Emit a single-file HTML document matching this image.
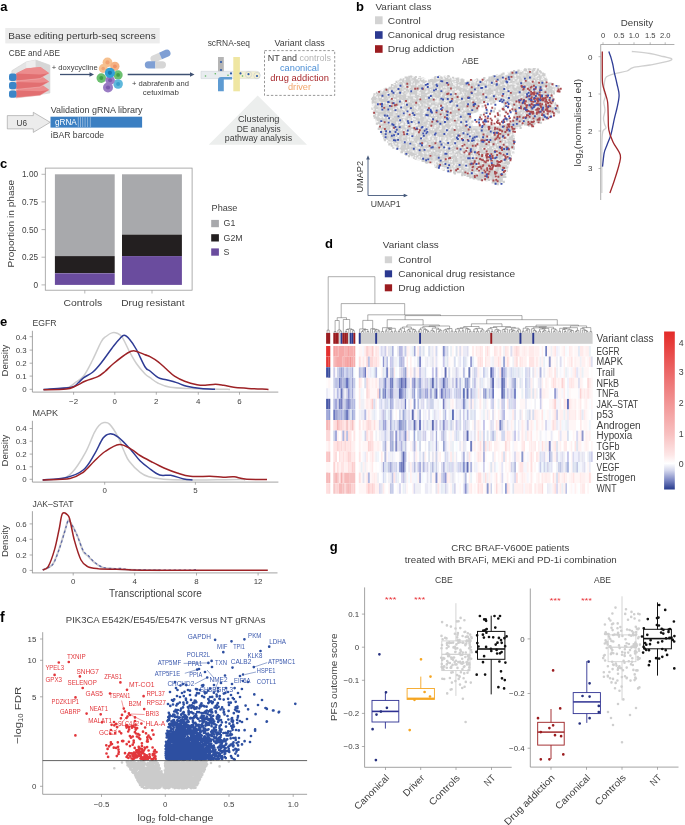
<!DOCTYPE html>
<html><head><meta charset="utf-8"><style>
html,body{margin:0;padding:0;background:#fff;width:685px;height:825px;overflow:hidden}
svg{display:block;will-change:transform}
text{font-family:"Liberation Sans",sans-serif;fill:#404040}
</style></head><body>
<svg width="685" height="825" viewBox="0 0 685 825">
<rect width="685" height="825" fill="#fff"/>
<text x="0.3" y="11" font-size="13" font-weight="bold" style="fill:#000">a</text>
<rect x="5.3" y="28" width="154.4" height="15.4" fill="#ececec"/>
<text x="8.2" y="39.2" font-size="9.8" textLength="147.5" lengthAdjust="spacingAndGlyphs" style="fill:#3a3a3a">Base editing perturb-seq screens</text>
<text x="8.8" y="55.8" font-size="8.2" textLength="51.2" lengthAdjust="spacingAndGlyphs">CBE and ABE</text>
<g>
<polygon points="11.9,70.7 26.2,61.9 35.7,60.1 49.9,65.2 49.9,93 16,98 11.9,92" fill="#e4e4e4" stroke="#cfcfcf" stroke-width="0.6"/>
<polygon points="26.2,61.9 35.7,60.1 35.7,90 26.2,92" fill="#eeeeee"/>
<polygon points="35.7,60.1 49.9,65.2 49.9,93 35.7,90" fill="#d6d6d6"/>
<polygon points="16,90.4 26,85.2 40.5,83.8 49.2,90.1 40,95.4 16,97.8" fill="#e26f71" stroke="#f3c9c9" stroke-width="0.4"/>
<polygon points="16,90.4 26,85.2 40.5,83.8 49.2,90.1 40,91.2" fill="#ec8c8d"/>
<rect x="9" y="90.4" width="7.4" height="7.3" rx="2.2" fill="#3b86c8"/>
<polygon points="16,82 26,76.8 40.5,75.4 49.2,81.7 40,87 16,89.4" fill="#e26f71" stroke="#f3c9c9" stroke-width="0.4"/>
<polygon points="16,82 26,76.8 40.5,75.4 49.2,81.7 40,82.8" fill="#ec8c8d"/>
<rect x="9" y="82" width="7.4" height="7.3" rx="2.2" fill="#3b86c8"/>
<polygon points="16,73.6 26,68.4 40.5,67 49.2,73.3 40,78.6 16,81" fill="#e26f71" stroke="#f3c9c9" stroke-width="0.4"/>
<polygon points="16,73.6 26,68.4 40.5,67 49.2,73.3 40,74.4" fill="#ec8c8d"/>
<rect x="9" y="73.6" width="7.4" height="7.3" rx="2.2" fill="#3b86c8"/>
</g>
<text x="51.8" y="70" font-size="7.6" textLength="46" lengthAdjust="spacingAndGlyphs">+ doxycycline</text>
<line x1="60" y1="74.5" x2="91" y2="74.5" stroke="#3f5173" stroke-width="1.3"/>
<polygon points="94,74.5 89.5,72.2 89.5,76.8" fill="#3f5173"/>
<circle cx="107.5" cy="62.4" r="4.9" fill="#f6c08f"/>
<circle cx="107.5" cy="62.4" r="2.1" fill="#f0a373"/>
<circle cx="114.9" cy="66.3" r="4.6" fill="#f5b283"/>
<circle cx="114.9" cy="66.3" r="1.9" fill="#ee9166"/>
<circle cx="103.2" cy="68.5" r="4.4" fill="#f6c08f"/>
<circle cx="103.2" cy="68.5" r="1.8" fill="#f0a373"/>
<circle cx="101.3" cy="78.1" r="4.8" fill="#6cc070"/>
<circle cx="101.3" cy="78.1" r="2" fill="#3fa048"/>
<circle cx="118.1" cy="74.9" r="4.6" fill="#6cc070"/>
<circle cx="118.1" cy="74.9" r="1.9" fill="#3fa048"/>
<circle cx="118.1" cy="84" r="4.8" fill="#5fb8dc"/>
<circle cx="118.1" cy="84" r="2" fill="#3a9fcc"/>
<circle cx="110.1" cy="80.3" r="4.7" fill="#9a7cc4"/>
<circle cx="110.1" cy="80.3" r="2" fill="#7c5aae"/>
<circle cx="108" cy="87.5" r="5" fill="#9a7cc4"/>
<circle cx="108" cy="87.5" r="2.1" fill="#7c5aae"/>
<circle cx="109.9" cy="72.8" r="5.1" fill="#32a0d6"/>
<circle cx="109.9" cy="72.8" r="2.1" fill="#1b78b0"/>
<g transform="rotate(-24 160.5 56)"><path d="M153.5 52.4h7v7.2h-7a3.6 3.6 0 0 1 0-7.2z" fill="#d9d9d9"/><path d="M160.5 52.4h7a3.6 3.6 0 0 1 0 7.2h-7z" fill="#7f9fd4"/></g>
<path d="M148.4 61.2h7v7.2h-7a3.6 3.6 0 0 1 0-7.2z" fill="#7f9fd4"/><path d="M155.4 61.2h7a3.6 3.6 0 0 1 0 7.2h-7z" fill="#d6d6d6"/>
<line x1="127.7" y1="74.5" x2="191" y2="74.5" stroke="#3f5173" stroke-width="1.3"/>
<polygon points="194.5,74.5 190,72.2 190,76.8" fill="#3f5173"/>
<text x="132" y="86.4" font-size="7.6" textLength="57" lengthAdjust="spacingAndGlyphs">+ dabrafenib and</text>
<text x="142.8" y="95.2" font-size="7.6" textLength="36" lengthAdjust="spacingAndGlyphs">cetuximab</text>
<text x="207.7" y="46" font-size="8.2" textLength="42.3" lengthAdjust="spacingAndGlyphs">scRNA-seq</text>
<rect x="218" y="57" width="5.8" height="15" fill="#b5b5b5"/>
<path d="M201 71.3h55.4a3.65 3.65 0 0 1 0 7.3H201z" fill="#e8ecef" stroke="#c9ced3" stroke-width="0.5"/>
<path d="M239.9 71.5h16.5a3.5 3.5 0 0 1 0 7h-16.5z" fill="#f4f0d2"/>
<rect x="233.3" y="57" width="6.6" height="34.3" fill="#efe6a2"/>
<path d="M218 91.3V80a3 3 0 0 1 3-3h11v2.6h-8.2V91.3z" fill="#5e9bd2"/>
<circle cx="205.5" cy="76" r="0.8" fill="#5bb55b"/>
<circle cx="215.3" cy="73.8" r="0.8" fill="#5bb55b"/>
<circle cx="228" cy="75.3" r="0.8" fill="#5bb55b"/>
<circle cx="242.5" cy="76" r="0.8" fill="#5bb55b"/>
<circle cx="221" cy="62" r="1.1" fill="#2e5aa8"/>
<circle cx="221" cy="70" r="1.1" fill="#2e5aa8"/>
<circle cx="231" cy="73.4" r="1.1" fill="#2e5aa8"/>
<circle cx="240.5" cy="73.4" r="1.1" fill="#2e5aa8"/>
<circle cx="248.5" cy="74.2" r="1.1" fill="#2e5aa8"/>
<circle cx="257" cy="76" r="1.1" fill="#2e5aa8"/>
<circle cx="248.5" cy="74.6" r="3.2" fill="none" stroke="#b8c3cf" stroke-width="0.5"/>
<circle cx="257" cy="75.6" r="3.2" fill="none" stroke="#b8c3cf" stroke-width="0.5"/>
<text x="274.6" y="45.7" font-size="8.2" textLength="50.2" lengthAdjust="spacingAndGlyphs">Variant class</text>
<rect x="264.5" y="50.6" width="70.2" height="44.8" fill="none" stroke="#6b6b6b" stroke-width="0.7" stroke-dasharray="2.4 1.8"/>
<text x="267.8" y="60.5" font-size="8.8" textLength="63.1" lengthAdjust="spacingAndGlyphs">NT and <tspan style="fill:#b3b3b3">controls</tspan></text>
<text x="280" y="70.7" font-size="8.8" textLength="39" lengthAdjust="spacingAndGlyphs" style="fill:#4b8fd6">canonical</text>
<text x="270.3" y="80.6" font-size="8.8" textLength="58.7" lengthAdjust="spacingAndGlyphs" style="fill:#a8282c">drug addiction</text>
<text x="288" y="90.3" font-size="8.8" textLength="23" lengthAdjust="spacingAndGlyphs" style="fill:#f2a66b">driver</text>
<polygon points="208.7,144.7 257.7,95.6 307,144.7" fill="#eceeed"/>
<text x="237.9" y="122" font-size="8.8" textLength="41.5" lengthAdjust="spacingAndGlyphs">Clustering</text>
<text x="236.7" y="131.7" font-size="8.8" textLength="44.1" lengthAdjust="spacingAndGlyphs">DE analysis</text>
<text x="224.8" y="141.3" font-size="8.8" textLength="67.4" lengthAdjust="spacingAndGlyphs">pathway analysis</text>
<polygon points="7.3,115.6 33.3,115.6 33.3,112.3 50.2,122.3 33.3,132.4 33.3,128.9 7.3,128.9" fill="#ececec" stroke="#9a9a9a" stroke-width="0.6"/>
<text x="16.6" y="125.8" font-size="8.9" textLength="10.5" lengthAdjust="spacingAndGlyphs">U6</text>
<text x="50.8" y="112.6" font-size="8.4" textLength="91.7" lengthAdjust="spacingAndGlyphs">Validation gRNA library</text>
<rect x="50.5" y="116.7" width="91.6" height="10.9" fill="#3b7fc2"/>
<text x="54.9" y="124.7" font-size="8.5" textLength="21.9" lengthAdjust="spacingAndGlyphs" style="fill:#ffffff">gRNA</text>
<line x1="78.3" y1="117.2" x2="78.3" y2="127.1" stroke="#dfe9f5" stroke-width="0.5"/>
<line x1="80.5" y1="117.2" x2="80.5" y2="127.1" stroke="#dfe9f5" stroke-width="0.5"/>
<line x1="82.7" y1="117.2" x2="82.7" y2="127.1" stroke="#dfe9f5" stroke-width="0.5"/>
<line x1="85.1" y1="117.2" x2="85.1" y2="127.1" stroke="#dfe9f5" stroke-width="0.5"/>
<line x1="87.6" y1="117.2" x2="87.6" y2="127.1" stroke="#dfe9f5" stroke-width="0.5"/>
<line x1="90.3" y1="117.2" x2="90.3" y2="127.1" stroke="#dfe9f5" stroke-width="0.5"/>
<text x="50.8" y="137.8" font-size="8.4" textLength="53.3" lengthAdjust="spacingAndGlyphs">iBAR barcode</text>
<text x="356" y="10.5" font-size="13" font-weight="bold" style="fill:#000">b</text>
<text x="375.5" y="10.2" font-size="9.8" textLength="56" lengthAdjust="spacingAndGlyphs">Variant class</text>
<rect x="375" y="16.3" width="7.6" height="7.9" fill="#d3d3d3"/>
<text x="387.8" y="23.6" font-size="9.8" textLength="33" lengthAdjust="spacingAndGlyphs">Control</text>
<rect x="375" y="31.2" width="7.6" height="7.6" fill="#2b3990"/>
<text x="387.8" y="38.1" font-size="9.8" textLength="117.2" lengthAdjust="spacingAndGlyphs">Canonical drug resistance</text>
<rect x="375" y="45.2" width="7.6" height="7.6" fill="#9b1c20"/>
<text x="387.8" y="52" font-size="9.8" textLength="66.5" lengthAdjust="spacingAndGlyphs">Drug addiction</text>
<text x="462.2" y="63.6" font-size="8.5" textLength="16.5" lengthAdjust="spacingAndGlyphs">ABE</text>
<polygon points="374.4,97.7 374.4,111 379.8,126.5 386.1,138.9 395.2,146.5 404.5,152.7 413.9,155.9 414,155.9 426.8,160.7 426.9,160.8 438.1,165.6 450.8,170.3 461.9,173.5 476.6,176.7 476.6,176.7 489.4,179.9 489.6,179.9 498.5,183 501.7,181.9 504.5,175 506,164.1 506.1,163.9 506.1,163.7 506.2,163.5 506.3,163.3 510.9,155.7 512.4,143.2 514,130.4 514.1,130.2 514.1,130 514.2,129.8 514.3,129.6 514.4,129.4 514.5,129.2 514.7,129.1 514.9,128.9 515.1,128.8 523.1,123.9 523.2,123.8 523.5,123.7 523.7,123.7 523.9,123.6 524.1,123.6 524.3,123.6 524.6,123.6 533.4,125.1 542.3,119.2 542.5,119 552,114.3 558.1,110.7 552.9,103 552.8,102.8 552.7,102.6 552.6,102.4 552.5,102.2 550.9,94.1 550.9,93.9 550.9,93.7 550.9,93.5 550.9,93.3 551,93.1 551.1,92.9 551.1,92.7 551.3,92.5 551.4,92.3 551.5,92.2 551.7,92 551.8,91.9 552,91.8 552.2,91.7 552.4,91.6 559.9,89.1 557.2,87.7 547.6,84.6 547.4,84.5 547.2,84.4 547,84.3 546.9,84.2 546.7,84 546.6,83.9 546.5,83.7 546.3,83.5 546.3,83.3 543.3,75.9 536.4,71 524.4,71 513.5,73.4 513.4,73.4 505.5,74.9 492.6,78.2 492.6,78.2 479.8,81.4 479.6,81.5 479.5,81.5 468,82.3 467.7,82.3 467.4,82.3 457.7,80.7 457.6,80.6 448.2,78.3 437.8,78.3 430.1,81.6 429.9,81.7 429.7,81.8 429.4,81.8 429.2,81.8 429,81.8 428.8,81.8 428.6,81.7 420.8,79.4 410.2,78.3 402.7,80.6 395,84.4 387.2,89.9 387,90 386.7,90.1 377.5,93.9 374.4,97.7" fill="#dedede"/>
<polygon points="478.9,104.8 478,114.7 484.6,124.1 497.9,126 511.2,122.2 514.9,112.1 509.4,102.9 495.1,101 478.9,104.8" fill="#ffffff"/>
<polygon points="469.3,114.7 472.7,126 482.2,126 483.9,118.3 477.7,112.1 469.3,114.7" fill="#ffffff"/>
<path d="M433.3 86.4h2.2M496.2 77.2h2.2M474.1 111.4h2.2M382.2 127.9h2.2M378.3 119.3h2.2M452.7 165.1h2.2M394.9 94.8h2.2M491.7 179.2h2.2M426.8 85.6h2.2M393.7 104.7h2.2M528 89.9h2.2M482.9 143.2h2.2M442.7 132.6h2.2M410.7 148.1h2.2M453.3 105.4h2.2M418 135.7h2.2M472 170.8h2.2M511.3 102.3h2.2M451.5 157h2.2M400.3 125.8h2.2M539.4 105.4h2.2M504.7 138h2.2M498.8 75.9h2.2M505.9 144.2h2.2M425.8 113.7h2.2M459.8 88.4h2.2M518.8 83.9h2.2M418.7 114.3h2.2M538.6 78.2h2.2M457.4 132.8h2.2M537.2 101.2h2.2M450.9 110.6h2.2M400.1 89.3h2.2M415.7 96h2.2M464.3 137.4h2.2M451.6 111.8h2.2M480 179.8h2.2M503.8 128.9h2.2M489.8 147.6h2.2M524.5 114.5h2.2M447.8 80.9h2.2M493 76.1h2.2M384 93.1h2.2M402.3 108.4h2.2M400.2 80.6h2.2M399.7 98.2h2.2M437.9 111.2h2.2M390.7 108.7h2.2M399.3 132.1h2.2M504.9 99.2h2.2M441.6 88.3h2.2M520.8 107.2h2.2M513.3 95.2h2.2M470.6 110.2h2.2M424.8 99h2.2M441.2 94.5h2.2M414.7 91.7h2.2M410.4 141.5h2.2M463.3 144.9h2.2M524.8 78.7h2.2M498.1 174.8h2.2M463 89.6h2.2M522.8 107.5h2.2M447.2 115.6h2.2M403.8 83.6h2.2M526.1 85.8h2.2M472.3 177.6h2.2M454.5 170.4h2.2M529.9 93.4h2.2M419.5 102.9h2.2M417.3 137.1h2.2M420.9 117.6h2.2M439.1 122.2h2.2M483.2 174.2h2.2M467.5 130.8h2.2M455.7 90.1h2.2M404.2 124h2.2M510.5 133.6h2.2M433.8 129.2h2.2M477.9 160.2h2.2M391.5 134.1h2.2M418.9 101.1h2.2M519.5 127.9h2.2M479.1 157.3h2.2M488.8 127.7h2.2M469.5 149.5h2.2M458 130.9h2.2M505.5 170.9h2.2M552.2 99h2.2M478.6 178.7h2.2M532.5 84.8h2.2M394.5 120.3h2.2M385 96.8h2.2M400.8 152.2h2.2M498 85.5h2.2M447.6 125.6h2.2M402.1 119.1h2.2M470.2 108.3h2.2M408.7 105.9h2.2M477.6 120.1h2.2M434.8 141.5h2.2M520.8 100.3h2.2M396 118h2.2M420.8 86.2h2.2M505.7 79.2h2.2M525.2 78.6h2.2M535.7 76.6h2.2M536.9 121.7h2.2M436.3 133.2h2.2M549.2 100h2.2M395.9 130.2h2.2M416.9 81.6h2.2M409.9 105.1h2.2M429.7 157.3h2.2M426.8 127.1h2.2M405.3 109.2h2.2M374.6 98h2.2M477 90.9h2.2M454.2 126.5h2.2M531.5 114.6h2.2M468.5 148.9h2.2M420.2 87.8h2.2M425.3 97h2.2M427.4 122.3h2.2M401.4 120.7h2.2M430.6 110.3h2.2M462.3 127.4h2.2M409.7 127.6h2.2M372.1 99.6h2.2M388.4 115.3h2.2M429.6 95.9h2.2M483.6 130.5h2.2M446 106.8h2.2M510.3 143.7h2.2M397.9 129.8h2.2M468 166.1h2.2M483.4 172.8h2.2M502.4 149.6h2.2M396.7 110.8h2.2M478.4 141.9h2.2M491.5 148.1h2.2M467.8 131.2h2.2M497.8 76.5h2.2M512.7 98.2h2.2M385.4 99.7h2.2M511.3 92.7h2.2M466 113.4h2.2M463.2 148.5h2.2M494.6 77.8h2.2M399.4 98.4h2.2M513.9 104.3h2.2M382.8 100.1h2.2M500.3 149.4h2.2M460.4 123.1h2.2M459.3 164.3h2.2M422.7 93.2h2.2M552.8 93.3h2.2M482.9 85.3h2.2M468.9 172.1h2.2M506.3 95.8h2.2M465.6 121.3h2.2M429.1 85.2h2.2M437.2 105.6h2.2M532.6 69h2.2M426.8 112.2h2.2M419 99.8h2.2M469.3 90.9h2.2M492.4 175.2h2.2M509.4 74.6h2.2M511.9 121.3h2.2M549.2 83.6h2.2M461.9 108.8h2.2M428.3 154.9h2.2M446.9 88.3h2.2M402.2 93h2.2M397.9 91.2h2.2M388.5 108.6h2.2M388.6 96.7h2.2M420.8 135.2h2.2M450.4 117h2.2M383 101.1h2.2M467.9 142.2h2.2M536.9 94h2.2M423.2 97.7h2.2M447.9 120.7h2.2M538.9 71.3h2.2M392.1 86.8h2.2M471.5 148.3h2.2M495.5 157.9h2.2M459 133h2.2M419.5 142.9h2.2M505.4 81.9h2.2M384.6 129.9h2.2M429.1 122.5h2.2M416.2 97.6h2.2M466.9 147.4h2.2M451.8 98.8h2.2M499.4 176.6h2.2M436.1 117.8h2.2M502.3 91.9h2.2M468.1 92.7h2.2M528.7 95.7h2.2M413.7 157.4h2.2M466.4 90.6h2.2M414 117.4h2.2M499 179.3h2.2M399.2 114.6h2.2M382.7 114.6h2.2M550.2 107.2h2.2M514.5 72.5h2.2M434.9 88.5h2.2M371.7 101.4h2.2M411 110.3h2.2M462.1 112.2h2.2M547.8 91.3h2.2M376.9 116.7h2.2M420.5 155.9h2.2M543.8 108.3h2.2M489.7 99.3h2.2M416 124.2h2.2M445.4 98h2.2M453.7 126.3h2.2M549.5 90.1h2.2M440.6 159.9h2.2M386.3 91.8h2.2M515.8 97.6h2.2M422 78.6h2.2M389.6 126.9h2.2M451.2 141.1h2.2M500.7 155.9h2.2M427.6 134.8h2.2M442.8 154.8h2.2M409.4 97.6h2.2M418.3 86.7h2.2M433.8 114.9h2.2M496.7 184.2h2.2M390.8 124.1h2.2M427.5 82.7h2.2M483.2 177.2h2.2M442.6 169.7h2.2M457.4 99.1h2.2M391.4 138.3h2.2M490.3 94.2h2.2M442 85.3h2.2M410.3 98.5h2.2M486.3 144.7h2.2M434 147.8h2.2M406.7 105.2h2.2M390.6 114.9h2.2M476.8 143.3h2.2M388.6 87.9h2.2M431.1 134.8h2.2M439.8 117.3h2.2M441 91.8h2.2M511 92.5h2.2M452.5 164.4h2.2M449.2 171.7h2.2M459.7 87.7h2.2M494.2 174.8h2.2M388.2 141.3h2.2M442.4 127.6h2.2M399.1 101.8h2.2M471.3 176.6h2.2M392 125.9h2.2M409 83.6h2.2M549.1 114h2.2M529.6 87.5h2.2M522.1 94.7h2.2M448.8 167.4h2.2M530.5 90.1h2.2M413 115.4h2.2M418.6 153.2h2.2M479.2 157h2.2M393.7 138.6h2.2M476.8 141.9h2.2M430 117.7h2.2M457 119.9h2.2M465.2 96.2h2.2M459.2 89.7h2.2M462.1 81.3h2.2M395.8 119h2.2M388.7 120.3h2.2M493.4 78.4h2.2M468 112.8h2.2M547.2 88h2.2M383.7 109.7h2.2M516.4 87.3h2.2M543.4 100.8h2.2M527.9 85.5h2.2M467.6 176h2.2M411.1 99.4h2.2M468.4 106h2.2M501.7 173.1h2.2M393.2 130.6h2.2M477.8 136.4h2.2M540.7 81h2.2M446.9 161.7h2.2M456.1 89.4h2.2M514 74.4h2.2M528.7 98.4h2.2M494 183.4h2.2M483.7 146.1h2.2M543.2 84.2h2.2M414.8 144.9h2.2M439.3 81.2h2.2M439.7 94.9h2.2M483.3 137.4h2.2M410.3 141.5h2.2M462.4 84.5h2.2M551.1 97.2h2.2M399.8 80h2.2M493.8 170.3h2.2M521.4 115.6h2.2M495.1 134.3h2.2M438.4 144h2.2M512.1 97.7h2.2M551.9 85.4h2.2M409.4 139.6h2.2M468.5 143.5h2.2M527.4 89.1h2.2M430.6 103.8h2.2M514.3 123h2.2M513.7 121.5h2.2M414.5 81.1h2.2M435.6 156.1h2.2M504.7 167.3h2.2M507.9 99.8h2.2M471.7 99.7h2.2M494.5 181.2h2.2M374 99.1h2.2M416.5 155.5h2.2M434.2 96.7h2.2M504.3 146.3h2.2M535.9 119.7h2.2M510.4 135.2h2.2M430.2 93.5h2.2M490.8 77.9h2.2M546.2 85.6h2.2M549.6 109h2.2M492.9 150h2.2M512.7 76.5h2.2M391.7 92.8h2.2M493 164.9h2.2M492.5 102.3h2.2M410.5 106h2.2M420.4 101.7h2.2M377.1 116.9h2.2M455 158.9h2.2M437.8 150.9h2.2M474.5 94h2.2M536.8 79.4h2.2M528.7 88.6h2.2M465.6 161.6h2.2M406.6 126.4h2.2M437.8 165.7h2.2M425.6 93.8h2.2M505.5 126.9h2.2M392.2 143h2.2M505.1 160.5h2.2M375.9 92.8h2.2M467.4 113h2.2M541 96h2.2M459.7 130.7h2.2M498.4 155.2h2.2M403.7 119.9h2.2M395.3 122.6h2.2M541.2 96.5h2.2M407.9 103.9h2.2M506.2 167.1h2.2M400.8 87h2.2M418.7 106.8h2.2M471.5 87.5h2.2M434.2 90.9h2.2M390.6 113.6h2.2M493.7 81.3h2.2M410.8 114h2.2M377.6 115.3h2.2M467.3 142.5h2.2M460.1 85.3h2.2M545.6 118.9h2.2M481.4 156.1h2.2M452 95.4h2.2M491.9 80.2h2.2M451.7 159.9h2.2M508.2 142.2h2.2M419.2 118.1h2.2M458.6 141.2h2.2M449.8 147.5h2.2M549.9 90.1h2.2M496.9 159.5h2.2M445.8 125.9h2.2M475.5 87.5h2.2M470.9 80.6h2.2M481.5 131.8h2.2M509 128.5h2.2M494 165.4h2.2M411.5 148.5h2.2M446.5 157.7h2.2M423.8 115.4h2.2M373.7 117.6h2.2M451.9 150.1h2.2M438.8 99.7h2.2M414.2 155.2h2.2M446.4 93.5h2.2M461.3 134.3h2.2M439 143.2h2.2M461.1 103.1h2.2M476.5 83.4h2.2M531.3 110.1h2.2M534.6 100h2.2M443.4 98.3h2.2M453 90.5h2.2M425.1 97.3h2.2M429.1 124.7h2.2M453.5 143h2.2M535.3 75.4h2.2M521.8 85.2h2.2M419.2 80.6h2.2M398.5 96h2.2M520.3 109.2h2.2M523.3 88.4h2.2M532.3 91.8h2.2M504.3 130.6h2.2M513.7 119.9h2.2M421.9 96.1h2.2M397.9 126.2h2.2M382.3 123.2h2.2M398.9 126h2.2M466.8 131.7h2.2M536.9 69.6h2.2M532.7 123.3h2.2M479.2 146.3h2.2M532.7 112.5h2.2M488.3 148.3h2.2M550.1 107.3h2.2M464.3 173.4h2.2M441.5 124.1h2.2M472.1 158.6h2.2M411.6 119.5h2.2M452.3 133.3h2.2M530 102.9h2.2M530.2 115.8h2.2M467.9 100.5h2.2M496.9 161.1h2.2M434.7 105.7h2.2M428.6 137.1h2.2M493.1 160.2h2.2M380.7 103.8h2.2M497.6 160.7h2.2M489.6 141.8h2.2M504.9 138.3h2.2M502 93.6h2.2M390.6 89.9h2.2M442 164.6h2.2M420.7 104h2.2M452.2 105.9h2.2M453.9 143.6h2.2M481.7 175.8h2.2M445.5 137.8h2.2M462.5 116.8h2.2M390.7 143.9h2.2M411.9 86.5h2.2M502.5 83h2.2M538.2 83.8h2.2M417.7 154.3h2.2M387.3 142h2.2M528.2 78.1h2.2M430.9 153.8h2.2M441.7 135.8h2.2M455.4 147.7h2.2M440.9 143.9h2.2M530.1 107.5h2.2M430.4 118.7h2.2M541.8 112.7h2.2M502.7 138.9h2.2M421.7 118h2.2M483.9 163.9h2.2M541.7 73.7h2.2M546.7 109.2h2.2M387.4 133.3h2.2M524.4 92.2h2.2M416.1 139.5h2.2M420.1 156.3h2.2M523.3 122.4h2.2M519.5 95.9h2.2M482.5 173.3h2.2M462.7 137.5h2.2M407.5 91.2h2.2M405.8 150.5h2.2M440.8 134.6h2.2M448.5 129.1h2.2M391.5 142.5h2.2M522.4 87h2.2M464.6 134.9h2.2M421.4 159.6h2.2M378.4 92.2h2.2M405.8 78.5h2.2M380.9 133.7h2.2M538.4 122.2h2.2M383.4 138.5h2.2M447.5 82.8h2.2M479.6 143.4h2.2M446.7 121h2.2M378.5 98.6h2.2M507.5 144.1h2.2M428.5 137.7h2.2M516.8 81.1h2.2M433.4 98.7h2.2M395 124.9h2.2M403.5 96.6h2.2M398.6 147.7h2.2M549.4 94.5h2.2M541.9 85.1h2.2M457.1 80.1h2.2M529.3 124.4h2.2M491.8 85.4h2.2M508.3 133.3h2.2M422.3 116.8h2.2M401 100.4h2.2M532.5 107.8h2.2M403.4 126h2.2M499.5 93.4h2.2M462.9 102.1h2.2M420.6 92.3h2.2M389.9 102.5h2.2M543.3 75.5h2.2M510.7 103h2.2M526.2 108.5h2.2M406.8 119.5h2.2M546.4 94.2h2.2M480.9 84.9h2.2M507.9 91.7h2.2M488.1 126.5h2.2M423.7 92.8h2.2M488.8 151.3h2.2M410 76.5h2.2M435.5 166.9h2.2M462.7 170.4h2.2M422.3 90.5h2.2M530.9 111.6h2.2M402.5 112h2.2M432.8 151.7h2.2M444.4 156.3h2.2M469.8 130.6h2.2M406.2 80.8h2.2M505.4 91.5h2.2M481.9 129.7h2.2M506.1 80.8h2.2M466 127.1h2.2M424.8 83h2.2M449.1 84.8h2.2M484.8 169.1h2.2M399.4 135.5h2.2M514.6 87.9h2.2M445.8 117.8h2.2M520.4 108.2h2.2M417.3 107.8h2.2M381.4 129.1h2.2M419 118h2.2M384.4 119.2h2.2M492.8 163.1h2.2M422.2 147.8h2.2M423.7 132h2.2M419.3 129.4h2.2M426.4 104.4h2.2M495.6 82.8h2.2M485.3 180.2h2.2M469.8 100.1h2.2M460.7 131h2.2M399.6 83.2h2.2M396.3 103h2.2M449.2 102.4h2.2M417.9 79h2.2M476.1 166.6h2.2M488.3 135.2h2.2M496.1 92.2h2.2M417.7 94.6h2.2M373.4 109.9h2.2M536.8 96.6h2.2M519.5 87.3h2.2M445.7 120h2.2M512.4 81.5h2.2M513.1 86.8h2.2M435.9 109.9h2.2M500.9 140.6h2.2M470.6 154.9h2.2M462.4 160.2h2.2M483.7 126.8h2.2M451.4 160.1h2.2M444.1 121.5h2.2M459.1 153h2.2M427.4 114.3h2.2M467.1 120.5h2.2M406.5 104.2h2.2M399 135.8h2.2M482.9 79h2.2M548 106.5h2.2M470.5 148.6h2.2M446 110.5h2.2M501.1 130h2.2M390.1 112.4h2.2M448.2 134.2h2.2M481.4 171.3h2.2M455.7 141.6h2.2M473 163.9h2.2M403.9 105.9h2.2M469.6 81.7h2.2M541.8 117.8h2.2M401.2 102.6h2.2M469.4 127.6h2.2M407.3 90.1h2.2M492.2 139.1h2.2M450.2 160.6h2.2M430.1 149.3h2.2M371.9 104.3h2.2M499.5 91.7h2.2M466.8 133.3h2.2M422.2 144.2h2.2M403.9 129.7h2.2M526.1 76h2.2M433.1 152.2h2.2M439.1 88.5h2.2M422.3 80.4h2.2M438.2 121.2h2.2M490.3 97.8h2.2M535.4 105.5h2.2M429.5 139h2.2M446 152.5h2.2M413.7 104.8h2.2M523.5 97.2h2.2M404.4 110.6h2.2M427 134.2h2.2M393.2 131h2.2M445.2 115.8h2.2M529.8 109.7h2.2M418.2 91.1h2.2M425.6 96.4h2.2M436.7 87h2.2M506.8 79.6h2.2M395.7 120.4h2.2M401.7 109.9h2.2M468.1 95.3h2.2M458.1 84.1h2.2M506.9 99.2h2.2M441.8 97.5h2.2M488 93.6h2.2M538.8 83.1h2.2M469.7 132h2.2M423.1 158.7h2.2M445.1 145.4h2.2M387.6 89.4h2.2M534.7 106.2h2.2M498.5 81.5h2.2M430.9 95.2h2.2M425.4 115.8h2.2M396.5 101h2.2M497.8 150.3h2.2M438.8 142.1h2.2M406 82.2h2.2M508.1 73.5h2.2M409.2 104.1h2.2M430.9 143.2h2.2M480.7 152.3h2.2M420.1 119.5h2.2M502.6 109.5h2.2M380.2 97.3h2.2M515.2 78.8h2.2M530.4 101.6h2.2M504 154.8h2.2M549.5 83.7h2.2M517.5 73.9h2.2M506.2 162.7h2.2M421.3 132.5h2.2M475.6 97.9h2.2M382.5 110.5h2.2M450.2 92.3h2.2M430.8 84.7h2.2M507 146.9h2.2M416.8 97h2.2M438.7 103.7h2.2M541.1 85.3h2.2M476.5 157.4h2.2M403.6 146.5h2.2M530.9 82.1h2.2M426.7 110.8h2.2M425.1 91.8h2.2M506 121h2.2M433.5 123.4h2.2M440.9 88.4h2.2M392 125.8h2.2M454.6 90.9h2.2M491.8 177.8h2.2M496.5 98.1h2.2M418.4 85h2.2M532.5 103.3h2.2M406.8 143.1h2.2M433.9 90.3h2.2M529.7 106.1h2.2M441.9 133h2.2M442.1 165.7h2.2M480.1 142h2.2M466.1 127h2.2M401.4 103.7h2.2M503.3 87.9h2.2M455.6 91h2.2M522.3 118.4h2.2M425.5 145.9h2.2M455.4 146.4h2.2M402.7 103.3h2.2M456.3 134.4h2.2M438 91.6h2.2M387.4 106.5h2.2M490.2 163.3h2.2M407.4 147.9h2.2M457.1 78.7h2.2M451.1 130.5h2.2M479.7 115h2.2M476.4 81.9h2.2M536.8 98.3h2.2M389.4 130.6h2.2M419.4 125.8h2.2M477.6 95.2h2.2M481.2 82h2.2M469.7 137.4h2.2M386.5 116.3h2.2M385.2 120h2.2M508.4 157h2.2M509.8 80.7h2.2M530.7 114.5h2.2M479.3 159.1h2.2M382.2 96.4h2.2M485.3 93.6h2.2M428.7 151.2h2.2M453 172.3h2.2M490.5 170.4h2.2M479.3 175.7h2.2M538.5 88.4h2.2M514.4 108.6h2.2M529.8 83.1h2.2M442.8 154.7h2.2M390.3 132.7h2.2M525.4 82h2.2M420 91.3h2.2M457 166.4h2.2M482.8 82h2.2M525 90.4h2.2M477.6 102.6h2.2M503.6 163h2.2M436.9 86.4h2.2M467.5 170.5h2.2M524.9 72.9h2.2M446.7 170.5h2.2M488.5 77.6h2.2M434.4 94h2.2M440.5 123.3h2.2M500.1 100.6h2.2M423.6 127.1h2.2M421.5 135.1h2.2M478.9 158.6h2.2M492.8 142.7h2.2M440.9 101.6h2.2M429.5 157.7h2.2M513.2 128.1h2.2M435.9 106.5h2.2M441.7 97.2h2.2M416.2 109.5h2.2M538.5 121.6h2.2M456.7 135.1h2.2M429.2 88.5h2.2M383.8 103.9h2.2M430.4 153.5h2.2M477.1 178h2.2M483.2 78.1h2.2M405.5 136.4h2.2M519.9 118.7h2.2M538 76.7h2.2M464.2 173.5h2.2M424.1 98.8h2.2M422.6 150.9h2.2M413.1 115.4h2.2M409.6 139h2.2M408.9 154.3h2.2M539.4 108.5h2.2M397.4 90.7h2.2M474.3 170.8h2.2M494.1 176.3h2.2M411.9 106.9h2.2M449 147.9h2.2M486 98.7h2.2M489.1 153.2h2.2M434.4 79.7h2.2M401.1 85.4h2.2M518.6 79.3h2.2M527.6 118.1h2.2M474.6 137.4h2.2M477.8 145.4h2.2M420.7 151.7h2.2M430.5 158.8h2.2M424.6 129.8h2.2M551.9 84.2h2.2M497.1 159h2.2M415 156.9h2.2M467.6 133.5h2.2M441.4 86.2h2.2M405.2 154.7h2.2M548.2 87.7h2.2M467 142.9h2.2M437.3 162.1h2.2M459.5 106.5h2.2M544.8 81.4h2.2M512.1 76.4h2.2M382.6 134.5h2.2M414.2 98.1h2.2M421.5 119.3h2.2M415.6 92.5h2.2M412.7 135.1h2.2M538.2 99.9h2.2M425.4 107.4h2.2M464.4 172.6h2.2M402.2 148.3h2.2M540.8 93.2h2.2M540.9 110.8h2.2M546.3 86.4h2.2M512.6 80.2h2.2M403.5 148.3h2.2M388.4 108.4h2.2M377.4 96.1h2.2M378.4 127.6h2.2M415.6 119h2.2M540 82.8h2.2M464.8 84.6h2.2M453.5 89.7h2.2M502.8 86h2.2M513 127.1h2.2M392.7 110h2.2M466.5 175.8h2.2M438.3 93.9h2.2M511.7 100.6h2.2M405.2 99.6h2.2M503.4 144.9h2.2M475.7 132.7h2.2M447.8 105.9h2.2M445.5 113.7h2.2M449.9 85.5h2.2M487.9 176.7h2.2M420 140h2.2M443.6 96.8h2.2M409.2 82.3h2.2M476.6 105.6h2.2M469.1 137.8h2.2M492.1 155.4h2.2M443.9 151.8h2.2M446.7 130.1h2.2M488.9 147.7h2.2M433 142.1h2.2M475.5 94.8h2.2M488.8 99.7h2.2M509.8 129.6h2.2M462.7 94.6h2.2M472.7 129.8h2.2M472.5 163.6h2.2M417 88.9h2.2M529.1 122.4h2.2M494.2 165.2h2.2M379.4 113.2h2.2M394.7 86.7h2.2M419.4 80.8h2.2M439.6 162.4h2.2M471.3 121.6h2.2M399.9 148h2.2M441.6 129.5h2.2M416.8 112h2.2M436.5 113.2h2.2M405.4 152.5h2.2M423.9 106.5h2.2M388.7 142.9h2.2M536.2 92.3h2.2M452.4 161.1h2.2M489.9 112.1h2.2M456.2 111.6h2.2M495.7 163.3h2.2M438.8 113.7h2.2M482.3 176.5h2.2M434.4 77h2.2M516.4 113h2.2M516.6 71.8h2.2M532.5 117.1h2.2M462.1 172.5h2.2M455.6 126h2.2M469.5 164.9h2.2M499.9 155.1h2.2M501.8 133.3h2.2M393.8 94.5h2.2M507.8 125h2.2M451.4 136.8h2.2M538.7 85.8h2.2M435.4 129.2h2.2M423.9 99.4h2.2M431.3 98.5h2.2M469.3 117.8h2.2M420.5 92.3h2.2M381.1 131.3h2.2M442.9 122.9h2.2M465.1 136.8h2.2M441.4 162.2h2.2M431.5 130.9h2.2M449.7 134.6h2.2M433.3 100.7h2.2M524.1 102.8h2.2M507.7 162.3h2.2M456.6 171.1h2.2M382.2 119.3h2.2M536.9 77.2h2.2M485.7 89.8h2.2M500.6 147.4h2.2M427.8 93.4h2.2M532.2 85.8h2.2M547.5 92.9h2.2M450.8 145.6h2.2M502.9 86.8h2.2M427.5 95.9h2.2M377.4 113.1h2.2M494.3 94.8h2.2M476 79.7h2.2M460.4 153.6h2.2M453.7 147.9h2.2M472.3 102.7h2.2M438 156.2h2.2M389 125.3h2.2M398 100.4h2.2M557 108.9h2.2M380.7 107.6h2.2M457.5 97.6h2.2M513.8 89.6h2.2M522.5 103.5h2.2M384.4 133.9h2.2M389.5 133.1h2.2M469.8 80.1h2.2M495.4 84.2h2.2M498.6 87.9h2.2M434.8 166.9h2.2M399.7 79.8h2.2M540.1 82.4h2.2M466.5 131.2h2.2M393.7 123.3h2.2M402.6 131.2h2.2M468.5 111.5h2.2M409.1 115.8h2.2M410.2 83.6h2.2M467.5 172.6h2.2M465 161h2.2M480.7 149.1h2.2M415.2 156.2h2.2M400.6 99.6h2.2M377 114.6h2.2M470.7 102.8h2.2M542.3 78.6h2.2M482.3 96.1h2.2M485.5 160.1h2.2M507.7 76h2.2M418.3 138.6h2.2M489.9 149.4h2.2M527.7 108.7h2.2M526.9 122.6h2.2M449.3 79.1h2.2M418.2 154.3h2.2M501.6 86.4h2.2M437.3 85.2h2.2M409.2 94.4h2.2M463.3 126.7h2.2M409.4 141.6h2.2M438.2 87.7h2.2M514.4 84.5h2.2M522.5 98.2h2.2M532.2 95.8h2.2M409.2 122.1h2.2M416.6 126.2h2.2M449.2 78.9h2.2M496.5 166.2h2.2M436.4 138.1h2.2M527.2 117.6h2.2M412.2 110h2.2M423.2 150.5h2.2M456.1 145.8h2.2M526.2 82.9h2.2M502.4 73.6h2.2M529.3 90.2h2.2M440.7 94.9h2.2M542.9 114.7h2.2M402.3 130.2h2.2M526.7 98h2.2M438.8 80.6h2.2M477.3 169.3h2.2M469.9 112.7h2.2M499.2 77.6h2.2M440.6 145.8h2.2M501.1 174.5h2.2M466.8 111.2h2.2M515.2 72.9h2.2M433.6 84.8h2.2M398.9 137.2h2.2M446.5 155.9h2.2M427.1 132.2h2.2M495.8 162.6h2.2M507.5 149.3h2.2M424.4 87.7h2.2M481.6 165h2.2M523.6 109.3h2.2M398 128.9h2.2M539.7 87.7h2.2M513 88.7h2.2M428.3 113.4h2.2M407.1 104.8h2.2M552.5 91.8h2.2M432.8 119.9h2.2M391.9 99.1h2.2M446.8 113.7h2.2M457.6 166.3h2.2M493.6 159.5h2.2M431.6 86.5h2.2M516.6 123.6h2.2M478.5 146.9h2.2M515.8 100.9h2.2M472.8 102.4h2.2M492.2 99.1h2.2M519.4 73.6h2.2M422.1 97.2h2.2M384.5 132.7h2.2M450.4 162.9h2.2M392.5 104.6h2.2M495 181.5h2.2M492.9 149.4h2.2M520 114.8h2.2M436.8 114.5h2.2M526 109.5h2.2M473.3 129.5h2.2M499.8 173.8h2.2M396.8 108.3h2.2M383.8 116.9h2.2M467.6 168.1h2.2M499.5 136.1h2.2M448.7 135.6h2.2M400.2 147h2.2M516 127.1h2.2M495.8 171.2h2.2M506.4 140.1h2.2M487.1 164.8h2.2M423.6 93.6h2.2M414.1 79.7h2.2M501 182.4h2.2M525.3 110.7h2.2M505.5 77.2h2.2M532.3 106.7h2.2M397.8 100.8h2.2M382.5 120.7h2.2M477.8 162.9h2.2M392.3 95h2.2M480.4 94.2h2.2M523.6 93.1h2.2M520.6 72.1h2.2M468.1 118.2h2.2M510.4 136.9h2.2M448 128.5h2.2M484.3 95.2h2.2M384.8 124.5h2.2M396.8 121.7h2.2M502.3 151.3h2.2M458.5 108.6h2.2M407.6 115.7h2.2M425.4 91.4h2.2M512.6 128.9h2.2M455.4 91.8h2.2M506.4 91.7h2.2M422.1 134.1h2.2M509.4 76.1h2.2M492.2 99.5h2.2M439.4 87.9h2.2M404.8 110.2h2.2M458.6 80.7h2.2M391.6 86.7h2.2M520.5 123.7h2.2M523.9 124.3h2.2M529.1 83.7h2.2M392 134.4h2.2M468.7 93.2h2.2M455 154.1h2.2M444.9 163.4h2.2M532.8 84.4h2.2M483.6 112.9h2.2M384.7 106.5h2.2M491.1 171.9h2.2M464.2 143.3h2.2M410.6 97.2h2.2M545.2 113.4h2.2M391.1 137.7h2.2M395.4 92.1h2.2M458.8 137h2.2M493.4 151.2h2.2M510.3 75.1h2.2M461.6 115.4h2.2M500.4 152h2.2M417.2 144.5h2.2M383.2 96.6h2.2M446.5 160.6h2.2M513.6 73.3h2.2M525.4 73.2h2.2M380.5 96.8h2.2M550 94.4h2.2M500.2 177.2h2.2M493.8 175.9h2.2M421.6 86.7h2.2M507.6 90.6h2.2M526.2 87.8h2.2M469.5 81.1h2.2M490.2 138.1h2.2M524.8 77.8h2.2M381.5 132.3h2.2M427 115h2.2M527.1 122.2h2.2M394.6 144.5h2.2M410.9 118.8h2.2M476.1 109.9h2.2M390.6 111.6h2.2M429.3 157.6h2.2M399.5 139.4h2.2M486.2 129.4h2.2M458.7 116.3h2.2M488.5 144.4h2.2M534.5 119h2.2M539.9 89.7h2.2M506.9 98.2h2.2M428.9 109.4h2.2M433.5 79.8h2.2M496.8 177.4h2.2M423.8 97.9h2.2M548.1 107.1h2.2M473.4 81h2.2M529.7 105.3h2.2M556.7 87.6h2.2M473.1 144.5h2.2M474.6 178.1h2.2M388.3 93.5h2.2M373.7 99.1h2.2M405 119.8h2.2M503.1 149.3h2.2M418.9 98.8h2.2M411.3 99h2.2M484.7 145.2h2.2M486 149.8h2.2M440.6 85.4h2.2M392.8 126.3h2.2M423.7 158.4h2.2M405.3 80.5h2.2M429.4 116.4h2.2M436.9 165.8h2.2M401.5 145.6h2.2M483.9 145.8h2.2M405.8 85.5h2.2M444.7 144.8h2.2M480.6 94.8h2.2M535 84h2.2M556.2 111.2h2.2M510 84.9h2.2M522.5 98.1h2.2M441.5 129.7h2.2M392.5 97.7h2.2M524.1 102h2.2M444.3 157.9h2.2M414.1 91.4h2.2M413.2 113.6h2.2M441.3 143.5h2.2M461.8 170.1h2.2M531.9 96.2h2.2M376.7 119.9h2.2M393.4 122.4h2.2M507.9 79.7h2.2M393.7 124.7h2.2M404.5 95.7h2.2M455.7 82.6h2.2M384.2 110.9h2.2M413.8 155.5h2.2M479.3 170.2h2.2M472 96.7h2.2M411.9 78.5h2.2M459.7 154h2.2M385.4 121.6h2.2M432.2 92.7h2.2M498.5 110.9h2.2M496.6 128.8h2.2M375.8 123.6h2.2M513.4 131.4h2.2M416.1 126.9h2.2M487.4 144.7h2.2M535.9 111.6h2.2M544.6 90h2.2M414.7 138.5h2.2M544.4 78.3h2.2M455.5 85.2h2.2M407.9 156.1h2.2M483.2 178.2h2.2M448.4 147.9h2.2M415.9 124.4h2.2M490.5 94h2.2M531.4 92.3h2.2M432.9 116.2h2.2M437.1 146.7h2.2M375.5 112.4h2.2M420.7 121.7h2.2M479.1 151.7h2.2M397.6 96.8h2.2M399.8 84.8h2.2M471.5 136.5h2.2M541.5 75.4h2.2M416.1 88.3h2.2M374.5 102.5h2.2M538.4 117.7h2.2M472.8 167.7h2.2M469.7 82.4h2.2M417.9 145.5h2.2M483.8 162.1h2.2M408.1 77.7h2.2M406 149.4h2.2M420.2 96.4h2.2M441.5 129.8h2.2M501.3 77.4h2.2M513.6 141.5h2.2M461.8 147.1h2.2M524.8 69.9h2.2M462.5 147.8h2.2M507.4 144.2h2.2M522.1 95.9h2.2M410.9 116.5h2.2M415.8 154.5h2.2M440.2 146.1h2.2M518.5 83.7h2.2M413.9 93.8h2.2M397.2 116.1h2.2M452 77.9h2.2M483 178.6h2.2M455.1 89.2h2.2M501 87.5h2.2M494.5 142.7h2.2M428.9 98.6h2.2M484.3 91.9h2.2M510.6 100.5h2.2M404.4 149.9h2.2M422.1 151.6h2.2M557.5 86.1h2.2M435.6 129.7h2.2M432.6 117.4h2.2M463.1 98.9h2.2M402.3 79.4h2.2M491 150h2.2M421.6 161h2.2M400.7 149.5h2.2M445.1 152.3h2.2M525.2 79.8h2.2M483.8 91.1h2.2M507.1 162.5h2.2M523.2 95.7h2.2M479.7 84.9h2.2M408.1 136.7h2.2M391.8 142.7h2.2M417.4 98.9h2.2M452.5 130.9h2.2M510.3 72.4h2.2M510.3 94.5h2.2M427 143.3h2.2M504 140.4h2.2M544.4 92.6h2.2M430.9 146h2.2M421.2 87.1h2.2M414.6 158.7h2.2M430.6 105.6h2.2M509.7 75.3h2.2M488.2 79.2h2.2M380.5 128.7h2.2M539.7 122.6h2.2M409.1 82.7h2.2M468.5 129.5h2.2M440.8 152.3h2.2M472.8 159.1h2.2M445.5 125.1h2.2M419.6 146.7h2.2M413.7 105.9h2.2M462.8 151.8h2.2M519.2 112.1h2.2M391.3 121.9h2.2M493.5 101.3h2.2M395.9 123.1h2.2M490.1 103.7h2.2M455.2 78.8h2.2M446.8 79.8h2.2M426.5 158.3h2.2M397.1 81.2h2.2M473.3 165.9h2.2M403.6 89h2.2M518.1 118.4h2.2M436.1 83.2h2.2M393.6 99h2.2M426.6 123h2.2M508.7 154.3h2.2M396 91.4h2.2M527.4 108.3h2.2M418.8 98.5h2.2M432.8 88.9h2.2M514.2 108.6h2.2M407.1 117.5h2.2M528.5 99.8h2.2M441.4 112.4h2.2M438.9 112.9h2.2M392.3 95.3h2.2M545.9 116.6h2.2M493.3 172.2h2.2M516.3 97.3h2.2M419.8 145.2h2.2M444.3 166.6h2.2M396.8 131.6h2.2M435.8 164.4h2.2M437.5 167.1h2.2M458.7 108.3h2.2M538.3 93.7h2.2M436.5 97.8h2.2M390.4 106.9h2.2M414.7 77h2.2M409.2 122.6h2.2M448.3 162.3h2.2M554.5 104.9h2.2M492.6 173h2.2M461.5 173.6h2.2M512.1 105.1h2.2M391.5 137.2h2.2M464.1 117.3h2.2M411.1 111h2.2M504.9 83.3h2.2M453.6 79.6h2.2M471.8 164.4h2.2M522.7 110.3h2.2M413.8 155.6h2.2M525.2 94.3h2.2M454.4 113.1h2.2M409.9 104h2.2M434.3 154.1h2.2M407 132.5h2.2M467.3 146.7h2.2M523.9 90.2h2.2M467.7 173.5h2.2M469.3 177.5h2.2M478.7 85.5h2.2M492.4 162.4h2.2M452.6 138.9h2.2M420.9 101h2.2M451.9 128.6h2.2M461.1 79.6h2.2M372.2 108.4h2.2M508.9 156h2.2M416.7 98.6h2.2M470.4 89.2h2.2M487 174.1h2.2M409.9 137h2.2M509.6 156.1h2.2M508 151.6h2.2M398.4 122.4h2.2M435.7 158.1h2.2M418.2 92h2.2M402.1 116.6h2.2M413.1 78.7h2.2M408.2 105.6h2.2M468.1 90.2h2.2M463.3 120h2.2M409.1 137.8h2.2M398.9 88.5h2.2M439.2 118.3h2.2M438.8 149.3h2.2M446.4 86.5h2.2M548 115.6h2.2M454.2 103.5h2.2M477.6 146h2.2M399 111.4h2.2M484.5 147.7h2.2M525 71.9h2.2M433.2 124.7h2.2M466.4 111.1h2.2M543.1 109.6h2.2M473.3 177.1h2.2M445.5 139.8h2.2M522.2 99.2h2.2M442.3 114h2.2M474.7 100.9h2.2M435 164.5h2.2M401.9 149.2h2.2M399.3 95.4h2.2M382.2 99.5h2.2M512.1 152.7h2.2M477 176.2h2.2M454.5 91.3h2.2M445.2 79.7h2.2M507.2 142.2h2.2M392.7 87.7h2.2M405.9 139.8h2.2M500.4 181.8h2.2M454.6 114.3h2.2M419.8 95.9h2.2M506.8 89.2h2.2M405.7 86.5h2.2M438.6 154.7h2.2M382.4 130.6h2.2M455.6 160.9h2.2M398.5 89.2h2.2M444.8 149.3h2.2M450.7 146.8h2.2M480.6 153.7h2.2M421.5 140h2.2M465 100.9h2.2M481.3 174.5h2.2M390.9 101h2.2M456 153.4h2.2M420.4 153.9h2.2M495.8 80.2h2.2M466 152.9h2.2M412.3 145h2.2M424.5 112h2.2M481 163h2.2M516.9 121.9h2.2M537.1 115.5h2.2M398.9 148h2.2M475.1 155.1h2.2M396.3 143h2.2M443.5 97.8h2.2M527.7 72.7h2.2M377.7 122.9h2.2M461.2 152.5h2.2M406.7 84.7h2.2M527.7 82.8h2.2M406.8 127.1h2.2M435.7 87.9h2.2M522.1 97.9h2.2M546.5 94.6h2.2M492.3 130.9h2.2M535.4 120.5h2.2M514.2 95.8h2.2M460.2 164.7h2.2M401.9 148.5h2.2M397.5 123.6h2.2M465.9 100h2.2M441.8 133.3h2.2M445.1 132.6h2.2M410.4 83.2h2.2M425.7 142.1h2.2M479.3 179.3h2.2M493 132.1h2.2M440.4 139.3h2.2M477.4 92.8h2.2M468.6 82.6h2.2M502.6 176.8h2.2M380.6 118.5h2.2M484.4 164.8h2.2M470.2 106.5h2.2M505.1 76.6h2.2M423.1 86h2.2M441.1 145.9h2.2M496.7 87.6h2.2M510.7 133h2.2M420.1 85.3h2.2M401.5 86.2h2.2M484.2 162.1h2.2M401.9 127.4h2.2M481.5 134.1h2.2M450.4 132.1h2.2M452.3 96.4h2.2M516.6 97h2.2M529.5 96.9h2.2M388.9 124.4h2.2M445.6 107.9h2.2M518.2 94.7h2.2M499.9 166h2.2M458.1 127.4h2.2M386.9 107.4h2.2M388.2 144.4h2.2M452.5 104.7h2.2M418.1 86.8h2.2M429.8 106.6h2.2M453.5 88.1h2.2M401.2 141.6h2.2M382.3 127.9h2.2M435.6 80.7h2.2M469.2 88.4h2.2M447.7 91.9h2.2M422.3 146.9h2.2M413.9 115.5h2.2M384.6 132.1h2.2M390.3 127.3h2.2M465 91.4h2.2M499.8 126.5h2.2M526.5 102.8h2.2M462.1 85.3h2.2M464.1 83.6h2.2M502.9 150.1h2.2M525 82h2.2M483.2 153h2.2M438 149.8h2.2M441.6 151.8h2.2M508.9 82.2h2.2M444.2 147h2.2M408.9 129.2h2.2M463.9 108.1h2.2M442.9 128.3h2.2M484.1 94.7h2.2M424.4 127.4h2.2M467.9 117.6h2.2M498.8 90.4h2.2M473.3 100.9h2.2M469.3 112.5h2.2M426.9 115.6h2.2M463.9 154h2.2M412 121.5h2.2M439.9 104.5h2.2M440.2 156.7h2.2M512.1 93h2.2M496.9 147.6h2.2M493.2 149.6h2.2M499.9 181.4h2.2M525.7 95.5h2.2M435.9 81.4h2.2M464.8 111.8h2.2M423 125.6h2.2M455.5 117.9h2.2M406.3 87.2h2.2M535 107.4h2.2M453.2 91.2h2.2M519.6 112.4h2.2M455.6 115.1h2.2M485.5 98.5h2.2M375 114.2h2.2M442.6 157.5h2.2M435.1 148h2.2M491.1 90.8h2.2M415.9 137.1h2.2M481.5 106.3h2.2M433.6 143.9h2.2M486.8 128.2h2.2M394.6 93.6h2.2M430.9 117.3h2.2M417.9 137.2h2.2M422.8 159.2h2.2M381.6 113.1h2.2M414.9 141.6h2.2M391.2 99.1h2.2M515.8 120.1h2.2M459.9 93.6h2.2M388.6 111.8h2.2M454.2 128h2.2M426.7 150.6h2.2M403.6 128.3h2.2M466 112.1h2.2M536.6 93.2h2.2M539.8 110.5h2.2M435.6 140.4h2.2M479.4 101.9h2.2M442.1 82.1h2.2M497.3 130.8h2.2M434.1 107.1h2.2M533.5 108.2h2.2M440.5 115.6h2.2M402.2 146h2.2M459 165.7h2.2M443.2 154.3h2.2M376.6 94.4h2.2M501 126.7h2.2M461.9 91.8h2.2M404.3 144h2.2M504.5 98.9h2.2M495 84.7h2.2M488.9 88.8h2.2M469 105.4h2.2M476.9 84.4h2.2M464 140.6h2.2M397 104.8h2.2M501.5 132.4h2.2M489.6 159.7h2.2M480.9 94.7h2.2M456.2 165.5h2.2M480 156.5h2.2M441.1 121h2.2M496.6 81.2h2.2M511 100h2.2M533.7 89.4h2.2M455.7 165.5h2.2M503.4 130.9h2.2M536.9 92.5h2.2M543.8 108.3h2.2M376.1 108h2.2M491.1 82.9h2.2M401.8 102.9h2.2M524.1 101.5h2.2M511.8 95.3h2.2M477.2 140.1h2.2M536.8 85.5h2.2M458.7 91.7h2.2M418.7 149.8h2.2M447.2 94.9h2.2M441.9 128.2h2.2M539.5 110.4h2.2M411.4 109.3h2.2M511.8 145.5h2.2M449.1 129.9h2.2M461.8 127.8h2.2M522.4 91.9h2.2M389.2 100.9h2.2M482.3 94.2h2.2M524.6 98.4h2.2M486.7 141.7h2.2M527.8 119.7h2.2M500.5 179.8h2.2M407.4 80.5h2.2M450.3 128.2h2.2M399.8 94.6h2.2M537.7 114h2.2M399.7 90.1h2.2M482.1 90.9h2.2M462.4 131.4h2.2M455.6 127.5h2.2M531.9 70.7h2.2M549.8 92h2.2M480.6 131.5h2.2M430 153.5h2.2M415 135.5h2.2M504 86.7h2.2M476.9 154.2h2.2M538.4 74.7h2.2M418.8 78.6h2.2M419.7 78.9h2.2M465.2 98h2.2M428.8 122.6h2.2M442.5 160.7h2.2M510 82.1h2.2M434.4 81.4h2.2M505.1 159.7h2.2M446.5 105.2h2.2M462.6 89.6h2.2M449.5 145.8h2.2M418.2 133.7h2.2M537.3 78.1h2.2M491.6 142.4h2.2M533.1 123.6h2.2M396.3 103.8h2.2M508.1 153.6h2.2M410.4 143.7h2.2M497.3 145.4h2.2M375.3 120.2h2.2M433.6 138.4h2.2M435.8 83.7h2.2M429.9 132.4h2.2M526.4 82.3h2.2M511.6 76.7h2.2M447 127.2h2.2M450.9 83.1h2.2M471.6 103.8h2.2M454.8 95.4h2.2M495.3 165.8h2.2M446.7 156.8h2.2M424.7 81.6h2.2M379.2 121.1h2.2M539.1 92.5h2.2M455.8 157.7h2.2M424.2 86.6h2.2M543.6 96.5h2.2M478.9 117.3h2.2M429.3 137.1h2.2M507.6 76.1h2.2M429.1 152.2h2.2M374.8 112.5h2.2M395.4 123.9h2.2M413.9 78.3h2.2M388.5 91.5h2.2M470.6 84.8h2.2M528.9 117.4h2.2M419.5 96.9h2.2M532.5 74.3h2.2M513.7 80.2h2.2M486 169.4h2.2M504.4 137.3h2.2M509.7 101.2h2.2M466.6 90.5h2.2M455.1 101.6h2.2M494.6 78.8h2.2M415.1 82.2h2.2M468.9 127.5h2.2M542.7 100.7h2.2M488.7 92.6h2.2M404.8 99h2.2M489.5 91.4h2.2M460 151.9h2.2M391.2 124.2h2.2M495.9 148.9h2.2M379.4 91.1h2.2M452.8 112.4h2.2M504.9 155.1h2.2M470.2 90.7h2.2M460.6 166.6h2.2M417.4 155.3h2.2M422.5 160.5h2.2M462.5 105.2h2.2M441.9 161.9h2.2M499.8 88.6h2.2M401 135h2.2M411.8 108h2.2M390.8 86.8h2.2M508.9 94.9h2.2M534.1 107.1h2.2M534.2 104.1h2.2M422.5 114.8h2.2M536.7 112.5h2.2M415 98.3h2.2M507.5 136.6h2.2M468 97.5h2.2M541.5 83.3h2.2M534.1 71.3h2.2M507.8 163.1h2.2M504.8 132.9h2.2M527.3 86.8h2.2M474.8 99.8h2.2M447.8 91.1h2.2M507.2 135.6h2.2M486.3 176.2h2.2M442.4 80.7h2.2M435.2 151.1h2.2M498.4 178h2.2M520.6 120.7h2.2M459.9 157.3h2.2M432.2 81.6h2.2M490.2 163h2.2M418.8 148.4h2.2M542.6 83.7h2.2M397.2 126.2h2.2M404.6 77.7h2.2M463.5 116.8h2.2M483.8 96.5h2.2M429.7 126.1h2.2M447 144h2.2M468.2 106.4h2.2M410 107.9h2.2M381.8 118.1h2.2M483.7 136.4h2.2M373.5 113.5h2.2M421.4 141.1h2.2M383.7 132h2.2M443.3 126.1h2.2M448.8 80.7h2.2M486.1 82.3h2.2M486.3 170.3h2.2M418.7 136h2.2M443.9 103.3h2.2M434.9 132.1h2.2M459.5 133.1h2.2M473.6 150.9h2.2M524.9 96.5h2.2M444.4 95.2h2.2M506.6 130.4h2.2M525.5 89.2h2.2M478.4 159h2.2M423.1 126.2h2.2M551.1 87.8h2.2M532.7 115.1h2.2M476.4 176.9h2.2M383.4 107.2h2.2M401 84.4h2.2M429.5 150.4h2.2M482.7 83h2.2M528.9 94.1h2.2M434.1 166h2.2M548.1 105.3h2.2M502.5 148.5h2.2M424.1 98.1h2.2M475.4 84.6h2.2M417.7 150h2.2M500.5 83h2.2M430 80.2h2.2M425.3 158.7h2.2M460.8 163.8h2.2M401.8 81.2h2.2M515.8 79.4h2.2M499.4 78.5h2.2M418.5 146.1h2.2M539 116.5h2.2M436.6 97h2.2M505.5 83.6h2.2M445.1 102.9h2.2M425.3 154.9h2.2M412.3 106.7h2.2M457.5 134.8h2.2M536.9 98.7h2.2M420.8 80.8h2.2M467.6 158.3h2.2M401.2 119.2h2.2M444.6 166.6h2.2M542.6 112.6h2.2M394.8 143h2.2M426.4 120.8h2.2M461.1 175.1h2.2M494.2 170.4h2.2M528.6 112.4h2.2M530.4 93.7h2.2M515.7 123.4h2.2M450.1 91.7h2.2M413.6 112.5h2.2M450.8 136h2.2M492.8 111.4h2.2M384.3 129.2h2.2M450.6 109.7h2.2M451.5 88.8h2.2M431.7 126.3h2.2M479.3 92.9h2.2M437.6 160h2.2M542 96.3h2.2M521.1 120.3h2.2M474.4 130.9h2.2M499.4 149.1h2.2M528.7 104h2.2M384 133.3h2.2M496.9 94.9h2.2M379.5 125.5h2.2M415.9 90.5h2.2M458.2 152.2h2.2M437.9 162.8h2.2M485.6 145h2.2M446.6 134.2h2.2M500.3 130.8h2.2M493.9 80.5h2.2M435.4 95.7h2.2M533.1 70.3h2.2M456.6 170h2.2M429.1 95.9h2.2M438.4 157.4h2.2M481.2 163.8h2.2M539.7 72.3h2.2M431.6 93.1h2.2M516.3 125.8h2.2M413 123.8h2.2M371.2 99h2.2M499 157.8h2.2M499.7 92.8h2.2M474 138.5h2.2M511.2 91.8h2.2M430.8 108.8h2.2M389.5 109.4h2.2M511.3 136.1h2.2M404.3 154h2.2M399.5 80h2.2M419.5 128.8h2.2M551.5 101.8h2.2M479 98.5h2.2M373.6 107.3h2.2M432.8 91.9h2.2M453.8 173.4h2.2M544 100.5h2.2M411.9 82.4h2.2M441.7 82.7h2.2M405.6 97.9h2.2M472.2 159h2.2M462.5 107.2h2.2M488 80.3h2.2M416.9 131.2h2.2M531.4 109.6h2.2M466.9 146.3h2.2M408.1 141.8h2.2M407.2 151.6h2.2M379 100.7h2.2M393.7 86.1h2.2M472.6 89.1h2.2M523.9 80h2.2M490.8 169.1h2.2M395.4 94.1h2.2M518.1 123.6h2.2M550.3 108.2h2.2M542.4 92.1h2.2M476 178.5h2.2M486.6 80.4h2.2M432.1 148.6h2.2M450 156.3h2.2M445 162.4h2.2M461.7 163.4h2.2M429 132.3h2.2M510.9 139.4h2.2M455.4 138.1h2.2M527.7 100.9h2.2M513.3 93.3h2.2M498.9 136.7h2.2M396.3 117h2.2M511.7 73.7h2.2M504.8 126.2h2.2M465.5 85.7h2.2M469.6 162.2h2.2M451.8 99.8h2.2M417.1 122.4h2.2M495.5 135.2h2.2M434.2 105.3h2.2M394.9 117.5h2.2M464.2 171.2h2.2M505.2 153.8h2.2M516.9 103.9h2.2M511.2 92.8h2.2M477.7 138.2h2.2M520.2 88.3h2.2M437.2 164.8h2.2M393.8 93.3h2.2M479.2 176.1h2.2M495.7 145.2h2.2M484.3 126.3h2.2M395.9 118.4h2.2M452.1 119.2h2.2M453.1 112.1h2.2M447.1 121.1h2.2M551.6 102.1h2.2M460.5 106.5h2.2M531.9 96.9h2.2M420.1 150.1h2.2M524.2 123.5h2.2M445.6 96h2.2M536 82.1h2.2M390.3 137.4h2.2M452 97.9h2.2M394.5 95.5h2.2M437 135.5h2.2M433.5 120h2.2M527.4 90h2.2M554 106.9h2.2M487.6 81.7h2.2M450 141.4h2.2M493.8 108.7h2.2M395 134.1h2.2M404 104.5h2.2M490 173.7h2.2M470.1 98.5h2.2M483.7 100.9h2.2M521.5 87h2.2M421.5 119.9h2.2M545.6 88.1h2.2M408.1 84.1h2.2M412.2 107.5h2.2M447 157.3h2.2M448.7 124.1h2.2M447.3 159h2.2M544.7 118.4h2.2M548.2 98h2.2M440.2 150.2h2.2M459.7 130.2h2.2M410.9 89.4h2.2M435.7 148.2h2.2M507.7 119.3h2.2M421.1 93.5h2.2M433.9 97.8h2.2M427.1 101.4h2.2M437.7 160.9h2.2M402.7 98.9h2.2M472.6 164.6h2.2M534 82.5h2.2M428.2 80.5h2.2M438.4 90.6h2.2M418.7 88h2.2M492.1 145.3h2.2M469.2 89.7h2.2M539.1 81.7h2.2M404.6 97h2.2M469.9 124.3h2.2M477.5 153.5h2.2M374.6 105.8h2.2M398.6 139h2.2M521.4 83.8h2.2M503.5 81.4h2.2M503 161.3h2.2M449.6 86.9h2.2M402.8 115.7h2.2M395.5 113.7h2.2M477.1 133.1h2.2M448.7 162h2.2M388 107.2h2.2M474.1 160.6h2.2M481.1 82.5h2.2M420.2 80.2h2.2M539.3 106.3h2.2M449.4 131.5h2.2M540.4 105.8h2.2M459.6 163.4h2.2M436.4 106.2h2.2M469.7 155.7h2.2M540.8 110h2.2M440.8 100.7h2.2M472.8 133.3h2.2M390.9 85h2.2M500.4 143.5h2.2M373.1 96.4h2.2M520.8 86.6h2.2M473.2 158.5h2.2M401.1 130.3h2.2M447.6 124.6h2.2M429.6 154.1h2.2M464.7 161.8h2.2M465.2 167.8h2.2M399.7 108.1h2.2M529.9 77.6h2.2M394.9 109.1h2.2M395.3 118h2.2M472.6 103.8h2.2M500.6 134.2h2.2M503.6 152h2.2M461.6 122.8h2.2M460.7 140.6h2.2M528 125.7h2.2M404.9 100.4h2.2M439 109.5h2.2M486 81.9h2.2M533.3 108.2h2.2M545.7 107.2h2.2M429.8 89.3h2.2M529.8 76.1h2.2M475.4 154.2h2.2M391.1 112.3h2.2M421.8 134.1h2.2M440.4 136.1h2.2M539.7 98.7h2.2M528.9 70.9h2.2M420 111.6h2.2M482.9 96.4h2.2M507.3 144.8h2.2M438.1 85.5h2.2M524.8 122.3h2.2M423.9 129.2h2.2M499.8 167h2.2M449.7 133.9h2.2M534.2 92h2.2M536.2 71.7h2.2M474.3 135.8h2.2M455.5 90.4h2.2M450.2 137.7h2.2M396.4 98.6h2.2M540.5 89.1h2.2M486.2 111.3h2.2M454 96.4h2.2M411.3 77.5h2.2M504.6 81.3h2.2M414 120h2.2M431.8 124.2h2.2M402.3 115.7h2.2M406.5 80.6h2.2M488.7 157.1h2.2M461.9 123.8h2.2M502.9 139.8h2.2M452.5 90.5h2.2M460.2 132.9h2.2M492.3 154.8h2.2M418.7 149.2h2.2M496.5 169.8h2.2M410.2 109.1h2.2M429.9 124.3h2.2M378.1 119.1h2.2M492.7 92.4h2.2M535.7 117h2.2M555.6 110.5h2.2M490.3 131.9h2.2M421.6 159.7h2.2M371.9 97.9h2.2M428.6 139.8h2.2M526.6 81.5h2.2M520.9 114.3h2.2M505.7 85.3h2.2M500.5 142.3h2.2M431.2 99.9h2.2M374.9 108.5h2.2M438.2 76.7h2.2M527.7 69.3h2.2M451.3 81.8h2.2M394.2 106.7h2.2M450.9 158.6h2.2M414.6 106.6h2.2M382.7 119.5h2.2M466.5 150.6h2.2M471.1 158.2h2.2M435.8 117h2.2M541.7 104.8h2.2M430.9 83.2h2.2M511.7 140.5h2.2M410.7 152.9h2.2M414.8 134.6h2.2M447 100.1h2.2M492.6 177.5h2.2M404.2 99.6h2.2M429.2 131.7h2.2M463.7 174.8h2.2M482.1 143.1h2.2M483.6 160.3h2.2M395.5 81.8h2.2M413.8 145.5h2.2M420.9 113.3h2.2M421.1 97.2h2.2M433.4 117.1h2.2M440.3 106.6h2.2M513 126.2h2.2M542.4 83h2.2M467.4 134.2h2.2M393.6 106h2.2M489.9 147.3h2.2M491.9 141.1h2.2M443.7 76.8h2.2M404.1 109.1h2.2M421.1 135.7h2.2M500.5 96h2.2M444.5 80.5h2.2M524.2 90.3h2.2M397.2 101.2h2.2M494.2 143h2.2M471.9 168.2h2.2M515.7 93.2h2.2M473.9 88.5h2.2M417.6 85.9h2.2M385.9 109.6h2.2M388 94.3h2.2M484.8 130.5h2.2M479.9 138.8h2.2M417.3 137.4h2.2M472.9 108.4h2.2M553 114.9h2.2M452.4 131.7h2.2M508.9 143.1h2.2M517.2 94h2.2M521.3 94.6h2.2M507.5 125.8h2.2M453.1 151.1h2.2M421.8 146.8h2.2M457 110.4h2.2M376.1 123.6h2.2M473.4 104.7h2.2M391.3 125.2h2.2M384.7 88.8h2.2M456.4 109.4h2.2M467.2 130.6h2.2M445.8 84.4h2.2M438.7 106h2.2M513.8 126.3h2.2M524.1 69.4h2.2M396.6 92.8h2.2M442 115.3h2.2M455.5 135.9h2.2M485.4 165.3h2.2M442 100.9h2.2M542.9 94.7h2.2M423.2 125.5h2.2M385.5 117.1h2.2M523.5 82.5h2.2M542.1 110.4h2.2M527.6 123.8h2.2M420.7 86.4h2.2M481.4 169.4h2.2M400.1 124.8h2.2M461.2 81.4h2.2M510.2 128.1h2.2M488.2 169.1h2.2M402.8 96.8h2.2M397.4 128.5h2.2M474.4 104.8h2.2M384.3 114.1h2.2M457.6 98.7h2.2M397.7 127.8h2.2M457.7 81h2.2M458.8 129.1h2.2M522.1 90.5h2.2M439.3 152.3h2.2M377.7 128.9h2.2M474.8 80.2h2.2M381.2 99.5h2.2M493.4 181.6h2.2M517.6 123.9h2.2M393.8 94h2.2M396 139.9h2.2M491.1 168.7h2.2M487.7 140.3h2.2M393 94.7h2.2M496.6 78.1h2.2M391.6 98h2.2M482.8 96.6h2.2M479.8 168.5h2.2M441.9 119.4h2.2M493.8 89.9h2.2M468.7 105.4h2.2M486.2 164.4h2.2M460.9 142.2h2.2M426.6 98.6h2.2M469.1 130.8h2.2M414 157.9h2.2M467.1 110.2h2.2M418.8 77.1h2.2M435.9 120.2h2.2M502.4 87.5h2.2M441.3 160.5h2.2M501.9 137h2.2M390.9 94.1h2.2M494.1 135.5h2.2M470.6 101.6h2.2M439.1 91.8h2.2M490.9 128.1h2.2M517.6 79h2.2M485.8 144.8h2.2M457.9 166.1h2.2M475.8 88h2.2M526.2 79h2.2M460.2 163.2h2.2M436.7 85.6h2.2M489.8 170.9h2.2M391.3 135.9h2.2M406 107.5h2.2M399.8 122.8h2.2M495.3 174.2h2.2M518.7 77.6h2.2M474.7 173.9h2.2M465.8 106.8h2.2M498.4 151.5h2.2M459.5 100.9h2.2M451.9 152.1h2.2M415 87.2h2.2M464.1 145.5h2.2M383.9 100.4h2.2M519.5 104.4h2.2M387.6 125.4h2.2M471.4 90.1h2.2M504.8 83.8h2.2M480.3 128.3h2.2M507.6 126.2h2.2M444.9 133.1h2.2M375.4 109.8h2.2M425.5 162.6h2.2M496.2 139.3h2.2M513.6 100h2.2M420 116.6h2.2M440.6 77.8h2.2M465.2 132.3h2.2M540.2 76.9h2.2M439.9 148.8h2.2M414 146.9h2.2M424.3 128.7h2.2M391.2 110.7h2.2M385.4 127.2h2.2M441 101h2.2M488.1 130.2h2.2M497 77.5h2.2M441 123.9h2.2M558.2 91.5h2.2M493.2 76h2.2M479 154.9h2.2M508.8 132.6h2.2M492 146.7h2.2M405.4 108.2h2.2M521.3 102.7h2.2M383 107h2.2M440 114h2.2M399.2 127.8h2.2M524.6 119.1h2.2M399.2 99.1h2.2M452.1 156.8h2.2M454.7 117.5h2.2M448.4 129.5h2.2M407.7 84.2h2.2M428.8 119.2h2.2M432.1 130.9h2.2M425.1 146.8h2.2M450.2 151.3h2.2M427.1 122h2.2M478.2 152.5h2.2M496.5 118.8h2.2M392.7 85.9h2.2M406.4 90.2h2.2M416.1 97.4h2.2M406.3 85.6h2.2M502.2 136.2h2.2M497.3 120.2h2.2M442.9 143.2h2.2M537.2 112.3h2.2M442.6 128.6h2.2M419.6 93.3h2.2M395.8 148.8h2.2M489.5 141h2.2M455 118.3h2.2M399.1 132.7h2.2M423.9 83h2.2M539.5 103h2.2M482 101h2.2M530.8 93.1h2.2M495.6 133.4h2.2M433.7 78.1h2.2M464.6 129.7h2.2M528.3 92.5h2.2M406.7 104.4h2.2M525.3 95.8h2.2M466.6 81.9h2.2M446.3 133.7h2.2M451.9 127.7h2.2M532.7 112.9h2.2M487 133.2h2.2M512.4 87.8h2.2M496.7 140.2h2.2M536 73.7h2.2M531.6 124.2h2.2M412.8 116.1h2.2M385.5 136.5h2.2M413.2 150.5h2.2M404.5 149.2h2.2M489.8 151.7h2.2M553.8 103.2h2.2M486.4 99.3h2.2M553.7 108.2h2.2M458.5 114.8h2.2M474.8 170.6h2.2M460.4 80.1h2.2M533 79.1h2.2M540.6 95h2.2M477.4 179.3h2.2M468.7 131.7h2.2M459.9 116.8h2.2M503.7 81.8h2.2M504.2 177h2.2M439 80.2h2.2M388.8 131.6h2.2M526.2 124.7h2.2M536.1 90.6h2.2M435.6 128.7h2.2M537.7 114.5h2.2M451.8 94.9h2.2M463.9 151.1h2.2M440.6 145.9h2.2M410.6 86.6h2.2M379.2 100.4h2.2M469.3 89.1h2.2M456.5 96h2.2M486 81.9h2.2M471 144.3h2.2M388.2 132.7h2.2M430.6 155.6h2.2M489.5 174.8h2.2M487.8 90.1h2.2M406.8 150.8h2.2M526.9 76.1h2.2M451.2 101.8h2.2M460.9 170.4h2.2M478.7 155.5h2.2M518.1 101.1h2.2M473.1 146.5h2.2M402 105.3h2.2M517.6 87.6h2.2M394.9 110.5h2.2M387.3 123.7h2.2M437.6 154.8h2.2M533.2 88.7h2.2M479.7 130.2h2.2M403.8 106.2h2.2M413.4 91.6h2.2M481.3 165.2h2.2M468.7 142.4h2.2M416.9 149.9h2.2M449.1 152.9h2.2M483.4 85.1h2.2M428.9 156.4h2.2M475.9 152.1h2.2M434.3 124.4h2.2M462.7 156.1h2.2M385.1 128.2h2.2M421 137.5h2.2M421 92.8h2.2M512.4 100.1h2.2M392.7 129.3h2.2M466.3 146.9h2.2M490.8 77.3h2.2M429.6 151.7h2.2M512.4 146.9h2.2M448 126.9h2.2M468.7 93.9h2.2M503.4 128.2h2.2M481.3 146.4h2.2M442.5 121.3h2.2M502 81.7h2.2M372 99.6h2.2M501.5 91.1h2.2M433.6 155h2.2M479.3 84.5h2.2M417.4 124.1h2.2M457.6 84.4h2.2M541.9 83.8h2.2M431.7 131.9h2.2M430.7 117.9h2.2M431.8 144.7h2.2M510 127.8h2.2M534.4 81.3h2.2M486.1 160.4h2.2M383.1 124.5h2.2M422.8 139.6h2.2M447.4 121.9h2.2M474.5 137.3h2.2M542.2 101.7h2.2M423.9 90.3h2.2M547.8 83.5h2.2M383.9 97.9h2.2M419.8 123.9h2.2M502.1 86.8h2.2M394.8 107.3h2.2M540.1 73.8h2.2M495.3 85.8h2.2M499.1 147.1h2.2M415.6 124.3h2.2M492.3 149.3h2.2M470.1 137.6h2.2M465.7 156.8h2.2M473.6 101.2h2.2M470.3 93.7h2.2M411.3 128h2.2M483.2 136.3h2.2M459.5 128.1h2.2M503.4 171.5h2.2M470.2 160.2h2.2M501.8 82.7h2.2M420.9 105.3h2.2M439.2 126h2.2M548.8 87.4h2.2M492 180.5h2.2M525.6 106.1h2.2M451 109.6h2.2M460.2 153.6h2.2M518.4 89.3h2.2M409.7 108.4h2.2M405.2 124.3h2.2M396.4 144.9h2.2M450.1 97.6h2.2M502.9 107h2.2M539.9 103h2.2M421.8 149.9h2.2M496.7 132.7h2.2M381 101.8h2.2M398.9 137.7h2.2M515.1 89.7h2.2M407.3 89.1h2.2M401.7 85.2h2.2M444.4 162.6h2.2M475.7 161.8h2.2M468.5 157.8h2.2M409.3 101.3h2.2M506.2 86.8h2.2M510.6 73.3h2.2M460.8 98.8h2.2M502.5 91.8h2.2M440.5 129.3h2.2M496.2 176.7h2.2M496 128.9h2.2M518.9 125.9h2.2M450.6 107.8h2.2M446.9 94.6h2.2M431 155.8h2.2M533.6 83.4h2.2M470.2 155.5h2.2M521.2 113.9h2.2M488.2 144.9h2.2M437.6 82h2.2M498.6 156.8h2.2M480.6 156.5h2.2M482.7 138.4h2.2M407.6 79.4h2.2M506.7 153.4h2.2M499.2 98.5h2.2M464.7 158.3h2.2M494.2 174.8h2.2M451.6 146.6h2.2M537.8 77.8h2.2M469.1 161.5h2.2M551.5 108.7h2.2M411.2 85.7h2.2M413.3 117.6h2.2M453.1 145.4h2.2M526.5 82.1h2.2M428.7 130.1h2.2M392.3 147.6h2.2M448.9 79.5h2.2M463.1 112.2h2.2M405.7 77.5h2.2M520.6 81.9h2.2M474.8 110.5h2.2M487.2 98.7h2.2M455 130.2h2.2M443.9 134.5h2.2M388.4 117.8h2.2M468.3 156.6h2.2M444.4 151.7h2.2M409.5 140.7h2.2M404.7 109.8h2.2M513 71.2h2.2M539.5 79.5h2.2M489.2 166.7h2.2M535.6 72.9h2.2M520.4 86.2h2.2M387.1 129.7h2.2M487.6 148.9h2.2M405.5 135h2.2M461 83.3h2.2M385.4 101.4h2.2M479.3 173.4h2.2M457.3 97.2h2.2M436.3 117.7h2.2M472.2 134.5h2.2M464.4 157.6h2.2M504.7 132.7h2.2M396.3 122.3h2.2M383.1 89.8h2.2M397.1 119.5h2.2M415 94.1h2.2M493.5 176.6h2.2M483 125.5h2.2M438.7 129.8h2.2M436.5 167.3h2.2M465.6 127h2.2M533.2 82.5h2.2M465.5 121.6h2.2M449.1 126.6h2.2M470.9 88.3h2.2M539.6 73.8h2.2M408.1 124.4h2.2M422.3 161h2.2M374.7 96.5h2.2M526 74.7h2.2M464 94.2h2.2M394.5 97.1h2.2M512.4 135.8h2.2M396.2 102.1h2.2M516 123.8h2.2M410.8 98.4h2.2M407.9 142h2.2M485.5 129.2h2.2M431.6 146.7h2.2M464.5 85.1h2.2M514.7 119.1h2.2M525.5 108.2h2.2M413.8 78h2.2M513.9 121.4h2.2M395.1 133.9h2.2M422 99.4h2.2M455 121.4h2.2M454.1 110.4h2.2M428.4 151.7h2.2M502.8 159.2h2.2M533.3 85.1h2.2M423.8 112.8h2.2M472.7 130.2h2.2M492.4 152.4h2.2M471.6 95.3h2.2M541.3 76.9h2.2M497.1 128h2.2M474.6 166.7h2.2M494.3 178.4h2.2M502.1 175.4h2.2M516.3 114.3h2.2M471.8 160h2.2M382.2 131.6h2.2M480.3 152.4h2.2M436.8 139.4h2.2M544.7 111.8h2.2M423 102.1h2.2M446.5 144.8h2.2M467.8 153.9h2.2M445.2 135.4h2.2M483.9 122.3h2.2M418.5 108.1h2.2M495.9 89.1h2.2M464.3 100.3h2.2M479.6 149h2.2M470.6 156.2h2.2M490.8 78.5h2.2M551.2 109.8h2.2M534.5 95.6h2.2M529.6 120.8h2.2M458.5 126.8h2.2M442.7 95.6h2.2M504.1 141.9h2.2M381.6 100.3h2.2M550.2 101.8h2.2M427.5 136.1h2.2M414.3 88.7h2.2M456.6 101.9h2.2M500.7 172h2.2M392.6 104.9h2.2M396.8 119.1h2.2M441 153.5h2.2M451.9 143.7h2.2M396.5 139.9h2.2M398 88.1h2.2M517.6 76.6h2.2M441.3 94.5h2.2M456.1 105h2.2M461.3 168.4h2.2M448.1 118h2.2M472.4 110.2h2.2M374.1 110.7h2.2M500.4 125.7h2.2M462.9 134.3h2.2M462.5 125.2h2.2M435.4 159.2h2.2M443.3 147.3h2.2M444.4 109.7h2.2M454.4 139.2h2.2M509.3 156.5h2.2M452 82.5h2.2M509.7 94.2h2.2M467.1 128.7h2.2M441.1 125.8h2.2M491.6 182.5h2.2M545.7 89.5h2.2M519.3 113.2h2.2M485.9 134.4h2.2M513.3 103.8h2.2M466 143.7h2.2M472 144.1h2.2M446.1 153.5h2.2M531 111.1h2.2M451.8 111.5h2.2M436.9 116.8h2.2M534.1 75.9h2.2M478.6 143.6h2.2M428.7 157.9h2.2M539.1 113.3h2.2M467.1 94.3h2.2M439.8 135.8h2.2M406.6 131.9h2.2M433.6 99.4h2.2M515.2 112.6h2.2M477.1 136.4h2.2M502.8 132.7h2.2M450.3 135.7h2.2M530.7 84.2h2.2M533.4 105h2.2M391.6 100h2.2M472.8 178.3h2.2M404.1 102.5h2.2M442.8 143.4h2.2M439.1 146.8h2.2M482.5 153.1h2.2M499.6 76.4h2.2M401.9 116.5h2.2M493.6 136.9h2.2M469.3 145.2h2.2M466.6 115.1h2.2M531.9 103.9h2.2M449.1 147.9h2.2M556.4 108.9h2.2M454.4 115.6h2.2M411.5 110.1h2.2M522.9 90.7h2.2M462.9 101.9h2.2M482.2 158.9h2.2M393.3 125.5h2.2M407.1 144.1h2.2M501.4 94.6h2.2M415.4 104.1h2.2M446.8 122.1h2.2M409.8 122.4h2.2M446.9 91.6h2.2M533.5 103.9h2.2M503.8 128.7h2.2M514.1 99.4h2.2M419.3 138.4h2.2M509.6 126.3h2.2M440.6 77.8h2.2M477.7 158.9h2.2M538.8 106.2h2.2M474.2 137.2h2.2M457.7 164.1h2.2M506.6 164.2h2.2M419.7 127.6h2.2M475.6 136.8h2.2M457.2 87.3h2.2M490.8 175.3h2.2M381.8 107.6h2.2M402.6 142.9h2.2M397.3 89.1h2.2M419.8 79.5h2.2M448.1 88.2h2.2M460.2 87.9h2.2M496 156.9h2.2M463.9 172.6h2.2M534.3 119.6h2.2M469.5 167.7h2.2M444.1 98.5h2.2M377.1 92.6h2.2M430.5 109.9h2.2M454.5 81.1h2.2M441.3 102.7h2.2M485.5 101.9h2.2M531.4 118.8h2.2M443.4 149.3h2.2M511 145.1h2.2M517.5 91.4h2.2M475.7 81.2h2.2M534.1 117.2h2.2M453.4 90.1h2.2M453.1 139.5h2.2M498.9 148.9h2.2M495.5 162.4h2.2M529 83.4h2.2M389.3 88.4h2.2M424.7 125.4h2.2M510.1 135.1h2.2M379.5 94.5h2.2M496.2 82.4h2.2M514.8 120.8h2.2M497.7 91.7h2.2M462 164.8h2.2M387.2 112.2h2.2M458.8 85.2h2.2M462.3 80.3h2.2M510.8 93.6h2.2M492.4 143.8h2.2M409.3 141.9h2.2M476.7 140.5h2.2M406.7 124.3h2.2M417.9 107.7h2.2M540.1 75h2.2M463 128.6h2.2M458.6 102.8h2.2M517.1 91.8h2.2M432.2 129.5h2.2M515.8 127.7h2.2M396.9 147.2h2.2M477.8 138.3h2.2M393.9 107.9h2.2M442 154.8h2.2M405.8 122.6h2.2M547.1 89.1h2.2M438.2 140.5h2.2M532.6 80h2.2M479.4 155.7h2.2M503.6 162.8h2.2M442.3 122.2h2.2M484 162.6h2.2M412.8 129.5h2.2M399 88.7h2.2M480.6 141.1h2.2M447.2 161.7h2.2M476 148.4h2.2M387.5 107.2h2.2M534.4 84.6h2.2M517.7 101.2h2.2M434.2 129.8h2.2M533.6 80.3h2.2M449.1 152.2h2.2M456.2 152h2.2M539.5 78.9h2.2M448.9 95h2.2M373.3 102.3h2.2M420.4 115.8h2.2M451.2 151.4h2.2M425.9 110.2h2.2M467.9 96.4h2.2M453.6 155.9h2.2M438.2 135.2h2.2M415.6 114h2.2M539.3 76.4h2.2M545.3 79.9h2.2M477.6 132.3h2.2M449.8 141.7h2.2M540.9 106h2.2M382.6 92.1h2.2M516 114.2h2.2M433.3 149.2h2.2M480.3 175.2h2.2M402 108.8h2.2M504 174.4h2.2M460.8 160.6h2.2M392.1 143.3h2.2M434.4 149.6h2.2M428.3 90.6h2.2M422.8 153.1h2.2M526.5 98.7h2.2M509.1 125.8h2.2M414.7 156h2.2M459.5 171.5h2.2M448.2 131h2.2M399.9 136.4h2.2M423.2 113.3h2.2M460.6 102.5h2.2M404 146.5h2.2M491.5 78.2h2.2M414 101.6h2.2M441.1 125.9h2.2M544.7 80.6h2.2M481.5 141.5h2.2M420.6 110.2h2.2M456.6 172.1h2.2M520.4 124.7h2.2M384.4 110.5h2.2M528.1 119.4h2.2M446.2 143.2h2.2M502.9 81.9h2.2M451.3 168.5h2.2M421.5 130.6h2.2M437.6 133.2h2.2M446.2 108.9h2.2M460.8 111.4h2.2M537.7 111.6h2.2M501.8 89.4h2.2M475.3 100.2h2.2M546.7 111.5h2.2M436.7 133h2.2M490 85.1h2.2M472.4 106.1h2.2M501.6 166.6h2.2M454.7 127.1h2.2M460.7 162.4h2.2M375.2 115.4h2.2M419.3 139.6h2.2M439.2 139.5h2.2M543.6 116.6h2.2M531.7 123.4h2.2M543.3 74.3h2.2M432.9 123.9h2.2M481.3 94.7h2.2M495.2 143.3h2.2M428 80.8h2.2M426.8 93.6h2.2M424 155.6h2.2M473.7 109.8h2.2M466.4 123.7h2.2M407.1 147.2h2.2M373.1 116h2.2M518.4 84.1h2.2M468.2 148.4h2.2M473.8 107.3h2.2M403.1 138.9h2.2M471.9 153h2.2M406.6 152.7h2.2M443.8 150.4h2.2M455.3 123.2h2.2M508.5 86.4h2.2M543.3 107.5h2.2M541.7 85.7h2.2M394.9 137.6h2.2M417.4 120.1h2.2M409.6 153.2h2.2M512.8 148.7h2.2M483.1 78.3h2.2M508.7 132.5h2.2M497 165.2h2.2M468.6 102.7h2.2M499.1 142.5h2.2M443.4 85.1h2.2M455 86.9h2.2M465.8 125.9h2.2M445.6 160.4h2.2M411.9 101.9h2.2M530.6 96.1h2.2M510.4 100.7h2.2M449.7 123.5h2.2M455.7 155h2.2M421.3 115.6h2.2M383.6 114.7h2.2M515.5 105.6h2.2M406.7 131.6h2.2M392.2 119.1h2.2M451.5 120.5h2.2M539.8 103.4h2.2M430 131.7h2.2M452.1 165.6h2.2M478.1 153.5h2.2M481.3 150h2.2M446.1 86h2.2M441 106.7h2.2M508.9 73.5h2.2M449.5 108.8h2.2M454.5 158.4h2.2M459.9 152.7h2.2M469.8 155.3h2.2M466 136.5h2.2M478.5 80.8h2.2M479.8 177.1h2.2M417.7 159.1h2.2M420 151.9h2.2M425.3 138.2h2.2M520.1 72.6h2.2M418 104.6h2.2M477.7 155.1h2.2M415.6 142.7h2.2M448.6 157.7h2.2M399.1 139.8h2.2M495.5 96.3h2.2M499.2 85h2.2M412.3 154.1h2.2M437.3 91.1h2.2M418 125.8h2.2M398.9 96.4h2.2M420.8 124.5h2.2M537.2 111.5h2.2M442.2 131.8h2.2M398.1 116.8h2.2M396.1 144.6h2.2M413.4 139.6h2.2M451.3 85h2.2M520.2 90.3h2.2M455.1 121.6h2.2M410.5 85h2.2M441.8 99.8h2.2M454.3 86.6h2.2M538.9 86.8h2.2M415.2 87.1h2.2M478.7 159.4h2.2M506.1 165.6h2.2M452.2 119.7h2.2M389.1 99.4h2.2M538.5 102h2.2M548 85.2h2.2M452.4 165.9h2.2M430.9 97.3h2.2M476.8 93.5h2.2M420.9 142.5h2.2M538.7 117.7h2.2M396.1 135.3h2.2M427.9 81h2.2M507.4 134h2.2M423.3 97.6h2.2M438.7 137h2.2M413.5 123h2.2M393.9 117.1h2.2M399.5 132.4h2.2M485.1 141.6h2.2M519.4 82.2h2.2M484.8 165.2h2.2M463.5 151.9h2.2M453 131.8h2.2M519.6 96h2.2M479.9 84.6h2.2M471.2 158.8h2.2M485.4 147.6h2.2M486.8 176.4h2.2M474.4 109.7h2.2M447.3 114.9h2.2M540.7 102h2.2M504.1 134.9h2.2M420.2 103.8h2.2M408.1 150.5h2.2M504.3 111.3h2.2M537.9 79h2.2M414 118.5h2.2M531.2 104.8h2.2M544.8 100.8h2.2M412.2 114.4h2.2M457.2 88.3h2.2M455.7 111.7h2.2M501.5 102.1h2.2M406.3 99.5h2.2M408 135.3h2.2M431.6 93.9h2.2M539.7 111.7h2.2M461.3 140.9h2.2M474.9 94h2.2M557.8 111.6h2.2M403.4 95.2h2.2M457.8 132.2h2.2M539.6 80h2.2M470.8 138.7h2.2M532.4 106.9h2.2M487.8 179.8h2.2M436.1 144.5h2.2M511.5 148h2.2M438.7 95.9h2.2M390.3 133.3h2.2M403.8 101.7h2.2M428.3 112.1h2.2M472.3 132.8h2.2M448.1 132.6h2.2M469.6 109.7h2.2M406.7 93.6h2.2M388.3 101.9h2.2M378.9 117.2h2.2M481.2 82.2h2.2M516.4 121.4h2.2M501.7 82.9h2.2M476.6 99.6h2.2M394 98.1h2.2M450 119.2h2.2M501.8 160h2.2M387.3 93.9h2.2M372.1 100.1h2.2M490.3 173h2.2M390.2 100h2.2M447.9 77.2h2.2M381.9 94.1h2.2M467.7 164.1h2.2M371.6 102.3h2.2M450.6 139.8h2.2M512.5 147.9h2.2M454.5 108.2h2.2M472.8 137h2.2M498.6 138.7h2.2M429.6 89.6h2.2M451 118.5h2.2M454.2 98.6h2.2M463.5 135.6h2.2M390.7 145.6h2.2M507.6 91.6h2.2M461.7 147.4h2.2M450.2 137.4h2.2M381.4 127.9h2.2M456.8 99.1h2.2M396.4 144.1h2.2M518.1 114.6h2.2M387.5 101.1h2.2M507 158.6h2.2M506.7 78.9h2.2M426.1 114.8h2.2M480.9 177.5h2.2M382.1 105h2.2M538.8 85.6h2.2M492 96h2.2M553.3 113.4h2.2M468.6 106.3h2.2M498 174.6h2.2M524.3 101.9h2.2M440.2 149.2h2.2M402.6 98.6h2.2M408.3 81.2h2.2M455.9 129.4h2.2M395.6 97h2.2M437.2 110.4h2.2M497.8 96.9h2.2M520.8 91.5h2.2M464.9 166h2.2M526.1 95.4h2.2M463.8 137.4h2.2M373.2 97.2h2.2M457 135.3h2.2M472.5 109.1h2.2M519.6 119.5h2.2M504 162.9h2.2M390 137.1h2.2M436.2 112.7h2.2M487.3 158h2.2M480.1 102h2.2M430 161.9h2.2M503 127.6h2.2M447 151h2.2M495.9 178.7h2.2M514.8 113.5h2.2M521.1 118.6h2.2M466.3 173.5h2.2M424.4 155.4h2.2M485.6 97.9h2.2M500.7 136.9h2.2M400.4 90.8h2.2M525.2 93.8h2.2M461.6 96.4h2.2M446.7 113.6h2.2M411.7 93.3h2.2M503.8 105.2h2.2M445.3 121.6h2.2M414.4 86.6h2.2M461.9 143.4h2.2M391.4 124.3h2.2M404.4 138.9h2.2M437.3 146.4h2.2M521.6 115.9h2.2M444.6 78h2.2M411.8 141.2h2.2M526.2 85h2.2M441.4 131.6h2.2M509.8 125.2h2.2M455.1 134.4h2.2M393.4 123.6h2.2M427.7 88.3h2.2M471.9 150.6h2.2M480.4 149.8h2.2M444.6 115.3h2.2M437 97.1h2.2M424.7 134.6h2.2M459.4 84.1h2.2M512.1 130.8h2.2M544.7 99.3h2.2M404.8 150.9h2.2M521.8 95.1h2.2M431.3 95.3h2.2M429.3 100.6h2.2M443.9 134.1h2.2M434.4 165.5h2.2M443.7 150.1h2.2M524.6 79h2.2M467.1 120.2h2.2M522.5 94.8h2.2M418.2 158.6h2.2M424.1 102.5h2.2M457.8 172.1h2.2M526.7 113.7h2.2M383.6 112.1h2.2M493 85.2h2.2M426.1 136.2h2.2M435 136.4h2.2M392.1 141.5h2.2M411.3 133.4h2.2M407.3 120.6h2.2M421.9 143.5h2.2M433.2 138.4h2.2M422.1 152.5h2.2M466.5 104.9h2.2M386.9 115.1h2.2M550.1 92.9h2.2M483.8 139.1h2.2M388.2 127.8h2.2M512.3 148.1h2.2M395.7 116.5h2.2M518.3 80.7h2.2M479.6 99.9h2.2M490.3 154.2h2.2M487.7 134.5h2.2M538.8 76.2h2.2M443.8 94.3h2.2M415.9 100.2h2.2M453.6 112.3h2.2M512.2 86.1h2.2M509.8 95.2h2.2M526.1 77.4h2.2M427.2 162.1h2.2M482.6 97.6h2.2M417.9 118.5h2.2M389.4 98.1h2.2M494.5 84.9h2.2M410.9 84.6h2.2M556.7 111.6h2.2M469.7 128.8h2.2M406.3 125.7h2.2M544.9 84.4h2.2M512.7 138.7h2.2M540.8 107.9h2.2M460.1 163.5h2.2M420.2 112.1h2.2M517.9 117.1h2.2M416.8 113.8h2.2M500.7 87.6h2.2M371.3 108.7h2.2M399.8 88.7h2.2M424 140.9h2.2M453.8 89h2.2M390.5 129.9h2.2M438.2 127.2h2.2M391.8 110.2h2.2M467.5 166.7h2.2M484.5 83.9h2.2M492.4 78.4h2.2M473.1 89.5h2.2M424.7 82.8h2.2M543.1 85.7h2.2M500.7 162.7h2.2M457.5 136.7h2.2M435.1 164.2h2.2M502.9 77.9h2.2M506.4 85.2h2.2M463.5 90.2h2.2M464.2 145.1h2.2M512.1 106.7h2.2M381.6 121.3h2.2M490.2 158h2.2M493.7 179.3h2.2M526.2 85.3h2.2M422 151.6h2.2M482.7 169.2h2.2M519.9 107.4h2.2M404 145.4h2.2M392.4 126.5h2.2M424.1 115.5h2.2M496.8 142.6h2.2M495.4 172.3h2.2M445.4 93.3h2.2M455.9 166.8h2.2M516.3 84h2.2M409.9 93h2.2M514.4 98h2.2M541.9 116.8h2.2M408.2 117.2h2.2M375.5 117.3h2.2M536.2 117.8h2.2M480.1 128.4h2.2M508.8 138.9h2.2M558.1 89.8h2.2M456.2 167.6h2.2M426.1 114.4h2.2M497.4 176h2.2M428.8 146.1h2.2M505.3 166.6h2.2M493 133.2h2.2M408.1 129.2h2.2M379.2 104.2h2.2M408.8 108.4h2.2M482.9 100.8h2.2M516.4 76.6h2.2M501.2 98.8h2.2M555.1 107.1h2.2M444.3 92.2h2.2M438.2 77.2h2.2M495.9 75.7h2.2M424.8 161.9h2.2M512.6 143.8h2.2M487.4 85.1h2.2M473.2 90.6h2.2M387.6 98.6h2.2M425 130h2.2M520.9 104.6h2.2M485.9 143h2.2M376.5 93.7h2.2M523.4 70.4h2.2M408.3 76.9h2.2M483.1 84.9h2.2M521.9 121.4h2.2M557.9 91.1h2.2M441.1 161.3h2.2M435.7 141.8h2.2M420.3 153h2.2M425.6 118h2.2M398 89h2.2M500.6 152.3h2.2M526.3 96h2.2M438.8 138.8h2.2M411.9 120.3h2.2M502.6 94.6h2.2M498.7 115.4h2.2M391.4 144.8h2.2M485.5 130.7h2.2M402.1 96.3h2.2M446.4 102.9h2.2M479.3 165.3h2.2M531.4 91.2h2.2M484.5 91.8h2.2M383.6 94.5h2.2M535.9 112.4h2.2M437.5 150.4h2.2M473.1 107.2h2.2M399.9 82.2h2.2M378.5 94.8h2.2M472 99.8h2.2M465.1 127.3h2.2M421.8 82.5h2.2M451.6 163.3h2.2M397.7 131.5h2.2M428.7 125.2h2.2M457.7 166.7h2.2M490.2 132.9h2.2M470 172.6h2.2M439 84.1h2.2M405 97.2h2.2M477.8 161.7h2.2M458.4 129.5h2.2M451.9 116.1h2.2M452.6 165h2.2M452.8 92.4h2.2M463 104.4h2.2M420.6 158.8h2.2M438.2 141.6h2.2M429.3 82.1h2.2M506.6 139.9h2.2M404.6 127.2h2.2M484.7 142.3h2.2M533.7 70.9h2.2M419.8 115.4h2.2M505.7 150h2.2M423.3 97.8h2.2M394.6 107.2h2.2M481.6 126h2.2M546.4 97.3h2.2M519 92.6h2.2M423.1 84.8h2.2M473.9 101.9h2.2M481 152.1h2.2M414.5 84.1h2.2M441.9 88h2.2M493 148.9h2.2M493.8 128.6h2.2M449.2 162.5h2.2M395 138.6h2.2M423.3 96.1h2.2M429.5 115h2.2M455 161.1h2.2M447 98.8h2.2M509.9 129.7h2.2M438.3 103.5h2.2M541.9 119.5h2.2M410 88.2h2.2M404.1 104.1h2.2M451.4 113.4h2.2M436.8 128h2.2M381.5 124.9h2.2M382.5 135.9h2.2M533.1 107.4h2.2M477.5 135.6h2.2M432.9 117.2h2.2M437.2 162.9h2.2M462.2 86.1h2.2M444.3 121.3h2.2M494.1 177.1h2.2M473.8 93h2.2M406.2 151.7h2.2M549.5 92.5h2.2M416.9 85.5h2.2M411.2 95.1h2.2M451.3 96.5h2.2M498.5 96.7h2.2M422.3 117.6h2.2M500.7 74.5h2.2M463.3 172.4h2.2M453.2 106.2h2.2M398.6 93h2.2M434.7 80.8h2.2M489.4 92.1h2.2M469.2 149.6h2.2M466.7 155.1h2.2M521 120.9h2.2M387.2 89.8h2.2M418.8 95.1h2.2M541.5 96.4h2.2M486.1 177.9h2.2M460.6 118.3h2.2M475.4 171.7h2.2M405.5 100.5h2.2M438.8 125h2.2M543.6 111h2.2M415.7 128.5h2.2M538.7 91.7h2.2M468.6 175.6h2.2M480.8 161.3h2.2M526.3 120.4h2.2M503.6 149.4h2.2M455.6 129.4h2.2M501.1 133h2.2M534.8 96.8h2.2M460.8 98.6h2.2M398.3 137.7h2.2M520.1 108.9h2.2M386.4 137h2.2M437.8 95.9h2.2M527.3 113.3h2.2M508.2 132.8h2.2M415.2 101.4h2.2M500 169.4h2.2M547.4 86.7h2.2M420.9 80.4h2.2M407.5 113.8h2.2M484.7 85.8h2.2M443.4 85.5h2.2M424.8 135.7h2.2M467.5 88.8h2.2M492.3 138.9h2.2M433 103.6h2.2M517.5 70.6h2.2M496.8 180.2h2.2M406.7 118h2.2M496.3 147.4h2.2M426.4 148.3h2.2M447.3 148.7h2.2M500.5 93.2h2.2M393.7 108.6h2.2M552.9 103.1h2.2M438.9 164.7h2.2M383.2 107.8h2.2M457 168h2.2M464.9 112.2h2.2M389.9 120.3h2.2M531.4 86.7h2.2M383.6 92.8h2.2M523.6 89.6h2.2M523 76.8h2.2M407.1 145.5h2.2M403.9 119.6h2.2M399.9 79.5h2.2M464.2 132h2.2M533.9 69.3h2.2M439.3 77.2h2.2M477.3 88.1h2.2M495.9 146.7h2.2M487.5 92.3h2.2M502.7 181.8h2.2M437.2 92.2h2.2M497 167.9h2.2M403.2 91.8h2.2M467.4 92.6h2.2M376 118.6h2.2M409.9 88.2h2.2M484.2 179.2h2.2M461.4 133.9h2.2M505.5 168.9h2.2M556.9 107.6h2.2M487.4 171.7h2.2M393.8 84.2h2.2M394.4 111h2.2M450.9 145.4h2.2M420.3 153h2.2M455.9 116.7h2.2M407.4 97.1h2.2M448.8 131.1h2.2M465.8 103h2.2M451.4 118.9h2.2M426.5 121.9h2.2M397.3 124.9h2.2M400.3 127h2.2M462.2 104.1h2.2M381.5 106.6h2.2M437.9 80.9h2.2M486.3 94.4h2.2M473.3 151.5h2.2M493.6 173h2.2M503.8 166.4h2.2M498.5 94.9h2.2M439.8 132h2.2M524.3 88.3h2.2M413.3 118.5h2.2M468.5 168.4h2.2M423.4 122.8h2.2M418.6 137.5h2.2M507 135.6h2.2M499.4 182.1h2.2M534 97.5h2.2M480.9 144.2h2.2M489.8 171.3h2.2M543.8 105.6h2.2M542.6 105.6h2.2M502.5 87.2h2.2M459.5 82.4h2.2M493.2 132.1h2.2M481.4 140.8h2.2M421.7 86.7h2.2M409.8 126.6h2.2M446.2 157.4h2.2M398.4 92.8h2.2M471.7 148.9h2.2M431.5 92.9h2.2M395.2 111.2h2.2M444 161.6h2.2M417.3 108.5h2.2M514.3 92.9h2.2M546.9 105.6h2.2M425.6 122.4h2.2M447.9 166.7h2.2M551.1 90.2h2.2M499.6 88.9h2.2M449.8 155.1h2.2M458.9 168.2h2.2M482 99.8h2.2M411.9 133.8h2.2M469 174.1h2.2M404.1 123.1h2.2M457.2 112.7h2.2M406.9 113.5h2.2M475.4 91.4h2.2M432.7 130.2h2.2M470.7 108.9h2.2M393.4 124h2.2M492.6 76.1h2.2M380.6 130h2.2M487.4 133.7h2.2M415.2 108.9h2.2M415 142.1h2.2M393.6 139.3h2.2M507.7 158.4h2.2M400.4 92.7h2.2M493.6 83.9h2.2M492.4 99.3h2.2M479.2 158.1h2.2M437.4 144.5h2.2M486.7 174.7h2.2M475.8 172.5h2.2M486.9 149.1h2.2M430.8 81.3h2.2M478.3 94.7h2.2M543.2 107.6h2.2M407.9 136h2.2M489.8 80.6h2.2M430.7 81.8h2.2M466 130.3h2.2M431.8 147.2h2.2M456.6 164.3h2.2M501.6 98.9h2.2M530.6 72.2h2.2M523.5 113.6h2.2M466.7 101.5h2.2M475.2 129.9h2.2M407.2 130.6h2.2M386.4 104h2.2M499.7 86.4h2.2M471.6 84.4h2.2M540.6 93.4h2.2M502.1 76.9h2.2M391.4 109.3h2.2M433.8 163.1h2.2M445.9 77.6h2.2M490.5 83.6h2.2M462.6 173.3h2.2M478.5 143.1h2.2M459.5 110.5h2.2M373.4 94.3h2.2M406.9 79.4h2.2M530.8 93.2h2.2M534.4 113.2h2.2M535.4 96.5h2.2M428.6 130.2h2.2M414.1 98.9h2.2M438.5 123.4h2.2M483.7 137.8h2.2M433.4 125h2.2M393.4 100h2.2M393.1 137.3h2.2M428.3 131h2.2M452.8 135.2h2.2M383.8 140.2h2.2M488.6 90.9h2.2M480.1 177.6h2.2M471.2 156.1h2.2M458.3 151.1h2.2M442.7 133.5h2.2M512.1 137h2.2M443.9 102.7h2.2M491.4 171.1h2.2M408.6 144.5h2.2M473.2 143h2.2M498.6 115.4h2.2M440.9 129.5h2.2M492.1 176.8h2.2M497.5 144.9h2.2M438.5 161.3h2.2M465.2 121.6h2.2M504.1 132h2.2M383.3 138.1h2.2M414.6 95.3h2.2M427.4 111.3h2.2M414.4 98.2h2.2M512.3 110.7h2.2M455.8 119.5h2.2M435.2 162.8h2.2M416.2 80.8h2.2M428.6 105.7h2.2M529.3 69.6h2.2M467.6 127.9h2.2M401.5 149.6h2.2M411 155.4h2.2M431.1 79.8h2.2M400 92.6h2.2M396.5 105.4h2.2M557.7 112.4h2.2M446.8 156.5h2.2M538.3 106.9h2.2M404.7 90.2h2.2M447.7 151.7h2.2M459.8 92.5h2.2M431.6 108.3h2.2M388.6 113.8h2.2M512.3 72.7h2.2M496.5 91.2h2.2M528.2 92.1h2.2M385.9 138.3h2.2M533.3 102.1h2.2M398.9 128.6h2.2M515.1 73.2h2.2M506.5 83.2h2.2M443.8 88h2.2M386.7 131.1h2.2M469.4 144.1h2.2M435 123.4h2.2M413.9 127h2.2M463.8 107.2h2.2M474.5 159h2.2M510.8 129.4h2.2M432.9 83.6h2.2M482.8 170h2.2M394.1 100h2.2M453.1 136.6h2.2M504.5 142.7h2.2M410.6 122.6h2.2M452.4 89.6h2.2M447.3 76.2h2.2M503.9 80.9h2.2M443.7 83.1h2.2M538.4 76.3h2.2M531.7 91.2h2.2M472.8 151.7h2.2M400.4 152.2h2.2M453.8 88.3h2.2M475.3 171.6h2.2M462.4 97.8h2.2M534.7 81.4h2.2M503.5 103h2.2M473.8 138.3h2.2M548.9 95.2h2.2M526.6 98h2.2M461.7 94.1h2.2M508.5 80.2h2.2M413.2 157.8h2.2M400.2 95.3h2.2M455.9 99.2h2.2M514 106.5h2.2M473.2 86.6h2.2M520.6 79.5h2.2M416 156.1h2.2M414.7 124.1h2.2M429 113.2h2.2M521.5 106.5h2.2M508.1 137.9h2.2M452.8 91.8h2.2" stroke="#cdcdcd" stroke-width="2.2" fill="none"/>
<path d="M516.8 103.1h1.6M499.2 145.2h1.6M434.7 98.3h1.6M495.5 142.4h1.6M412.5 151.6h1.6M513.8 135.1h1.6M473.2 131.1h1.6M455.2 92.3h1.6M387.2 131.1h1.6M396.1 131.3h1.6M461.3 87.2h1.6M444.1 100.8h1.6M398.4 144.6h1.6M468 87.7h1.6M422.9 133.9h1.6M499.5 142.6h1.6M514.8 110.5h1.6M420.3 83.4h1.6M491.7 167.5h1.6M418.6 103.3h1.6M537 100.6h1.6M464.5 132.8h1.6M522.3 79h1.6M484.1 170.4h1.6M513 80.1h1.6M427.6 122.9h1.6M472.2 133.5h1.6M390.3 127.4h1.6M407.8 119.1h1.6M509.6 156.6h1.6M402.5 102.3h1.6M407.1 139.8h1.6M419.1 77.4h1.6M497.9 81.9h1.6M398.4 147.8h1.6M515.4 85.4h1.6M449.6 106.3h1.6M391.5 142.5h1.6M399 145h1.6M396.3 91.7h1.6M458.1 145.8h1.6M393.8 146.7h1.6M502.8 136.9h1.6M445.4 164.3h1.6M383.6 132.5h1.6M475.9 175.7h1.6M521.2 96.7h1.6M445 138.2h1.6M444.5 76.1h1.6M398.3 86.6h1.6M398.3 134.4h1.6M485 102h1.6M500.9 162.8h1.6M411.2 95.4h1.6M450.5 138.5h1.6M422.7 153.3h1.6M400.3 81.3h1.6M407.5 93.3h1.6M514.4 75.9h1.6M409.5 90.8h1.6M445.2 87.3h1.6M551 103.8h1.6M442.3 160.2h1.6M476.4 172.9h1.6M490 143.8h1.6M453.5 166.1h1.6M457.8 85h1.6M382.5 89.8h1.6M491.9 148.3h1.6M460.9 144.8h1.6M452.1 137.5h1.6M378.8 116.8h1.6M436.9 141.4h1.6M451.4 164.5h1.6M534.9 95.1h1.6M525.7 111.1h1.6M538.1 83.8h1.6M464.8 122.9h1.6M430.2 84.8h1.6M472.7 153.8h1.6M392.2 144.4h1.6M453.5 143.9h1.6M408.1 95h1.6M393.3 146.3h1.6M402.4 104.3h1.6M504.5 84.3h1.6M443.2 141.1h1.6M532.4 91.1h1.6M478.9 139.4h1.6M477.6 138.4h1.6M445 96.5h1.6M499.6 170.5h1.6M502.5 145.5h1.6M481.9 165.2h1.6M469.6 164h1.6M410.3 114.7h1.6M475.8 138.4h1.6M534.7 121.9h1.6M448.5 140.5h1.6M403.3 110h1.6M458 85.3h1.6M526.5 87.1h1.6M475.1 100.5h1.6M495.7 82.3h1.6M466.4 167.6h1.6M500.3 97h1.6M544.4 88.9h1.6M465.3 153.8h1.6M380.5 90.3h1.6M493.4 91.9h1.6M444.4 152.9h1.6M522.4 121.6h1.6M507.3 137h1.6M414.6 98.8h1.6M492.2 157.1h1.6M493.7 85.8h1.6M420.5 136.6h1.6M516.3 117.6h1.6M403.9 117h1.6M482.8 81.6h1.6M497 135.1h1.6M454.2 79.3h1.6M384.3 138.3h1.6M413.9 106.9h1.6M416.5 87.4h1.6M420.4 127.2h1.6M494 99.8h1.6M397.3 98.4h1.6M429.9 161.6h1.6M416.6 85.2h1.6M393.7 84.5h1.6M417.9 128.1h1.6M534.9 70.6h1.6M511.2 132.1h1.6M524.3 80.6h1.6M493.5 93.5h1.6M508.5 89.9h1.6M430.6 108.9h1.6M509.9 135h1.6M496.3 75.3h1.6M429.3 103.8h1.6M454 128.4h1.6M381.9 98.2h1.6M434.6 163.1h1.6M387 117.5h1.6M476.7 149.6h1.6M488.4 161.9h1.6M443.2 163.2h1.6M485.9 101.2h1.6M463.6 147.3h1.6M449 129.7h1.6M405.3 111.7h1.6M450.8 155.3h1.6M401.9 91.8h1.6M375.1 120.4h1.6M439.2 128.9h1.6M387 95.4h1.6M539 91.2h1.6M426.3 133.8h1.6M505.4 144.3h1.6M430.8 108.6h1.6M443.9 102.8h1.6M411.2 126.3h1.6M400.2 106.7h1.6M391.6 91h1.6M472.8 107h1.6M382.8 116.9h1.6M428.3 120.2h1.6M503.9 99h1.6M443.3 124.6h1.6M376.3 97.1h1.6M417.7 92.4h1.6M432.7 162.3h1.6M429.3 136.5h1.6M470.5 137.6h1.6M465.6 151.7h1.6M462.6 136h1.6M428.9 86.6h1.6M407.4 136.7h1.6M545 77.1h1.6M444.6 142.1h1.6M503 161.6h1.6M436.2 161.4h1.6M486.1 180.8h1.6M433.7 141h1.6M505.4 85.8h1.6M401.3 105.8h1.6M498.2 82.8h1.6M408.6 101.1h1.6M476.8 152.5h1.6M484.8 175.9h1.6M508.9 84h1.6M441 94.3h1.6M457.9 102.1h1.6M556.4 113.7h1.6M518.8 108.4h1.6M430.7 150.6h1.6M453.9 151.6h1.6M499.7 98.7h1.6M410.7 122.8h1.6M466.8 172.5h1.6M486.7 83.9h1.6M428.7 139.1h1.6M524.4 94.7h1.6M517.9 94.2h1.6M471.2 159h1.6M398.4 119.7h1.6M475.4 86.4h1.6M410.1 139.9h1.6M404.8 86.5h1.6M543.9 81.8h1.6M481.5 116.7h1.6M419.7 144.6h1.6M426.3 109.3h1.6M553.8 85h1.6M396.5 123.8h1.6M431.6 106h1.6M483.4 179.5h1.6M443.1 168.1h1.6M419.4 95.2h1.6M438.8 105.9h1.6M500.3 152.6h1.6M522.9 89.5h1.6M504.6 77.6h1.6M501.2 94.6h1.6M461.2 153.3h1.6M495.8 140.6h1.6M440 148.4h1.6M398.4 122.2h1.6M553.8 102.6h1.6M542.8 103.7h1.6M552.4 89.5h1.6M401.3 78.5h1.6M381.1 122.9h1.6M439.6 153.7h1.6M449 155.1h1.6M461.8 85.8h1.6M444.9 146.2h1.6M393.1 109.3h1.6M404.7 126.4h1.6M449.2 141h1.6M485.5 99.2h1.6M540.5 121.2h1.6M484.6 158.7h1.6M494.4 178.8h1.6M478.3 169.6h1.6M477.7 146.6h1.6M445.6 77.2h1.6M541.7 77.1h1.6M542.2 95.9h1.6M507.1 137.9h1.6M416.8 107.1h1.6M417.8 130.9h1.6M424.8 132.2h1.6M425.6 82.8h1.6M505.3 99.3h1.6M421.8 152.5h1.6M544.6 111.9h1.6M449.9 111.1h1.6M407.8 132.2h1.6M540.8 99h1.6M462.7 94.2h1.6M449.8 128h1.6M453.2 107.4h1.6M534.1 103.1h1.6M523.5 118.2h1.6M393.8 135.7h1.6M425.3 92.3h1.6M462 162.9h1.6M483.1 91h1.6M402.6 113.4h1.6M508.1 72.6h1.6M414.1 119.4h1.6M548.4 96.3h1.6M505.3 85h1.6M476.5 150.5h1.6M395.2 143.8h1.6M439.5 107.9h1.6M431.6 78.2h1.6M432.7 129.8h1.6M373 104.1h1.6M414.8 155.7h1.6M442.9 169.2h1.6M434.4 83.5h1.6M458.9 78.8h1.6M400.7 129.7h1.6M481.8 93.7h1.6M405.9 129.6h1.6M457 124.9h1.6M500.3 85.2h1.6M400.9 107.3h1.6M450.7 152h1.6M414.7 143.5h1.6M457.3 170.4h1.6M541.1 79.2h1.6M448.2 85.7h1.6M489 127.6h1.6M460.8 141.6h1.6M449.4 123.8h1.6M493.3 150.1h1.6M538.6 73.5h1.6M410.9 91h1.6M485.6 141.2h1.6M390.6 128.7h1.6M481.9 148.8h1.6M423.3 113.6h1.6M490.2 163.5h1.6M470.3 81.7h1.6M448.5 78h1.6M419.6 104.9h1.6M445.7 146.9h1.6M524 110.1h1.6M371.8 112.4h1.6M456.3 116.7h1.6M444.6 139.5h1.6M372.6 105.4h1.6M409.1 113.5h1.6M458.1 91.9h1.6M426.8 95.2h1.6M425.9 114.9h1.6M497.2 159.2h1.6M409 113.1h1.6M460 112.7h1.6M479.7 168.4h1.6M386.9 101.5h1.6M465.1 164.3h1.6M388.3 109.6h1.6M460.5 152.1h1.6M471.9 167.8h1.6M446.2 170.5h1.6M429.8 89.8h1.6M418.4 98h1.6M418.6 117.7h1.6M481.4 86.9h1.6M538 94.6h1.6M437.5 140.2h1.6M429.7 93.7h1.6M538.4 81.8h1.6M520.2 70.7h1.6M475 172.4h1.6M388.3 99.1h1.6M414.3 135.1h1.6M455.6 154.9h1.6M448 106h1.6M440.9 152h1.6M421.8 127.1h1.6M407.5 108.9h1.6M451.8 79.1h1.6M431.3 109.8h1.6M434.3 127.8h1.6M428.2 84.5h1.6M545.9 115.5h1.6M404.3 79.4h1.6M448.2 158.3h1.6M387.8 119.8h1.6M387 93.8h1.6M477.8 144.5h1.6M552.6 106.1h1.6M399.4 150.4h1.6M416.5 109h1.6M455.5 119.3h1.6M425.7 86.8h1.6M444.5 148.9h1.6M411.1 81.9h1.6M371.9 107.6h1.6M416.3 124.9h1.6M475.3 91.6h1.6M510.4 83.8h1.6M456.6 90.8h1.6M498 91h1.6M460.1 86.4h1.6M486.3 128.5h1.6M490.3 145.1h1.6M487.9 177.1h1.6M428.1 137.2h1.6M380.4 126.7h1.6M388.9 92.1h1.6M463.6 139.7h1.6M396.1 125.3h1.6M523.9 72.1h1.6M444.5 151.6h1.6M452.2 89.7h1.6M469.5 131.5h1.6M502.7 157.7h1.6M448.6 111.4h1.6M520.7 122.5h1.6M473.8 98h1.6M552.6 104.2h1.6M467 167.6h1.6M509.8 127.4h1.6M432.5 99.8h1.6M466.8 149.9h1.6M410.2 137.9h1.6M467.8 103.5h1.6M467 89.5h1.6M494.9 82.1h1.6M475.2 80.1h1.6M529.8 70.9h1.6M526.5 103.6h1.6M554.8 107.1h1.6M399.2 146.8h1.6M463.2 100h1.6M485 94.8h1.6M422.3 78.4h1.6M417.1 94.3h1.6M402 117.3h1.6M457.8 138.1h1.6M477.3 148.3h1.6M398.6 100.8h1.6M540.5 116.3h1.6M435.1 101.3h1.6M461.4 111h1.6M376 113.6h1.6M549.2 117.6h1.6M466.9 103.7h1.6M514.2 75.3h1.6M496 149.2h1.6M397.3 106.8h1.6M458.8 98.3h1.6M392 86.5h1.6M523.9 117.4h1.6M425 98.1h1.6M432.2 138.6h1.6M481.5 163.3h1.6M376.1 109.7h1.6M437.3 86.5h1.6M505.4 90.4h1.6M441.3 119.9h1.6M493.2 129.1h1.6M499 161.1h1.6M453.4 126.6h1.6M438.2 165.9h1.6M476.4 149.9h1.6M505.3 171.9h1.6M465.1 164.4h1.6M425.1 87.4h1.6M421 83h1.6M544.1 98.3h1.6M403.2 130.3h1.6M509.3 135.7h1.6M466.5 158.2h1.6M388.9 104.6h1.6M506.3 149.6h1.6M379.4 97h1.6M429.6 127h1.6M389.8 118.7h1.6M398.3 107.9h1.6M437.6 82h1.6M525.7 72.4h1.6M430.5 129.2h1.6M448.7 161.7h1.6M468.9 109.5h1.6M516.3 127.9h1.6M449 152.6h1.6M401.6 124.1h1.6M522.4 115h1.6M497.2 96.7h1.6M448.7 159.6h1.6M421.1 158h1.6M534.7 88.1h1.6M511.3 102.6h1.6M423.9 109.8h1.6M445.2 148.3h1.6M527.4 91.7h1.6M493.6 169h1.6M412.5 123.3h1.6M446.6 131.9h1.6M457.7 127.6h1.6M532.3 82.1h1.6M509.8 101.7h1.6M387.5 122.6h1.6M396.2 122.3h1.6M403.8 120.6h1.6M411.6 120.5h1.6M487.5 147.3h1.6M442.9 78.4h1.6M454.1 141.3h1.6M440.8 153.6h1.6M431.2 163.9h1.6M383.4 117.7h1.6M484.5 82.7h1.6M403.6 117.5h1.6M495.7 175.3h1.6M483.4 154.9h1.6M462.1 161.5h1.6M494.4 77.3h1.6M516.7 119.2h1.6M445.2 133.9h1.6M457 157.5h1.6M439.5 128.6h1.6M415.6 108.1h1.6M392.6 99.2h1.6M424.8 149.1h1.6M399.3 86.7h1.6M388.8 122.8h1.6M477.7 165.9h1.6M389.8 111.1h1.6M406.2 95h1.6M433.2 97.5h1.6M428.2 94.9h1.6M437.5 137.6h1.6M479.5 153.7h1.6M486.5 152.3h1.6M379.8 132.1h1.6M505.9 169.5h1.6M517.6 74.7h1.6M519.4 123.7h1.6M515 78.5h1.6M495.7 82.5h1.6M453 83.9h1.6M418.2 159.4h1.6M427.7 136.3h1.6M418.5 90.5h1.6M388 95.3h1.6M537.4 80.9h1.6M537 94.8h1.6M519.4 83.6h1.6M467.7 135.7h1.6M478.7 169.3h1.6M454.1 99.2h1.6M529.8 126.3h1.6M490.9 84.3h1.6M520.6 71.1h1.6M504 94.8h1.6M470.7 167.7h1.6M425.2 111.6h1.6M535.9 89.6h1.6M450.6 92.1h1.6M531 98.2h1.6M487.1 155.7h1.6M437.1 100h1.6M387.7 142h1.6M450.2 92.1h1.6M433 106h1.6M395.4 137.9h1.6M401.1 94h1.6M507.7 93.6h1.6M434.9 161.7h1.6M492.4 133.3h1.6M495.9 178h1.6M459 81h1.6M461.7 170.9h1.6M409.7 135.6h1.6M385.6 103.4h1.6M456.2 91.6h1.6M503.5 157.2h1.6M529.9 97.5h1.6M486.9 82.1h1.6M457 90.6h1.6M513.2 137.3h1.6M464.5 144.4h1.6M527.2 91h1.6M475.3 100.2h1.6M407.4 94.2h1.6M454.5 89.2h1.6M405.4 104.5h1.6M405.4 112h1.6M430.2 135.4h1.6M487.3 99.8h1.6M385.3 135.3h1.6M551.4 105.9h1.6M424.1 112.4h1.6M455.6 135.5h1.6M407.1 94.6h1.6M375.7 115.6h1.6M394 96h1.6M415.1 127.9h1.6M476.4 162.2h1.6M417.3 142.3h1.6M510.7 134.1h1.6M440.1 128.4h1.6M454.8 85.8h1.6M404.8 103.3h1.6M431.1 86h1.6M474.3 92.2h1.6M529.5 76.2h1.6M440 155.8h1.6M531.7 114.4h1.6M503.8 75.8h1.6M496.2 95.5h1.6M407.4 140.5h1.6M446.1 159.6h1.6M437.2 138.7h1.6M418.3 84.3h1.6M496.2 149.6h1.6M531.9 81.7h1.6M405.3 124.1h1.6M424.9 83.9h1.6M453.7 84.5h1.6M506.5 144.1h1.6M437.7 162.6h1.6M380 117.5h1.6M400.1 124.7h1.6M438.8 76.7h1.6M467.5 135.1h1.6M433 163.7h1.6M471.3 96.3h1.6M483.8 159.4h1.6M467.2 106.6h1.6M476 149.2h1.6M450.1 117.6h1.6M471.2 157.3h1.6M404.2 90.2h1.6M454.9 83.7h1.6M409.6 111.4h1.6M425.2 143.1h1.6M455.9 150.6h1.6M444.5 120.7h1.6M528.9 119.7h1.6M475.8 157.2h1.6M472.8 80.6h1.6M443.7 91h1.6M397.5 136.3h1.6M443.7 111.5h1.6M553.3 110.9h1.6M421.6 138.8h1.6M448 93.2h1.6M558.8 90.1h1.6M387.5 114.6h1.6M458.7 115.9h1.6M517 94.2h1.6M500 172.8h1.6M440.5 95.8h1.6M433.6 150.9h1.6M407.4 124.9h1.6M519.4 109.3h1.6M395.5 147.5h1.6M503.1 139.7h1.6M545.8 112.1h1.6M469.4 121.5h1.6M535.8 107.3h1.6M417.7 111.7h1.6M489.8 95.8h1.6M435.1 164.7h1.6M512.3 153.4h1.6M389 90.3h1.6M554.7 107.4h1.6M453.7 145h1.6M425.8 92h1.6M464.9 124.5h1.6M465.1 152.5h1.6M433.9 115.3h1.6M452.7 109.2h1.6M471.8 167.6h1.6M404.9 150.5h1.6M450.9 122.6h1.6M419.3 93h1.6M431.6 93.7h1.6M491.7 135.1h1.6M489.7 130.5h1.6M463.2 108.5h1.6M431 107.5h1.6M469.2 120.6h1.6M476.6 146.7h1.6M488.4 136.6h1.6M458.1 122.3h1.6M463.5 109.1h1.6M435.8 136.2h1.6M451.3 145.9h1.6M478.6 130.8h1.6M471.1 101.3h1.6M513.9 106.7h1.6M435.1 144h1.6M506.9 165.7h1.6M439.5 139.4h1.6M405 115.1h1.6M418.3 147.8h1.6M553.5 111.6h1.6M468.2 142.9h1.6M518.3 110.5h1.6M422.9 145h1.6M431.1 126.7h1.6M492.3 133.6h1.6M558.4 109.4h1.6M412.6 116.2h1.6M416.7 159.6h1.6M504.4 88.1h1.6M528.1 109.4h1.6M528.8 99.1h1.6M550.5 85.2h1.6M447 104.3h1.6M473.6 131.4h1.6M427.6 137.2h1.6M460.5 137h1.6M412.5 125.6h1.6M504.2 155.8h1.6M430.4 83h1.6M504 83.4h1.6M529.9 71h1.6M468.7 172.5h1.6M421.3 79.3h1.6M501.1 150.5h1.6M553.1 113.4h1.6M441.3 169.1h1.6M450.8 161.8h1.6M411.4 131.9h1.6M505 79.1h1.6M490.9 94.7h1.6M451.3 169h1.6M416.1 112.3h1.6M398.7 86.6h1.6M470.7 125h1.6M470.9 100.7h1.6M452.9 127.4h1.6M548.7 115.3h1.6M535.4 76.7h1.6M507.6 82.9h1.6M423.9 78.8h1.6M392.8 129.4h1.6M518.5 106.7h1.6M401.5 100.7h1.6M415.2 133.6h1.6M374.4 95.6h1.6M491.4 121h1.6M445.8 101.5h1.6M524.9 96.7h1.6M494.3 147.4h1.6M474.2 81.4h1.6M543.7 100.5h1.6M437.7 108.5h1.6M497 144.7h1.6M501.2 182.5h1.6M410.4 114.8h1.6M484.1 170.6h1.6M423.4 127.5h1.6M491.9 159.2h1.6M418.6 156.7h1.6M475.8 141.9h1.6M389.7 130.1h1.6M389.2 142.2h1.6M523.7 113.5h1.6M454.7 141.5h1.6M501.6 94.9h1.6M506.8 144.8h1.6M536.8 75.8h1.6M464.1 108.4h1.6M437.1 98.8h1.6M531.4 121.9h1.6M477.1 82.5h1.6M478.3 142.6h1.6M395.3 108.3h1.6M422.6 133.2h1.6M544.3 120.1h1.6M443.4 141.3h1.6M430.1 97.5h1.6M467.2 122.4h1.6M425.5 105.2h1.6M452 82.2h1.6M413.3 98h1.6M458.8 132.5h1.6M486.5 88.6h1.6M412.5 118.8h1.6M409.3 144.7h1.6M482.6 86.4h1.6M382.3 130.1h1.6M547.7 107h1.6M494 80.9h1.6M429.2 152.5h1.6M513.6 119.1h1.6M540.6 74.2h1.6M426.7 82.4h1.6M415.4 145.6h1.6M469.7 134.9h1.6M451.4 134.8h1.6M402.8 142.3h1.6M529.1 95.4h1.6M514.3 84.4h1.6M425.6 128.2h1.6M409.4 136.5h1.6M462.5 94.8h1.6M501.8 143.3h1.6M554.2 107.9h1.6M430.6 118.8h1.6M529.8 81.7h1.6M479.1 96.6h1.6M459.2 101.2h1.6M471.1 155.9h1.6M487.8 173h1.6M436.5 100.9h1.6M427.1 148.7h1.6M460.4 94.8h1.6M408 88.7h1.6M449.2 92.5h1.6M466.3 123.4h1.6M480 160.4h1.6M540.1 99.2h1.6M454.5 81.5h1.6M412.2 118.9h1.6M426.8 125.8h1.6M450.9 126.8h1.6M464.8 167h1.6M517.2 104h1.6M402.7 105.4h1.6M413.4 84h1.6M402.1 109.2h1.6M474.6 143.1h1.6M400.5 100.5h1.6M407.7 113.6h1.6M498.9 163.5h1.6M531.3 82.8h1.6M469.6 83.5h1.6M467.5 127.3h1.6M533.8 71.9h1.6M406.1 97.4h1.6M454.8 164.5h1.6M499 96.4h1.6M445.9 158.2h1.6M478.3 81.4h1.6M459 95.8h1.6M429.3 108.3h1.6M537.6 78.5h1.6M453.7 119.5h1.6M423 84.1h1.6M476.7 165.8h1.6M414.6 157.9h1.6M555.1 89.1h1.6M445.9 129.1h1.6M479.9 126.4h1.6M517.2 81h1.6M480.5 98.5h1.6M503 141.7h1.6M415.5 125.3h1.6M549.8 115h1.6M411.3 129.9h1.6M526.6 121.9h1.6M533.4 80.9h1.6M436.3 82.5h1.6M533.9 120.9h1.6M456 114h1.6M506.8 96.3h1.6M470.1 123.6h1.6M397.1 91.4h1.6M437.1 101.7h1.6M434.1 166.4h1.6M528.5 112.1h1.6M527.9 80.4h1.6M510.1 149.5h1.6M480.2 140.5h1.6M460.6 118.9h1.6M462.7 139.6h1.6M534.1 107.9h1.6M540.2 74.6h1.6M454.9 103.7h1.6M418.3 79.8h1.6M524.4 115h1.6M502.4 93.3h1.6M477.5 151.5h1.6M441 115.1h1.6M552 86.4h1.6M541.6 99.6h1.6M508.6 81.1h1.6M454.6 91.4h1.6M450.1 146.9h1.6M501.3 171.6h1.6M550.9 104.5h1.6M435.5 117.7h1.6M517.6 79.5h1.6M411.4 157.4h1.6M546.6 87h1.6M395.4 132.4h1.6M415.9 144.3h1.6M492.1 166.1h1.6M501.1 153.8h1.6M556.2 91.8h1.6M412.1 140.4h1.6M411.4 117.4h1.6M485.5 156.5h1.6M507.1 80.8h1.6M411.7 125.1h1.6M519.9 101h1.6M513.3 95.5h1.6M461.8 131.8h1.6M395.4 112.2h1.6M464.7 124h1.6M548.5 113.8h1.6M543.7 102.9h1.6M514.7 86.9h1.6M483.6 155.8h1.6M530.4 74.8h1.6M514.4 86.8h1.6M535.5 88h1.6M453.7 95.8h1.6M493.7 167.7h1.6M383.4 122.7h1.6M427.3 131h1.6M499.9 138.7h1.6M371.9 104.6h1.6M426.2 117.9h1.6M426.2 91.2h1.6M414.2 126h1.6M541 94h1.6M408.6 142.4h1.6M440.7 88.3h1.6M424.2 144.1h1.6M397.1 80.9h1.6M377.4 92.1h1.6M484.7 154.1h1.6M522.3 81.4h1.6M520.6 113.1h1.6M464.6 113h1.6M455.3 109h1.6M534.6 111.8h1.6M390 98.1h1.6M398.1 106.2h1.6M404.8 122.3h1.6M459.2 116.5h1.6M451.4 159.8h1.6M401.1 123.9h1.6M373 109.4h1.6M416.7 154.4h1.6M426.2 116.5h1.6M477.2 146.5h1.6M490.7 163.5h1.6M442.6 144.4h1.6M413.2 95.3h1.6M422.7 115.9h1.6M428.4 138.5h1.6M379.1 105.6h1.6M487.7 161.4h1.6M522.8 119h1.6M523.7 81.2h1.6M450.9 103.6h1.6M410.9 84.4h1.6M507.1 72.5h1.6M495.4 142.4h1.6M419.6 82h1.6M525.5 98.8h1.6M457.2 164.7h1.6M409.1 87.2h1.6M439.6 109.7h1.6M435.5 106.5h1.6M465.9 140.1h1.6M445.1 168.1h1.6M455.2 117.4h1.6M394.8 93.4h1.6M499.2 132.1h1.6M449.4 116.3h1.6M414.7 116.5h1.6M417.2 91.9h1.6M439.6 137.8h1.6M373 111.5h1.6M396.5 148.7h1.6M441.3 119.3h1.6M424.8 85.1h1.6M442.8 105.8h1.6M407.7 149.9h1.6M476.4 158.1h1.6M394.4 99.9h1.6M467.5 99.3h1.6M403 119.6h1.6M485.4 148.5h1.6M519.9 107.1h1.6M515.9 110.7h1.6M481.6 173h1.6M405.4 126.9h1.6M521.1 91.7h1.6M403.2 84.6h1.6M434.5 125.7h1.6M440 126.2h1.6M378.8 102.3h1.6M555.5 106.1h1.6M506.1 141h1.6M460.8 141.1h1.6M505.1 135.9h1.6M522.5 103.8h1.6M415.5 122.4h1.6M543.4 88.3h1.6M481.4 102h1.6M475.6 157.7h1.6M434.6 88.9h1.6M376.5 104.2h1.6M413.3 123.9h1.6M484.4 94.9h1.6M473.8 156.1h1.6M436.9 89.5h1.6M429.4 118h1.6M389.1 123.8h1.6M461.8 92.6h1.6M429.8 95.9h1.6M412.1 77.5h1.6M534.9 70.1h1.6M429.7 156.2h1.6M501.9 78.8h1.6M460.2 124.8h1.6M403 84h1.6M431.2 115.3h1.6M554.6 106.9h1.6M461.2 86.3h1.6M382.9 102.7h1.6M505 139.5h1.6M426.7 153.6h1.6M504.1 79.3h1.6M466.3 153.7h1.6M549.3 93.6h1.6M542.6 78.8h1.6M459.4 168.7h1.6M489.5 129.6h1.6M442.9 87h1.6M415.7 150.7h1.6M422.8 113.6h1.6" stroke="#f2f2f2" stroke-width="1.6" fill="none"/>
<path d="M393.1 127.8h1.9M536.9 103.4h1.9M540.5 99.7h1.9M461.5 145.9h1.9M439.7 114.4h1.9M523 100h1.9M485.1 107.8h1.9M510.5 76.9h1.9M513.4 117.5h1.9M440.1 105.7h1.9M467.9 84.6h1.9M421.1 143.1h1.9M472.8 106.2h1.9M405.1 101h1.9M447.4 84.7h1.9M450 88.5h1.9M496.7 181.2h1.9M456.3 148.5h1.9M478.1 170.6h1.9M439.2 165h1.9M454.7 93.9h1.9M493.5 123.6h1.9M499.1 146.8h1.9M529 71.9h1.9M537.5 99.3h1.9M473.9 177.1h1.9M408.4 126.4h1.9M536.7 119.7h1.9M523.7 86.4h1.9M511.5 72.7h1.9M428.6 145.9h1.9M531.3 126.2h1.9M503.3 121.9h1.9M483.2 102h1.9M477.6 106.2h1.9M428 108.1h1.9M470.8 87.2h1.9M457.9 109.6h1.9M445.6 111.4h1.9M429.5 155.9h1.9M552.9 113.1h1.9M438.3 147.6h1.9M495.5 81.4h1.9M431.3 121.7h1.9M496.8 113.3h1.9M418.9 130.2h1.9M390.6 106.1h1.9M482.3 165.3h1.9M498.2 164.7h1.9M383.9 129h1.9M501.5 95.7h1.9M446.3 94h1.9M520 108.3h1.9M536.8 101.2h1.9M535.3 109.9h1.9M484.4 105.5h1.9M441 110h1.9M484.8 162.2h1.9M447.6 93.5h1.9M435.5 112.4h1.9M464.9 125.9h1.9M448.1 158.4h1.9M494.2 127.8h1.9M470.5 92.4h1.9M461 138.9h1.9M466.3 148.1h1.9M472.1 163.8h1.9M435.8 121.1h1.9M482.3 94.2h1.9M467.7 129.5h1.9M390.9 98.9h1.9M497.4 176.7h1.9M383.3 107.9h1.9M469.2 116.5h1.9M421.9 88.8h1.9M466.6 106.3h1.9M501.7 108.7h1.9M416.3 129h1.9M490.4 154.3h1.9M465.3 150.9h1.9M453.7 130h1.9M496.3 161.3h1.9M529.8 87.6h1.9M383.7 122.3h1.9M418 132.3h1.9M414.6 129.4h1.9M395.6 104.8h1.9M385.5 89.8h1.9M537.6 122.4h1.9M430.4 125.7h1.9M378.1 91.9h1.9M413.4 128h1.9M445.9 82.9h1.9M488.5 171.6h1.9M476.2 108.2h1.9M467.2 97.5h1.9M379.5 104.2h1.9M444.8 159.2h1.9M449.9 170.6h1.9M394 105.3h1.9M403.2 134.4h1.9M468.3 154.3h1.9M472.3 102.4h1.9M402.7 132.2h1.9M470 79.9h1.9M379.1 126.6h1.9M509 110.7h1.9M494.9 99h1.9M473.8 175.9h1.9M449.7 112.8h1.9M373.1 112.7h1.9M453.9 120.6h1.9M471.5 167.4h1.9M466.7 139.9h1.9M443.9 117.3h1.9M559.8 88.8h1.9M432.7 99.6h1.9M415.2 102.7h1.9M416.6 88.5h1.9M456.6 97h1.9M555 108.7h1.9M513.1 143.4h1.9M451.2 98.9h1.9M511.4 109.2h1.9M429.4 162.4h1.9M529.2 105.2h1.9M419.4 99.4h1.9M527.4 124.5h1.9M500.9 147.7h1.9M483.5 148.9h1.9M503.2 168h1.9M529.9 98.4h1.9M514.5 109.8h1.9M481.6 79.7h1.9M406.3 83.7h1.9M546.1 109.6h1.9M458.7 135.6h1.9M504.9 78.7h1.9M434.5 143.3h1.9M478.7 124.8h1.9M470.8 163.7h1.9M449.1 158h1.9M484.4 171.9h1.9M391.6 103.3h1.9M475.6 121.9h1.9M406.4 86.9h1.9M479.1 117.4h1.9M480.5 119.3h1.9M414.2 88.7h1.9M408.7 114.6h1.9M544.5 92.1h1.9M533.3 92.3h1.9M549.4 117h1.9M523.7 101.5h1.9M544.8 109.7h1.9M540.2 107.3h1.9M538.7 92.2h1.9M522.3 117.9h1.9M537.1 112.3h1.9M542.6 100.1h1.9M539.1 103.8h1.9M531.4 93.5h1.9M538.6 119.7h1.9M538.6 118.3h1.9M535.6 93.5h1.9M558.5 91.5h1.9M539.7 111.9h1.9M548.1 105.7h1.9M545.9 109.2h1.9M546.8 113.7h1.9M539.6 95.1h1.9M530.7 104h1.9M546.7 110.5h1.9M536.8 112.5h1.9M537.9 112.6h1.9M544.9 101.7h1.9M530.4 98.4h1.9M504.8 103.3h1.9M531.8 81.8h1.9M530.8 104.4h1.9M549.2 102.2h1.9M557.6 89.5h1.9M527.4 122h1.9M539.5 88.9h1.9M536.5 108.6h1.9M531 112.6h1.9M524 103.6h1.9M526.9 110.6h1.9M542.9 111.8h1.9M530.8 97.3h1.9M556.7 91.2h1.9M525.5 107.3h1.9M520.6 86h1.9M539.7 98.1h1.9M537 108.4h1.9M545.9 101.9h1.9M518.7 116.7h1.9M530.7 122h1.9M549.3 106.2h1.9M530.7 124.7h1.9M536.3 99.7h1.9M528.9 123.6h1.9M530.6 94.5h1.9M541.4 109.9h1.9M527.3 115.4h1.9M521.1 86.8h1.9M530.1 91.9h1.9M518.4 102.3h1.9M539.7 106h1.9M522.8 101.8h1.9M542.3 99h1.9M530.3 111.8h1.9M522.8 88.7h1.9M546.4 111.4h1.9M527 88.7h1.9M537 98.5h1.9M533.4 93.2h1.9M542.6 100.3h1.9M551.4 84.2h1.9M529.9 100.8h1.9M528.9 113.7h1.9M541.9 100.4h1.9M525.3 110.4h1.9M515.5 101.5h1.9M545.3 106.5h1.9M549.2 111.3h1.9M522.3 89.6h1.9M534.9 98.5h1.9M538.4 104.9h1.9M542.3 119.6h1.9M528.1 96.3h1.9M530.1 94.1h1.9M531.7 113.8h1.9M530.4 107.3h1.9M534.3 98.5h1.9M509.9 92.9h1.9M545.3 86.3h1.9M545.3 105.6h1.9M533 121.4h1.9M545 104.1h1.9M525.4 105.1h1.9M535.7 103.4h1.9M545.2 99.8h1.9M533 85.8h1.9M546.4 96.7h1.9M515.2 113.3h1.9M526.3 105.3h1.9M525.5 97.3h1.9M538.1 82.8h1.9M537.4 101h1.9M522.7 101.1h1.9M546.3 107.6h1.9M556.4 105.8h1.9M537.9 111.7h1.9M542.9 98.5h1.9M528.6 90.1h1.9M532.6 101.7h1.9M527.6 111h1.9M532.6 105.1h1.9M530.6 86.6h1.9M547.1 103h1.9M524.8 80.9h1.9M545.3 95.6h1.9M551.7 101.2h1.9M520.4 99.3h1.9M541.1 115.1h1.9M513.2 104.6h1.9M524.9 101.2h1.9M541.2 104.2h1.9M541.4 114.1h1.9M550.5 103.4h1.9M516.4 117h1.9M551.6 111.8h1.9M552.5 99.5h1.9M536.4 112.6h1.9M539.5 96.9h1.9M548.5 100h1.9M553 115.5h1.9M534.7 88.7h1.9M548.5 105.7h1.9M507.3 106.5h1.9M547.5 111.5h1.9M525.3 117.4h1.9M525.2 107.9h1.9M519.9 106.4h1.9M547.1 107.4h1.9M535.9 113.9h1.9M529.5 111.9h1.9M522.8 117.4h1.9M545.6 109.3h1.9M533.2 89.2h1.9M532.4 113.4h1.9M533.3 94.6h1.9M545.7 82.4h1.9M547.3 118.4h1.9M537.8 119.1h1.9M550.7 95.5h1.9M544.5 98h1.9M532.5 118.4h1.9M526 115.3h1.9M535.9 112.5h1.9M531.1 101.6h1.9M536.8 109.7h1.9M533.2 99h1.9M532.2 126.4h1.9M521.6 103.3h1.9M528.7 116.7h1.9M538.1 94.7h1.9M541.4 110.3h1.9M531.5 93h1.9M544.4 101.7h1.9M533.1 94.4h1.9M531.9 122.1h1.9M532.1 112h1.9M523.1 108.7h1.9M526.1 111.2h1.9M541.2 109.5h1.9M538.1 108.9h1.9M518.2 100.2h1.9M542 98.1h1.9M505.2 112.4h1.9M505.9 130.4h1.9M505.7 147.3h1.9M499 124.4h1.9M499.4 133.9h1.9M490.9 120.4h1.9M518.7 121.4h1.9M497.1 135.8h1.9M487.8 127.9h1.9M501 121.7h1.9M508.9 118.1h1.9M476.5 144.2h1.9M488.1 142h1.9M521.7 123.2h1.9M510.9 126.9h1.9M502.2 109.3h1.9M495.5 138.5h1.9M515.9 119.6h1.9M492.6 144.2h1.9M507.3 134.7h1.9M490.6 124.2h1.9M513.4 128.9h1.9M486.8 118.3h1.9M501.2 131.3h1.9M512.3 131.5h1.9M506.3 129.6h1.9M488.4 128.1h1.9M496.7 123.1h1.9M487.6 126.9h1.9M507.1 148.6h1.9M524.9 117.3h1.9M499 130.2h1.9M491.3 107.7h1.9M493.7 134.8h1.9M503.9 116.1h1.9M484.5 119.4h1.9M478.9 125.5h1.9M482.2 122.3h1.9M511.6 128.8h1.9M509.5 121.5h1.9M494.2 116.5h1.9M503 126.4h1.9M497.7 133.9h1.9M519.6 108.3h1.9M502.3 135.7h1.9M499.4 141.6h1.9M496.9 120.6h1.9M504.7 118.3h1.9M488.6 128.2h1.9M496.3 128.7h1.9M496.6 137h1.9M508.4 126.9h1.9M486.2 136.5h1.9M497.3 133h1.9M502.7 144.7h1.9M483.3 124.4h1.9M497.2 115.1h1.9M496 122.1h1.9M503.8 137.8h1.9M503.3 122h1.9M502.7 109.6h1.9M498.6 123.2h1.9M512.8 141.2h1.9M499.5 130.1h1.9M484.4 120.2h1.9M506.8 113.8h1.9M490.5 122.6h1.9M506.8 124.5h1.9M493.9 129.4h1.9M484.2 121h1.9M488.4 127h1.9M514 131.9h1.9M482.9 114.6h1.9M489.1 113.7h1.9M493.9 151.3h1.9M487.2 121.5h1.9M483.3 140.8h1.9M489.6 118.6h1.9M484.4 116.6h1.9M506.3 127.5h1.9M507.8 126h1.9M482.6 134.5h1.9M502.9 119.6h1.9M494.3 139.5h1.9M488 129.3h1.9M498.5 129.5h1.9M508.3 124.2h1.9M512.3 120.8h1.9M504.4 132h1.9M493.9 132.7h1.9M481.6 166.4h1.9M469.5 164.2h1.9M496.2 155h1.9M489.9 169.2h1.9M475.6 158.1h1.9M498.9 165.7h1.9M504.1 170.9h1.9M485.8 157.7h1.9M487.7 173.7h1.9M498.6 153h1.9M487.2 177.2h1.9M489 168.6h1.9M499.9 148.1h1.9M484.3 176.1h1.9M498.3 162h1.9M480.4 140.5h1.9M494 171.9h1.9M485.1 155.6h1.9M464.4 172.4h1.9M494.1 173.2h1.9M482 160.1h1.9M480.3 168.5h1.9M476.5 152.9h1.9M499.2 162.1h1.9M491.6 156h1.9M485.4 154.1h1.9M484.4 172.3h1.9M511.3 147.2h1.9M481.5 140.1h1.9M486.3 170.3h1.9M468.6 153.2h1.9M481.1 156h1.9M479.4 166.7h1.9M504.8 158.1h1.9M486 155.8h1.9M471.8 145.7h1.9M490.9 169.2h1.9M502.2 167.8h1.9M488.4 157.1h1.9M509.8 158.8h1.9M502.9 172h1.9M483.5 170.4h1.9M495.8 151.4h1.9M463.6 144.6h1.9M466.8 173.4h1.9M477.6 167.1h1.9M496.2 165.8h1.9M509.5 160.2h1.9M506.6 156.9h1.9M485.4 140.1h1.9M500.3 161h1.9M494.9 176.4h1.9M500.2 174.4h1.9M479.1 159h1.9M486.5 156.9h1.9M477.8 163.5h1.9M490.4 160.5h1.9M484.1 179.2h1.9M499.8 153.5h1.9M471.4 170.1h1.9M500.5 161.2h1.9M495.3 179.8h1.9M495.5 172.7h1.9M481.3 155h1.9M489.4 166.6h1.9M478.1 154.4h1.9M455.2 170.3h1.9M477.6 151.9h1.9M497.5 162.1h1.9M472.2 166.6h1.9M481.2 180.3h1.9M463.5 152.4h1.9M476.1 168.9h1.9M488.1 165.7h1.9M492.1 166.5h1.9M507.9 149.3h1.9M489.5 156.7h1.9M483.5 161.5h1.9M473.6 162.5h1.9M486.1 160.5h1.9M504.6 158.9h1.9M494.8 166h1.9M485.5 144.1h1.9M498.6 165.6h1.9M487.1 160.5h1.9M480.5 159.8h1.9M490.9 160.6h1.9M486.8 154h1.9M494.5 173.7h1.9M498.6 138.3h1.9M492.7 165.3h1.9M502.6 154.7h1.9M486.2 168.2h1.9M485.7 151.5h1.9M492.5 180.5h1.9M501.1 150h1.9M497.2 165.7h1.9M456.8 169h1.9M504.3 156.2h1.9M500.7 175h1.9M473.8 161.1h1.9M486.9 174.3h1.9M485.9 174.6h1.9M496.7 164.3h1.9M491.4 168.3h1.9M476.1 175.6h1.9M474.7 145.8h1.9M491 165h1.9M491.9 158h1.9M470.3 151.8h1.9" stroke="#ab4a4e" stroke-width="1.9" fill="none"/>
<path d="M394.6 132h1.9M550.2 116.5h1.9M494.2 158.1h1.9M441.3 81.4h1.9M477.7 85.4h1.9M474.3 120h1.9M496.7 79.6h1.9M426.4 131.9h1.9M447.2 143h1.9M440.4 98.6h1.9M468.9 127.1h1.9M397.1 139.9h1.9M533.2 89.6h1.9M489.8 131.5h1.9M423.6 149.9h1.9M498.9 147.3h1.9M519.5 100.4h1.9M456 137.8h1.9M508.1 116.4h1.9M439.4 141.6h1.9M389 131.7h1.9M448.3 148.5h1.9M505.2 106.1h1.9M478.5 119.4h1.9M380.1 132h1.9M468.9 136.4h1.9M469.1 114.2h1.9M399.5 85.7h1.9M528.9 95.6h1.9M485.7 109.7h1.9M429.9 111.5h1.9M490.3 110.8h1.9M435.7 110.6h1.9M444.4 153.7h1.9M500.5 183.9h1.9M469.7 151.2h1.9M409.3 143.6h1.9M445.5 153.9h1.9M398.8 127.1h1.9M484.2 119.9h1.9M501.9 126.8h1.9M508.6 130.8h1.9M532.5 107.4h1.9M425.2 160.3h1.9M472.8 140.4h1.9M446 118.3h1.9M384.6 137.3h1.9M525.9 109.9h1.9M506.2 154h1.9M503.3 89h1.9M456.9 139h1.9M391 91.2h1.9M523.5 87.1h1.9M474.2 104h1.9M504.5 118.5h1.9M423.7 130.7h1.9M474 152.2h1.9M490 158.5h1.9M393.1 135.3h1.9M421.5 127h1.9M387.7 102.1h1.9M470.6 163.6h1.9M490.8 163.1h1.9M446.3 82.9h1.9M430.4 147.6h1.9M479.4 82h1.9M412.9 148.8h1.9M470.9 173.2h1.9M475.5 164h1.9M460.2 122.1h1.9M480.8 130.5h1.9M439.7 160.6h1.9M422.2 158.8h1.9M503.8 159.9h1.9M397.5 116.4h1.9M480.3 88h1.9M467.2 158.2h1.9M514.9 111.1h1.9M461.6 140.3h1.9M436.3 86h1.9M450 94.4h1.9M468.4 97.8h1.9M501.4 101.9h1.9M394.4 140.5h1.9M536.1 104.9h1.9M446.8 99h1.9M448.2 165.1h1.9M465.2 165.6h1.9M429.9 96h1.9M459.8 116.7h1.9M435 89.4h1.9M399.2 92.7h1.9M440.5 144.5h1.9M419.4 143.6h1.9M473.7 137.2h1.9M381.5 95.8h1.9M425.6 129.2h1.9M431 112.5h1.9M466.7 134.4h1.9M440.1 109.1h1.9M481.3 141.6h1.9M513.5 142.1h1.9M394.5 110.1h1.9M494.1 151.8h1.9M486.3 139.9h1.9M422.9 135.8h1.9M441.5 107.6h1.9M530.5 100h1.9M534.9 96h1.9M469.9 149.2h1.9M485.8 174.4h1.9M512.4 124.7h1.9M446.3 115h1.9M458.6 165h1.9M376.9 104.2h1.9M505.5 81.5h1.9M524.9 109.9h1.9M541.1 96.4h1.9M433.9 134.6h1.9M481.5 172.9h1.9M410.7 122h1.9M489.4 140h1.9M390.9 135.8h1.9M406 104.7h1.9M546 117.7h1.9M387.2 102h1.9M481.2 87.9h1.9M465.7 125.1h1.9M498.9 101.1h1.9M407.5 123h1.9M406.2 134h1.9M446.9 167.9h1.9M406.8 130.5h1.9M424.8 84.9h1.9M397.3 134h1.9M471.1 140.8h1.9M501.9 77.6h1.9M421.2 88.5h1.9M523.9 78.6h1.9M494.4 104.8h1.9M465.6 83.5h1.9M522.6 86.9h1.9M428.1 97.8h1.9M420.1 138.4h1.9M495.9 84.2h1.9M426.7 84h1.9M508.7 158.2h1.9M406.5 111.4h1.9M462.2 140h1.9M467.4 98h1.9M431.8 147.3h1.9M388.1 118.3h1.9M539.1 90.3h1.9M470.9 93.1h1.9M393 140.1h1.9M544.1 116.7h1.9M547.4 106.6h1.9M501.7 170h1.9M405.4 153.9h1.9M425.4 115h1.9M426.8 115.3h1.9M533.9 116.3h1.9M482.1 137.3h1.9M522.8 121.1h1.9M541.2 95.4h1.9M539.6 87.3h1.9M450.7 101h1.9M411.4 136.1h1.9M471.8 138.4h1.9M443.4 134h1.9M432.1 119.2h1.9M461 98.7h1.9M449.4 102h1.9M551.9 100.4h1.9M502.1 122.6h1.9M493.7 76.4h1.9M506.3 82.2h1.9M392.5 92.7h1.9M505.8 119.2h1.9M410.3 91.2h1.9M425.5 133.2h1.9M384.8 134.3h1.9M467.1 104.3h1.9M386.4 115.8h1.9M507.7 104h1.9M387.7 122.6h1.9M440.4 91.1h1.9M381 104h1.9M481.2 127.1h1.9M429.6 109.8h1.9M398.9 101.5h1.9M467.4 114h1.9M427.3 159.4h1.9M475.8 136.6h1.9M485.9 176.5h1.9M468.7 158.3h1.9M522 102.7h1.9M485.3 121.5h1.9M402.8 113.4h1.9M554.6 108.1h1.9M396.4 148.8h1.9M462.1 139.9h1.9M395.8 129.8h1.9M457.4 135.5h1.9M462.5 133.2h1.9M381.4 109.6h1.9M411.9 113.1h1.9M446 130.3h1.9M410 108.1h1.9M506.6 148.3h1.9M435.6 84.7h1.9M487.2 116.4h1.9M380.3 121.1h1.9M392.7 103.1h1.9M492.9 132.9h1.9M394.5 127h1.9M383.9 115.5h1.9M465.4 121.8h1.9M446.8 111.7h1.9M439.4 123.7h1.9M484.8 86.7h1.9M403.8 142.3h1.9M481.6 125.9h1.9M471.3 110.1h1.9M473.5 103.6h1.9M486.9 104.3h1.9M436.6 121.6h1.9M489.7 158.8h1.9M381 106.3h1.9M417.9 122.5h1.9M467.5 140.8h1.9M422.3 133.4h1.9M415.8 128.5h1.9M447.3 171.2h1.9M471.8 158.1h1.9M420.7 127.6h1.9M472.7 105h1.9M400.2 107.4h1.9M502 136.5h1.9M508.3 79.4h1.9M397.5 89h1.9M478.1 122.5h1.9M483.4 121.2h1.9M392.6 125h1.9M506 149.3h1.9M495.5 157.4h1.9M437.8 157.8h1.9M444 122h1.9M503.2 149h1.9M495.7 84.9h1.9M503.7 159.7h1.9M485.3 97.2h1.9M421 145.3h1.9M515.9 123.9h1.9M426.9 109.8h1.9M496 132.8h1.9M466.8 83h1.9M493 96.2h1.9M502.3 94h1.9M443.2 147.4h1.9M542.9 115.3h1.9M529 77.5h1.9M438 167.7h1.9M438.5 166h1.9M434.7 133.4h1.9M490.9 82.8h1.9M387.4 109.5h1.9M454.2 143.3h1.9M507.5 129.4h1.9M482.3 141.7h1.9M391.4 124.3h1.9M507.8 77.3h1.9M474 89.4h1.9M399.2 120.2h1.9M430.1 111.3h1.9M413.4 115h1.9M459.6 149.3h1.9M489 155.7h1.9M385.2 131.2h1.9M444.5 164h1.9M547.1 95.5h1.9M516.4 118.8h1.9M485.6 113.1h1.9M446.7 119.2h1.9M387.6 94.9h1.9M440.3 81.1h1.9M502.7 100.3h1.9M433.1 90.4h1.9M456.3 105.7h1.9M500.8 174.1h1.9M406.9 121.2h1.9M515.4 72.5h1.9M437.1 77.1h1.9M418.7 150.3h1.9M442.1 99.5h1.9M507 107.4h1.9M534.1 101.3h1.9M389 105.9h1.9M426.8 87h1.9M494.7 183.7h1.9M500.3 99.5h1.9M528.4 105.2h1.9M524.6 118.1h1.9M523.9 108.2h1.9M540.4 90.1h1.9M509.7 112.3h1.9M534.1 105.2h1.9M518.7 92.2h1.9M520.2 83.2h1.9M526.1 94.3h1.9M527.6 92.8h1.9M537.4 104.7h1.9M518.4 107.9h1.9M541.7 109.5h1.9M502.5 120.6h1.9M506.6 102.4h1.9M534.9 87.3h1.9M526.4 96.4h1.9M555.5 85.9h1.9M533.4 98h1.9M531.3 108.5h1.9M533.3 106.8h1.9M542.1 107.6h1.9M536.6 93.5h1.9M541.4 82.7h1.9M507.6 91.1h1.9M528.7 113.7h1.9M528.4 99.3h1.9M538.3 99.4h1.9M508 98h1.9M522.9 100.7h1.9M518.4 100.4h1.9M539.4 100.3h1.9M549 97.9h1.9M539.5 111.6h1.9" stroke="#3d52b0" stroke-width="1.9" fill="none"/>
<line x1="368" y1="195.5" x2="368" y2="158" stroke="#44587a" stroke-width="0.9"/>
<polygon points="368,155.3 366.2,159.5 369.8,159.5" fill="#44587a"/>
<line x1="368" y1="195.5" x2="405" y2="195.5" stroke="#44587a" stroke-width="0.9"/>
<polygon points="407.9,195.5 403.7,193.7 403.7,197.3" fill="#44587a"/>
<text x="370.7" y="206.9" font-size="8.5" textLength="29.9" lengthAdjust="spacingAndGlyphs">UMAP1</text>
<text x="363.4" y="176.8" font-size="8.5" text-anchor="middle" textLength="31.6" lengthAdjust="spacingAndGlyphs" transform="rotate(-90 363.4 176.8)">UMAP2</text>
<text x="620.7" y="26.1" font-size="8.8" textLength="32.5" lengthAdjust="spacingAndGlyphs">Density</text>
<text x="603" y="38.1" font-size="7.6" text-anchor="middle">0</text>
<text x="619.1" y="38.1" font-size="7.6" text-anchor="middle">0.5</text>
<text x="634" y="38.1" font-size="7.6" text-anchor="middle">1.0</text>
<text x="650.2" y="38.1" font-size="7.6" text-anchor="middle">1.5</text>
<text x="665.2" y="38.1" font-size="7.6" text-anchor="middle">2.0</text>
<line x1="600.7" y1="44.5" x2="674.4" y2="44.5" stroke="#8c8c8c" stroke-width="0.7"/>
<line x1="600.7" y1="44.5" x2="600.7" y2="200" stroke="#8c8c8c" stroke-width="0.7"/>
<line x1="603" y1="44.5" x2="603" y2="42.3" stroke="#8c8c8c" stroke-width="0.6"/>
<line x1="619.1" y1="44.5" x2="619.1" y2="42.3" stroke="#8c8c8c" stroke-width="0.6"/>
<line x1="634" y1="44.5" x2="634" y2="42.3" stroke="#8c8c8c" stroke-width="0.6"/>
<line x1="650.2" y1="44.5" x2="650.2" y2="42.3" stroke="#8c8c8c" stroke-width="0.6"/>
<line x1="665.2" y1="44.5" x2="665.2" y2="42.3" stroke="#8c8c8c" stroke-width="0.6"/>
<text x="590.3" y="59.6" font-size="8" text-anchor="middle">0</text>
<line x1="600.7" y1="56.7" x2="598.5" y2="56.7" stroke="#8c8c8c" stroke-width="0.6"/>
<text x="590.3" y="96.9" font-size="8" text-anchor="middle">1</text>
<line x1="600.7" y1="94" x2="598.5" y2="94" stroke="#8c8c8c" stroke-width="0.6"/>
<text x="590.3" y="133.9" font-size="8" text-anchor="middle">2</text>
<line x1="600.7" y1="131" x2="598.5" y2="131" stroke="#8c8c8c" stroke-width="0.6"/>
<text x="590.3" y="171.4" font-size="8" text-anchor="middle">3</text>
<line x1="600.7" y1="168.5" x2="598.5" y2="168.5" stroke="#8c8c8c" stroke-width="0.6"/>
<text x="581.5" y="122.8" font-size="8.6" text-anchor="middle" transform="rotate(-90 581.5 122.8)" textLength="87.6" lengthAdjust="spacingAndGlyphs">log<tspan font-size="6" dy="2">2</tspan><tspan dy="-2">(normalised ed)</tspan></text>
<path d="M631.8 51.5C634.8 51.8 644.8 52.7 650.0 53.5C655.2 54.3 659.4 55.6 663.0 56.5C666.6 57.4 670.5 57.8 671.4 58.6C672.3 59.4 672.1 60.1 668.5 61.2C664.9 62.3 655.9 63.9 650.0 65.0C644.1 66.1 636.8 66.6 633.0 67.6C629.2 68.6 630.0 70.0 627.0 71.0C624.0 72.0 618.4 72.5 615.0 73.5C611.6 74.5 608.2 75.4 606.5 76.8C604.8 78.2 604.9 79.7 604.5 82.0C604.1 84.3 603.8 88.3 604.0 90.6C604.2 92.9 605.5 94.1 605.5 96.0C605.5 97.9 603.9 99.7 603.8 102.0C603.7 104.3 605.0 107.3 605.0 110.0C605.0 112.7 603.6 115.7 603.5 118.0C603.4 120.3 604.1 122.3 604.5 124.0C604.9 125.7 606.2 126.8 606.0 128.0C605.8 129.2 603.7 129.0 603.0 131.0C602.3 133.0 602.2 135.2 602.0 140.0C601.8 144.8 601.8 151.2 601.8 160.0C601.8 168.8 601.8 187.5 601.8 193.0" stroke="#cfcfcf" stroke-width="1.3" fill="none" stroke-linejoin="round"/>
<path d="M608.8 51.5C609.1 52.4 610.1 54.9 610.8 57.0C611.4 59.1 612.1 61.5 612.7 64.0C613.3 66.5 613.5 68.7 614.2 72.0C614.9 75.3 616.2 80.1 617.0 84.0C617.8 87.9 619.1 91.2 619.1 95.2C619.1 99.2 617.8 104.2 617.0 108.0C616.2 111.8 615.5 113.8 614.5 118.2C613.5 122.6 612.2 129.9 611.0 134.4C609.8 138.9 608.1 141.9 607.0 145.0C605.9 148.1 605.0 149.2 604.2 152.8C603.5 156.4 602.8 164.3 602.5 166.6" stroke="#2f3d96" stroke-width="1.3" fill="none" stroke-linejoin="round"/>
<path d="M602.3 51.5C602.3 54.6 602.2 64.6 602.3 70.0C602.3 75.4 602.1 79.7 602.6 83.7C603.1 87.7 604.7 91.0 605.5 94.0C606.3 97.0 607.1 98.3 607.6 102.0C608.1 105.7 608.0 111.4 608.2 116.0C608.4 120.6 608.0 125.5 608.8 129.8C609.6 134.1 611.1 137.8 613.0 142.0C614.9 146.2 619.3 151.2 620.3 155.0C621.3 158.8 620.0 160.8 619.0 165.0C618.0 169.2 616.0 175.3 614.5 180.0C613.0 184.7 610.7 190.8 609.9 193.0" stroke="#a0262a" stroke-width="1.3" fill="none" stroke-linejoin="round"/>
<text x="0" y="168.1" font-size="13" font-weight="bold" style="fill:#000">c</text>
<rect x="45.3" y="168.1" width="146.8" height="122.1" fill="none" stroke="#9a9a9a" stroke-width="0.8"/>
<rect x="54.9" y="174.3" width="59.8" height="81.8" fill="#a8a9ac"/>
<rect x="54.9" y="256.1" width="59.8" height="17.1" fill="#231f20"/>
<rect x="54.9" y="273.3" width="59.8" height="11.6" fill="#6a4c9e"/>
<rect x="122" y="174.3" width="59.9" height="60.3" fill="#a8a9ac"/>
<rect x="122" y="234.6" width="59.9" height="21.6" fill="#231f20"/>
<rect x="122" y="256.1" width="59.9" height="28.8" fill="#6a4c9e"/>
<text x="38" y="177.2" font-size="8.2" text-anchor="end">1.00</text>
<line x1="41.5" y1="174.3" x2="45.3" y2="174.3" stroke="#9a9a9a" stroke-width="0.7"/>
<text x="38" y="204.8" font-size="8.2" text-anchor="end">0.75</text>
<line x1="41.5" y1="201.9" x2="45.3" y2="201.9" stroke="#9a9a9a" stroke-width="0.7"/>
<text x="38" y="232.5" font-size="8.2" text-anchor="end">0.50</text>
<line x1="41.5" y1="229.6" x2="45.3" y2="229.6" stroke="#9a9a9a" stroke-width="0.7"/>
<text x="38" y="260.1" font-size="8.2" text-anchor="end">0.25</text>
<line x1="41.5" y1="257.2" x2="45.3" y2="257.2" stroke="#9a9a9a" stroke-width="0.7"/>
<text x="38" y="287.8" font-size="8.2" text-anchor="end">0</text>
<line x1="41.5" y1="284.9" x2="45.3" y2="284.9" stroke="#9a9a9a" stroke-width="0.7"/>
<line x1="84.8" y1="290.2" x2="84.8" y2="293.5" stroke="#9a9a9a" stroke-width="0.7"/>
<line x1="152" y1="290.2" x2="152" y2="293.5" stroke="#9a9a9a" stroke-width="0.7"/>
<text x="14.5" y="223.6" font-size="8.8" text-anchor="middle" textLength="87.6" lengthAdjust="spacingAndGlyphs" transform="rotate(-90 14.5 223.6)">Proportion in phase</text>
<text x="82.9" y="306.2" font-size="8.8" text-anchor="middle" textLength="38.6" lengthAdjust="spacingAndGlyphs">Controls</text>
<text x="152.9" y="306.2" font-size="8.8" text-anchor="middle" textLength="63.3" lengthAdjust="spacingAndGlyphs">Drug resistant</text>
<text x="211.6" y="210.9" font-size="8.8" textLength="25.8" lengthAdjust="spacingAndGlyphs">Phase</text>
<rect x="211.2" y="219.9" width="7.7" height="7.3" fill="#a8a9ac"/>
<text x="223.6" y="226.2" font-size="8.8">G1</text>
<rect x="211.2" y="234.2" width="7.7" height="7.3" fill="#231f20"/>
<text x="223.6" y="240.5" font-size="8.8">G2M</text>
<rect x="211.2" y="248.4" width="7.7" height="7.3" fill="#6a4c9e"/>
<text x="223.6" y="254.7" font-size="8.8">S</text>
<text x="325" y="248.1" font-size="13" font-weight="bold" style="fill:#000">d</text>
<text x="382.8" y="248.1" font-size="9.8" textLength="56" lengthAdjust="spacingAndGlyphs">Variant class</text>
<rect x="384.8" y="256.3" width="7.3" height="6.9" fill="#d3d3d3"/>
<text x="398.2" y="262.7" font-size="9.8" textLength="33" lengthAdjust="spacingAndGlyphs">Control</text>
<rect x="384.8" y="270.3" width="7.3" height="7" fill="#2b3990"/>
<text x="398.2" y="276.7" font-size="9.8" textLength="117" lengthAdjust="spacingAndGlyphs">Canonical drug resistance</text>
<rect x="384.8" y="284.3" width="7.3" height="7" fill="#9b1c20"/>
<text x="398.2" y="290.7" font-size="9.8" textLength="66.5" lengthAdjust="spacingAndGlyphs">Drug addiction</text>
<path d="M326.1 346.1h2.1v10.5h-2.1zM328.2 346.1h2.1v10.5h-2.1z" fill="#e43030"/>
<path d="M326.1 356.6h2.1v10.5h-2.1z" fill="#e43636"/>
<path d="M326.1 367.2h2.1v10.5h-2.1z" fill="#3c4ea2"/>
<path d="M326.1 377.7h2.1v10.5h-2.1zM335.1 367.2h1.9v10.5h-1.9zM351.6 430.4h1.9v10.5h-1.9zM360.6 419.9h1.9v10.5h-1.9zM360.6 441h1.9v10.5h-1.9zM360.6 451.5h1.9v10.5h-1.9zM367.9 451.5h1.9v10.5h-1.9zM367.9 462.1h1.9v10.5h-1.9zM375.2 462.1h1.9v10.5h-1.9zM377.1 430.4h1.9v10.5h-1.9zM380.7 441h1.9v10.5h-1.9zM382.5 451.5h1.9v10.5h-1.9zM384.4 483.2h1.9v10.5h-1.9zM386.2 472.6h1.9v10.5h-1.9zM388 441h1.9v10.5h-1.9zM393.5 430.4h1.9v10.5h-1.9zM395.3 451.5h1.9v10.5h-1.9zM395.3 483.2h1.9v10.5h-1.9zM397.2 451.5h1.9v10.5h-1.9zM400.8 483.2h1.9v10.5h-1.9zM406.3 441h1.9v10.5h-1.9zM408.1 367.2h1.9v10.5h-1.9zM411.8 430.4h1.9v10.5h-1.9zM411.8 451.5h1.9v10.5h-1.9zM415.4 346.1h1.9v10.5h-1.9zM415.4 356.6h1.9v10.5h-1.9zM417.2 451.5h1.9v10.5h-1.9zM424.6 346.1h1.9v10.5h-1.9zM426.4 409.4h1.9v10.5h-1.9zM430 451.5h1.9v10.5h-1.9zM431.9 483.2h1.9v10.5h-1.9zM437.3 346.1h1.9v10.5h-1.9zM437.3 356.6h1.9v10.5h-1.9zM441 346.1h1.9v10.5h-1.9zM442.8 367.2h1.9v10.5h-1.9zM442.8 451.5h1.9v10.5h-1.9zM446.5 367.2h1.9v10.5h-1.9zM448.3 483.2h1.9v10.5h-1.9zM450.1 356.6h1.9v10.5h-1.9zM450.1 367.2h1.9v10.5h-1.9zM452 356.6h1.9v10.5h-1.9zM453.8 419.9h1.9v10.5h-1.9zM455.6 483.2h1.9v10.5h-1.9zM457.4 441h1.9v10.5h-1.9zM461.1 367.2h1.9v10.5h-1.9zM461.1 472.6h1.9v10.5h-1.9zM464.7 451.5h1.9v10.5h-1.9zM468.4 346.1h1.9v10.5h-1.9zM470.2 367.2h1.9v10.5h-1.9zM470.2 377.7h1.9v10.5h-1.9zM472 462.1h1.9v10.5h-1.9zM472 483.2h1.9v10.5h-1.9zM473.9 346.1h1.9v10.5h-1.9zM475.7 356.6h1.9v10.5h-1.9zM475.7 430.4h1.9v10.5h-1.9zM475.7 441h1.9v10.5h-1.9zM475.7 483.2h1.9v10.5h-1.9zM477.5 398.8h1.9v10.5h-1.9zM479.4 462.1h1.9v10.5h-1.9zM481.2 367.2h1.9v10.5h-1.9zM481.2 388.3h1.9v10.5h-1.9zM481.2 398.8h1.9v10.5h-1.9zM483 483.2h1.9v10.5h-1.9zM488.5 430.4h1.9v10.5h-1.9zM492.1 346.1h1.9v10.5h-1.9zM492.1 472.6h1.9v10.5h-1.9zM494 419.9h1.9v10.5h-1.9zM495.8 367.2h1.9v10.5h-1.9zM497.6 388.3h1.9v10.5h-1.9zM497.6 430.4h1.9v10.5h-1.9zM497.6 462.1h1.9v10.5h-1.9zM499.4 441h1.9v10.5h-1.9zM499.4 451.5h1.9v10.5h-1.9zM501.3 346.1h1.9v10.5h-1.9zM501.3 441h1.9v10.5h-1.9zM503.1 441h1.9v10.5h-1.9zM503.1 472.6h1.9v10.5h-1.9zM504.9 409.4h1.9v10.5h-1.9zM504.9 472.6h1.9v10.5h-1.9zM506.8 409.4h1.9v10.5h-1.9zM506.8 462.1h1.9v10.5h-1.9zM508.6 346.1h1.9v10.5h-1.9zM510.4 451.5h1.9v10.5h-1.9zM515.9 398.8h1.9v10.5h-1.9zM515.9 430.4h1.9v10.5h-1.9zM517.7 356.6h1.9v10.5h-1.9zM517.7 377.7h1.9v10.5h-1.9zM517.7 388.3h1.9v10.5h-1.9zM517.7 409.4h1.9v10.5h-1.9zM517.7 472.6h1.9v10.5h-1.9zM519.5 388.3h1.9v10.5h-1.9zM519.5 430.4h1.9v10.5h-1.9zM519.5 441h1.9v10.5h-1.9zM519.5 451.5h1.9v10.5h-1.9zM523.2 388.3h1.9v10.5h-1.9zM526.8 398.8h1.9v10.5h-1.9zM528.7 462.1h1.9v10.5h-1.9zM528.7 472.6h1.9v10.5h-1.9zM530.5 398.8h1.9v10.5h-1.9zM532.3 462.1h1.9v10.5h-1.9zM532.3 472.6h1.9v10.5h-1.9zM534.2 430.4h1.9v10.5h-1.9zM536 377.7h1.9v10.5h-1.9zM537.8 430.4h1.9v10.5h-1.9zM539.6 409.4h1.9v10.5h-1.9zM539.6 419.9h1.9v10.5h-1.9zM539.6 472.6h1.9v10.5h-1.9zM541.5 367.2h1.9v10.5h-1.9zM541.5 430.4h1.9v10.5h-1.9zM543.3 419.9h1.9v10.5h-1.9zM545.1 367.2h1.9v10.5h-1.9zM545.1 409.4h1.9v10.5h-1.9zM546.9 356.6h1.9v10.5h-1.9zM546.9 430.4h1.9v10.5h-1.9zM548.8 430.4h1.9v10.5h-1.9zM550.6 409.4h1.9v10.5h-1.9zM552.4 356.6h1.9v10.5h-1.9zM552.4 367.2h1.9v10.5h-1.9zM552.4 430.4h1.9v10.5h-1.9zM557.9 367.2h1.9v10.5h-1.9zM559.7 346.1h1.9v10.5h-1.9zM567 472.6h1.9v10.5h-1.9zM568.9 367.2h1.9v10.5h-1.9zM568.9 441h1.9v10.5h-1.9zM568.9 483.2h1.9v10.5h-1.9zM570.7 388.3h1.9v10.5h-1.9zM572.5 346.1h1.9v10.5h-1.9zM572.5 356.6h1.9v10.5h-1.9zM572.5 388.3h1.9v10.5h-1.9zM574.3 388.3h1.9v10.5h-1.9zM574.3 430.4h1.9v10.5h-1.9zM576.2 388.3h1.9v10.5h-1.9zM576.2 398.8h1.9v10.5h-1.9zM576.2 409.4h1.9v10.5h-1.9zM576.2 483.2h1.9v10.5h-1.9zM581.6 419.9h1.9v10.5h-1.9zM583.5 430.4h1.9v10.5h-1.9zM585.3 356.6h1.9v10.5h-1.9zM587.1 398.8h1.9v10.5h-1.9zM587.1 409.4h1.9v10.5h-1.9zM587.1 419.9h1.9v10.5h-1.9zM590.8 367.2h1.9v10.5h-1.9zM590.8 419.9h1.9v10.5h-1.9zM590.8 472.6h1.9v10.5h-1.9z" fill="#fffcfc"/>
<path d="M326.1 388.3h2.1v10.5h-2.1zM360.6 409.4h1.9v10.5h-1.9zM362.5 409.4h1.9v10.5h-1.9zM364.3 451.5h1.9v10.5h-1.9zM369.8 367.2h1.9v10.5h-1.9zM380.7 430.4h1.9v10.5h-1.9zM382.5 346.1h1.9v10.5h-1.9zM382.5 430.4h1.9v10.5h-1.9zM386.2 419.9h1.9v10.5h-1.9zM386.2 430.4h1.9v10.5h-1.9zM389.9 472.6h1.9v10.5h-1.9zM391.7 409.4h1.9v10.5h-1.9zM391.7 451.5h1.9v10.5h-1.9zM397.2 430.4h1.9v10.5h-1.9zM399 398.8h1.9v10.5h-1.9zM404.5 483.2h1.9v10.5h-1.9zM406.3 409.4h1.9v10.5h-1.9zM408.1 398.8h1.9v10.5h-1.9zM408.1 430.4h1.9v10.5h-1.9zM408.1 462.1h1.9v10.5h-1.9zM411.8 441h1.9v10.5h-1.9zM413.6 409.4h1.9v10.5h-1.9zM417.2 419.9h1.9v10.5h-1.9zM420.9 367.2h1.9v10.5h-1.9zM420.9 430.4h1.9v10.5h-1.9zM422.7 367.2h1.9v10.5h-1.9zM422.7 377.7h1.9v10.5h-1.9zM424.6 483.2h1.9v10.5h-1.9zM426.4 356.6h1.9v10.5h-1.9zM426.4 483.2h1.9v10.5h-1.9zM430 419.9h1.9v10.5h-1.9zM431.9 346.1h1.9v10.5h-1.9zM431.9 441h1.9v10.5h-1.9zM444.6 462.1h1.9v10.5h-1.9zM446.5 483.2h1.9v10.5h-1.9zM453.8 430.4h1.9v10.5h-1.9zM455.6 409.4h1.9v10.5h-1.9zM455.6 451.5h1.9v10.5h-1.9zM455.6 462.1h1.9v10.5h-1.9zM457.4 367.2h1.9v10.5h-1.9zM457.4 377.7h1.9v10.5h-1.9zM457.4 398.8h1.9v10.5h-1.9zM459.3 398.8h1.9v10.5h-1.9zM459.3 441h1.9v10.5h-1.9zM461.1 451.5h1.9v10.5h-1.9zM462.9 346.1h1.9v10.5h-1.9zM464.7 346.1h1.9v10.5h-1.9zM464.7 441h1.9v10.5h-1.9zM470.2 430.4h1.9v10.5h-1.9zM472 367.2h1.9v10.5h-1.9zM479.4 388.3h1.9v10.5h-1.9zM484.8 398.8h1.9v10.5h-1.9zM486.7 367.2h1.9v10.5h-1.9zM486.7 409.4h1.9v10.5h-1.9zM492.1 451.5h1.9v10.5h-1.9zM494 462.1h1.9v10.5h-1.9zM497.6 367.2h1.9v10.5h-1.9zM499.4 377.7h1.9v10.5h-1.9zM501.3 483.2h1.9v10.5h-1.9zM503.1 419.9h1.9v10.5h-1.9zM508.6 367.2h1.9v10.5h-1.9zM508.6 388.3h1.9v10.5h-1.9zM512.2 430.4h1.9v10.5h-1.9zM515.9 367.2h1.9v10.5h-1.9zM517.7 419.9h1.9v10.5h-1.9zM521.4 377.7h1.9v10.5h-1.9zM525 398.8h1.9v10.5h-1.9zM537.8 377.7h1.9v10.5h-1.9zM543.3 367.2h1.9v10.5h-1.9zM546.9 483.2h1.9v10.5h-1.9zM550.6 430.4h1.9v10.5h-1.9zM556.1 419.9h1.9v10.5h-1.9zM559.7 451.5h1.9v10.5h-1.9zM567 409.4h1.9v10.5h-1.9zM567 419.9h1.9v10.5h-1.9zM581.6 462.1h1.9v10.5h-1.9zM583.5 451.5h1.9v10.5h-1.9zM588.9 462.1h1.9v10.5h-1.9z" fill="#eaeaf6"/>
<path d="M326.1 398.8h2.1v10.5h-2.1z" fill="#485aa8"/>
<path d="M326.1 409.4h2.1v10.5h-2.1zM351.6 388.3h1.9v10.5h-1.9zM378.9 388.3h1.9v10.5h-1.9zM382.5 419.9h1.9v10.5h-1.9zM382.5 462.1h1.9v10.5h-1.9zM389.9 398.8h1.9v10.5h-1.9zM389.9 419.9h1.9v10.5h-1.9zM389.9 462.1h1.9v10.5h-1.9zM413.6 346.1h1.9v10.5h-1.9zM419.1 472.6h1.9v10.5h-1.9zM424.6 388.3h1.9v10.5h-1.9zM430 388.3h1.9v10.5h-1.9zM435.5 441h1.9v10.5h-1.9zM548.8 451.5h1.9v10.5h-1.9z" fill="#a2a8d8"/>
<path d="M326.1 419.9h2.1v10.5h-2.1zM328.2 472.6h2.1v10.5h-2.1zM335.1 472.6h1.9v10.5h-1.9zM336.9 419.9h1.9v10.5h-1.9zM342.4 356.6h1.9v10.5h-1.9zM344.2 346.1h1.9v10.5h-1.9zM346.1 346.1h1.9v10.5h-1.9z" fill="#f6b4b4"/>
<path d="M326.1 430.4h2.1v10.5h-2.1zM328.2 430.4h2.1v10.5h-2.1zM328.2 483.2h2.1v10.5h-2.1zM335.1 419.9h1.9v10.5h-1.9zM335.1 451.5h1.9v10.5h-1.9zM335.1 483.2h1.9v10.5h-1.9zM340.6 441h1.9v10.5h-1.9zM342.4 472.6h1.9v10.5h-1.9zM344.2 441h1.9v10.5h-1.9zM344.2 483.2h1.9v10.5h-1.9zM349.7 419.9h1.9v10.5h-1.9zM349.7 451.5h1.9v10.5h-1.9zM366.1 356.6h1.9v10.5h-1.9zM366.1 377.7h1.9v10.5h-1.9zM366.1 388.3h1.9v10.5h-1.9zM367.9 419.9h1.9v10.5h-1.9zM369.8 356.6h1.9v10.5h-1.9zM369.8 441h1.9v10.5h-1.9zM371.6 356.6h1.9v10.5h-1.9zM377.1 388.3h1.9v10.5h-1.9zM495.8 483.2h1.9v10.5h-1.9zM504.9 441h1.9v10.5h-1.9zM515.9 346.1h1.9v10.5h-1.9zM541.5 483.2h1.9v10.5h-1.9zM587.1 377.7h1.9v10.5h-1.9z" fill="#fcd8d8"/>
<path d="M326.1 441h2.1v10.5h-2.1zM326.1 462.1h2.1v10.5h-2.1zM328.2 377.7h2.1v10.5h-2.1zM328.2 462.1h2.1v10.5h-2.1zM335.1 462.1h1.9v10.5h-1.9zM358.8 346.1h1.9v10.5h-1.9zM358.8 462.1h1.9v10.5h-1.9zM358.8 483.2h1.9v10.5h-1.9zM360.6 346.1h1.9v10.5h-1.9zM360.6 356.6h1.9v10.5h-1.9zM360.6 430.4h1.9v10.5h-1.9zM360.6 472.6h1.9v10.5h-1.9zM360.6 483.2h1.9v10.5h-1.9zM362.5 441h1.9v10.5h-1.9zM362.5 483.2h1.9v10.5h-1.9zM364.3 356.6h1.9v10.5h-1.9zM364.3 398.8h1.9v10.5h-1.9zM364.3 441h1.9v10.5h-1.9zM364.3 472.6h1.9v10.5h-1.9zM364.3 483.2h1.9v10.5h-1.9zM366.1 409.4h1.9v10.5h-1.9zM366.1 441h1.9v10.5h-1.9zM366.1 462.1h1.9v10.5h-1.9zM369.8 377.7h1.9v10.5h-1.9zM369.8 388.3h1.9v10.5h-1.9zM369.8 409.4h1.9v10.5h-1.9zM369.8 462.1h1.9v10.5h-1.9zM369.8 472.6h1.9v10.5h-1.9zM371.6 388.3h1.9v10.5h-1.9zM373.4 346.1h1.9v10.5h-1.9zM373.4 377.7h1.9v10.5h-1.9zM373.4 388.3h1.9v10.5h-1.9zM373.4 441h1.9v10.5h-1.9zM373.4 451.5h1.9v10.5h-1.9zM375.2 388.3h1.9v10.5h-1.9zM375.2 419.9h1.9v10.5h-1.9zM375.2 441h1.9v10.5h-1.9zM377.1 377.7h1.9v10.5h-1.9zM377.1 419.9h1.9v10.5h-1.9zM378.9 356.6h1.9v10.5h-1.9zM378.9 441h1.9v10.5h-1.9zM380.7 367.2h1.9v10.5h-1.9zM386.2 346.1h1.9v10.5h-1.9zM386.2 441h1.9v10.5h-1.9zM386.2 451.5h1.9v10.5h-1.9zM388 367.2h1.9v10.5h-1.9zM388 483.2h1.9v10.5h-1.9zM395.3 409.4h1.9v10.5h-1.9zM406.3 472.6h1.9v10.5h-1.9zM406.3 483.2h1.9v10.5h-1.9zM408.1 346.1h1.9v10.5h-1.9zM408.1 451.5h1.9v10.5h-1.9zM409.9 377.7h1.9v10.5h-1.9zM409.9 441h1.9v10.5h-1.9zM411.8 367.2h1.9v10.5h-1.9zM411.8 483.2h1.9v10.5h-1.9zM415.4 367.2h1.9v10.5h-1.9zM415.4 409.4h1.9v10.5h-1.9zM431.9 472.6h1.9v10.5h-1.9zM433.7 346.1h1.9v10.5h-1.9zM433.7 356.6h1.9v10.5h-1.9zM433.7 451.5h1.9v10.5h-1.9zM433.7 472.6h1.9v10.5h-1.9zM437.3 367.2h1.9v10.5h-1.9zM437.3 451.5h1.9v10.5h-1.9zM437.3 472.6h1.9v10.5h-1.9zM439.2 409.4h1.9v10.5h-1.9zM448.3 356.6h1.9v10.5h-1.9zM448.3 430.4h1.9v10.5h-1.9zM448.3 441h1.9v10.5h-1.9zM450.1 398.8h1.9v10.5h-1.9zM450.1 483.2h1.9v10.5h-1.9zM452 346.1h1.9v10.5h-1.9zM452 430.4h1.9v10.5h-1.9zM453.8 451.5h1.9v10.5h-1.9zM457.4 346.1h1.9v10.5h-1.9zM459.3 483.2h1.9v10.5h-1.9zM461.1 346.1h1.9v10.5h-1.9zM461.1 441h1.9v10.5h-1.9zM472 419.9h1.9v10.5h-1.9zM472 441h1.9v10.5h-1.9zM473.9 483.2h1.9v10.5h-1.9zM475.7 419.9h1.9v10.5h-1.9zM475.7 451.5h1.9v10.5h-1.9zM477.5 377.7h1.9v10.5h-1.9zM477.5 462.1h1.9v10.5h-1.9zM479.4 409.4h1.9v10.5h-1.9zM479.4 419.9h1.9v10.5h-1.9zM481.2 441h1.9v10.5h-1.9zM481.2 451.5h1.9v10.5h-1.9zM481.2 472.6h1.9v10.5h-1.9zM484.8 409.4h1.9v10.5h-1.9zM484.8 451.5h1.9v10.5h-1.9zM484.8 483.2h1.9v10.5h-1.9zM486.7 398.8h1.9v10.5h-1.9zM488.5 419.9h1.9v10.5h-1.9zM488.5 462.1h1.9v10.5h-1.9zM492.1 462.1h1.9v10.5h-1.9zM494 398.8h1.9v10.5h-1.9zM494 409.4h1.9v10.5h-1.9zM494 472.6h1.9v10.5h-1.9zM494 483.2h1.9v10.5h-1.9zM497.6 346.1h1.9v10.5h-1.9zM497.6 441h1.9v10.5h-1.9zM497.6 451.5h1.9v10.5h-1.9zM497.6 483.2h1.9v10.5h-1.9zM499.4 398.8h1.9v10.5h-1.9zM499.4 430.4h1.9v10.5h-1.9zM499.4 462.1h1.9v10.5h-1.9zM499.4 483.2h1.9v10.5h-1.9zM504.9 419.9h1.9v10.5h-1.9zM504.9 462.1h1.9v10.5h-1.9zM506.8 377.7h1.9v10.5h-1.9zM508.6 356.6h1.9v10.5h-1.9zM510.4 430.4h1.9v10.5h-1.9zM512.2 419.9h1.9v10.5h-1.9zM514.1 441h1.9v10.5h-1.9zM515.9 441h1.9v10.5h-1.9zM517.7 462.1h1.9v10.5h-1.9zM519.5 346.1h1.9v10.5h-1.9zM519.5 398.8h1.9v10.5h-1.9zM519.5 472.6h1.9v10.5h-1.9zM521.4 398.8h1.9v10.5h-1.9zM523.2 398.8h1.9v10.5h-1.9zM523.2 419.9h1.9v10.5h-1.9zM523.2 430.4h1.9v10.5h-1.9zM523.2 451.5h1.9v10.5h-1.9zM525 472.6h1.9v10.5h-1.9zM526.8 346.1h1.9v10.5h-1.9zM528.7 419.9h1.9v10.5h-1.9zM528.7 430.4h1.9v10.5h-1.9zM528.7 451.5h1.9v10.5h-1.9zM530.5 409.4h1.9v10.5h-1.9zM532.3 419.9h1.9v10.5h-1.9zM534.2 356.6h1.9v10.5h-1.9zM534.2 462.1h1.9v10.5h-1.9zM536 430.4h1.9v10.5h-1.9zM536 472.6h1.9v10.5h-1.9zM536 483.2h1.9v10.5h-1.9zM537.8 356.6h1.9v10.5h-1.9zM537.8 367.2h1.9v10.5h-1.9zM537.8 409.4h1.9v10.5h-1.9zM537.8 419.9h1.9v10.5h-1.9zM541.5 398.8h1.9v10.5h-1.9zM545.1 388.3h1.9v10.5h-1.9zM545.1 451.5h1.9v10.5h-1.9zM546.9 346.1h1.9v10.5h-1.9zM546.9 367.2h1.9v10.5h-1.9zM546.9 377.7h1.9v10.5h-1.9zM546.9 388.3h1.9v10.5h-1.9zM546.9 409.4h1.9v10.5h-1.9zM548.8 346.1h1.9v10.5h-1.9zM548.8 398.8h1.9v10.5h-1.9zM550.6 356.6h1.9v10.5h-1.9zM550.6 398.8h1.9v10.5h-1.9zM550.6 419.9h1.9v10.5h-1.9zM552.4 451.5h1.9v10.5h-1.9zM554.2 356.6h1.9v10.5h-1.9zM556.1 377.7h1.9v10.5h-1.9zM557.9 388.3h1.9v10.5h-1.9zM557.9 409.4h1.9v10.5h-1.9zM557.9 441h1.9v10.5h-1.9zM557.9 483.2h1.9v10.5h-1.9zM559.7 377.7h1.9v10.5h-1.9zM559.7 388.3h1.9v10.5h-1.9zM559.7 472.6h1.9v10.5h-1.9zM561.5 346.1h1.9v10.5h-1.9zM561.5 430.4h1.9v10.5h-1.9zM563.4 430.4h1.9v10.5h-1.9zM565.2 430.4h1.9v10.5h-1.9zM567 356.6h1.9v10.5h-1.9zM568.9 388.3h1.9v10.5h-1.9zM568.9 419.9h1.9v10.5h-1.9zM568.9 472.6h1.9v10.5h-1.9zM570.7 419.9h1.9v10.5h-1.9zM570.7 451.5h1.9v10.5h-1.9zM570.7 462.1h1.9v10.5h-1.9zM570.7 483.2h1.9v10.5h-1.9zM572.5 398.8h1.9v10.5h-1.9zM572.5 419.9h1.9v10.5h-1.9zM572.5 430.4h1.9v10.5h-1.9zM574.3 346.1h1.9v10.5h-1.9zM574.3 377.7h1.9v10.5h-1.9zM574.3 419.9h1.9v10.5h-1.9zM574.3 472.6h1.9v10.5h-1.9zM576.2 346.1h1.9v10.5h-1.9zM576.2 356.6h1.9v10.5h-1.9zM576.2 377.7h1.9v10.5h-1.9zM576.2 472.6h1.9v10.5h-1.9zM578 356.6h1.9v10.5h-1.9zM578 398.8h1.9v10.5h-1.9zM578 409.4h1.9v10.5h-1.9zM578 430.4h1.9v10.5h-1.9zM578 472.6h1.9v10.5h-1.9zM581.6 377.7h1.9v10.5h-1.9zM583.5 346.1h1.9v10.5h-1.9zM583.5 367.2h1.9v10.5h-1.9zM583.5 398.8h1.9v10.5h-1.9zM583.5 419.9h1.9v10.5h-1.9zM583.5 441h1.9v10.5h-1.9zM585.3 367.2h1.9v10.5h-1.9zM585.3 409.4h1.9v10.5h-1.9zM585.3 419.9h1.9v10.5h-1.9zM585.3 472.6h1.9v10.5h-1.9zM587.1 356.6h1.9v10.5h-1.9zM587.1 367.2h1.9v10.5h-1.9zM587.1 430.4h1.9v10.5h-1.9zM587.1 441h1.9v10.5h-1.9zM587.1 462.1h1.9v10.5h-1.9zM587.1 472.6h1.9v10.5h-1.9zM587.1 483.2h1.9v10.5h-1.9zM590.8 377.7h1.9v10.5h-1.9zM590.8 388.3h1.9v10.5h-1.9zM590.8 398.8h1.9v10.5h-1.9zM590.8 441h1.9v10.5h-1.9z" fill="#fff6f6"/>
<path d="M326.1 451.5h2.1v10.5h-2.1z" fill="#fcc6c6"/>
<path d="M326.1 472.6h2.1v10.5h-2.1zM328.2 419.9h2.1v10.5h-2.1zM333.3 356.6h1.9v10.5h-1.9zM338.8 483.2h1.9v10.5h-1.9zM340.6 483.2h1.9v10.5h-1.9zM344.2 472.6h1.9v10.5h-1.9zM346.1 472.6h1.9v10.5h-1.9zM347.9 472.6h1.9v10.5h-1.9zM347.9 483.2h1.9v10.5h-1.9z" fill="#f6baba"/>
<path d="M326.1 483.2h2.1v10.5h-2.1zM333.3 419.9h1.9v10.5h-1.9zM336.9 462.1h1.9v10.5h-1.9zM338.8 441h1.9v10.5h-1.9zM338.8 451.5h1.9v10.5h-1.9zM342.4 419.9h1.9v10.5h-1.9zM342.4 451.5h1.9v10.5h-1.9zM347.9 430.4h1.9v10.5h-1.9zM347.9 462.1h1.9v10.5h-1.9zM349.7 441h1.9v10.5h-1.9zM358.8 356.6h1.9v10.5h-1.9zM358.8 377.7h1.9v10.5h-1.9zM358.8 472.6h1.9v10.5h-1.9zM366.1 419.9h1.9v10.5h-1.9zM366.1 430.4h1.9v10.5h-1.9zM367.9 346.1h1.9v10.5h-1.9zM369.8 419.9h1.9v10.5h-1.9zM369.8 483.2h1.9v10.5h-1.9zM371.6 441h1.9v10.5h-1.9zM373.4 419.9h1.9v10.5h-1.9zM373.4 483.2h1.9v10.5h-1.9zM375.2 356.6h1.9v10.5h-1.9zM477.5 430.4h1.9v10.5h-1.9zM477.5 472.6h1.9v10.5h-1.9zM477.5 483.2h1.9v10.5h-1.9zM479.4 356.6h1.9v10.5h-1.9zM479.4 441h1.9v10.5h-1.9zM479.4 472.6h1.9v10.5h-1.9zM484.8 441h1.9v10.5h-1.9zM484.8 472.6h1.9v10.5h-1.9zM486.7 346.1h1.9v10.5h-1.9zM497.6 356.6h1.9v10.5h-1.9zM506.8 356.6h1.9v10.5h-1.9zM506.8 483.2h1.9v10.5h-1.9zM515.9 472.6h1.9v10.5h-1.9zM530.5 451.5h1.9v10.5h-1.9zM530.5 462.1h1.9v10.5h-1.9zM541.5 441h1.9v10.5h-1.9zM552.4 377.7h1.9v10.5h-1.9zM552.4 472.6h1.9v10.5h-1.9zM554.2 483.2h1.9v10.5h-1.9zM588.9 472.6h1.9v10.5h-1.9z" fill="#ffdede"/>
<path d="M328.2 356.6h2.1v10.5h-2.1z" fill="#e43c36"/>
<path d="M328.2 367.2h2.1v10.5h-2.1z" fill="#3c4e9c"/>
<path d="M328.2 388.3h2.1v10.5h-2.1zM362.5 346.1h1.9v10.5h-1.9zM362.5 388.3h1.9v10.5h-1.9zM362.5 451.5h1.9v10.5h-1.9zM375.2 409.4h1.9v10.5h-1.9zM378.9 346.1h1.9v10.5h-1.9zM393.5 398.8h1.9v10.5h-1.9zM393.5 451.5h1.9v10.5h-1.9zM397.2 483.2h1.9v10.5h-1.9zM406.3 419.9h1.9v10.5h-1.9zM408.1 388.3h1.9v10.5h-1.9zM409.9 346.1h1.9v10.5h-1.9zM409.9 409.4h1.9v10.5h-1.9zM411.8 472.6h1.9v10.5h-1.9zM413.6 356.6h1.9v10.5h-1.9zM413.6 472.6h1.9v10.5h-1.9zM420.9 356.6h1.9v10.5h-1.9zM420.9 451.5h1.9v10.5h-1.9zM420.9 472.6h1.9v10.5h-1.9zM428.2 356.6h1.9v10.5h-1.9zM428.2 462.1h1.9v10.5h-1.9zM428.2 472.6h1.9v10.5h-1.9zM428.2 483.2h1.9v10.5h-1.9zM433.7 398.8h1.9v10.5h-1.9zM433.7 441h1.9v10.5h-1.9zM435.5 398.8h1.9v10.5h-1.9zM439.2 430.4h1.9v10.5h-1.9zM439.2 483.2h1.9v10.5h-1.9zM441 367.2h1.9v10.5h-1.9zM446.5 441h1.9v10.5h-1.9zM448.3 451.5h1.9v10.5h-1.9zM450.1 430.4h1.9v10.5h-1.9zM453.8 409.4h1.9v10.5h-1.9zM457.4 472.6h1.9v10.5h-1.9zM459.3 367.2h1.9v10.5h-1.9zM459.3 430.4h1.9v10.5h-1.9zM462.9 377.7h1.9v10.5h-1.9zM464.7 367.2h1.9v10.5h-1.9zM466.6 356.6h1.9v10.5h-1.9zM468.4 409.4h1.9v10.5h-1.9zM468.4 430.4h1.9v10.5h-1.9zM470.2 451.5h1.9v10.5h-1.9zM473.9 451.5h1.9v10.5h-1.9zM475.7 398.8h1.9v10.5h-1.9zM479.4 367.2h1.9v10.5h-1.9zM481.2 409.4h1.9v10.5h-1.9zM490.3 356.6h1.9v10.5h-1.9zM490.3 472.6h1.9v10.5h-1.9zM494 377.7h1.9v10.5h-1.9zM501.3 356.6h1.9v10.5h-1.9zM508.6 409.4h1.9v10.5h-1.9zM510.4 409.4h1.9v10.5h-1.9zM512.2 441h1.9v10.5h-1.9zM512.2 451.5h1.9v10.5h-1.9zM519.5 419.9h1.9v10.5h-1.9zM523.2 462.1h1.9v10.5h-1.9zM523.2 483.2h1.9v10.5h-1.9zM525 419.9h1.9v10.5h-1.9zM525 462.1h1.9v10.5h-1.9zM526.8 451.5h1.9v10.5h-1.9zM526.8 472.6h1.9v10.5h-1.9zM536 367.2h1.9v10.5h-1.9zM537.8 462.1h1.9v10.5h-1.9zM539.6 441h1.9v10.5h-1.9zM545.1 430.4h1.9v10.5h-1.9zM546.9 419.9h1.9v10.5h-1.9zM546.9 451.5h1.9v10.5h-1.9zM548.8 409.4h1.9v10.5h-1.9zM550.6 441h1.9v10.5h-1.9zM550.6 483.2h1.9v10.5h-1.9zM556.1 398.8h1.9v10.5h-1.9zM557.9 346.1h1.9v10.5h-1.9zM557.9 398.8h1.9v10.5h-1.9zM557.9 419.9h1.9v10.5h-1.9zM559.7 367.2h1.9v10.5h-1.9zM561.5 388.3h1.9v10.5h-1.9zM563.4 419.9h1.9v10.5h-1.9zM567 367.2h1.9v10.5h-1.9zM570.7 367.2h1.9v10.5h-1.9zM578 367.2h1.9v10.5h-1.9zM578 388.3h1.9v10.5h-1.9zM579.8 462.1h1.9v10.5h-1.9zM590.8 409.4h1.9v10.5h-1.9z" fill="#f6f6fc"/>
<path d="M328.2 398.8h2.1v10.5h-2.1z" fill="#4e5aa8"/>
<path d="M328.2 409.4h2.1v10.5h-2.1zM399 462.1h1.9v10.5h-1.9zM413.6 388.3h1.9v10.5h-1.9zM419.1 377.7h1.9v10.5h-1.9zM484.8 388.3h1.9v10.5h-1.9zM504.9 483.2h1.9v10.5h-1.9z" fill="#909cd2"/>
<path d="M328.2 441h2.1v10.5h-2.1zM340.6 430.4h1.9v10.5h-1.9zM340.6 451.5h1.9v10.5h-1.9zM344.2 451.5h1.9v10.5h-1.9zM351.6 451.5h1.9v10.5h-1.9zM353.4 419.9h1.9v10.5h-1.9zM358.8 388.3h1.9v10.5h-1.9zM358.8 398.8h1.9v10.5h-1.9zM362.5 356.6h1.9v10.5h-1.9zM362.5 419.9h1.9v10.5h-1.9zM364.3 346.1h1.9v10.5h-1.9zM366.1 398.8h1.9v10.5h-1.9zM366.1 451.5h1.9v10.5h-1.9zM366.1 472.6h1.9v10.5h-1.9zM367.9 377.7h1.9v10.5h-1.9zM367.9 409.4h1.9v10.5h-1.9zM369.8 398.8h1.9v10.5h-1.9zM371.6 462.1h1.9v10.5h-1.9zM373.4 472.6h1.9v10.5h-1.9zM375.2 377.7h1.9v10.5h-1.9zM377.1 346.1h1.9v10.5h-1.9zM377.1 356.6h1.9v10.5h-1.9zM380.7 451.5h1.9v10.5h-1.9zM382.5 483.2h1.9v10.5h-1.9zM393.5 367.2h1.9v10.5h-1.9zM406.3 356.6h1.9v10.5h-1.9zM406.3 367.2h1.9v10.5h-1.9zM406.3 430.4h1.9v10.5h-1.9zM409.9 367.2h1.9v10.5h-1.9zM417.2 346.1h1.9v10.5h-1.9zM446.5 472.6h1.9v10.5h-1.9zM450.1 451.5h1.9v10.5h-1.9zM470.2 483.2h1.9v10.5h-1.9zM472 346.1h1.9v10.5h-1.9zM475.7 346.1h1.9v10.5h-1.9zM477.5 388.3h1.9v10.5h-1.9zM477.5 419.9h1.9v10.5h-1.9zM479.4 398.8h1.9v10.5h-1.9zM479.4 451.5h1.9v10.5h-1.9zM479.4 483.2h1.9v10.5h-1.9zM481.2 346.1h1.9v10.5h-1.9zM484.8 346.1h1.9v10.5h-1.9zM495.8 346.1h1.9v10.5h-1.9zM499.4 356.6h1.9v10.5h-1.9zM501.3 451.5h1.9v10.5h-1.9zM504.9 451.5h1.9v10.5h-1.9zM506.8 346.1h1.9v10.5h-1.9zM506.8 398.8h1.9v10.5h-1.9zM508.6 430.4h1.9v10.5h-1.9zM508.6 441h1.9v10.5h-1.9zM512.2 409.4h1.9v10.5h-1.9zM514.1 356.6h1.9v10.5h-1.9zM521.4 356.6h1.9v10.5h-1.9zM521.4 419.9h1.9v10.5h-1.9zM521.4 430.4h1.9v10.5h-1.9zM521.4 441h1.9v10.5h-1.9zM521.4 472.6h1.9v10.5h-1.9zM521.4 483.2h1.9v10.5h-1.9zM523.2 346.1h1.9v10.5h-1.9zM526.8 430.4h1.9v10.5h-1.9zM528.7 346.1h1.9v10.5h-1.9zM528.7 483.2h1.9v10.5h-1.9zM530.5 346.1h1.9v10.5h-1.9zM530.5 419.9h1.9v10.5h-1.9zM530.5 441h1.9v10.5h-1.9zM530.5 472.6h1.9v10.5h-1.9zM530.5 483.2h1.9v10.5h-1.9zM532.3 346.1h1.9v10.5h-1.9zM534.2 409.4h1.9v10.5h-1.9zM534.2 441h1.9v10.5h-1.9zM534.2 483.2h1.9v10.5h-1.9zM536 356.6h1.9v10.5h-1.9zM536 419.9h1.9v10.5h-1.9zM537.8 483.2h1.9v10.5h-1.9zM539.6 483.2h1.9v10.5h-1.9zM541.5 472.6h1.9v10.5h-1.9zM545.1 472.6h1.9v10.5h-1.9zM548.8 367.2h1.9v10.5h-1.9zM552.4 398.8h1.9v10.5h-1.9zM554.2 419.9h1.9v10.5h-1.9zM559.7 419.9h1.9v10.5h-1.9zM559.7 483.2h1.9v10.5h-1.9zM563.4 346.1h1.9v10.5h-1.9zM563.4 377.7h1.9v10.5h-1.9zM563.4 388.3h1.9v10.5h-1.9zM563.4 441h1.9v10.5h-1.9zM565.2 398.8h1.9v10.5h-1.9zM565.2 441h1.9v10.5h-1.9zM568.9 346.1h1.9v10.5h-1.9zM568.9 377.7h1.9v10.5h-1.9zM568.9 409.4h1.9v10.5h-1.9zM572.5 377.7h1.9v10.5h-1.9zM574.3 409.4h1.9v10.5h-1.9zM579.8 346.1h1.9v10.5h-1.9zM579.8 398.8h1.9v10.5h-1.9zM579.8 419.9h1.9v10.5h-1.9zM579.8 472.6h1.9v10.5h-1.9zM581.6 346.1h1.9v10.5h-1.9zM581.6 483.2h1.9v10.5h-1.9zM583.5 388.3h1.9v10.5h-1.9zM583.5 409.4h1.9v10.5h-1.9zM583.5 483.2h1.9v10.5h-1.9zM588.9 356.6h1.9v10.5h-1.9zM588.9 377.7h1.9v10.5h-1.9z" fill="#ffeaea"/>
<path d="M328.2 451.5h2.1v10.5h-2.1zM342.4 483.2h1.9v10.5h-1.9zM346.1 483.2h1.9v10.5h-1.9zM349.7 472.6h1.9v10.5h-1.9zM349.7 483.2h1.9v10.5h-1.9zM351.6 419.9h1.9v10.5h-1.9zM351.6 472.6h1.9v10.5h-1.9zM353.4 472.6h1.9v10.5h-1.9z" fill="#f6c0c0"/>
<path d="M333.3 346.1h1.9v10.5h-1.9zM346.1 356.6h1.9v10.5h-1.9zM347.9 346.1h1.9v10.5h-1.9z" fill="#f6a2a2"/>
<path d="M333.3 367.2h1.9v10.5h-1.9zM384.4 346.1h1.9v10.5h-1.9zM388 388.3h1.9v10.5h-1.9zM402.6 430.4h1.9v10.5h-1.9zM417.2 462.1h1.9v10.5h-1.9zM422.7 388.3h1.9v10.5h-1.9zM424.6 430.4h1.9v10.5h-1.9zM426.4 377.7h1.9v10.5h-1.9zM439.2 388.3h1.9v10.5h-1.9zM457.4 388.3h1.9v10.5h-1.9zM459.3 462.1h1.9v10.5h-1.9zM462.9 409.4h1.9v10.5h-1.9zM483 462.1h1.9v10.5h-1.9zM501.3 398.8h1.9v10.5h-1.9zM501.3 409.4h1.9v10.5h-1.9zM506.8 388.3h1.9v10.5h-1.9zM510.4 388.3h1.9v10.5h-1.9zM514.1 398.8h1.9v10.5h-1.9zM526.8 419.9h1.9v10.5h-1.9zM539.6 398.8h1.9v10.5h-1.9zM556.1 409.4h1.9v10.5h-1.9zM590.8 451.5h1.9v10.5h-1.9z" fill="#ccccea"/>
<path d="M333.3 377.7h1.9v10.5h-1.9zM333.3 430.4h1.9v10.5h-1.9zM336.9 367.2h1.9v10.5h-1.9zM347.9 367.2h1.9v10.5h-1.9zM360.6 367.2h1.9v10.5h-1.9zM384.4 409.4h1.9v10.5h-1.9zM391.7 462.1h1.9v10.5h-1.9zM393.5 419.9h1.9v10.5h-1.9zM395.3 462.1h1.9v10.5h-1.9zM399 409.4h1.9v10.5h-1.9zM404.5 409.4h1.9v10.5h-1.9zM422.7 451.5h1.9v10.5h-1.9zM430 398.8h1.9v10.5h-1.9zM431.9 398.8h1.9v10.5h-1.9zM435.5 451.5h1.9v10.5h-1.9zM435.5 462.1h1.9v10.5h-1.9zM441 472.6h1.9v10.5h-1.9zM450.1 419.9h1.9v10.5h-1.9zM459.3 409.4h1.9v10.5h-1.9zM464.7 398.8h1.9v10.5h-1.9zM464.7 419.9h1.9v10.5h-1.9zM473.9 367.2h1.9v10.5h-1.9zM490.3 483.2h1.9v10.5h-1.9zM512.2 388.3h1.9v10.5h-1.9zM543.3 462.1h1.9v10.5h-1.9zM550.6 451.5h1.9v10.5h-1.9zM557.9 462.1h1.9v10.5h-1.9zM565.2 462.1h1.9v10.5h-1.9z" fill="#ccd2ea"/>
<path d="M333.3 388.3h1.9v10.5h-1.9zM378.9 419.9h1.9v10.5h-1.9zM378.9 483.2h1.9v10.5h-1.9zM380.7 346.1h1.9v10.5h-1.9zM388 377.7h1.9v10.5h-1.9zM393.5 462.1h1.9v10.5h-1.9zM395.3 377.7h1.9v10.5h-1.9zM399 441h1.9v10.5h-1.9zM399 483.2h1.9v10.5h-1.9zM400.8 398.8h1.9v10.5h-1.9zM400.8 430.4h1.9v10.5h-1.9zM400.8 472.6h1.9v10.5h-1.9zM408.1 419.9h1.9v10.5h-1.9zM409.9 419.9h1.9v10.5h-1.9zM413.6 451.5h1.9v10.5h-1.9zM413.6 483.2h1.9v10.5h-1.9zM420.9 377.7h1.9v10.5h-1.9zM422.7 398.8h1.9v10.5h-1.9zM422.7 419.9h1.9v10.5h-1.9zM431.9 430.4h1.9v10.5h-1.9zM444.6 346.1h1.9v10.5h-1.9zM444.6 419.9h1.9v10.5h-1.9zM444.6 441h1.9v10.5h-1.9zM446.5 419.9h1.9v10.5h-1.9zM448.3 462.1h1.9v10.5h-1.9zM452 462.1h1.9v10.5h-1.9zM462.9 419.9h1.9v10.5h-1.9zM473.9 388.3h1.9v10.5h-1.9zM475.7 367.2h1.9v10.5h-1.9zM490.3 398.8h1.9v10.5h-1.9zM501.3 472.6h1.9v10.5h-1.9zM504.9 377.7h1.9v10.5h-1.9zM510.4 377.7h1.9v10.5h-1.9zM512.2 398.8h1.9v10.5h-1.9zM514.1 451.5h1.9v10.5h-1.9zM514.1 472.6h1.9v10.5h-1.9zM528.7 377.7h1.9v10.5h-1.9zM543.3 451.5h1.9v10.5h-1.9zM545.1 419.9h1.9v10.5h-1.9zM556.1 483.2h1.9v10.5h-1.9zM572.5 451.5h1.9v10.5h-1.9zM576.2 430.4h1.9v10.5h-1.9z" fill="#d8d8f0"/>
<path d="M333.3 398.8h1.9v10.5h-1.9zM335.1 377.7h1.9v10.5h-1.9zM346.1 367.2h1.9v10.5h-1.9zM346.1 430.4h1.9v10.5h-1.9zM353.4 409.4h1.9v10.5h-1.9zM367.9 356.6h1.9v10.5h-1.9zM386.2 356.6h1.9v10.5h-1.9zM391.7 472.6h1.9v10.5h-1.9zM397.2 377.7h1.9v10.5h-1.9zM399 356.6h1.9v10.5h-1.9zM399 430.4h1.9v10.5h-1.9zM402.6 367.2h1.9v10.5h-1.9zM417.2 398.8h1.9v10.5h-1.9zM442.8 472.6h1.9v10.5h-1.9zM459.3 377.7h1.9v10.5h-1.9zM459.3 388.3h1.9v10.5h-1.9zM462.9 367.2h1.9v10.5h-1.9zM488.5 388.3h1.9v10.5h-1.9zM492.1 430.4h1.9v10.5h-1.9zM565.2 483.2h1.9v10.5h-1.9z" fill="#bac0e4"/>
<path d="M333.3 409.4h1.9v10.5h-1.9zM338.8 377.7h1.9v10.5h-1.9zM364.3 367.2h1.9v10.5h-1.9zM404.5 398.8h1.9v10.5h-1.9zM441 388.3h1.9v10.5h-1.9zM492.1 388.3h1.9v10.5h-1.9zM514.1 388.3h1.9v10.5h-1.9z" fill="#6c78c0"/>
<path d="M333.3 441h1.9v10.5h-1.9zM333.3 451.5h1.9v10.5h-1.9zM335.1 441h1.9v10.5h-1.9zM338.8 472.6h1.9v10.5h-1.9zM340.6 462.1h1.9v10.5h-1.9zM342.4 441h1.9v10.5h-1.9zM342.4 462.1h1.9v10.5h-1.9zM344.2 419.9h1.9v10.5h-1.9zM344.2 430.4h1.9v10.5h-1.9zM346.1 441h1.9v10.5h-1.9zM346.1 451.5h1.9v10.5h-1.9zM347.9 419.9h1.9v10.5h-1.9zM347.9 441h1.9v10.5h-1.9zM349.7 430.4h1.9v10.5h-1.9zM349.7 462.1h1.9v10.5h-1.9zM353.4 430.4h1.9v10.5h-1.9zM353.4 451.5h1.9v10.5h-1.9zM358.8 419.9h1.9v10.5h-1.9zM358.8 451.5h1.9v10.5h-1.9zM366.1 483.2h1.9v10.5h-1.9zM367.9 388.3h1.9v10.5h-1.9zM369.8 346.1h1.9v10.5h-1.9zM369.8 430.4h1.9v10.5h-1.9zM371.6 430.4h1.9v10.5h-1.9zM371.6 451.5h1.9v10.5h-1.9zM373.4 356.6h1.9v10.5h-1.9zM375.2 346.1h1.9v10.5h-1.9zM393.5 472.6h1.9v10.5h-1.9zM437.3 483.2h1.9v10.5h-1.9zM468.4 451.5h1.9v10.5h-1.9zM477.5 356.6h1.9v10.5h-1.9zM477.5 451.5h1.9v10.5h-1.9zM479.4 346.1h1.9v10.5h-1.9zM481.2 356.6h1.9v10.5h-1.9zM481.2 483.2h1.9v10.5h-1.9zM484.8 356.6h1.9v10.5h-1.9zM488.5 441h1.9v10.5h-1.9zM494 346.1h1.9v10.5h-1.9zM495.8 419.9h1.9v10.5h-1.9zM495.8 472.6h1.9v10.5h-1.9zM499.4 346.1h1.9v10.5h-1.9zM499.4 367.2h1.9v10.5h-1.9zM504.9 346.1h1.9v10.5h-1.9zM506.8 430.4h1.9v10.5h-1.9zM514.1 346.1h1.9v10.5h-1.9zM517.7 346.1h1.9v10.5h-1.9zM519.5 356.6h1.9v10.5h-1.9zM519.5 462.1h1.9v10.5h-1.9zM521.4 462.1h1.9v10.5h-1.9zM523.2 441h1.9v10.5h-1.9zM528.7 356.6h1.9v10.5h-1.9zM530.5 356.6h1.9v10.5h-1.9zM530.5 430.4h1.9v10.5h-1.9zM532.3 356.6h1.9v10.5h-1.9zM536 451.5h1.9v10.5h-1.9zM541.5 409.4h1.9v10.5h-1.9zM554.2 346.1h1.9v10.5h-1.9zM554.2 367.2h1.9v10.5h-1.9zM554.2 377.7h1.9v10.5h-1.9zM554.2 409.4h1.9v10.5h-1.9zM554.2 441h1.9v10.5h-1.9zM557.9 472.6h1.9v10.5h-1.9zM563.4 398.8h1.9v10.5h-1.9zM563.4 472.6h1.9v10.5h-1.9zM568.9 398.8h1.9v10.5h-1.9zM570.7 356.6h1.9v10.5h-1.9zM570.7 377.7h1.9v10.5h-1.9zM572.5 472.6h1.9v10.5h-1.9zM574.3 367.2h1.9v10.5h-1.9zM574.3 441h1.9v10.5h-1.9zM579.8 409.4h1.9v10.5h-1.9zM587.1 388.3h1.9v10.5h-1.9z" fill="#ffe4e4"/>
<path d="M333.3 462.1h1.9v10.5h-1.9zM336.9 441h1.9v10.5h-1.9zM336.9 483.2h1.9v10.5h-1.9zM340.6 419.9h1.9v10.5h-1.9zM347.9 451.5h1.9v10.5h-1.9zM351.6 483.2h1.9v10.5h-1.9zM353.4 462.1h1.9v10.5h-1.9zM366.1 346.1h1.9v10.5h-1.9zM367.9 441h1.9v10.5h-1.9zM371.6 483.2h1.9v10.5h-1.9zM554.2 398.8h1.9v10.5h-1.9zM561.5 377.7h1.9v10.5h-1.9zM579.8 388.3h1.9v10.5h-1.9z" fill="#fcd2d2"/>
<path d="M333.3 472.6h1.9v10.5h-1.9zM333.3 483.2h1.9v10.5h-1.9zM336.9 472.6h1.9v10.5h-1.9zM346.1 419.9h1.9v10.5h-1.9z" fill="#f6c6c6"/>
<path d="M335.1 346.1h1.9v10.5h-1.9zM336.9 356.6h1.9v10.5h-1.9zM338.8 346.1h1.9v10.5h-1.9zM338.8 356.6h1.9v10.5h-1.9zM340.6 346.1h1.9v10.5h-1.9zM340.6 356.6h1.9v10.5h-1.9zM342.4 346.1h1.9v10.5h-1.9zM344.2 356.6h1.9v10.5h-1.9zM347.9 356.6h1.9v10.5h-1.9zM351.6 356.6h1.9v10.5h-1.9zM353.4 346.1h1.9v10.5h-1.9z" fill="#f6a8a8"/>
<path d="M335.1 356.6h1.9v10.5h-1.9zM336.9 346.1h1.9v10.5h-1.9zM340.6 472.6h1.9v10.5h-1.9zM349.7 346.1h1.9v10.5h-1.9zM351.6 346.1h1.9v10.5h-1.9zM353.4 356.6h1.9v10.5h-1.9z" fill="#f6aeae"/>
<path d="M335.1 388.3h1.9v10.5h-1.9zM344.2 388.3h1.9v10.5h-1.9zM358.8 409.4h1.9v10.5h-1.9zM360.6 398.8h1.9v10.5h-1.9zM362.5 398.8h1.9v10.5h-1.9zM364.3 462.1h1.9v10.5h-1.9zM371.6 409.4h1.9v10.5h-1.9zM375.2 430.4h1.9v10.5h-1.9zM375.2 451.5h1.9v10.5h-1.9zM377.1 472.6h1.9v10.5h-1.9zM378.9 409.4h1.9v10.5h-1.9zM378.9 430.4h1.9v10.5h-1.9zM380.7 462.1h1.9v10.5h-1.9zM388 419.9h1.9v10.5h-1.9zM388 430.4h1.9v10.5h-1.9zM388 472.6h1.9v10.5h-1.9zM389.9 451.5h1.9v10.5h-1.9zM393.5 356.6h1.9v10.5h-1.9zM393.5 441h1.9v10.5h-1.9zM395.3 356.6h1.9v10.5h-1.9zM399 451.5h1.9v10.5h-1.9zM400.8 409.4h1.9v10.5h-1.9zM402.6 346.1h1.9v10.5h-1.9zM409.9 388.3h1.9v10.5h-1.9zM415.4 462.1h1.9v10.5h-1.9zM415.4 483.2h1.9v10.5h-1.9zM417.2 483.2h1.9v10.5h-1.9zM419.1 398.8h1.9v10.5h-1.9zM419.1 483.2h1.9v10.5h-1.9zM420.9 346.1h1.9v10.5h-1.9zM420.9 462.1h1.9v10.5h-1.9zM422.7 409.4h1.9v10.5h-1.9zM424.6 356.6h1.9v10.5h-1.9zM424.6 419.9h1.9v10.5h-1.9zM424.6 441h1.9v10.5h-1.9zM430 346.1h1.9v10.5h-1.9zM430 356.6h1.9v10.5h-1.9zM430 483.2h1.9v10.5h-1.9zM435.5 409.4h1.9v10.5h-1.9zM437.3 377.7h1.9v10.5h-1.9zM437.3 398.8h1.9v10.5h-1.9zM437.3 441h1.9v10.5h-1.9zM437.3 462.1h1.9v10.5h-1.9zM446.5 398.8h1.9v10.5h-1.9zM448.3 409.4h1.9v10.5h-1.9zM450.1 377.7h1.9v10.5h-1.9zM450.1 441h1.9v10.5h-1.9zM450.1 472.6h1.9v10.5h-1.9zM452 367.2h1.9v10.5h-1.9zM453.8 367.2h1.9v10.5h-1.9zM453.8 377.7h1.9v10.5h-1.9zM453.8 462.1h1.9v10.5h-1.9zM453.8 472.6h1.9v10.5h-1.9zM457.4 356.6h1.9v10.5h-1.9zM457.4 409.4h1.9v10.5h-1.9zM461.1 388.3h1.9v10.5h-1.9zM462.9 472.6h1.9v10.5h-1.9zM468.4 419.9h1.9v10.5h-1.9zM468.4 462.1h1.9v10.5h-1.9zM473.9 462.1h1.9v10.5h-1.9zM475.7 377.7h1.9v10.5h-1.9zM483 377.7h1.9v10.5h-1.9zM483 472.6h1.9v10.5h-1.9zM486.7 377.7h1.9v10.5h-1.9zM486.7 441h1.9v10.5h-1.9zM486.7 472.6h1.9v10.5h-1.9zM488.5 377.7h1.9v10.5h-1.9zM492.1 356.6h1.9v10.5h-1.9zM495.8 377.7h1.9v10.5h-1.9zM499.4 409.4h1.9v10.5h-1.9zM503.1 346.1h1.9v10.5h-1.9zM506.8 367.2h1.9v10.5h-1.9zM512.2 356.6h1.9v10.5h-1.9zM512.2 472.6h1.9v10.5h-1.9zM515.9 377.7h1.9v10.5h-1.9zM519.5 367.2h1.9v10.5h-1.9zM525 409.4h1.9v10.5h-1.9zM525 430.4h1.9v10.5h-1.9zM532.3 377.7h1.9v10.5h-1.9zM534.2 398.8h1.9v10.5h-1.9zM536 388.3h1.9v10.5h-1.9zM539.6 356.6h1.9v10.5h-1.9zM539.6 430.4h1.9v10.5h-1.9zM545.1 441h1.9v10.5h-1.9zM548.8 483.2h1.9v10.5h-1.9zM550.6 346.1h1.9v10.5h-1.9zM556.1 356.6h1.9v10.5h-1.9zM556.1 367.2h1.9v10.5h-1.9zM556.1 462.1h1.9v10.5h-1.9zM563.4 451.5h1.9v10.5h-1.9zM563.4 462.1h1.9v10.5h-1.9zM579.8 356.6h1.9v10.5h-1.9zM579.8 451.5h1.9v10.5h-1.9zM587.1 451.5h1.9v10.5h-1.9z" fill="#f0f0f6"/>
<path d="M335.1 398.8h1.9v10.5h-1.9zM335.1 430.4h1.9v10.5h-1.9zM384.4 419.9h1.9v10.5h-1.9zM426.4 388.3h1.9v10.5h-1.9zM444.6 388.3h1.9v10.5h-1.9zM455.6 377.7h1.9v10.5h-1.9z" fill="#9ca2d8"/>
<path d="M335.1 409.4h1.9v10.5h-1.9zM340.6 377.7h1.9v10.5h-1.9zM351.6 377.7h1.9v10.5h-1.9z" fill="#9ca2d2"/>
<path d="M336.9 377.7h1.9v10.5h-1.9zM342.4 409.4h1.9v10.5h-1.9zM344.2 398.8h1.9v10.5h-1.9zM382.5 377.7h1.9v10.5h-1.9zM388 462.1h1.9v10.5h-1.9zM389.9 367.2h1.9v10.5h-1.9zM389.9 483.2h1.9v10.5h-1.9zM397.2 419.9h1.9v10.5h-1.9zM400.8 451.5h1.9v10.5h-1.9zM404.5 441h1.9v10.5h-1.9zM404.5 462.1h1.9v10.5h-1.9zM417.2 377.7h1.9v10.5h-1.9zM420.9 388.3h1.9v10.5h-1.9zM430 377.7h1.9v10.5h-1.9zM455.6 388.3h1.9v10.5h-1.9zM483 441h1.9v10.5h-1.9zM501.3 419.9h1.9v10.5h-1.9zM559.7 462.1h1.9v10.5h-1.9zM576.2 462.1h1.9v10.5h-1.9z" fill="#c0c6e4"/>
<path d="M336.9 388.3h1.9v10.5h-1.9zM353.4 398.8h1.9v10.5h-1.9zM364.3 409.4h1.9v10.5h-1.9zM391.7 398.8h1.9v10.5h-1.9zM444.6 409.4h1.9v10.5h-1.9zM448.3 388.3h1.9v10.5h-1.9zM466.6 409.4h1.9v10.5h-1.9zM503.1 409.4h1.9v10.5h-1.9z" fill="#b4bae4"/>
<path d="M336.9 398.8h1.9v10.5h-1.9zM342.4 388.3h1.9v10.5h-1.9zM342.4 398.8h1.9v10.5h-1.9zM346.1 388.3h1.9v10.5h-1.9zM364.3 430.4h1.9v10.5h-1.9zM378.9 377.7h1.9v10.5h-1.9zM400.8 367.2h1.9v10.5h-1.9zM413.6 367.2h1.9v10.5h-1.9zM415.4 419.9h1.9v10.5h-1.9zM422.7 430.4h1.9v10.5h-1.9zM424.6 377.7h1.9v10.5h-1.9zM426.4 462.1h1.9v10.5h-1.9zM439.2 377.7h1.9v10.5h-1.9zM439.2 419.9h1.9v10.5h-1.9zM441 430.4h1.9v10.5h-1.9zM444.6 483.2h1.9v10.5h-1.9zM452 377.7h1.9v10.5h-1.9zM453.8 483.2h1.9v10.5h-1.9zM455.6 367.2h1.9v10.5h-1.9zM462.9 430.4h1.9v10.5h-1.9zM470.2 398.8h1.9v10.5h-1.9zM510.4 462.1h1.9v10.5h-1.9zM528.7 367.2h1.9v10.5h-1.9zM546.9 462.1h1.9v10.5h-1.9zM556.1 451.5h1.9v10.5h-1.9z" fill="#d2d2ea"/>
<path d="M336.9 409.4h1.9v10.5h-1.9zM349.7 398.8h1.9v10.5h-1.9zM351.6 367.2h1.9v10.5h-1.9zM384.4 441h1.9v10.5h-1.9zM389.9 430.4h1.9v10.5h-1.9zM389.9 441h1.9v10.5h-1.9zM402.6 419.9h1.9v10.5h-1.9zM404.5 388.3h1.9v10.5h-1.9zM435.5 430.4h1.9v10.5h-1.9zM470.2 388.3h1.9v10.5h-1.9zM483 388.3h1.9v10.5h-1.9z" fill="#a8aed8"/>
<path d="M336.9 430.4h1.9v10.5h-1.9zM338.8 462.1h1.9v10.5h-1.9zM344.2 462.1h1.9v10.5h-1.9zM346.1 462.1h1.9v10.5h-1.9zM351.6 441h1.9v10.5h-1.9zM353.4 441h1.9v10.5h-1.9zM358.8 430.4h1.9v10.5h-1.9zM358.8 441h1.9v10.5h-1.9zM360.6 377.7h1.9v10.5h-1.9zM362.5 462.1h1.9v10.5h-1.9zM364.3 419.9h1.9v10.5h-1.9zM366.1 367.2h1.9v10.5h-1.9zM367.9 398.8h1.9v10.5h-1.9zM367.9 430.4h1.9v10.5h-1.9zM369.8 451.5h1.9v10.5h-1.9zM371.6 377.7h1.9v10.5h-1.9zM371.6 419.9h1.9v10.5h-1.9zM371.6 472.6h1.9v10.5h-1.9zM375.2 398.8h1.9v10.5h-1.9zM375.2 472.6h1.9v10.5h-1.9zM375.2 483.2h1.9v10.5h-1.9zM377.1 441h1.9v10.5h-1.9zM377.1 483.2h1.9v10.5h-1.9zM406.3 346.1h1.9v10.5h-1.9zM409.9 356.6h1.9v10.5h-1.9zM409.9 398.8h1.9v10.5h-1.9zM409.9 462.1h1.9v10.5h-1.9zM409.9 472.6h1.9v10.5h-1.9zM415.4 441h1.9v10.5h-1.9zM415.4 451.5h1.9v10.5h-1.9zM417.2 367.2h1.9v10.5h-1.9zM417.2 472.6h1.9v10.5h-1.9zM424.6 451.5h1.9v10.5h-1.9zM439.2 451.5h1.9v10.5h-1.9zM439.2 472.6h1.9v10.5h-1.9zM448.3 472.6h1.9v10.5h-1.9zM452 398.8h1.9v10.5h-1.9zM468.4 398.8h1.9v10.5h-1.9zM468.4 472.6h1.9v10.5h-1.9zM468.4 483.2h1.9v10.5h-1.9zM472 398.8h1.9v10.5h-1.9zM473.9 441h1.9v10.5h-1.9zM475.7 472.6h1.9v10.5h-1.9zM477.5 346.1h1.9v10.5h-1.9zM477.5 367.2h1.9v10.5h-1.9zM477.5 441h1.9v10.5h-1.9zM481.2 430.4h1.9v10.5h-1.9zM486.7 356.6h1.9v10.5h-1.9zM488.5 346.1h1.9v10.5h-1.9zM488.5 356.6h1.9v10.5h-1.9zM488.5 409.4h1.9v10.5h-1.9zM488.5 472.6h1.9v10.5h-1.9zM488.5 483.2h1.9v10.5h-1.9zM490.3 441h1.9v10.5h-1.9zM494 356.6h1.9v10.5h-1.9zM494 441h1.9v10.5h-1.9zM494 451.5h1.9v10.5h-1.9zM495.8 356.6h1.9v10.5h-1.9zM495.8 430.4h1.9v10.5h-1.9zM495.8 441h1.9v10.5h-1.9zM497.6 409.4h1.9v10.5h-1.9zM497.6 419.9h1.9v10.5h-1.9zM499.4 472.6h1.9v10.5h-1.9zM504.9 356.6h1.9v10.5h-1.9zM504.9 430.4h1.9v10.5h-1.9zM506.8 441h1.9v10.5h-1.9zM506.8 472.6h1.9v10.5h-1.9zM508.6 451.5h1.9v10.5h-1.9zM508.6 462.1h1.9v10.5h-1.9zM508.6 483.2h1.9v10.5h-1.9zM510.4 419.9h1.9v10.5h-1.9zM512.2 346.1h1.9v10.5h-1.9zM514.1 483.2h1.9v10.5h-1.9zM515.9 451.5h1.9v10.5h-1.9zM515.9 483.2h1.9v10.5h-1.9zM517.7 451.5h1.9v10.5h-1.9zM517.7 483.2h1.9v10.5h-1.9zM519.5 483.2h1.9v10.5h-1.9zM521.4 346.1h1.9v10.5h-1.9zM521.4 409.4h1.9v10.5h-1.9zM523.2 356.6h1.9v10.5h-1.9zM523.2 472.6h1.9v10.5h-1.9zM525 346.1h1.9v10.5h-1.9zM525 356.6h1.9v10.5h-1.9zM525 483.2h1.9v10.5h-1.9zM526.8 462.1h1.9v10.5h-1.9zM526.8 483.2h1.9v10.5h-1.9zM528.7 441h1.9v10.5h-1.9zM530.5 377.7h1.9v10.5h-1.9zM530.5 388.3h1.9v10.5h-1.9zM532.3 441h1.9v10.5h-1.9zM532.3 451.5h1.9v10.5h-1.9zM534.2 346.1h1.9v10.5h-1.9zM534.2 367.2h1.9v10.5h-1.9zM534.2 388.3h1.9v10.5h-1.9zM536 346.1h1.9v10.5h-1.9zM536 409.4h1.9v10.5h-1.9zM537.8 346.1h1.9v10.5h-1.9zM537.8 441h1.9v10.5h-1.9zM537.8 451.5h1.9v10.5h-1.9zM537.8 472.6h1.9v10.5h-1.9zM541.5 346.1h1.9v10.5h-1.9zM541.5 356.6h1.9v10.5h-1.9zM541.5 377.7h1.9v10.5h-1.9zM541.5 388.3h1.9v10.5h-1.9zM541.5 419.9h1.9v10.5h-1.9zM543.3 388.3h1.9v10.5h-1.9zM543.3 441h1.9v10.5h-1.9zM543.3 472.6h1.9v10.5h-1.9zM545.1 377.7h1.9v10.5h-1.9zM546.9 441h1.9v10.5h-1.9zM546.9 472.6h1.9v10.5h-1.9zM548.8 472.6h1.9v10.5h-1.9zM550.6 367.2h1.9v10.5h-1.9zM550.6 377.7h1.9v10.5h-1.9zM552.4 346.1h1.9v10.5h-1.9zM552.4 409.4h1.9v10.5h-1.9zM552.4 441h1.9v10.5h-1.9zM552.4 483.2h1.9v10.5h-1.9zM554.2 451.5h1.9v10.5h-1.9zM554.2 472.6h1.9v10.5h-1.9zM557.9 377.7h1.9v10.5h-1.9zM557.9 430.4h1.9v10.5h-1.9zM559.7 398.8h1.9v10.5h-1.9zM559.7 409.4h1.9v10.5h-1.9zM559.7 441h1.9v10.5h-1.9zM561.5 409.4h1.9v10.5h-1.9zM561.5 472.6h1.9v10.5h-1.9zM563.4 356.6h1.9v10.5h-1.9zM563.4 367.2h1.9v10.5h-1.9zM563.4 483.2h1.9v10.5h-1.9zM565.2 409.4h1.9v10.5h-1.9zM565.2 472.6h1.9v10.5h-1.9zM568.9 356.6h1.9v10.5h-1.9zM570.7 346.1h1.9v10.5h-1.9zM570.7 398.8h1.9v10.5h-1.9zM570.7 409.4h1.9v10.5h-1.9zM570.7 441h1.9v10.5h-1.9zM570.7 472.6h1.9v10.5h-1.9zM572.5 367.2h1.9v10.5h-1.9zM572.5 409.4h1.9v10.5h-1.9zM574.3 356.6h1.9v10.5h-1.9zM574.3 398.8h1.9v10.5h-1.9zM574.3 483.2h1.9v10.5h-1.9zM578 441h1.9v10.5h-1.9zM579.8 367.2h1.9v10.5h-1.9zM579.8 377.7h1.9v10.5h-1.9zM579.8 430.4h1.9v10.5h-1.9zM579.8 441h1.9v10.5h-1.9zM579.8 483.2h1.9v10.5h-1.9zM581.6 356.6h1.9v10.5h-1.9zM581.6 388.3h1.9v10.5h-1.9zM581.6 472.6h1.9v10.5h-1.9zM583.5 356.6h1.9v10.5h-1.9zM583.5 472.6h1.9v10.5h-1.9zM585.3 346.1h1.9v10.5h-1.9zM585.3 388.3h1.9v10.5h-1.9zM585.3 398.8h1.9v10.5h-1.9zM585.3 430.4h1.9v10.5h-1.9zM585.3 441h1.9v10.5h-1.9zM587.1 346.1h1.9v10.5h-1.9zM588.9 388.3h1.9v10.5h-1.9zM588.9 430.4h1.9v10.5h-1.9z" fill="#fff0f0"/>
<path d="M336.9 451.5h1.9v10.5h-1.9zM338.8 430.4h1.9v10.5h-1.9zM362.5 377.7h1.9v10.5h-1.9zM364.3 388.3h1.9v10.5h-1.9zM373.4 430.4h1.9v10.5h-1.9zM373.4 462.1h1.9v10.5h-1.9zM377.1 367.2h1.9v10.5h-1.9zM377.1 398.8h1.9v10.5h-1.9zM377.1 409.4h1.9v10.5h-1.9zM377.1 462.1h1.9v10.5h-1.9zM378.9 367.2h1.9v10.5h-1.9zM378.9 451.5h1.9v10.5h-1.9zM378.9 472.6h1.9v10.5h-1.9zM386.2 483.2h1.9v10.5h-1.9zM388 356.6h1.9v10.5h-1.9zM393.5 346.1h1.9v10.5h-1.9zM393.5 409.4h1.9v10.5h-1.9zM393.5 483.2h1.9v10.5h-1.9zM395.3 346.1h1.9v10.5h-1.9zM397.2 367.2h1.9v10.5h-1.9zM397.2 409.4h1.9v10.5h-1.9zM399 472.6h1.9v10.5h-1.9zM404.5 356.6h1.9v10.5h-1.9zM406.3 398.8h1.9v10.5h-1.9zM406.3 451.5h1.9v10.5h-1.9zM408.1 356.6h1.9v10.5h-1.9zM408.1 441h1.9v10.5h-1.9zM408.1 483.2h1.9v10.5h-1.9zM409.9 430.4h1.9v10.5h-1.9zM409.9 451.5h1.9v10.5h-1.9zM409.9 483.2h1.9v10.5h-1.9zM411.8 356.6h1.9v10.5h-1.9zM415.4 388.3h1.9v10.5h-1.9zM415.4 398.8h1.9v10.5h-1.9zM420.9 409.4h1.9v10.5h-1.9zM420.9 441h1.9v10.5h-1.9zM420.9 483.2h1.9v10.5h-1.9zM422.7 441h1.9v10.5h-1.9zM422.7 483.2h1.9v10.5h-1.9zM424.6 398.8h1.9v10.5h-1.9zM426.4 346.1h1.9v10.5h-1.9zM426.4 441h1.9v10.5h-1.9zM426.4 451.5h1.9v10.5h-1.9zM428.2 367.2h1.9v10.5h-1.9zM428.2 430.4h1.9v10.5h-1.9zM430 367.2h1.9v10.5h-1.9zM430 409.4h1.9v10.5h-1.9zM433.7 367.2h1.9v10.5h-1.9zM433.7 483.2h1.9v10.5h-1.9zM437.3 388.3h1.9v10.5h-1.9zM437.3 419.9h1.9v10.5h-1.9zM437.3 430.4h1.9v10.5h-1.9zM439.2 346.1h1.9v10.5h-1.9zM439.2 356.6h1.9v10.5h-1.9zM439.2 367.2h1.9v10.5h-1.9zM439.2 441h1.9v10.5h-1.9zM439.2 462.1h1.9v10.5h-1.9zM441 356.6h1.9v10.5h-1.9zM441 398.8h1.9v10.5h-1.9zM441 409.4h1.9v10.5h-1.9zM441 451.5h1.9v10.5h-1.9zM446.5 409.4h1.9v10.5h-1.9zM446.5 430.4h1.9v10.5h-1.9zM448.3 346.1h1.9v10.5h-1.9zM453.8 346.1h1.9v10.5h-1.9zM453.8 441h1.9v10.5h-1.9zM455.6 356.6h1.9v10.5h-1.9zM455.6 472.6h1.9v10.5h-1.9zM457.4 451.5h1.9v10.5h-1.9zM459.3 451.5h1.9v10.5h-1.9zM461.1 356.6h1.9v10.5h-1.9zM461.1 419.9h1.9v10.5h-1.9zM461.1 430.4h1.9v10.5h-1.9zM461.1 483.2h1.9v10.5h-1.9zM466.6 367.2h1.9v10.5h-1.9zM466.6 441h1.9v10.5h-1.9zM466.6 472.6h1.9v10.5h-1.9zM468.4 356.6h1.9v10.5h-1.9zM468.4 441h1.9v10.5h-1.9zM470.2 346.1h1.9v10.5h-1.9zM470.2 419.9h1.9v10.5h-1.9zM472 451.5h1.9v10.5h-1.9zM472 472.6h1.9v10.5h-1.9zM473.9 472.6h1.9v10.5h-1.9zM475.7 409.4h1.9v10.5h-1.9zM477.5 409.4h1.9v10.5h-1.9zM483 346.1h1.9v10.5h-1.9zM483 356.6h1.9v10.5h-1.9zM484.8 419.9h1.9v10.5h-1.9zM484.8 430.4h1.9v10.5h-1.9zM484.8 462.1h1.9v10.5h-1.9zM486.7 419.9h1.9v10.5h-1.9zM486.7 451.5h1.9v10.5h-1.9zM488.5 367.2h1.9v10.5h-1.9zM488.5 398.8h1.9v10.5h-1.9zM488.5 451.5h1.9v10.5h-1.9zM490.3 346.1h1.9v10.5h-1.9zM490.3 409.4h1.9v10.5h-1.9zM490.3 451.5h1.9v10.5h-1.9zM492.1 441h1.9v10.5h-1.9zM492.1 483.2h1.9v10.5h-1.9zM494 388.3h1.9v10.5h-1.9zM495.8 388.3h1.9v10.5h-1.9zM495.8 398.8h1.9v10.5h-1.9zM495.8 409.4h1.9v10.5h-1.9zM495.8 451.5h1.9v10.5h-1.9zM497.6 472.6h1.9v10.5h-1.9zM503.1 462.1h1.9v10.5h-1.9zM503.1 483.2h1.9v10.5h-1.9zM504.9 398.8h1.9v10.5h-1.9zM506.8 451.5h1.9v10.5h-1.9zM508.6 472.6h1.9v10.5h-1.9zM510.4 356.6h1.9v10.5h-1.9zM510.4 441h1.9v10.5h-1.9zM515.9 419.9h1.9v10.5h-1.9zM515.9 462.1h1.9v10.5h-1.9zM517.7 398.8h1.9v10.5h-1.9zM517.7 441h1.9v10.5h-1.9zM523.2 377.7h1.9v10.5h-1.9zM523.2 409.4h1.9v10.5h-1.9zM525 441h1.9v10.5h-1.9zM526.8 356.6h1.9v10.5h-1.9zM526.8 441h1.9v10.5h-1.9zM530.5 367.2h1.9v10.5h-1.9zM532.3 398.8h1.9v10.5h-1.9zM532.3 483.2h1.9v10.5h-1.9zM534.2 377.7h1.9v10.5h-1.9zM534.2 451.5h1.9v10.5h-1.9zM534.2 472.6h1.9v10.5h-1.9zM536 398.8h1.9v10.5h-1.9zM536 441h1.9v10.5h-1.9zM536 462.1h1.9v10.5h-1.9zM537.8 388.3h1.9v10.5h-1.9zM537.8 398.8h1.9v10.5h-1.9zM543.3 377.7h1.9v10.5h-1.9zM543.3 398.8h1.9v10.5h-1.9zM543.3 483.2h1.9v10.5h-1.9zM545.1 398.8h1.9v10.5h-1.9zM545.1 483.2h1.9v10.5h-1.9zM546.9 398.8h1.9v10.5h-1.9zM548.8 377.7h1.9v10.5h-1.9zM550.6 472.6h1.9v10.5h-1.9zM552.4 388.3h1.9v10.5h-1.9zM552.4 462.1h1.9v10.5h-1.9zM554.2 430.4h1.9v10.5h-1.9zM554.2 462.1h1.9v10.5h-1.9zM556.1 430.4h1.9v10.5h-1.9zM557.9 356.6h1.9v10.5h-1.9zM561.5 398.8h1.9v10.5h-1.9zM561.5 441h1.9v10.5h-1.9zM565.2 356.6h1.9v10.5h-1.9zM567 441h1.9v10.5h-1.9zM567 483.2h1.9v10.5h-1.9zM568.9 451.5h1.9v10.5h-1.9zM570.7 430.4h1.9v10.5h-1.9zM572.5 441h1.9v10.5h-1.9zM576.2 419.9h1.9v10.5h-1.9zM578 419.9h1.9v10.5h-1.9zM581.6 398.8h1.9v10.5h-1.9zM583.5 377.7h1.9v10.5h-1.9zM585.3 377.7h1.9v10.5h-1.9zM585.3 451.5h1.9v10.5h-1.9zM585.3 483.2h1.9v10.5h-1.9zM588.9 367.2h1.9v10.5h-1.9zM588.9 409.4h1.9v10.5h-1.9zM588.9 441h1.9v10.5h-1.9zM588.9 483.2h1.9v10.5h-1.9zM590.8 346.1h1.9v10.5h-1.9zM590.8 462.1h1.9v10.5h-1.9zM590.8 483.2h1.9v10.5h-1.9z" fill="#ffffff"/>
<path d="M338.8 367.2h1.9v10.5h-1.9zM338.8 409.4h1.9v10.5h-1.9zM342.4 377.7h1.9v10.5h-1.9zM351.6 398.8h1.9v10.5h-1.9zM358.8 367.2h1.9v10.5h-1.9zM384.4 451.5h1.9v10.5h-1.9zM391.7 367.2h1.9v10.5h-1.9zM391.7 430.4h1.9v10.5h-1.9zM411.8 388.3h1.9v10.5h-1.9zM413.6 462.1h1.9v10.5h-1.9zM431.9 462.1h1.9v10.5h-1.9zM433.7 388.3h1.9v10.5h-1.9zM442.8 388.3h1.9v10.5h-1.9zM442.8 430.4h1.9v10.5h-1.9zM446.5 377.7h1.9v10.5h-1.9zM464.7 472.6h1.9v10.5h-1.9zM490.3 377.7h1.9v10.5h-1.9zM512.2 377.7h1.9v10.5h-1.9zM514.1 462.1h1.9v10.5h-1.9z" fill="#b4bade"/>
<path d="M338.8 388.3h1.9v10.5h-1.9zM353.4 388.3h1.9v10.5h-1.9zM378.9 398.8h1.9v10.5h-1.9zM380.7 409.4h1.9v10.5h-1.9zM395.3 419.9h1.9v10.5h-1.9zM395.3 472.6h1.9v10.5h-1.9zM408.1 377.7h1.9v10.5h-1.9zM411.8 462.1h1.9v10.5h-1.9zM424.6 462.1h1.9v10.5h-1.9zM433.7 419.9h1.9v10.5h-1.9zM435.5 356.6h1.9v10.5h-1.9zM457.4 419.9h1.9v10.5h-1.9zM459.3 356.6h1.9v10.5h-1.9zM461.1 398.8h1.9v10.5h-1.9zM462.9 483.2h1.9v10.5h-1.9zM492.1 419.9h1.9v10.5h-1.9zM494 367.2h1.9v10.5h-1.9zM497.6 377.7h1.9v10.5h-1.9zM501.3 462.1h1.9v10.5h-1.9zM517.7 430.4h1.9v10.5h-1.9zM541.5 451.5h1.9v10.5h-1.9zM550.6 462.1h1.9v10.5h-1.9zM556.1 388.3h1.9v10.5h-1.9zM559.7 430.4h1.9v10.5h-1.9zM576.2 367.2h1.9v10.5h-1.9z" fill="#e4e4f6"/>
<path d="M338.8 398.8h1.9v10.5h-1.9zM384.4 388.3h1.9v10.5h-1.9zM391.7 377.7h1.9v10.5h-1.9zM400.8 462.1h1.9v10.5h-1.9zM470.2 441h1.9v10.5h-1.9zM501.3 367.2h1.9v10.5h-1.9zM545.1 346.1h1.9v10.5h-1.9z" fill="#727ec0"/>
<path d="M338.8 419.9h1.9v10.5h-1.9zM351.6 462.1h1.9v10.5h-1.9zM353.4 483.2h1.9v10.5h-1.9zM367.9 483.2h1.9v10.5h-1.9zM371.6 346.1h1.9v10.5h-1.9zM371.6 398.8h1.9v10.5h-1.9z" fill="#fccccc"/>
<path d="M340.6 367.2h1.9v10.5h-1.9zM344.2 409.4h1.9v10.5h-1.9zM399 377.7h1.9v10.5h-1.9zM400.8 419.9h1.9v10.5h-1.9zM404.5 367.2h1.9v10.5h-1.9zM442.8 441h1.9v10.5h-1.9zM464.7 377.7h1.9v10.5h-1.9zM514.1 377.7h1.9v10.5h-1.9z" fill="#96a2d2"/>
<path d="M340.6 388.3h1.9v10.5h-1.9zM346.1 409.4h1.9v10.5h-1.9zM435.5 388.3h1.9v10.5h-1.9z" fill="#6672ba"/>
<path d="M340.6 398.8h1.9v10.5h-1.9zM442.8 398.8h1.9v10.5h-1.9z" fill="#787ec0"/>
<path d="M340.6 409.4h1.9v10.5h-1.9zM411.8 377.7h1.9v10.5h-1.9zM419.1 462.1h1.9v10.5h-1.9zM435.5 367.2h1.9v10.5h-1.9zM492.1 367.2h1.9v10.5h-1.9zM503.1 367.2h1.9v10.5h-1.9z" fill="#a8aede"/>
<path d="M342.4 367.2h1.9v10.5h-1.9zM342.4 430.4h1.9v10.5h-1.9zM347.9 409.4h1.9v10.5h-1.9zM362.5 367.2h1.9v10.5h-1.9zM367.9 472.6h1.9v10.5h-1.9zM375.2 367.2h1.9v10.5h-1.9zM389.9 409.4h1.9v10.5h-1.9zM391.7 346.1h1.9v10.5h-1.9zM399 346.1h1.9v10.5h-1.9zM400.8 356.6h1.9v10.5h-1.9zM400.8 441h1.9v10.5h-1.9zM402.6 388.3h1.9v10.5h-1.9zM404.5 451.5h1.9v10.5h-1.9zM413.6 441h1.9v10.5h-1.9zM419.1 409.4h1.9v10.5h-1.9zM422.7 462.1h1.9v10.5h-1.9zM435.5 377.7h1.9v10.5h-1.9zM442.8 462.1h1.9v10.5h-1.9zM444.6 377.7h1.9v10.5h-1.9zM462.9 451.5h1.9v10.5h-1.9zM470.2 462.1h1.9v10.5h-1.9zM483 451.5h1.9v10.5h-1.9zM539.6 367.2h1.9v10.5h-1.9z" fill="#aeb4de"/>
<path d="M344.2 367.2h1.9v10.5h-1.9zM380.7 398.8h1.9v10.5h-1.9zM382.5 441h1.9v10.5h-1.9zM382.5 472.6h1.9v10.5h-1.9zM386.2 388.3h1.9v10.5h-1.9zM386.2 398.8h1.9v10.5h-1.9zM397.2 388.3h1.9v10.5h-1.9zM419.1 346.1h1.9v10.5h-1.9zM435.5 346.1h1.9v10.5h-1.9zM444.6 451.5h1.9v10.5h-1.9zM453.8 388.3h1.9v10.5h-1.9zM455.6 430.4h1.9v10.5h-1.9zM457.4 462.1h1.9v10.5h-1.9zM462.9 356.6h1.9v10.5h-1.9zM464.7 462.1h1.9v10.5h-1.9zM472 388.3h1.9v10.5h-1.9zM483 430.4h1.9v10.5h-1.9zM501.3 430.4h1.9v10.5h-1.9zM503.1 430.4h1.9v10.5h-1.9zM508.6 398.8h1.9v10.5h-1.9zM510.4 367.2h1.9v10.5h-1.9zM525 367.2h1.9v10.5h-1.9zM525 388.3h1.9v10.5h-1.9z" fill="#d2d8f0"/>
<path d="M344.2 377.7h1.9v10.5h-1.9zM391.7 441h1.9v10.5h-1.9zM404.5 419.9h1.9v10.5h-1.9z" fill="#a2aed8"/>
<path d="M346.1 377.7h1.9v10.5h-1.9zM419.1 419.9h1.9v10.5h-1.9zM567 398.8h1.9v10.5h-1.9z" fill="#606cba"/>
<path d="M346.1 398.8h1.9v10.5h-1.9zM391.7 388.3h1.9v10.5h-1.9zM470.2 356.6h1.9v10.5h-1.9zM554.2 388.3h1.9v10.5h-1.9z" fill="#969cd2"/>
<path d="M347.9 377.7h1.9v10.5h-1.9zM351.6 409.4h1.9v10.5h-1.9zM402.6 409.4h1.9v10.5h-1.9zM413.6 430.4h1.9v10.5h-1.9zM419.1 388.3h1.9v10.5h-1.9zM503.1 356.6h1.9v10.5h-1.9z" fill="#9ca8d8"/>
<path d="M347.9 388.3h1.9v10.5h-1.9zM382.5 356.6h1.9v10.5h-1.9zM395.3 430.4h1.9v10.5h-1.9zM402.6 377.7h1.9v10.5h-1.9zM444.6 472.6h1.9v10.5h-1.9z" fill="#9096d2"/>
<path d="M347.9 398.8h1.9v10.5h-1.9zM419.1 356.6h1.9v10.5h-1.9z" fill="#7e84c6"/>
<path d="M349.7 356.6h1.9v10.5h-1.9z" fill="#f09696"/>
<path d="M349.7 367.2h1.9v10.5h-1.9zM349.7 377.7h1.9v10.5h-1.9zM349.7 388.3h1.9v10.5h-1.9zM353.4 377.7h1.9v10.5h-1.9zM384.4 430.4h1.9v10.5h-1.9zM391.7 356.6h1.9v10.5h-1.9zM391.7 483.2h1.9v10.5h-1.9zM404.5 346.1h1.9v10.5h-1.9zM417.2 388.3h1.9v10.5h-1.9zM441 377.7h1.9v10.5h-1.9zM446.5 388.3h1.9v10.5h-1.9zM468.4 377.7h1.9v10.5h-1.9zM483 367.2h1.9v10.5h-1.9zM490.3 388.3h1.9v10.5h-1.9zM492.1 398.8h1.9v10.5h-1.9zM503.1 398.8h1.9v10.5h-1.9zM504.9 367.2h1.9v10.5h-1.9zM525 377.7h1.9v10.5h-1.9zM539.6 462.1h1.9v10.5h-1.9z" fill="#c6ccea"/>
<path d="M349.7 409.4h1.9v10.5h-1.9zM373.4 367.2h1.9v10.5h-1.9zM380.7 419.9h1.9v10.5h-1.9zM382.5 367.2h1.9v10.5h-1.9zM386.2 462.1h1.9v10.5h-1.9zM388 409.4h1.9v10.5h-1.9zM389.9 346.1h1.9v10.5h-1.9zM393.5 377.7h1.9v10.5h-1.9zM402.6 441h1.9v10.5h-1.9zM404.5 472.6h1.9v10.5h-1.9zM415.4 377.7h1.9v10.5h-1.9zM417.2 356.6h1.9v10.5h-1.9zM417.2 409.4h1.9v10.5h-1.9zM422.7 346.1h1.9v10.5h-1.9zM428.2 377.7h1.9v10.5h-1.9zM428.2 451.5h1.9v10.5h-1.9zM431.9 388.3h1.9v10.5h-1.9zM446.5 356.6h1.9v10.5h-1.9zM446.5 462.1h1.9v10.5h-1.9zM455.6 346.1h1.9v10.5h-1.9zM457.4 430.4h1.9v10.5h-1.9zM464.7 356.6h1.9v10.5h-1.9zM470.2 409.4h1.9v10.5h-1.9zM486.7 388.3h1.9v10.5h-1.9zM486.7 430.4h1.9v10.5h-1.9zM490.3 462.1h1.9v10.5h-1.9zM494 430.4h1.9v10.5h-1.9zM512.2 367.2h1.9v10.5h-1.9zM512.2 483.2h1.9v10.5h-1.9zM517.7 367.2h1.9v10.5h-1.9zM519.5 377.7h1.9v10.5h-1.9zM528.7 388.3h1.9v10.5h-1.9zM532.3 388.3h1.9v10.5h-1.9zM556.1 441h1.9v10.5h-1.9zM574.3 462.1h1.9v10.5h-1.9zM576.2 441h1.9v10.5h-1.9z" fill="#dee4f0"/>
<path d="M353.4 367.2h1.9v10.5h-1.9zM362.5 430.4h1.9v10.5h-1.9zM395.3 367.2h1.9v10.5h-1.9zM408.1 472.6h1.9v10.5h-1.9zM417.2 441h1.9v10.5h-1.9zM422.7 472.6h1.9v10.5h-1.9zM439.2 398.8h1.9v10.5h-1.9zM455.6 441h1.9v10.5h-1.9zM495.8 462.1h1.9v10.5h-1.9zM515.9 388.3h1.9v10.5h-1.9zM534.2 419.9h1.9v10.5h-1.9zM543.3 409.4h1.9v10.5h-1.9zM565.2 346.1h1.9v10.5h-1.9z" fill="#f6fcff"/>
<path d="M360.6 388.3h1.9v10.5h-1.9zM371.6 367.2h1.9v10.5h-1.9zM377.1 451.5h1.9v10.5h-1.9zM386.2 409.4h1.9v10.5h-1.9zM397.2 356.6h1.9v10.5h-1.9zM415.4 472.6h1.9v10.5h-1.9zM420.9 419.9h1.9v10.5h-1.9zM431.9 409.4h1.9v10.5h-1.9zM464.7 409.4h1.9v10.5h-1.9zM541.5 462.1h1.9v10.5h-1.9zM557.9 451.5h1.9v10.5h-1.9zM561.5 419.9h1.9v10.5h-1.9zM567 388.3h1.9v10.5h-1.9zM578 462.1h1.9v10.5h-1.9zM588.9 419.9h1.9v10.5h-1.9z" fill="#f0f6fc"/>
<path d="M360.6 462.1h1.9v10.5h-1.9zM380.7 388.3h1.9v10.5h-1.9zM397.2 472.6h1.9v10.5h-1.9zM402.6 483.2h1.9v10.5h-1.9zM411.8 346.1h1.9v10.5h-1.9zM428.2 419.9h1.9v10.5h-1.9zM430 441h1.9v10.5h-1.9zM442.8 483.2h1.9v10.5h-1.9zM444.6 356.6h1.9v10.5h-1.9zM448.3 398.8h1.9v10.5h-1.9zM448.3 419.9h1.9v10.5h-1.9zM450.1 346.1h1.9v10.5h-1.9zM450.1 409.4h1.9v10.5h-1.9zM452 441h1.9v10.5h-1.9zM452 451.5h1.9v10.5h-1.9zM461.1 377.7h1.9v10.5h-1.9zM470.2 472.6h1.9v10.5h-1.9zM479.4 430.4h1.9v10.5h-1.9zM483 398.8h1.9v10.5h-1.9zM483 409.4h1.9v10.5h-1.9zM497.6 398.8h1.9v10.5h-1.9zM508.6 377.7h1.9v10.5h-1.9zM521.4 367.2h1.9v10.5h-1.9zM521.4 388.3h1.9v10.5h-1.9zM543.3 356.6h1.9v10.5h-1.9zM561.5 483.2h1.9v10.5h-1.9zM563.4 409.4h1.9v10.5h-1.9zM565.2 367.2h1.9v10.5h-1.9zM565.2 419.9h1.9v10.5h-1.9zM581.6 367.2h1.9v10.5h-1.9zM588.9 346.1h1.9v10.5h-1.9z" fill="#eaf0f6"/>
<path d="M362.5 472.6h1.9v10.5h-1.9zM380.7 483.2h1.9v10.5h-1.9zM384.4 356.6h1.9v10.5h-1.9zM388 346.1h1.9v10.5h-1.9zM395.3 398.8h1.9v10.5h-1.9zM397.2 346.1h1.9v10.5h-1.9zM397.2 441h1.9v10.5h-1.9zM399 367.2h1.9v10.5h-1.9zM426.4 472.6h1.9v10.5h-1.9zM430 430.4h1.9v10.5h-1.9zM431.9 356.6h1.9v10.5h-1.9zM431.9 451.5h1.9v10.5h-1.9zM435.5 483.2h1.9v10.5h-1.9zM448.3 377.7h1.9v10.5h-1.9zM452 419.9h1.9v10.5h-1.9zM452 472.6h1.9v10.5h-1.9zM462.9 441h1.9v10.5h-1.9zM466.6 451.5h1.9v10.5h-1.9zM473.9 430.4h1.9v10.5h-1.9zM479.4 377.7h1.9v10.5h-1.9zM506.8 419.9h1.9v10.5h-1.9zM519.5 409.4h1.9v10.5h-1.9zM532.3 367.2h1.9v10.5h-1.9zM581.6 451.5h1.9v10.5h-1.9z" fill="#e4e4f0"/>
<path d="M364.3 377.7h1.9v10.5h-1.9zM373.4 398.8h1.9v10.5h-1.9zM384.4 462.1h1.9v10.5h-1.9zM391.7 419.9h1.9v10.5h-1.9zM419.1 430.4h1.9v10.5h-1.9zM424.6 367.2h1.9v10.5h-1.9zM426.4 398.8h1.9v10.5h-1.9zM426.4 419.9h1.9v10.5h-1.9zM428.2 346.1h1.9v10.5h-1.9zM428.2 441h1.9v10.5h-1.9zM430 462.1h1.9v10.5h-1.9zM430 472.6h1.9v10.5h-1.9zM433.7 377.7h1.9v10.5h-1.9zM448.3 367.2h1.9v10.5h-1.9zM450.1 462.1h1.9v10.5h-1.9zM453.8 356.6h1.9v10.5h-1.9zM461.1 462.1h1.9v10.5h-1.9zM466.6 483.2h1.9v10.5h-1.9zM472 377.7h1.9v10.5h-1.9zM473.9 409.4h1.9v10.5h-1.9zM490.3 430.4h1.9v10.5h-1.9zM503.1 451.5h1.9v10.5h-1.9zM510.4 398.8h1.9v10.5h-1.9zM512.2 462.1h1.9v10.5h-1.9zM526.8 377.7h1.9v10.5h-1.9zM526.8 388.3h1.9v10.5h-1.9zM532.3 409.4h1.9v10.5h-1.9zM539.6 451.5h1.9v10.5h-1.9zM556.1 472.6h1.9v10.5h-1.9zM567 430.4h1.9v10.5h-1.9zM572.5 462.1h1.9v10.5h-1.9zM588.9 451.5h1.9v10.5h-1.9z" fill="#d8def0"/>
<path d="M367.9 367.2h1.9v10.5h-1.9zM382.5 398.8h1.9v10.5h-1.9zM388 451.5h1.9v10.5h-1.9zM397.2 462.1h1.9v10.5h-1.9zM424.6 409.4h1.9v10.5h-1.9zM437.3 409.4h1.9v10.5h-1.9zM452 388.3h1.9v10.5h-1.9zM468.4 388.3h1.9v10.5h-1.9zM475.7 462.1h1.9v10.5h-1.9zM556.1 346.1h1.9v10.5h-1.9zM567 377.7h1.9v10.5h-1.9zM574.3 451.5h1.9v10.5h-1.9zM576.2 451.5h1.9v10.5h-1.9z" fill="#f0f0fc"/>
<path d="M373.4 409.4h1.9v10.5h-1.9zM384.4 367.2h1.9v10.5h-1.9zM384.4 472.6h1.9v10.5h-1.9zM388 398.8h1.9v10.5h-1.9zM406.3 388.3h1.9v10.5h-1.9zM411.8 419.9h1.9v10.5h-1.9zM419.1 451.5h1.9v10.5h-1.9zM433.7 462.1h1.9v10.5h-1.9zM441 419.9h1.9v10.5h-1.9zM441 483.2h1.9v10.5h-1.9zM452 483.2h1.9v10.5h-1.9zM464.7 388.3h1.9v10.5h-1.9zM466.6 398.8h1.9v10.5h-1.9zM472 356.6h1.9v10.5h-1.9zM472 409.4h1.9v10.5h-1.9zM473.9 398.8h1.9v10.5h-1.9zM475.7 388.3h1.9v10.5h-1.9zM481.2 377.7h1.9v10.5h-1.9zM484.8 367.2h1.9v10.5h-1.9zM504.9 388.3h1.9v10.5h-1.9zM514.1 367.2h1.9v10.5h-1.9zM514.1 419.9h1.9v10.5h-1.9zM526.8 409.4h1.9v10.5h-1.9zM545.1 462.1h1.9v10.5h-1.9zM548.8 462.1h1.9v10.5h-1.9zM578 346.1h1.9v10.5h-1.9zM581.6 409.4h1.9v10.5h-1.9z" fill="#e4eaf6"/>
<path d="M378.9 462.1h1.9v10.5h-1.9zM380.7 472.6h1.9v10.5h-1.9zM411.8 398.8h1.9v10.5h-1.9zM422.7 356.6h1.9v10.5h-1.9zM424.6 472.6h1.9v10.5h-1.9zM426.4 367.2h1.9v10.5h-1.9zM426.4 430.4h1.9v10.5h-1.9zM433.7 430.4h1.9v10.5h-1.9zM441 441h1.9v10.5h-1.9zM453.8 398.8h1.9v10.5h-1.9zM457.4 483.2h1.9v10.5h-1.9zM459.3 472.6h1.9v10.5h-1.9zM461.1 409.4h1.9v10.5h-1.9zM473.9 356.6h1.9v10.5h-1.9zM481.2 419.9h1.9v10.5h-1.9zM481.2 462.1h1.9v10.5h-1.9zM484.8 377.7h1.9v10.5h-1.9zM486.7 462.1h1.9v10.5h-1.9zM499.4 388.3h1.9v10.5h-1.9zM510.4 483.2h1.9v10.5h-1.9zM515.9 409.4h1.9v10.5h-1.9zM523.2 367.2h1.9v10.5h-1.9zM525 451.5h1.9v10.5h-1.9zM528.7 398.8h1.9v10.5h-1.9zM532.3 430.4h1.9v10.5h-1.9zM539.6 346.1h1.9v10.5h-1.9zM543.3 346.1h1.9v10.5h-1.9zM543.3 430.4h1.9v10.5h-1.9zM545.1 356.6h1.9v10.5h-1.9zM548.8 388.3h1.9v10.5h-1.9zM550.6 388.3h1.9v10.5h-1.9zM561.5 356.6h1.9v10.5h-1.9zM561.5 367.2h1.9v10.5h-1.9zM565.2 388.3h1.9v10.5h-1.9zM565.2 451.5h1.9v10.5h-1.9zM567 346.1h1.9v10.5h-1.9zM568.9 462.1h1.9v10.5h-1.9zM572.5 483.2h1.9v10.5h-1.9zM581.6 441h1.9v10.5h-1.9zM585.3 462.1h1.9v10.5h-1.9zM588.9 398.8h1.9v10.5h-1.9z" fill="#fcfcff"/>
<path d="M380.7 356.6h1.9v10.5h-1.9zM406.3 462.1h1.9v10.5h-1.9zM415.4 430.4h1.9v10.5h-1.9zM565.2 377.7h1.9v10.5h-1.9zM568.9 430.4h1.9v10.5h-1.9zM578 483.2h1.9v10.5h-1.9zM590.8 430.4h1.9v10.5h-1.9z" fill="#fcffff"/>
<path d="M380.7 377.7h1.9v10.5h-1.9zM386.2 377.7h1.9v10.5h-1.9zM393.5 388.3h1.9v10.5h-1.9zM395.3 388.3h1.9v10.5h-1.9zM397.2 398.8h1.9v10.5h-1.9zM402.6 398.8h1.9v10.5h-1.9zM406.3 377.7h1.9v10.5h-1.9zM408.1 409.4h1.9v10.5h-1.9zM420.9 398.8h1.9v10.5h-1.9zM428.2 388.3h1.9v10.5h-1.9zM428.2 398.8h1.9v10.5h-1.9zM428.2 409.4h1.9v10.5h-1.9zM433.7 409.4h1.9v10.5h-1.9zM441 462.1h1.9v10.5h-1.9zM444.6 398.8h1.9v10.5h-1.9zM444.6 430.4h1.9v10.5h-1.9zM446.5 451.5h1.9v10.5h-1.9zM450.1 388.3h1.9v10.5h-1.9zM455.6 398.8h1.9v10.5h-1.9zM459.3 346.1h1.9v10.5h-1.9zM464.7 430.4h1.9v10.5h-1.9zM466.6 346.1h1.9v10.5h-1.9zM466.6 419.9h1.9v10.5h-1.9zM473.9 419.9h1.9v10.5h-1.9zM490.3 419.9h1.9v10.5h-1.9zM492.1 409.4h1.9v10.5h-1.9zM510.4 346.1h1.9v10.5h-1.9zM514.1 409.4h1.9v10.5h-1.9zM526.8 367.2h1.9v10.5h-1.9zM539.6 377.7h1.9v10.5h-1.9zM559.7 356.6h1.9v10.5h-1.9zM561.5 451.5h1.9v10.5h-1.9zM561.5 462.1h1.9v10.5h-1.9zM578 377.7h1.9v10.5h-1.9zM578 451.5h1.9v10.5h-1.9zM583.5 462.1h1.9v10.5h-1.9zM590.8 356.6h1.9v10.5h-1.9z" fill="#dedef0"/>
<path d="M382.5 388.3h1.9v10.5h-1.9zM466.6 377.7h1.9v10.5h-1.9zM486.7 483.2h1.9v10.5h-1.9zM503.1 388.3h1.9v10.5h-1.9zM521.4 451.5h1.9v10.5h-1.9z" fill="#8a96cc"/>
<path d="M382.5 409.4h1.9v10.5h-1.9zM402.6 356.6h1.9v10.5h-1.9zM402.6 472.6h1.9v10.5h-1.9zM435.5 419.9h1.9v10.5h-1.9zM473.9 377.7h1.9v10.5h-1.9z" fill="#c0c0e4"/>
<path d="M384.4 377.7h1.9v10.5h-1.9zM386.2 367.2h1.9v10.5h-1.9zM389.9 377.7h1.9v10.5h-1.9zM400.8 388.3h1.9v10.5h-1.9zM499.4 419.9h1.9v10.5h-1.9z" fill="#7884c6"/>
<path d="M384.4 398.8h1.9v10.5h-1.9zM417.2 430.4h1.9v10.5h-1.9zM419.1 441h1.9v10.5h-1.9zM442.8 409.4h1.9v10.5h-1.9zM446.5 346.1h1.9v10.5h-1.9zM459.3 419.9h1.9v10.5h-1.9zM528.7 409.4h1.9v10.5h-1.9z" fill="#d2d8ea"/>
<path d="M389.9 356.6h1.9v10.5h-1.9zM419.1 367.2h1.9v10.5h-1.9zM431.9 367.2h1.9v10.5h-1.9zM442.8 356.6h1.9v10.5h-1.9zM455.6 419.9h1.9v10.5h-1.9zM483 419.9h1.9v10.5h-1.9zM514.1 430.4h1.9v10.5h-1.9zM567 451.5h1.9v10.5h-1.9z" fill="#c6c6ea"/>
<path d="M389.9 388.3h1.9v10.5h-1.9zM462.9 398.8h1.9v10.5h-1.9zM503.1 377.7h1.9v10.5h-1.9z" fill="#7e8ac6"/>
<path d="M395.3 441h1.9v10.5h-1.9zM413.6 377.7h1.9v10.5h-1.9zM548.8 441h1.9v10.5h-1.9z" fill="#848ac6"/>
<path d="M399 388.3h1.9v10.5h-1.9zM400.8 377.7h1.9v10.5h-1.9zM402.6 451.5h1.9v10.5h-1.9zM402.6 462.1h1.9v10.5h-1.9zM404.5 377.7h1.9v10.5h-1.9zM411.8 409.4h1.9v10.5h-1.9zM413.6 419.9h1.9v10.5h-1.9zM431.9 377.7h1.9v10.5h-1.9zM431.9 419.9h1.9v10.5h-1.9zM442.8 377.7h1.9v10.5h-1.9zM444.6 367.2h1.9v10.5h-1.9zM466.6 388.3h1.9v10.5h-1.9zM466.6 430.4h1.9v10.5h-1.9zM466.6 462.1h1.9v10.5h-1.9zM490.3 367.2h1.9v10.5h-1.9zM492.1 377.7h1.9v10.5h-1.9zM501.3 377.7h1.9v10.5h-1.9zM501.3 388.3h1.9v10.5h-1.9z" fill="#606cb4"/>
<path d="M399 419.9h1.9v10.5h-1.9zM404.5 430.4h1.9v10.5h-1.9zM413.6 398.8h1.9v10.5h-1.9zM435.5 472.6h1.9v10.5h-1.9zM442.8 346.1h1.9v10.5h-1.9zM462.9 462.1h1.9v10.5h-1.9z" fill="#8490cc"/>
<path d="M400.8 346.1h1.9v10.5h-1.9zM539.6 388.3h1.9v10.5h-1.9z" fill="#babae4"/>
<path d="M442.8 419.9h1.9v10.5h-1.9zM464.7 483.2h1.9v10.5h-1.9z" fill="#8a90cc"/>
<path d="M452 409.4h1.9v10.5h-1.9zM462.9 388.3h1.9v10.5h-1.9z" fill="#6072ba"/>
<path d="M468.4 367.2h1.9v10.5h-1.9z" fill="#6c78ba"/>
<path d="M472 430.4h1.9v10.5h-1.9zM508.6 419.9h1.9v10.5h-1.9zM510.4 472.6h1.9v10.5h-1.9zM548.8 419.9h1.9v10.5h-1.9z" fill="#f6f6ff"/>
<path d="M515.9 356.6h1.9v10.5h-1.9zM552.4 419.9h1.9v10.5h-1.9z" fill="#fcdede"/>
<path d="M548.8 356.6h1.9v10.5h-1.9zM581.6 430.4h1.9v10.5h-1.9z" fill="#9096cc"/>
<path d="M567 462.1h1.9v10.5h-1.9z" fill="#a8b4de"/>
<rect x="358.8" y="332.9" width="233.8" height="10.9" fill="#cfcfcf"/>
<rect x="326.1" y="332.9" width="4.1" height="10.9" fill="#9b1c20"/>
<rect x="333.3" y="332.9" width="1.9" height="10.9" fill="#9b1c20"/>
<rect x="335.1" y="332.9" width="1.9" height="10.9" fill="#9b1c20"/>
<rect x="336.9" y="332.9" width="1.9" height="10.9" fill="#9b1c20"/>
<rect x="338.8" y="332.9" width="1.9" height="10.9" fill="#cfcfcf"/>
<rect x="340.6" y="332.9" width="1.9" height="10.9" fill="#2b3990"/>
<rect x="342.4" y="332.9" width="1.9" height="10.9" fill="#9b1c20"/>
<rect x="344.2" y="332.9" width="1.9" height="10.9" fill="#9b1c20"/>
<rect x="346.1" y="332.9" width="1.9" height="10.9" fill="#9b1c20"/>
<rect x="347.9" y="332.9" width="1.9" height="10.9" fill="#cfcfcf"/>
<rect x="349.7" y="332.9" width="1.9" height="10.9" fill="#2b3990"/>
<rect x="351.6" y="332.9" width="1.9" height="10.9" fill="#2b3990"/>
<rect x="353.4" y="332.9" width="1.9" height="10.9" fill="#9b1c20"/>
<rect x="358.8" y="332.9" width="1.9" height="10.9" fill="#2b3990"/>
<rect x="375.2" y="332.9" width="1.9" height="10.9" fill="#2b3990"/>
<rect x="419.1" y="332.9" width="1.9" height="10.9" fill="#2b3990"/>
<rect x="490.3" y="332.9" width="1.9" height="10.9" fill="#9b1c20"/>
<rect x="519.5" y="332.9" width="1.9" height="10.9" fill="#2b3990"/>
<rect x="532.3" y="332.9" width="1.9" height="10.9" fill="#2b3990"/>
<path d="M327.1 330.1L329.2 330.1M327.1 330.1L327.1 332.9M329.2 330.1L329.2 332.9M334.2 331.5L336 331.5M334.2 331.5L334.2 332.9M336 331.5L336 332.9M339.7 331.1L341.5 331.1M339.7 331.1L339.7 332.9M341.5 331.1L341.5 332.9M337.9 330L340.6 330M337.9 330L337.9 332.9M340.6 330L340.6 331.1M335.1 320.5L339.2 320.5M335.1 320.5L335.1 331.5M339.2 320.5L339.2 330M345.2 331.6L347 331.6M345.2 331.6L345.2 332.9M347 331.6L347 332.9M346.1 329.5L348.8 329.5M346.1 329.5L346.1 331.6M348.8 329.5L348.8 332.9M352.5 330.6L354.3 330.6M352.5 330.6L352.5 332.9M354.3 330.6L354.3 332.9M350.6 329.5L353.4 329.5M350.6 329.5L350.6 332.9M353.4 329.5L353.4 330.6M347.4 328.9L352 328.9M347.4 328.9L347.4 329.5M352 328.9L352 329.5M343.3 319.5L349.7 319.5M343.3 319.5L343.3 332.9M349.7 319.5L349.7 328.9M337.2 317.7L346.5 317.7M337.2 317.7L337.2 320.5M346.5 317.7L346.5 319.5M361.5 331.5L363.4 331.5M361.5 331.5L361.5 332.9M363.4 331.5L363.4 332.9M362.5 330.1L365.2 330.1M362.5 330.1L362.5 331.5M365.2 330.1L365.2 332.9M367 331.5L368.8 331.5M367 331.5L367 332.9M368.8 331.5L368.8 332.9M363.8 329.5L367.9 329.5M363.8 329.5L363.8 330.1M367.9 329.5L367.9 331.5M359.7 328.9L365.9 328.9M359.7 328.9L359.7 332.9M365.9 328.9L365.9 329.5M374.3 331L376.2 331M374.3 331L374.3 332.9M376.2 331L376.2 332.9M378 331L379.8 331M378 331L378 332.9M379.8 331L379.8 332.9M375.2 329.9L378.9 329.9M375.2 329.9L375.2 331M378.9 329.9L378.9 331M372.5 329.3L377.1 329.3M372.5 329.3L372.5 332.9M377.1 329.3L377.1 329.9M370.7 328.7L374.8 328.7M370.7 328.7L370.7 332.9M374.8 328.7L374.8 329.3M362.8 320.4L372.7 320.4M362.8 320.4L362.8 328.9M372.7 320.4L372.7 328.7M381.6 331.5L383.5 331.5M381.6 331.5L381.6 332.9M383.5 331.5L383.5 332.9M385.3 330.9L387.1 330.9M385.3 330.9L385.3 332.9M387.1 330.9L387.1 332.9M390.8 331.6L392.6 331.6M390.8 331.6L390.8 332.9M392.6 331.6L392.6 332.9M388.9 329.5L391.7 329.5M388.9 329.5L388.9 332.9M391.7 329.5L391.7 331.6M386.2 328.9L390.3 328.9M386.2 328.9L386.2 330.9M390.3 328.9L390.3 329.5M394.4 331.1L396.2 331.1M394.4 331.1L394.4 332.9M396.2 331.1L396.2 332.9M388.3 328.3L395.3 328.3M388.3 328.3L388.3 328.9M395.3 328.3L395.3 331.1M382.5 327.7L391.8 327.7M382.5 327.7L382.5 331.5M391.8 327.7L391.8 328.3M398.1 331.5L399.9 331.5M398.1 331.5L398.1 332.9M399.9 331.5L399.9 332.9M399 329.8L401.7 329.8M399 329.8L399 331.5M401.7 329.8L401.7 332.9M403.6 331.5L405.4 331.5M403.6 331.5L403.6 332.9M405.4 331.5L405.4 332.9M400.4 328.2L404.5 328.2M400.4 328.2L400.4 329.8M404.5 328.2L404.5 331.5M409 331.4L410.9 331.4M409 331.4L409 332.9M410.9 331.4L410.9 332.9M407.2 330L409.9 330M407.2 330L407.2 332.9M409.9 330L409.9 331.4M414.5 331.1L416.3 331.1M414.5 331.1L414.5 332.9M416.3 331.1L416.3 332.9M412.7 329.6L415.4 329.6M412.7 329.6L412.7 332.9M415.4 329.6L415.4 331.1M408.6 329L414.1 329M408.6 329L408.6 330M414.1 329L414.1 329.6M402.4 327L411.3 327M402.4 327L402.4 328.2M411.3 327L411.3 329M418.2 331.3L420 331.3M418.2 331.3L418.2 332.9M420 331.3L420 332.9M419.1 329.7L421.8 329.7M419.1 329.7L419.1 331.3M421.8 329.7L421.8 332.9M427.3 331.5L429.1 331.5M427.3 331.5L427.3 332.9M429.1 331.5L429.1 332.9M425.5 330.3L428.2 330.3M425.5 330.3L425.5 332.9M428.2 330.3L428.2 331.5M423.6 329.5L426.8 329.5M423.6 329.5L423.6 332.9M426.8 329.5L426.8 330.3M420.4 328L425.2 328M420.4 328L420.4 329.7M425.2 328L425.2 329.5M432.8 331.5L434.6 331.5M432.8 331.5L432.8 332.9M434.6 331.5L434.6 332.9M430.9 330.4L433.7 330.4M430.9 330.4L430.9 332.9M433.7 330.4L433.7 331.5M438.3 331.4L440.1 331.4M438.3 331.4L438.3 332.9M440.1 331.4L440.1 332.9M439.2 330.3L441.9 330.3M439.2 330.3L439.2 331.4M441.9 330.3L441.9 332.9M436.4 329.3L440.5 329.3M436.4 329.3L436.4 332.9M440.5 329.3L440.5 330.3M432.3 328.1L438.5 328.1M432.3 328.1L432.3 330.4M438.5 328.1L438.5 329.3M422.8 326.6L435.4 326.6M422.8 326.6L422.8 328M435.4 326.6L435.4 328.1M445.6 331.4L447.4 331.4M445.6 331.4L445.6 332.9M447.4 331.4L447.4 332.9M443.7 330L446.5 330M443.7 330L443.7 332.9M446.5 330L446.5 331.4M445.1 329.2L449.2 329.2M445.1 329.2L445.1 330M449.2 329.2L449.2 332.9M451 331.1L452.9 331.1M451 331.1L451 332.9M452.9 331.1L452.9 332.9M447.2 328.5L452 328.5M447.2 328.5L447.2 329.2M452 328.5L452 331.1M429.1 326L449.6 326M429.1 326L429.1 326.6M449.6 326L449.6 328.5M406.9 325L439.3 325M406.9 325L406.9 327M439.3 325L439.3 326M387.2 319.7L423.1 319.7M387.2 319.7L387.2 327.7M423.1 319.7L423.1 325M454.7 331.5L456.5 331.5M454.7 331.5L454.7 332.9M456.5 331.5L456.5 332.9M458.3 330.9L460.2 330.9M458.3 330.9L458.3 332.9M460.2 330.9L460.2 332.9M455.6 329L459.3 329M455.6 329L455.6 331.5M459.3 329L459.3 330.9M462 330.8L463.8 330.8M462 330.8L462 332.9M463.8 330.8L463.8 332.9M457.4 328.4L462.9 328.4M457.4 328.4L457.4 329M462.9 328.4L462.9 330.8M469.3 331.3L471.1 331.3M469.3 331.3L469.3 332.9M471.1 331.3L471.1 332.9M467.5 329.4L470.2 329.4M467.5 329.4L467.5 332.9M470.2 329.4L470.2 331.3M465.7 328.7L468.9 328.7M465.7 328.7L465.7 332.9M468.9 328.7L468.9 329.4M460.2 327.8L467.3 327.8M460.2 327.8L460.2 328.4M467.3 327.8L467.3 328.7M473 331.3L474.8 331.3M473 331.3L473 332.9M474.8 331.3L474.8 332.9M476.6 331.2L478.4 331.2M476.6 331.2L476.6 332.9M478.4 331.2L478.4 332.9M473.9 329L477.5 329M473.9 329L473.9 331.3M477.5 329L477.5 331.2M480.3 331.2L482.1 331.2M480.3 331.2L480.3 332.9M482.1 331.2L482.1 332.9M481.2 329.9L483.9 329.9M481.2 329.9L481.2 331.2M483.9 329.9L483.9 332.9M475.7 328.4L482.5 328.4M475.7 328.4L475.7 329M482.5 328.4L482.5 329.9M463.7 326.5L479.1 326.5M463.7 326.5L463.7 327.8M479.1 326.5L479.1 328.4M485.7 331.4L487.6 331.4M485.7 331.4L485.7 332.9M487.6 331.4L487.6 332.9M486.7 330.3L489.4 330.3M486.7 330.3L486.7 331.4M489.4 330.3L489.4 332.9M491.2 331.5L493.1 331.5M491.2 331.5L491.2 332.9M493.1 331.5L493.1 332.9M488 328.7L492.1 328.7M488 328.7L488 330.3M492.1 328.7L492.1 331.5M496.7 331.6L498.5 331.6M496.7 331.6L496.7 332.9M498.5 331.6L498.5 332.9M497.6 330.3L500.4 330.3M497.6 330.3L497.6 331.6M500.4 330.3L500.4 332.9M494.9 329.7L499 329.7M494.9 329.7L494.9 332.9M499 329.7L499 330.3M490.1 327.5L496.9 327.5M490.1 327.5L490.1 328.7M496.9 327.5L496.9 329.7M504 331.3L505.8 331.3M504 331.3L504 332.9M505.8 331.3L505.8 332.9M502.2 329.7L504.9 329.7M502.2 329.7L502.2 332.9M504.9 329.7L504.9 331.3M503.6 329.1L507.7 329.1M503.6 329.1L503.6 329.7M507.7 329.1L507.7 332.9M511.3 331.5L513.1 331.5M511.3 331.5L511.3 332.9M513.1 331.5L513.1 332.9M512.2 330.4L515 330.4M512.2 330.4L512.2 331.5M515 330.4L515 332.9M509.5 329.8L513.6 329.8M509.5 329.8L509.5 332.9M513.6 329.8L513.6 330.4M516.8 331L518.6 331M516.8 331L516.8 332.9M518.6 331L518.6 332.9M517.7 329.8L520.5 329.8M517.7 329.8L517.7 331M520.5 329.8L520.5 332.9M511.5 328.2L519.1 328.2M511.5 328.2L511.5 329.8M519.1 328.2L519.1 329.8M505.6 327.4L515.3 327.4M505.6 327.4L505.6 329.1M515.3 327.4L515.3 328.2M493.5 326.6L510.5 326.6M493.5 326.6L493.5 327.5M510.5 326.6L510.5 327.4M471.4 323.8L502 323.8M471.4 323.8L471.4 326.5M502 323.8L502 326.6M522.3 331.2L524.1 331.2M522.3 331.2L522.3 332.9M524.1 331.2L524.1 332.9M525.9 330.3L527.8 330.3M525.9 330.3L525.9 332.9M527.8 330.3L527.8 332.9M526.8 329.2L529.6 329.2M526.8 329.2L526.8 330.3M529.6 329.2L529.6 332.9M523.2 328.2L528.2 328.2M523.2 328.2L523.2 331.2M528.2 328.2L528.2 329.2M535.1 331.6L536.9 331.6M535.1 331.6L535.1 332.9M536.9 331.6L536.9 332.9M533.2 330.5L536 330.5M533.2 330.5L533.2 332.9M536 330.5L536 331.6M531.4 328.8L534.6 328.8M531.4 328.8L531.4 332.9M534.6 328.8L534.6 330.5M538.7 331.1L540.5 331.1M538.7 331.1L538.7 332.9M540.5 331.1L540.5 332.9M542.4 331.5L544.2 331.5M542.4 331.5L542.4 332.9M544.2 331.5L544.2 332.9M543.3 330.4L546 330.4M543.3 330.4L543.3 331.5M546 330.4L546 332.9M539.6 329L544.7 329M539.6 329L539.6 331.1M544.7 329L544.7 330.4M547.8 331.4L549.7 331.4M547.8 331.4L547.8 332.9M549.7 331.4L549.7 332.9M542.1 328.4L548.8 328.4M542.1 328.4L542.1 329M548.8 328.4L548.8 331.4M533 327.8L545.5 327.8M533 327.8L533 328.8M545.5 327.8L545.5 328.4M553.3 331.6L555.2 331.6M553.3 331.6L553.3 332.9M555.2 331.6L555.2 332.9M554.2 329.9L557 329.9M554.2 329.9L554.2 331.6M557 329.9L557 332.9M551.5 328.8L555.6 328.8M551.5 328.8L551.5 332.9M555.6 328.8L555.6 329.9M539.2 327.2L553.6 327.2M539.2 327.2L539.2 327.8M553.6 327.2L553.6 328.8M525.7 326.6L546.4 326.6M525.7 326.6L525.7 328.2M546.4 326.6L546.4 327.2M558.8 331.3L560.6 331.3M558.8 331.3L558.8 332.9M560.6 331.3L560.6 332.9M564.3 331.5L566.1 331.5M564.3 331.5L564.3 332.9M566.1 331.5L566.1 332.9M562.5 329.5L565.2 329.5M562.5 329.5L562.5 332.9M565.2 329.5L565.2 331.5M569.8 331.6L571.6 331.6M569.8 331.6L569.8 332.9M571.6 331.6L571.6 332.9M570.7 330.5L573.4 330.5M570.7 330.5L570.7 331.6M573.4 330.5L573.4 332.9M567.9 329.9L572.1 329.9M567.9 329.9L567.9 332.9M572.1 329.9L572.1 330.5M563.8 328.9L570 328.9M563.8 328.9L563.8 329.5M570 328.9L570 329.9M559.7 328.3L566.9 328.3M559.7 328.3L559.7 331.3M566.9 328.3L566.9 328.9M575.2 331.5L577.1 331.5M575.2 331.5L575.2 332.9M577.1 331.5L577.1 332.9M576.2 330.4L578.9 330.4M576.2 330.4L576.2 331.5M578.9 330.4L578.9 332.9M563.3 327.7L577.5 327.7M563.3 327.7L563.3 328.3M577.5 327.7L577.5 330.4M586.2 331.6L588 331.6M586.2 331.6L586.2 332.9M588 331.6L588 332.9M584.4 330.5L587.1 330.5M584.4 330.5L584.4 332.9M587.1 330.5L587.1 331.6M582.6 329.9L585.8 329.9M582.6 329.9L582.6 332.9M585.8 329.9L585.8 330.5M580.7 328.4L584.2 328.4M580.7 328.4L580.7 332.9M584.2 328.4L584.2 329.9M589.9 331.6L591.7 331.6M589.9 331.6L589.9 332.9M591.7 331.6L591.7 332.9M582.4 327.6L590.8 327.6M582.4 327.6L582.4 328.4M590.8 327.6L590.8 331.6M570.4 325.9L586.6 325.9M570.4 325.9L570.4 327.7M586.6 325.9L586.6 327.6M536 325.1L578.5 325.1M536 325.1L536 326.6M578.5 325.1L578.5 325.9M486.7 319.7L557.3 319.7M486.7 319.7L486.7 323.8M557.3 319.7L557.3 325.1M405.1 315.6L522 315.6M405.1 315.6L405.1 319.7M522 315.6L522 319.7M368.6 314.8L440.5 314.8M368.6 314.8L367.8 314.8M367.8 314.8L367.8 320.4M440.5 314.8L440.5 315.6M341.2 303.6L404.7 303.6M341.2 303.6L341.2 317.7M404.7 303.6L404.7 314.8M328.2 276.7L374.9 276.7M328.2 276.7L328.2 330.1M374.9 276.7L374.9 303.6" stroke="#4a4a4a" stroke-width="0.45" fill="none"/>
<text x="596.6" y="342.4" font-size="10" textLength="57" lengthAdjust="spacingAndGlyphs">Variant class</text>
<text x="596.6" y="354.9" font-size="10" textLength="22.9" lengthAdjust="spacingAndGlyphs">EGFR</text>
<text x="596.6" y="365.4" font-size="10" textLength="26.2" lengthAdjust="spacingAndGlyphs">MAPK</text>
<text x="596.6" y="376" font-size="10" textLength="18.3" lengthAdjust="spacingAndGlyphs">Trail</text>
<text x="596.6" y="386.5" font-size="10" textLength="22.4" lengthAdjust="spacingAndGlyphs">NFkB</text>
<text x="596.6" y="397" font-size="10" textLength="22.2" lengthAdjust="spacingAndGlyphs">TNFa</text>
<text x="596.6" y="407.6" font-size="10" textLength="41.5" lengthAdjust="spacingAndGlyphs">JAK–STAT</text>
<text x="596.6" y="418.1" font-size="10" textLength="16.6" lengthAdjust="spacingAndGlyphs">p53</text>
<text x="596.6" y="428.7" font-size="10" textLength="44.1" lengthAdjust="spacingAndGlyphs">Androgen</text>
<text x="596.6" y="439.2" font-size="10" textLength="35.6" lengthAdjust="spacingAndGlyphs">Hypoxia</text>
<text x="596.6" y="449.8" font-size="10" textLength="22.9" lengthAdjust="spacingAndGlyphs">TGFb</text>
<text x="596.6" y="460.3" font-size="10" textLength="19.1" lengthAdjust="spacingAndGlyphs">PI3K</text>
<text x="596.6" y="470.8" font-size="10" textLength="22.9" lengthAdjust="spacingAndGlyphs">VEGF</text>
<text x="596.6" y="481.4" font-size="10" textLength="39" lengthAdjust="spacingAndGlyphs">Estrogen</text>
<text x="596.6" y="491.9" font-size="10" textLength="19.9" lengthAdjust="spacingAndGlyphs">WNT</text>
<defs><linearGradient id="cb" x1="0" y1="0" x2="0" y2="1"><stop offset="0" stop-color="#e32b29"/><stop offset="0.08" stop-color="#e63d3b"/><stop offset="0.27" stop-color="#ec6a6a"/><stop offset="0.46" stop-color="#f29696"/><stop offset="0.65" stop-color="#f8c0c0"/><stop offset="0.78" stop-color="#fde6e6"/><stop offset="0.835" stop-color="#ffffff"/><stop offset="0.88" stop-color="#d3d6ec"/><stop offset="0.94" stop-color="#7d88c4"/><stop offset="1" stop-color="#263a8c"/></linearGradient></defs>
<rect x="664.1" y="331.5" width="10.7" height="158" fill="url(#cb)"/>
<text x="678.8" y="346.1" font-size="8.8">4</text>
<text x="678.8" y="375.3" font-size="8.8">3</text>
<text x="678.8" y="405.9" font-size="8.8">2</text>
<text x="678.8" y="436.5" font-size="8.8">1</text>
<text x="678.8" y="467.1" font-size="8.8">0</text>
<text x="0" y="326.4" font-size="13" font-weight="bold" style="fill:#000">e</text>
<text x="32.4" y="326.4" font-size="9.5" textLength="24.1" lengthAdjust="spacingAndGlyphs">EGFR</text>
<line x1="32.4" y1="330.8" x2="32.4" y2="392.1" stroke="#8c8c8c" stroke-width="0.8"/>
<line x1="32.4" y1="392.1" x2="278.3" y2="392.1" stroke="#8c8c8c" stroke-width="0.8"/>
<line x1="29.6" y1="336.7" x2="32.4" y2="336.7" stroke="#8c8c8c" stroke-width="0.7"/>
<text x="26.7" y="339.5" font-size="7.9" text-anchor="end">0.4</text>
<line x1="29.6" y1="350.1" x2="32.4" y2="350.1" stroke="#8c8c8c" stroke-width="0.7"/>
<text x="26.7" y="352.9" font-size="7.9" text-anchor="end">0.3</text>
<line x1="29.6" y1="363.2" x2="32.4" y2="363.2" stroke="#8c8c8c" stroke-width="0.7"/>
<text x="26.7" y="366" font-size="7.9" text-anchor="end">0.2</text>
<line x1="29.6" y1="376.1" x2="32.4" y2="376.1" stroke="#8c8c8c" stroke-width="0.7"/>
<text x="26.7" y="378.9" font-size="7.9" text-anchor="end">0.1</text>
<line x1="29.6" y1="389.3" x2="32.4" y2="389.3" stroke="#8c8c8c" stroke-width="0.7"/>
<text x="26.7" y="392.1" font-size="7.9" text-anchor="end">0</text>
<line x1="73.6" y1="392.1" x2="73.6" y2="394.7" stroke="#8c8c8c" stroke-width="0.7"/>
<text x="73.6" y="403.5" font-size="7.9" text-anchor="middle">−2</text>
<line x1="114.8" y1="392.1" x2="114.8" y2="394.7" stroke="#8c8c8c" stroke-width="0.7"/>
<text x="114.8" y="403.5" font-size="7.9" text-anchor="middle">0</text>
<line x1="156.3" y1="392.1" x2="156.3" y2="394.7" stroke="#8c8c8c" stroke-width="0.7"/>
<text x="156.3" y="403.5" font-size="7.9" text-anchor="middle">2</text>
<line x1="198.3" y1="392.1" x2="198.3" y2="394.7" stroke="#8c8c8c" stroke-width="0.7"/>
<text x="198.3" y="403.5" font-size="7.9" text-anchor="middle">4</text>
<line x1="239.5" y1="392.1" x2="239.5" y2="394.7" stroke="#8c8c8c" stroke-width="0.7"/>
<text x="239.5" y="403.5" font-size="7.9" text-anchor="middle">6</text>
<text x="7.9" y="360.5" font-size="9.5" text-anchor="middle" textLength="31.8" lengthAdjust="spacingAndGlyphs" transform="rotate(-90 7.9 360.5)">Density</text>
<path d="M43.5 389.5C47.3 389.2 61.0 389.1 66.3 388.0C71.5 386.9 72.1 384.8 75.0 382.8C77.9 380.8 80.9 379.6 83.8 375.8C86.7 372.0 89.7 365.7 92.6 360.0C95.5 354.3 99.1 345.5 101.3 341.6C103.5 337.7 104.2 337.9 106.0 336.5C107.8 335.1 110.0 333.4 111.8 332.9C113.6 332.3 115.2 332.5 117.0 333.2C118.8 333.9 120.2 334.3 122.3 337.3C124.3 340.3 127.0 346.9 129.3 351.3C131.7 355.7 133.8 359.7 136.4 363.5C139.0 367.3 142.8 371.6 145.1 374.0C147.4 376.4 147.8 376.2 150.0 377.7C152.2 379.2 154.8 381.6 158.2 383.2C161.6 384.8 164.9 386.4 170.4 387.3C175.9 388.2 181.0 388.2 190.9 388.6C200.8 389.0 223.5 389.3 230.0 389.4" stroke="#cdcdcd" stroke-width="1.5" fill="none" stroke-linejoin="round"/>
<path d="M43.5 389.5C48.2 389.1 65.8 388.3 71.5 387.2C77.2 386.1 76.0 384.6 78.0 383.0C80.0 381.4 81.4 379.4 83.8 377.6C86.2 375.8 89.7 374.8 92.6 372.3C95.5 369.8 97.8 367.1 101.3 362.7C104.8 358.3 110.5 350.0 113.6 346.0C116.7 342.0 118.2 340.3 120.0 338.5C121.8 336.7 122.5 335.1 124.1 335.2C125.6 335.3 127.3 336.6 129.3 339.0C131.4 341.4 133.8 344.8 136.4 349.5C139.0 354.2 142.8 363.4 145.1 367.0C147.4 370.6 147.8 369.2 150.0 371.0C152.2 372.8 155.5 376.2 158.2 377.7C160.9 379.2 163.2 379.0 166.3 379.8C169.4 380.6 173.2 381.5 176.6 382.6C180.0 383.7 182.7 385.3 186.8 386.3C190.9 387.3 196.4 388.1 201.1 388.6C205.8 389.1 212.7 389.2 215.0 389.3" stroke="#2e3b94" stroke-width="1.5" fill="none" stroke-linejoin="round"/>
<path d="M43.5 389.8C47.3 389.7 61.0 389.6 66.3 389.0C71.5 388.4 71.8 387.6 75.0 386.3C78.2 385.0 81.7 382.6 85.5 381.0C89.3 379.4 94.5 378.3 97.8 376.7C101.0 375.1 102.4 373.7 105.0 371.5C107.6 369.3 109.8 366.6 113.6 363.5C117.4 360.4 124.1 355.1 127.6 353.0C131.1 350.9 131.7 350.6 134.6 350.9C137.5 351.2 142.5 353.8 145.1 354.8C147.7 355.8 147.8 355.5 150.0 356.7C152.2 357.9 155.5 359.8 158.2 361.8C160.9 363.9 163.6 366.6 166.3 369.0C169.0 371.4 171.4 374.1 174.5 376.1C177.6 378.1 180.9 379.8 184.7 381.2C188.4 382.6 193.6 384.0 197.0 384.7C200.4 385.4 202.1 385.4 205.2 385.3C208.3 385.2 212.3 384.3 215.4 384.3C218.5 384.3 220.5 384.8 223.6 385.3C226.7 385.8 229.7 386.8 233.8 387.3C237.9 387.8 242.3 388.0 248.1 388.4C253.9 388.8 265.1 389.2 268.5 389.4" stroke="#9d2226" stroke-width="1.5" fill="none" stroke-linejoin="round"/>
<text x="32.4" y="416.4" font-size="9.5" textLength="25.6" lengthAdjust="spacingAndGlyphs">MAPK</text>
<line x1="32.4" y1="420.8" x2="32.4" y2="482.1" stroke="#8c8c8c" stroke-width="0.8"/>
<line x1="32.4" y1="482.1" x2="278.4" y2="482.1" stroke="#8c8c8c" stroke-width="0.8"/>
<line x1="29.6" y1="428.5" x2="32.4" y2="428.5" stroke="#8c8c8c" stroke-width="0.7"/>
<text x="26.7" y="431.3" font-size="7.9" text-anchor="end">0.4</text>
<line x1="29.6" y1="441.2" x2="32.4" y2="441.2" stroke="#8c8c8c" stroke-width="0.7"/>
<text x="26.7" y="444" font-size="7.9" text-anchor="end">0.3</text>
<line x1="29.6" y1="454.1" x2="32.4" y2="454.1" stroke="#8c8c8c" stroke-width="0.7"/>
<text x="26.7" y="456.9" font-size="7.9" text-anchor="end">0.2</text>
<line x1="29.6" y1="466.8" x2="32.4" y2="466.8" stroke="#8c8c8c" stroke-width="0.7"/>
<text x="26.7" y="469.6" font-size="7.9" text-anchor="end">0.1</text>
<line x1="29.6" y1="479.3" x2="32.4" y2="479.3" stroke="#8c8c8c" stroke-width="0.7"/>
<text x="26.7" y="482.1" font-size="7.9" text-anchor="end">0</text>
<line x1="104.7" y1="482.1" x2="104.7" y2="484.7" stroke="#8c8c8c" stroke-width="0.7"/>
<text x="104.7" y="493.3" font-size="7.9" text-anchor="middle">0</text>
<line x1="195.4" y1="482.1" x2="195.4" y2="484.7" stroke="#8c8c8c" stroke-width="0.7"/>
<text x="195.4" y="493.3" font-size="7.9" text-anchor="middle">5</text>
<text x="7.9" y="450.5" font-size="9.5" text-anchor="middle" textLength="31.8" lengthAdjust="spacingAndGlyphs" transform="rotate(-90 7.9 450.5)">Density</text>
<path d="M42.7 479.9C45.8 479.7 56.4 480.1 61.3 478.8C66.2 477.5 68.3 476.7 72.3 472.3C76.3 467.9 81.8 459.2 85.4 452.6C89.1 446.0 91.9 437.3 94.2 432.8C96.5 428.3 97.4 427.2 99.0 425.5C100.6 423.8 102.2 422.8 104.0 422.6C105.8 422.4 107.1 421.7 109.5 424.1C111.9 426.5 115.8 432.7 118.2 437.2C120.6 441.7 122.2 447.0 124.0 451.0C125.8 455.0 126.5 457.7 129.2 461.3C131.9 464.9 136.8 469.8 140.1 472.4C143.4 475.0 145.2 475.7 148.8 476.8C152.4 477.9 156.1 478.5 161.9 479.0C167.7 479.5 171.0 479.9 183.8 480.0C196.6 480.1 228.3 479.4 238.5 479.4C248.7 479.4 243.9 479.9 245.0 480.0" stroke="#cdcdcd" stroke-width="1.5" fill="none" stroke-linejoin="round"/>
<path d="M42.7 479.9C46.5 479.5 59.0 479.3 65.7 477.7C72.5 476.1 78.5 473.8 83.2 470.0C88.0 466.2 90.9 460.0 94.2 454.7C97.5 449.4 100.4 441.8 102.9 438.3C105.5 434.8 107.0 434.1 109.5 433.9C112.0 433.7 114.5 434.4 118.2 437.2C121.9 439.9 127.8 446.5 131.4 450.4C135.0 454.3 137.1 457.9 140.0 460.8C142.9 463.7 145.5 465.6 148.8 468.0C152.1 470.4 156.0 473.8 159.7 475.0C163.3 476.2 166.7 474.6 170.7 475.3C174.7 476.0 180.2 478.2 183.8 479.0C187.4 479.8 191.1 479.8 192.5 480.0" stroke="#2e3b94" stroke-width="1.5" fill="none" stroke-linejoin="round"/>
<path d="M42.7 479.9C47.2 479.6 63.2 479.7 70.0 478.4C76.8 477.1 79.2 475.1 83.2 472.3C87.2 469.5 90.6 464.8 94.2 461.3C97.8 457.8 100.9 454.3 105.1 451.5C109.3 448.7 114.9 444.9 119.3 444.5C123.7 444.1 128.0 447.5 131.4 449.3C134.8 451.1 136.7 453.5 140.0 455.5C143.3 457.5 147.0 459.4 151.0 461.5C155.0 463.6 159.6 466.1 164.0 468.0C168.4 469.9 172.8 471.6 177.2 473.0C181.6 474.4 184.9 475.8 190.4 476.3C195.9 476.9 204.5 476.2 210.0 476.3C215.5 476.4 219.2 477.1 223.2 477.2C227.2 477.3 230.5 476.5 234.2 476.8C237.8 477.1 239.6 478.5 245.1 479.0C250.6 479.5 263.4 479.5 267.0 479.6" stroke="#9d2226" stroke-width="1.5" fill="none" stroke-linejoin="round"/>
<text x="32.4" y="507.1" font-size="9.5" textLength="41" lengthAdjust="spacingAndGlyphs">JAK–STAT</text>
<line x1="32.4" y1="511.2" x2="32.4" y2="573.2" stroke="#8c8c8c" stroke-width="0.8"/>
<line x1="32.4" y1="572.9" x2="277.5" y2="572.9" stroke="#8c8c8c" stroke-width="0.8"/>
<line x1="29.6" y1="523.9" x2="32.4" y2="523.9" stroke="#8c8c8c" stroke-width="0.7"/>
<text x="26.7" y="526.7" font-size="7.9" text-anchor="end">0.6</text>
<line x1="29.6" y1="539.3" x2="32.4" y2="539.3" stroke="#8c8c8c" stroke-width="0.7"/>
<text x="26.7" y="542.1" font-size="7.9" text-anchor="end">0.4</text>
<line x1="29.6" y1="555" x2="32.4" y2="555" stroke="#8c8c8c" stroke-width="0.7"/>
<text x="26.7" y="557.8" font-size="7.9" text-anchor="end">0.2</text>
<line x1="29.6" y1="570.4" x2="32.4" y2="570.4" stroke="#8c8c8c" stroke-width="0.7"/>
<text x="26.7" y="573.2" font-size="7.9" text-anchor="end">0</text>
<line x1="73.2" y1="572.9" x2="73.2" y2="575.5" stroke="#8c8c8c" stroke-width="0.7"/>
<text x="73.2" y="584.4" font-size="7.9" text-anchor="middle">0</text>
<line x1="134.7" y1="572.9" x2="134.7" y2="575.5" stroke="#8c8c8c" stroke-width="0.7"/>
<text x="134.7" y="584.4" font-size="7.9" text-anchor="middle">4</text>
<line x1="196.5" y1="572.9" x2="196.5" y2="575.5" stroke="#8c8c8c" stroke-width="0.7"/>
<text x="196.5" y="584.4" font-size="7.9" text-anchor="middle">8</text>
<line x1="258.1" y1="572.9" x2="258.1" y2="575.5" stroke="#8c8c8c" stroke-width="0.7"/>
<text x="258.1" y="584.4" font-size="7.9" text-anchor="middle">12</text>
<text x="7.9" y="541.2" font-size="9.5" text-anchor="middle" textLength="31.8" lengthAdjust="spacingAndGlyphs" transform="rotate(-90 7.9 541.2)">Density</text>
<path d="M42.7 569.9C44.4 569.0 49.9 567.9 52.6 564.4C55.3 560.9 57.1 554.6 59.1 549.1C61.1 543.6 63.1 536.3 64.6 531.6C66.1 526.9 67.0 522.4 67.9 520.7C68.8 519.1 68.6 519.5 70.1 521.7C71.5 523.9 74.4 528.9 76.6 533.8C78.8 538.7 81.4 547.6 83.2 551.3C85.0 554.9 85.8 553.9 87.6 555.7C89.4 557.5 91.7 560.3 94.2 562.3C96.8 564.3 99.6 566.6 102.9 567.7C106.2 568.8 109.4 568.4 113.9 568.8C118.4 569.1 122.3 569.6 130.0 569.8C137.7 570.0 155.0 570.1 160.0 570.2" stroke="#c8c8cc" stroke-width="1.9" fill="none" stroke-linejoin="round"/>
<path d="M42.7 569.9C44.4 569.0 49.9 568.0 52.6 564.6C55.3 561.2 57.1 554.9 59.1 549.5C61.1 544.1 63.1 536.8 64.6 532.0C66.1 527.2 67.0 522.7 68.0 521.0C69.0 519.3 68.9 519.8 70.3 522.0C71.7 524.2 74.4 529.5 76.6 534.3C78.8 539.1 81.4 547.4 83.2 550.8C85.0 554.2 85.8 552.8 87.6 554.7C89.4 556.6 91.7 559.9 94.2 562.0C96.8 564.1 99.6 566.2 102.9 567.3C106.2 568.4 111.1 568.3 113.9 568.5C116.8 568.7 116.5 568.1 120.0 568.3C123.5 568.5 123.3 569.5 135.0 569.8C146.7 570.1 179.8 570.1 190.0 570.0C200.2 569.9 195.0 569.2 196.0 569.0" stroke="#44549f" stroke-width="1.2" fill="none" stroke-linejoin="round" stroke-dasharray="2.5 2.5" stroke-opacity="0.85"/>
<path d="M42.7 569.9C43.6 569.4 46.2 570.1 48.2 566.6C50.2 563.1 52.9 555.3 54.7 549.1C56.5 542.9 57.8 535.3 59.1 529.4C60.4 523.5 60.9 516.0 62.4 513.6C63.9 511.2 66.6 514.0 67.9 515.2C69.2 516.4 69.0 516.5 70.1 520.7C71.2 524.9 72.6 533.9 74.4 540.4C76.2 546.9 78.8 555.6 81.0 560.0C83.2 564.4 84.7 565.1 87.6 566.6C90.5 568.1 94.1 568.3 98.5 568.8C102.9 569.2 109.5 569.2 113.9 569.3C118.3 569.4 119.0 569.4 125.0 569.6C131.0 569.8 126.2 570.2 150.0 570.3C173.8 570.4 248.2 570.3 267.8 570.3" stroke="#9d2226" stroke-width="1.5" fill="none" stroke-linejoin="round"/>
<text x="108.9" y="597.3" font-size="10" textLength="93" lengthAdjust="spacingAndGlyphs">Transcriptional score</text>
<text x="0" y="621.5" font-size="14" font-weight="bold" style="fill:#000">f</text>
<text x="65.8" y="623" font-size="9.4" textLength="199.7" lengthAdjust="spacingAndGlyphs">PIK3CA E542K/E545/E547K versus NT gRNAs</text>
<line x1="42.7" y1="632.2" x2="42.7" y2="794.3" stroke="#8c8c8c" stroke-width="0.8"/>
<line x1="42.7" y1="794.3" x2="307.1" y2="794.3" stroke="#8c8c8c" stroke-width="0.8"/>
<line x1="40" y1="639" x2="42.7" y2="639" stroke="#8c8c8c" stroke-width="0.7"/>
<text x="36.3" y="641.8" font-size="7.9" text-anchor="end">15</text>
<line x1="40" y1="660.3" x2="42.7" y2="660.3" stroke="#8c8c8c" stroke-width="0.7"/>
<text x="36.3" y="663.1" font-size="7.9" text-anchor="end">10</text>
<line x1="40" y1="696.8" x2="42.7" y2="696.8" stroke="#8c8c8c" stroke-width="0.7"/>
<text x="36.3" y="699.6" font-size="7.9" text-anchor="end">5</text>
<line x1="40" y1="786.3" x2="42.7" y2="786.3" stroke="#8c8c8c" stroke-width="0.7"/>
<text x="36.3" y="789.1" font-size="7.9" text-anchor="end">0</text>
<line x1="101.5" y1="794.3" x2="101.5" y2="796.9" stroke="#8c8c8c" stroke-width="0.7"/>
<text x="101.5" y="806.7" font-size="7.9" text-anchor="middle">−0.5</text>
<line x1="165.3" y1="794.3" x2="165.3" y2="796.9" stroke="#8c8c8c" stroke-width="0.7"/>
<text x="165.3" y="806.7" font-size="7.9" text-anchor="middle">0</text>
<line x1="229" y1="794.3" x2="229" y2="796.9" stroke="#8c8c8c" stroke-width="0.7"/>
<text x="229" y="806.7" font-size="7.9" text-anchor="middle">0.5</text>
<line x1="293.2" y1="794.3" x2="293.2" y2="796.9" stroke="#8c8c8c" stroke-width="0.7"/>
<text x="293.2" y="806.7" font-size="7.9" text-anchor="middle">1.0</text>
<text x="137.5" y="821" font-size="9.8" textLength="75.9" lengthAdjust="spacingAndGlyphs">log<tspan font-size="6.5" dy="2">2</tspan><tspan dy="-2"> fold-change</tspan></text>
<text x="21.5" y="715.3" font-size="9.8" text-anchor="middle" transform="rotate(-90 21.5 715.3)" textLength="57" lengthAdjust="spacingAndGlyphs">−log<tspan font-size="6.5" dy="2">10</tspan><tspan dy="-2"> FDR</tspan></text>
<path d="M175.8 773.7h0M186.5 788.1h0M170.7 775.9h0M179.9 784h0M195.4 773.5h0M138.4 764.5h0M138.2 765.2h0M175.5 777.3h0M195 773.2h0M165.1 770.9h0M200.4 766.7h0M130.3 768.6h0M176.6 781.2h0M178 778.4h0M190.3 786.1h0M171.7 775.5h0M167.6 773.5h0M180.1 766.6h0M167.4 783.6h0M193.8 766.2h0M197.5 771.7h0M166.3 774.4h0M160.3 784.8h0M145 775.2h0M188.5 763.3h0M167 775.2h0M182.4 766.2h0M169.7 781.4h0M183.6 773.3h0M165.4 762.4h0M194.3 779.5h0M187.2 766.5h0M196.6 779.9h0M153.6 776h0M187.4 783.9h0M194.9 769.3h0M170.9 786.5h0M189 766.2h0M127.6 765h0M202.5 768.2h0M189.8 762.1h0M198.1 773.5h0M140.6 772.8h0M167.9 765.4h0M177.1 781h0M188.4 785h0M193.8 780.4h0M179 771.2h0M141.8 771.3h0M169.6 787.6h0M148.7 770.2h0M163.6 782.5h0M193.9 775.2h0M146.8 777.2h0M168.1 787.5h0M187.6 761.9h0M136.9 773.6h0M150.3 768.4h0M171.8 780.7h0M177.8 783.2h0M141.1 767.1h0M204.3 766.6h0M152.7 775.1h0M141 784.4h0M145.8 780.6h0M158.7 773.9h0M160 776.5h0M149.8 775.6h0M173 764.6h0M160.2 784.1h0M159.3 777.5h0M132.6 771.1h0M148.4 782.2h0M145.9 768.7h0M137 775.2h0M160.9 774.8h0M157.7 777.5h0M151.2 766.2h0M169.6 769.8h0M140.3 784.7h0M204.7 765.2h0M191.3 786h0M142 783.5h0M185.2 774.4h0M176.9 771.2h0M156.4 779.5h0M197.7 769.5h0M140 774.6h0M182.1 767.4h0M133.5 762.9h0M150.3 779.4h0M180.3 786.5h0M142.3 765.4h0M181.4 777.8h0M150.5 762.2h0M171.6 775.5h0M166.2 769.6h0M172.4 776.8h0M179.4 764.9h0M166.3 783.2h0M137.4 780h0M206.3 763.2h0M145.1 781.7h0M170.9 775.8h0M193.6 769.7h0M171.8 786h0M165.4 764.4h0M170.3 780.2h0M178.1 778.3h0M191.7 782.2h0M183.4 779.9h0M183 787.6h0M187.5 778.4h0M167.5 787h0M150.2 762.2h0M192.8 763.2h0M168.1 777.9h0M174.5 787.8h0M148 769.2h0M171.9 766.2h0M185.3 780.2h0M158.8 768.8h0M153.1 775h0M141.7 782.3h0M204.5 766.1h0M158 776.6h0M180.8 774.5h0M144.3 784.5h0M140.5 762.3h0M152.2 779.9h0M162.8 776.3h0M170.2 763h0M166.3 775.7h0M165.7 783.3h0M145.4 776.4h0M156 767.9h0M137.7 773.2h0M137.9 767.2h0M190.9 781.8h0M155.7 784.2h0M190.1 778.4h0M196.5 767.5h0M180.2 782.2h0M168.9 783.1h0M183 768.1h0M180.7 781.3h0M178.9 768.5h0M187.2 781.6h0M166.5 769.9h0M170 785.1h0M150.7 766.7h0M186.1 787.6h0M192.7 777.8h0M181.6 776.1h0M198.3 768.6h0M190.6 780.1h0M184.3 784.1h0M171.2 770.2h0M161.4 771.9h0M146.6 770.2h0M197.6 762.6h0M147.6 775.1h0M161.9 782.7h0M167.3 769.8h0M175.3 780.4h0M177.9 764.1h0M141.8 771.1h0M136.3 766.9h0M202.5 766.3h0M145.9 785.7h0M196.2 776.1h0M180.6 786.5h0M193.3 767.9h0M182 771.6h0M177.4 782.8h0M148.4 767.9h0M138.7 765.4h0M139.1 764.3h0M189.1 775.3h0M148.6 768.7h0M146 776h0M189.5 772.1h0M172.6 762.6h0M172.7 769.9h0M191.7 776.8h0M191.1 767.6h0M147.2 767.8h0M156 775.8h0M164.2 787.3h0M179.5 778.2h0M150 781.3h0M197.5 768.7h0M154.4 771.9h0M156.6 786.4h0M168.3 788h0M145 770.3h0M172.1 785.3h0M195.1 783.7h0M168.3 781.1h0M140.3 772.7h0M183.5 761.7h0M187.7 777.6h0M198.6 780.4h0M130.8 766.4h0M188.9 786.2h0M187.6 787.2h0M180.8 781.1h0M176.7 787.3h0M133.1 772.7h0M155 787.7h0M203.4 769.6h0M140.8 776.6h0M147.1 787.5h0M183.7 782.3h0M154.7 775.8h0M173.9 781.1h0M168.3 772.5h0M141.8 767.7h0M188.5 779.1h0M177.6 785.1h0M156.4 771.6h0M147.5 787h0M186.8 774.1h0M179.6 764.3h0M150.5 775.6h0M190.4 786h0M196.4 779.5h0M177.5 764.6h0M180.5 784h0M143.1 785.4h0M197.7 769.2h0M140.8 780.8h0M159.8 769h0M200.4 765.4h0M177.9 787.2h0M174.4 782h0M158.7 765h0M200 778.7h0M181.1 774.8h0M146.1 774.2h0M185.4 774.1h0M149.3 771.2h0M155 780h0M174.8 761.7h0M155.9 761.5h0M185.2 768.5h0M196.2 778.9h0M180.9 782.6h0M175 781.2h0M190.6 763.4h0M182.2 784h0M147.7 771.6h0M146 774.8h0M166.6 777h0M143.3 771.7h0M196.6 767.9h0M148.3 764.8h0M165.3 788.2h0M175.3 768.8h0M174.2 780.4h0M180.1 775h0M150.1 785h0M176.4 765.5h0M138.5 766.6h0M158.5 772.9h0M165.8 763.6h0M189.5 761.8h0M178.8 778.1h0M145.4 768.4h0M149.1 764.4h0M189.5 764.8h0M141.3 780.1h0M173.3 780.2h0M134.4 770.5h0M156.1 770.1h0M134.3 767.9h0M177.1 768.5h0M184.2 770.3h0M127 762.6h0M194.6 776.3h0M190 776.3h0M139.5 767.7h0M156.9 776.6h0M193.8 783.8h0M158.9 783.5h0M151.7 777.1h0M182.7 780.2h0M186 780.3h0M147.3 784.3h0M187.3 783.8h0M149.4 772h0M154.4 783.9h0M169.5 778.5h0M197.6 771.4h0M169.3 774.5h0M152.1 775.1h0M174.8 763.7h0M173.8 770.9h0M142.9 779.4h0M195.7 779.8h0M195 766.2h0M168.3 773.3h0M196.8 770h0M198.3 780.5h0M180.9 783.2h0M168.2 771.4h0M183.6 766.1h0M186.1 764.4h0M150.7 770.5h0M182.8 786.9h0M166.3 773.4h0M168.6 764.4h0M196.5 778.8h0M186.1 783.7h0M137 769.3h0M183.5 766.2h0M171.8 775.2h0M151.2 763.6h0M173.7 764.4h0M187.9 784.6h0M137.9 778.9h0M175.2 777.5h0M151.2 768.1h0M135.2 767.1h0M157.1 773.1h0M184.1 769.8h0M158.6 766h0M146.3 768.1h0M199 776h0M152.7 762.5h0M187.9 781.5h0M191.8 764.6h0M200.2 766h0M178.1 787.9h0M184.5 771.9h0M179.6 775.4h0M179.7 776.9h0M158.5 781.6h0M182.4 768.3h0M183 776.7h0M140.8 776.5h0M171 775.3h0M193.7 780.2h0M200 766h0M197.4 784.5h0M198.4 769h0M203.1 763.1h0M193.7 787.8h0M176.7 775h0M170.7 771.9h0M152.3 781h0M159.6 777.6h0M187.9 776.1h0M189.6 766.8h0M194.5 774.1h0M177 778.7h0M185.8 765.6h0M162.1 775.7h0M142.9 782.3h0M147.5 774.1h0M172.5 765.9h0M192.1 761.5h0M139.4 782.2h0M180.2 780.6h0M199.4 780.2h0M191.6 767h0M157.2 782.7h0M146.8 783.3h0M183.6 765.3h0M198.4 780.9h0M164.1 782.8h0M165.5 785.5h0M129.9 763.6h0M182.9 774.8h0M168.3 770h0M181.6 787.9h0M164.5 782.3h0M159.7 774h0M168.9 783.8h0M154.5 762.7h0M189.9 785h0M203.3 771h0M140.9 763.5h0M147.1 776.3h0M152.5 773h0M183.5 774h0M156.2 765.9h0M195.3 762.2h0M169.2 775.1h0M201.5 771.6h0M180.5 775.2h0M192.3 775.5h0M134.2 762.8h0M156.8 779h0M177.5 763.8h0M177.4 780.2h0M183.6 777.3h0M154.2 763.3h0M136.2 765.1h0M165.8 778.7h0M170.7 779.5h0M155.3 766.5h0M174.7 783.6h0M157.1 765.7h0M201.5 764.4h0M180.3 772h0M162.2 785.4h0M144.1 783.3h0M133.1 770.1h0M134.2 769.2h0M184.7 775.4h0M197.9 763.5h0M170.2 784.4h0M182.1 776.1h0M157.9 781.4h0M146.1 772.3h0M150.8 783.8h0M154.1 776.2h0M186.2 770.1h0M182.8 778.9h0M179.4 764.9h0M128.9 762.3h0M169.5 764.4h0M182.3 767.5h0M192.1 770.1h0M156.6 771h0M186.3 777.5h0M198.4 769.9h0M200.7 767.4h0M195.7 783.6h0M184.4 767.7h0M133.6 770.3h0M163.6 787.4h0M146.4 779.7h0M135.8 765.2h0M143.8 769.5h0M195.7 765.3h0M190.8 787.7h0M194.3 769.2h0M140.5 783.9h0M132.8 771.4h0M177.1 783.4h0M175.1 774.7h0M152.4 780.3h0M186.1 783.2h0M162.9 781.9h0M158.8 765.6h0M176.2 762.9h0M155.5 786.8h0M192.9 769.3h0M164.2 779.6h0M184.8 785.9h0M163.7 780.8h0M151.3 780.7h0M165.9 774.5h0M169.2 787.9h0M195.8 771.6h0M131.4 767h0M193.3 780.6h0M170 781.2h0M143.5 774.2h0M164.8 770.4h0M165.4 764.8h0M173.4 778.8h0M171.1 782.5h0M196.1 778.6h0M154.6 786.2h0M132 765.3h0M157.9 766.5h0M180.1 787.3h0M182.5 776.1h0M168.9 771.8h0M167.7 780.5h0M153.7 767.1h0M142.5 762.2h0M172.9 779.7h0M141.7 776.9h0M165.1 765.2h0M201.9 769.3h0M175 773.1h0M169.9 770.1h0M169.5 765.6h0M147.6 766h0M169 778h0M173.5 769.8h0M178.9 773h0M202.7 771h0M137.8 773.1h0M151.9 783.6h0M187 786.9h0M165.8 781.9h0M179.8 763.8h0M203.8 771.6h0M131.7 767.1h0M194.2 771.3h0M186.5 780.3h0M150.3 763.8h0M141.8 768.5h0M146.4 774.7h0M183.1 775.2h0M148.3 785.6h0M161.4 781.7h0M126.9 762.3h0M167.3 762.8h0M198.5 770.9h0M203.1 764.3h0M156.5 784.4h0M195.6 784.8h0M185.6 766.3h0M167.8 765.4h0M178.4 784.9h0M167.3 781.3h0M149.9 774.4h0M186.1 770.4h0M182.5 763.5h0M171 763.9h0M189.1 776.6h0M159.6 782h0M137.5 767.7h0M198.6 766.2h0M176.8 767.1h0M192.2 782.3h0M186 776.5h0M130.7 767.3h0M132 762.2h0M184 763.1h0M160.8 778.8h0M174.6 768.6h0M134.4 768.6h0M147.1 778.6h0M155.8 769.3h0M160.3 779.6h0M133.9 762.4h0M184.7 776.9h0M189.7 767.4h0M189.1 765.4h0M169.2 774.1h0M185.5 772.3h0M200.7 762.4h0M151.5 784.3h0M168.4 764.6h0M198.3 765.3h0M171 775.4h0M169.8 768.2h0M145.8 774.4h0M172.3 785.5h0M182.1 762.9h0M190.1 779.2h0M159.1 787h0M187.8 775.4h0M147 765.1h0M187.8 780.8h0M197.6 761.8h0M180 773.7h0M202.4 767.3h0M200 777.3h0M187.3 771.8h0M197.9 773.6h0M143.1 779h0M178.3 773.1h0M146.8 778h0M142.5 782.1h0M138.6 781.3h0M165.5 777.9h0M197.9 772.3h0M174.4 777.8h0M179.6 777.2h0M135.4 771.5h0M143.5 767.8h0M133.1 771h0M179.7 778.4h0M195.2 777.9h0M158.6 778.3h0M160.2 786.4h0M189.7 774.5h0M156.8 765.9h0M184 785h0M158.3 782.9h0M203.8 767.5h0M187.9 766.7h0M136.1 769h0M150.9 788h0M165.6 763.9h0M146.1 782h0M176.3 767.2h0M153.5 780.1h0M189.1 765.9h0M195 769.1h0M194.4 769.2h0M169.5 773.8h0M169.2 780.1h0M197.5 773.5h0M189.5 770.9h0M157 766.2h0M152.6 779.3h0M146 770.5h0M135.8 772.4h0M157.9 768.4h0M187.1 777.2h0M200.2 764.2h0M155.2 773.4h0M155.1 786.5h0M174.5 764.4h0M150.6 770.9h0M167.1 775.3h0M195.7 769.5h0M191.3 780h0M176.6 780h0M197.3 782.9h0M176.7 763.2h0M134.7 763.5h0M129.2 766.3h0M158.8 773h0M170.3 775.7h0M182.5 771.4h0M190.1 784.4h0M139.6 780.3h0M162.6 784.2h0M177.4 771.8h0M206.3 765.7h0M185.2 779.4h0M194.7 778h0M169.1 762.6h0M204.6 763.7h0M135.2 773.3h0M199.1 780h0M191.8 776.1h0M199.2 771.7h0M174 768.1h0M147.2 781.4h0M139.1 773.3h0M179.8 778h0M167.5 766.9h0M190.3 784.9h0M205.2 762.9h0M145.4 771.1h0M182.4 777.5h0M197.4 776.9h0M178.3 781.6h0M189.7 787h0M143.1 783.3h0M193.4 781.9h0M130.1 765.4h0M196.8 783.8h0M185.2 777.3h0M188.3 773.6h0M158.8 768h0M175.6 774.4h0M149.1 765.3h0M153.1 761.6h0M177.2 782h0M187.1 778h0M181.7 784.7h0M171.1 779.4h0M149.5 763.5h0M165.5 783.5h0M206.5 761.5h0M185.6 772.1h0M165.3 764.7h0M146.1 780.7h0M191.6 762.9h0M183.5 776.1h0M197.3 764.8h0M180.2 773.4h0M142.6 772.2h0M149.3 767.3h0M146.5 783.5h0M201 769.9h0M159.4 772.7h0M155.9 765.5h0M145.2 785.1h0M142.4 784.9h0M191.1 785.4h0M173 769.2h0M157.1 774.6h0M155.5 781.6h0M200.5 776.6h0M147.2 786.4h0M145.3 775.6h0M176.8 761.7h0M186.7 787.9h0M152.4 769.6h0M175.3 767.7h0M180.8 767.9h0M151.3 773.3h0M177 779.3h0M184 767.3h0M159.4 785.2h0M178.3 774.8h0M193.8 780.4h0M170.7 779.5h0M136.7 774.9h0M151.7 774.9h0M139.8 763.8h0M177.6 767h0M175.8 765.9h0M187.8 781.6h0M171.8 762.3h0M184.9 771.1h0M169.2 781.8h0M153.2 763.9h0M172 766.2h0M178.6 777.5h0M191.1 773.5h0M184.1 763.1h0M164.5 783.6h0M143.4 778.1h0M177.5 763.5h0M199.4 775h0M161.2 776.9h0M177.3 767.7h0M193.7 771.5h0M185.7 770.8h0M183.8 763.1h0M201 766.4h0M141.1 777.9h0M154.5 775.9h0M157.5 773.7h0M135.6 769.9h0M170.9 772.2h0M182.1 767.4h0M168.5 768.4h0M190.7 769.2h0M192.4 772.4h0M166.3 785.6h0M130.2 764.8h0M136 774.9h0M175.6 784.1h0M168.5 765.2h0M156.9 777.2h0M167.1 763.1h0M170.3 770.2h0M169.8 771.5h0M190.3 773.3h0M132.8 771.7h0M177.9 766.5h0M178.7 769h0M201.8 774.6h0M204.5 766h0M151.6 773.5h0M144.8 771.3h0M150.8 782.4h0M150.5 783.7h0M194 770.6h0M144.6 777h0M203.1 763.8h0M197.5 774.9h0M144.8 783.6h0M138.8 779.2h0M166.9 767.1h0M143.6 765.5h0M129.9 765.9h0M142.7 778.1h0M143.1 761.5h0M190.7 761.7h0M136.1 777.4h0M169.5 786.1h0M205.9 762.1h0M165.4 762.3h0M175.5 787.3h0M155.8 769.4h0M167.3 779.1h0M196.3 763.2h0M141.3 771.9h0M143.5 781.5h0M156.5 769.6h0M152.9 769.8h0M172.6 767.4h0M192.3 783.1h0M126.8 761.8h0M196.3 775.8h0M141.3 766.3h0M180.2 778.3h0M153.4 765.9h0M141.9 779.4h0M135.4 772.7h0M188.4 781.1h0M183.7 761.8h0M154.6 772.3h0M178 763.8h0M174.9 787.6h0M165.2 781.1h0M158.4 770.8h0M183.9 782h0M171.4 783.3h0M187.5 781.9h0M136.2 764.9h0M168.6 767.6h0M191.2 767.3h0M204.6 764.8h0M151.7 775.8h0M169.6 771.5h0M189.6 780.5h0M189.3 770.6h0M197.7 763.5h0M153.9 778h0M166.1 764h0M189.3 783.1h0M176.9 766.6h0M193.1 780.1h0M195.3 775.4h0M167.3 773.9h0M181.4 770.2h0M140.5 774h0M135.7 766.7h0M192.3 762.1h0M194.4 779.7h0M199.7 779.8h0M173.5 766.4h0M194.2 767h0M190.8 781.9h0M153.7 772.2h0M148.3 765.8h0M173.5 771.4h0M193.9 769.9h0M135.3 762.6h0M166.8 787.6h0M199 779h0M189.5 762.2h0M190.1 777.4h0M182.7 763.3h0M167.8 762.3h0M178.4 762.5h0M130.9 761.8h0M190.7 774.3h0M192.8 781.2h0M194.1 769h0M175.1 785.8h0M170.5 767.4h0M128.8 766.1h0M204.2 761.6h0M180 786.5h0M166.6 784.6h0M177.3 772.3h0M157.7 763h0M143.8 763.3h0M182.9 778.7h0M152.7 777.5h0M180.7 781.4h0M195 773.1h0M175.5 781.6h0M172.5 775.5h0M142.9 766.4h0M135 770.7h0M186.4 763.2h0M162.9 777.6h0M134.1 764.4h0M198.2 771.9h0M146.1 775.4h0M175.6 775.8h0M128.6 764.2h0M151.8 781.7h0M184 764.1h0M177.6 783h0M140.5 775.1h0M173.4 777.4h0M144.1 779.9h0M172.7 787.3h0M144.1 767.2h0M137.5 779.3h0M160.6 776h0M182.4 765.8h0M178.9 764.4h0M183.4 784.5h0M140.3 777.2h0M138 780.9h0M154.4 780.3h0M193.3 769.2h0M182.3 771.7h0M179.2 775.2h0M143.7 765.6h0M147.8 779.5h0M198 771.9h0M190 767.7h0M181 777.6h0M170 783.2h0M134.3 772h0M185.4 779.8h0M135.6 771.5h0M178.1 784.2h0M133.7 772.5h0M139.2 772.1h0M174.3 783.6h0M192 783.7h0M201.5 768.1h0M190.1 763.2h0M174.6 785.9h0M147.5 770.8h0M175.5 770.7h0M180.7 764.4h0M134 763.2h0M142.6 776h0M146 770.9h0M151.3 766h0M173.5 782.8h0M140.9 771.5h0M151.2 773.4h0M184.7 762.9h0M199.1 763.4h0M181.1 776.2h0M146.2 784h0M203.3 770.7h0M183.7 772.5h0M144.4 762.5h0M180.6 773.7h0M195.7 766.5h0M196 774.9h0M156.6 772h0M190.9 776h0M159.5 768h0M164.5 777.2h0M158.8 772.1h0M168.9 774.4h0M184.5 769.1h0M156.1 768.4h0M156.5 764.3h0M200.2 768.2h0M137.6 778.4h0M201.4 773.8h0M155.2 781.9h0M192.3 761.6h0M155.8 783.1h0M192.6 768.4h0M196.8 770.2h0M171.9 775.1h0M146.5 775.2h0M145.1 769.4h0M186.2 769.8h0M167.3 776.6h0M166.3 780.8h0M133.8 768.4h0M140.3 769.7h0M198.2 782.9h0M146.4 769.8h0M147.7 784.9h0M191.2 770.6h0M153.6 770.3h0M141.2 773.2h0M192.3 785.5h0M153 775.7h0M130.1 765.3h0M187 784.2h0M148.9 783.4h0M185.3 784.3h0M142.6 776h0M151.7 762.2h0M159.9 781h0M200.9 769.5h0M176.6 774h0M200.3 767.9h0M178.1 778.8h0M192.6 782.3h0M191.5 764.7h0M171.8 767.6h0M194.8 769.6h0M175.9 780h0M188.9 776.8h0M136.8 769.3h0M199.2 777.9h0M177.7 763.5h0M193.6 785.8h0M185.4 763.2h0M140 775.6h0M152.7 782.1h0M168.8 787.6h0M149.6 780.3h0M197.6 773.2h0M194 768.8h0M135.7 773.5h0M187.7 783.1h0M191.8 785.7h0M162.4 782.4h0M186 764.6h0M157.5 765.6h0M194.6 787.7h0M143.8 777.7h0M153.8 778.7h0M150 784.7h0M152.1 785.6h0M147.8 786.2h0M202 767.5h0M195.2 761.7h0M176.1 780.5h0M165.6 780.3h0M161.5 771.3h0M177.1 776.7h0M174.6 788.1h0M189.1 781.9h0M190.7 788h0M195.5 787.8h0M137.1 776.7h0M156.7 762.7h0M160.5 785h0M161.5 774.3h0M183.6 761.7h0M154.1 782.2h0M200.1 762.4h0M182.5 784.8h0M149.6 774.2h0M176.4 787.6h0M177.9 773.7h0M183.8 762.6h0M141.1 768.6h0M154.6 768.5h0M189.5 780.6h0M198.4 766.9h0M136.8 776.1h0M172.5 770.3h0M184.2 780.9h0M132.5 763.2h0M163.9 786.8h0M173.1 774.8h0M172.3 764.5h0M168.3 761.6h0M182.9 769.2h0M169.8 773.1h0M185.3 777h0M142.8 765.8h0M174.7 776.6h0M177.1 782.8h0M195 774.2h0M144.9 769.7h0M203.5 763.2h0M199 774.9h0M162.9 775.1h0M159.8 777.8h0M156.5 768.2h0M142.2 770.4h0M190.6 774.2h0M191.8 765h0M166.3 779.7h0M146.6 771.3h0M202.2 765.1h0M153.9 786.9h0M142.1 775.5h0M184.9 783.2h0M147.4 763.9h0M167.9 764.4h0M148.1 775.5h0M139.3 782.3h0M200.8 766.4h0M188.6 783h0M153.1 768.5h0M177.2 762h0M143 763.4h0M203.4 769.3h0M184.9 770.6h0M137.7 778.2h0M167.3 762h0M155.9 781.9h0M164.7 777.3h0M139.5 783.3h0M185.5 769.9h0M154.1 783.9h0M146.1 788.1h0M137.8 769.1h0M178.2 777h0M192.8 764.6h0M183.9 784h0M149.8 766.6h0M141 766.5h0M187.1 774.7h0M188.3 761.8h0M174.4 764h0M167.8 763.8h0M194 784.3h0M193.3 773.9h0M178.1 770.6h0M152.5 782.1h0M147 782.6h0M142.3 773.1h0M149.1 766.6h0M173.7 763.7h0M200.5 766.8h0M186.1 763.2h0M152.4 787.9h0M186.6 778.9h0M188.7 766.1h0M194.1 774.6h0M159.5 787.8h0M167 774.8h0M171.6 776h0M166.1 783h0M177.3 767h0M168.4 788.1h0M153.5 763.2h0M170.2 785.9h0M199.3 773.6h0M143.8 784.1h0M147.3 778.8h0M144.6 785h0M149.6 770.5h0M180.5 784.4h0M156.2 775.5h0M169.8 784.4h0M164.5 783.7h0M157.5 785.1h0M155.4 787.3h0M195.1 769.3h0M141.5 782.8h0M136.1 776.8h0M141.8 775.4h0M184 762.6h0M155.2 768.3h0M193.5 780.5h0M148.4 778.6h0M132.5 763h0M182.8 774.6h0M155.6 768.1h0M174.2 786.1h0M147.7 764.3h0M177.7 763.6h0M144.6 763.1h0M142.2 786.1h0M151 770.7h0M185.6 781.2h0M137.1 775.1h0M138.4 781.8h0M185.5 770.1h0M192.7 763.5h0M156.3 787.7h0M151.9 772.3h0M192.2 779.6h0M189.7 781.3h0M166.3 778.8h0M148.9 768.1h0M192.6 764.1h0M139.5 767.5h0M155 762.3h0M139.6 777.9h0M150 763.8h0M141.3 784.3h0M165.8 777h0M140.7 773.2h0M177.3 781.3h0M153.8 761.8h0M156.1 777.6h0M131.3 769.7h0M144.5 773.4h0M201.6 763h0M150.3 761.8h0M205.5 765.2h0M149.9 783.8h0M187.4 777.4h0M191.9 762.8h0M179 773.1h0M206 763.8h0M187.7 774.3h0M179.5 765.6h0M179.7 770.1h0M190.7 787.4h0M160.3 776.7h0M141.5 782h0M173.8 765.6h0M150.2 762h0M128.8 764.9h0M186.2 769.2h0M190 769.2h0M149.7 768.6h0M136 768.1h0M182.7 786h0M176 786.2h0M146.2 778h0M176 768.8h0M146.7 769.4h0M202.4 766.4h0M180.8 764.2h0M167.7 764.9h0M182.5 775.9h0M170.5 768.7h0M168 780.4h0M182.6 778.9h0M148.4 771.9h0M170.6 763.8h0M155.7 770.8h0M190.6 780.3h0M145.5 776.7h0M174.7 773.3h0M203.4 769.2h0M178.7 786.6h0M136.7 775.6h0M159.9 773.5h0M141.7 786.8h0M198.4 763.7h0M192.7 774.5h0M168.8 762.5h0M167.1 775.6h0M175.4 779.4h0M186.7 776.8h0M202.1 766.5h0M195.2 765.8h0M202.5 769.8h0M154.2 775.3h0M179 776.1h0M152.7 771.2h0M195.2 763.8h0M157.8 772.9h0M134.1 767.7h0M180.4 776.2h0M157.3 773.2h0M179.4 782.7h0M150 764.5h0M196.2 764.6h0M150.4 778.6h0M138.5 780.5h0M143 769.1h0M164.9 774.9h0M163.3 784.4h0M149.8 771.3h0M138.6 766.5h0M177.6 769.7h0M156.8 763.1h0M143.3 777.8h0M160.3 785.4h0M153.5 785h0M167.1 771.8h0M135 774.8h0M159.9 782.8h0M141.9 762.9h0M201.4 765h0M170 766h0M164.4 777.9h0M176.4 783.8h0M164.9 785.5h0M190.4 770.5h0M196.8 769.6h0M171.7 766.5h0M172.8 775.6h0M142.1 784.6h0M128.3 764.1h0M159.5 768.1h0M159.5 786h0M204 767.4h0M143.9 770.6h0M151.3 764.1h0M183.1 764.1h0M194.8 770.5h0M144.4 769h0M157.5 768.9h0M165.9 765.4h0M149.4 777.3h0M176.5 779.2h0M178.2 772.8h0M170.2 770.2h0M199.9 773.7h0M185.2 779.9h0M158.6 780.7h0M156.7 765.4h0M162.8 780.7h0M141.2 768h0M181.1 769h0M153.7 784.4h0M188.9 775.9h0M144.7 771.3h0M149.3 776.7h0M143.1 785.3h0M157.6 774.8h0M184 762.6h0M202.3 773.8h0M173.3 772.9h0M169.3 767.6h0M142.7 768.9h0M201.1 770h0M190.4 785.1h0M180.6 774.5h0M192.8 786.4h0M180.7 780.3h0M194.4 762.5h0M155.9 781.9h0M164.9 775h0M148.5 783.1h0M188.9 763.2h0M149.8 772.6h0M162.9 782.4h0M191.3 783.2h0M138.5 766.8h0M152.7 782.4h0M134.4 766.9h0M154.5 787.2h0M149.9 767.2h0M140.2 779.2h0M128.6 765.1h0M161.4 780.9h0M199.9 763.2h0M194.2 763.2h0M201.2 776.8h0M157.4 764.3h0M144.7 779.3h0M191.6 788.1h0M139.2 763.1h0M165.8 776.3h0M192.6 772.8h0M137.4 779.2h0M183.2 766.6h0M166.7 764.7h0M171.5 784.2h0M193.8 771.7h0M150.6 787h0M184.3 775.8h0M181.3 762.7h0M188.2 776.5h0M189.9 766h0M167.2 766.5h0M191.4 766.7h0M139.4 766.9h0M156.9 785.6h0M154.1 762h0M127.5 765.2h0M186.4 781.8h0M148.9 771h0M175.8 762.7h0M154.3 762.1h0M134.6 770.9h0M137.6 773.8h0M182.1 764.6h0M172.9 762.2h0M145 764.1h0M180.6 776h0M199.6 776.3h0M182 786.7h0M197.1 784.4h0M177.4 777.3h0M196.2 780.1h0M143.9 776.2h0M198.9 771.4h0M143.2 772.3h0M175.2 777.5h0M144.7 775.1h0M176.8 784h0M163.4 785.2h0M163.6 778.7h0M166.1 781.2h0M138.9 775.4h0M175.2 764.5h0M167.4 781.7h0M187 763h0M205.7 764.9h0M152.8 769.6h0M148.8 783.1h0M156.5 770.9h0M198.4 778.9h0M181.9 777h0M158.3 787.1h0M139.5 771.4h0M202.1 761.6h0M183.9 773.8h0M191.3 786.6h0M134.3 766h0M197.3 777.6h0M129 764.8h0M130.5 768.6h0M185.7 765.2h0M187.8 773.1h0M179.8 780.6h0M191 784.8h0M199.9 779.4h0M170.8 764h0M192.1 766.8h0M158.3 775.5h0M154.1 784.6h0M198.3 764h0M155.6 782.9h0M136.3 769.2h0M154.1 777.2h0M194.7 764.8h0M139.9 762.9h0M147.6 773.1h0M147 772.7h0M183 782.1h0M167.9 766.1h0M168.2 782.9h0M199.3 764.4h0M156.8 762.8h0M204.9 762.1h0M193.7 778.3h0M206.1 763.4h0M175.8 767.6h0M179 770.1h0M127.9 762.4h0M136.2 766.7h0M177.7 767.9h0M162.7 774.4h0M158.7 780.2h0M161.2 780.2h0M192.4 763.3h0M170.5 783.6h0M166.5 768.4h0M176.1 777.9h0M158.7 765.9h0M189.2 764.1h0M148 784.2h0M173.6 771.2h0M143.3 767.4h0M197.8 770.3h0M160.1 786h0M194.3 769h0M144.3 764.5h0M138.4 764.4h0M197.5 777.6h0M168.7 775.9h0M154.8 762.6h0M148.7 764h0M166.1 780.3h0M199 779.8h0M174.8 776h0M176.7 787.1h0M198 764.5h0M160.4 781.8h0M153.7 788.2h0M195.3 762.1h0M198.6 774.3h0M150.3 784.3h0M159.5 784h0M174.1 775.5h0M192.6 785.7h0M175.9 763.9h0M203.1 768.6h0M170.9 775.5h0M189.2 779.1h0M195.5 777.7h0M172.1 777.4h0M190.4 786.6h0M188.5 781.9h0M143.7 774.3h0M146.9 768.3h0M157.2 779.2h0M172.1 779.2h0M145 769.1h0M173.8 769.2h0M195 761.6h0M169.7 771.1h0M159.5 785.9h0M140.1 771.3h0M144.6 776.6h0M179.7 779.4h0M197.2 772.6h0M166.5 785.5h0M185.2 771.4h0M149.3 782.5h0M145 770.5h0M171.4 777.7h0M202.7 768.1h0M173.6 762.1h0M166.7 773.6h0M171.6 769.1h0M168.7 784.8h0M174.1 775h0M145.8 771.2h0M145.4 768.8h0M191.9 778.9h0M191.8 778.2h0M147.5 778.6h0M150.8 772.9h0M158.8 780.7h0M183.7 787.7h0M177.7 768.2h0M167 768.5h0M151.5 779.5h0M153.9 784.9h0M197.6 765.9h0M180.2 762.6h0M179.7 769.4h0M187.8 783.6h0M136.8 765.7h0M181.4 780.9h0M204.4 767.1h0M204.8 769.2h0M191.7 762.9h0M185.5 767.7h0M192 775.3h0M191.9 772.9h0M131.7 767.2h0M201.6 761.8h0M182.2 768.9h0M176.3 766.6h0M165.1 773.1h0M133.1 772.3h0M161.9 775.1h0M151.9 782.2h0M136 767.1h0M175.6 786.7h0M127.7 763.7h0M202 774.8h0M139.7 779.8h0M155.4 786.1h0M148.5 777.2h0M158.9 775.3h0M160.2 780.6h0M153.7 762.5h0M151.8 783.2h0M186.9 769.4h0M160.4 772.3h0M141.7 778.6h0M202.7 770.9h0M160.5 787.1h0M139.2 768.4h0M150 762.4h0M141.9 782.9h0M159.9 768.7h0M180.2 766.9h0M135.6 764.2h0M196.9 763.8h0M197.9 762.2h0M137.8 774h0M187 764h0M131 762h0M191.4 781.8h0M187.4 769.3h0M140.1 765.5h0M151.3 765.7h0M130.5 769.4h0M189.5 775.6h0M158.8 772.1h0M187.5 775.3h0M199.2 770.2h0M172.2 762.6h0M144.3 765.4h0M154 785.8h0M153.4 780.1h0M176.2 771.9h0M171.1 776.8h0M139.8 762.7h0M156.1 787.1h0M177.4 777h0M143.1 783.5h0M142.3 762.6h0M188.9 762.6h0M144.3 776.6h0M141.1 780h0M178.6 772.3h0M157.9 771.9h0M181 780.8h0M193.8 771.6h0M138.4 773.9h0M147.6 777.9h0M148.2 769.5h0M181.6 764.9h0M193.9 778.2h0M184.6 775.9h0M158.7 766h0M190.5 772.5h0M189.6 778.1h0M141.4 783.7h0M194.5 766.3h0M180.9 765.8h0M142.4 770.5h0M194.3 768.4h0M164.8 780.5h0M135.9 770.5h0M148.2 766.5h0M177.4 778.3h0M150.8 763.4h0M179.6 770.7h0M157.1 783.7h0M173.8 783.1h0M158.4 785.4h0M154.5 784.7h0M157 768.3h0M196.6 769.8h0M131.6 767.1h0M181 785.6h0M170.4 777.5h0M151 767.5h0M140.5 783.4h0M166.9 769.9h0M154.5 785.4h0M187.3 769.3h0M168.5 766.7h0M193.3 767.2h0M148 775.4h0M187.7 781.6h0M157.2 766.2h0M201.9 767h0M187.5 784.1h0M155.9 785.6h0M155.6 767.2h0M176.2 764.5h0M175.5 781.7h0M180.1 764.7h0M167.2 783h0M145.9 777.8h0M176.7 783.5h0M182.2 778.9h0M184 775.9h0M187.7 768.1h0M140.7 784.3h0M156.7 775.4h0M150 768.7h0M137.1 776.1h0M192.3 768.5h0M198.5 779.8h0M141.9 779.8h0M159.3 769.4h0M142.8 764.5h0M199.5 773.5h0M183.8 766.5h0M151.2 771.5h0M144.7 775.8h0M157.3 788.2h0M168.5 763.3h0M188.7 773.8h0M150.7 774.1h0M153.4 784.9h0M189.5 783.3h0M201.2 772.4h0M191.3 779.1h0M185.7 782.2h0M187.6 778.1h0M154 775.6h0M172.8 779.8h0M159.5 781.2h0M193.1 773.6h0M176.2 772.6h0M167.4 762.5h0M188.1 778.4h0M140.1 784.9h0M194.4 770.7h0M189.4 764.1h0M155 779.8h0M144.7 778.8h0M151 773.8h0M142.4 771h0M187.3 783.9h0M162.1 785h0M183.3 766.4h0M173.1 784.1h0M144.8 767.8h0M202.3 774.8h0M181.7 774h0M193.1 784.4h0M156.1 764.6h0M171.9 768.7h0M183.3 767.7h0M192.8 781.8h0M168.8 787.3h0M183.3 788.2h0M199.2 763.4h0M140 773.7h0M149.5 771.4h0M177.2 786.3h0M196.3 783.2h0M143.1 787h0M189.4 769.9h0M176.4 781.2h0M171.1 768.8h0M194.9 784.4h0M189.4 783.5h0M181.6 788.2h0M194.7 769.1h0M167.3 777h0M132.9 766.1h0M166.2 765.9h0M179.4 777.4h0M180.4 782.1h0M164.4 783h0M198.7 780.3h0M147.5 772.2h0M140 767.6h0M152.8 767.5h0M185.9 777.6h0M185.4 787.1h0M174.8 772.7h0M175.2 784.9h0M185.9 778.3h0M173.3 784.5h0M202.1 774.4h0M173.5 773.5h0M152.5 783.2h0M168.6 786.3h0M174.3 763.5h0M190.2 787h0M197.7 761.7h0M171.8 784h0M194.6 763.6h0M197.7 773.5h0M171 784.8h0M181.2 784.5h0M196.6 776h0M147.7 780.6h0M200.3 767.6h0M138.1 766.5h0M136.2 767.8h0M178.5 766.9h0M199 778h0M148.8 787.3h0M150 785.8h0M148 764.9h0M173.6 785.3h0M164.3 785.4h0M147.8 786h0M185.4 764.7h0M176.3 762.4h0M170.5 761.9h0M179.1 768.6h0M142.3 778.6h0M150.8 785.3h0M148.3 771.5h0M156.5 781.4h0M167.5 762.8h0M181.8 772.3h0M144.1 788h0M162.4 779.8h0M129.5 763.8h0M145.6 784.9h0M193.1 779.1h0M165.3 766.4h0M195.9 771.4h0M147.4 778.6h0M190.1 786.2h0M193.4 785.7h0M199.3 779.6h0M167.1 778.2h0M175.4 784.7h0M176 775.6h0M165.3 762.7h0M178.3 787.4h0M141.8 781.9h0M155.2 778.3h0M154.5 763.1h0M198.8 780.1h0M178.8 771.8h0M137.7 766.9h0M185.5 767.9h0M175.5 775.8h0M182.3 787.6h0M196.8 780.9h0M141.2 766.7h0M151.7 763.7h0M184 782.7h0M182.2 776.9h0M142.4 784.9h0M179.1 777.4h0M149.3 775.5h0M179.2 763.2h0M150.6 762.6h0M163.9 777.2h0M154.6 769.3h0M183.9 762.4h0M137.7 774.8h0M194.4 775.4h0M150.3 770.3h0M203.1 764.9h0M155.7 763.1h0M186.2 773.2h0M174.8 781.9h0M141.5 782.7h0M200.5 768.5h0M187.6 774.1h0M143 782.5h0M168.6 765.8h0M180.2 782.3h0M148.7 763.6h0M190.8 765.9h0M177.6 766.5h0M202.9 766.1h0M152.1 762.9h0M157.1 773h0M195.8 762.7h0M199.7 770.2h0M191.1 772.3h0M193.5 771.9h0M201.4 763.8h0M167.6 785.7h0M171.4 770.7h0M195.9 770.1h0M148.3 769.7h0M199.4 768.7h0M195 785.4h0M174.4 777.3h0M148.9 777h0M192.5 770.8h0M156.6 762.2h0M156.7 762.2h0M185 765.2h0M197.6 768.9h0M201 767.2h0M129.3 766.5h0M139.1 765.7h0M172.9 783.5h0M185.4 786.5h0M196.7 785.2h0M165.7 779.5h0M137.4 776h0M195.6 768.7h0M192.4 780.6h0M135.6 765.1h0M158 767.9h0M140.4 776.8h0M187.9 786.2h0M200.2 769.7h0M196.8 764.5h0M205 763.8h0M181.7 782.5h0M170.9 781.9h0M187.3 764.5h0M181.6 783.4h0M137.1 769.6h0M152.9 762.1h0M151.6 763.8h0M184.7 763.8h0M141.8 781.8h0M201.1 773.2h0M181.7 765.5h0M153.2 781.3h0M174.5 786.7h0M173.9 781.7h0M148.3 781.6h0M144.7 773.3h0M152.4 773h0M152.3 766.2h0M184.7 767.3h0M169 774.7h0M170.4 780.7h0M187.4 772.9h0M185.4 784.3h0M181.9 785.1h0M150.2 774.7h0M203.7 764.6h0M199.4 773.8h0M181.2 783.2h0M172.9 777h0M186.1 784.6h0M180.6 779.2h0M128.8 766.4h0M202.6 766.6h0M163.5 785h0M192.1 764.1h0M154.8 775.7h0M149.8 766.3h0M175.8 761.6h0M131.1 763.6h0M174.6 771.7h0M193.5 780.8h0M155.3 779.7h0M157 781.2h0M156 776.7h0M166.8 761.8h0M153.5 766.8h0M137.6 764.7h0M160.5 776h0M201.3 768.1h0M180.7 782.4h0M200.9 764.7h0M133.9 764.3h0M127.8 764.7h0M172.4 777.5h0M196.2 782.3h0M187.5 786.8h0M199.4 767.5h0M162.8 779h0M165.2 783.6h0M165 763.6h0M154.3 788.1h0M145.8 779.3h0M167.3 778.2h0M204.3 770.3h0M155.8 783.9h0M194.7 784.4h0M143.7 768.7h0M185.7 779.2h0M175.7 767.7h0M152.6 786.8h0M156.4 769.5h0M161.6 773.2h0M174 779.2h0M146.4 782h0M163.2 784.2h0M166.2 778.3h0M130.3 767.9h0M191.1 775.5h0M170 767h0M161.4 784.7h0M172.6 786.8h0M141.8 782h0M168.5 777.8h0M176.9 786.6h0M192.1 786h0M174.9 785.7h0M186.6 773.9h0M173.3 785.3h0M159.9 781.5h0M145.4 771.4h0M173.4 762.8h0M184.4 788.1h0M150.6 781.6h0M151.1 763.4h0M143.5 763.5h0M160.8 779.1h0M191.2 772.3h0M179.9 774.2h0M180.1 776h0M176.9 783.2h0M191.3 777.9h0M187 784h0M180.9 782.5h0M152.7 778.7h0M175 787.9h0M186.4 786.4h0M169 772.6h0M155.1 765.9h0M177.2 763.8h0M179.2 780.1h0M182.4 768.4h0M202 774.3h0M174.9 776.9h0M169.5 782.9h0M158.7 780h0M193.8 787.9h0M192.5 773.2h0M189.1 777.5h0M144.6 769h0M169.1 778.6h0M149.9 784.2h0M148.8 768.7h0M149.6 767.3h0M139.2 767.7h0M184.3 765.7h0M152.4 777.3h0M185.1 766.6h0M187.5 771.2h0M166.3 776.5h0M165.4 787.8h0M171.7 776.9h0M168 783.2h0M187.7 784.8h0M179.3 779.9h0M181.7 780h0M129.6 764.3h0M159 784.7h0M201 765.1h0M167.5 779.2h0M142.4 766.1h0M189.7 779.9h0M201.3 772.5h0M140.9 776.4h0M182.9 773.7h0M167.1 770h0M133.4 767.2h0M137.8 773.1h0M160.9 776.2h0M190.5 776.8h0M166.1 766.9h0M171.7 769.8h0M179.2 776.3h0M175.2 762.2h0M203.8 764.8h0M158.2 776.3h0M190.6 782.6h0M175.4 787.3h0M162 777.8h0M172.2 783.9h0M172.8 766.9h0M180.5 776h0M169.1 764.1h0M155.6 783.5h0M186.4 762.1h0M185 775.6h0M131.4 761.8h0M190.2 777.8h0M191.1 781.2h0M172.1 782.7h0M197.5 770.2h0M173.1 776.4h0M178.3 777.7h0M181.1 780.2h0M132.1 766.8h0M146.4 787.8h0M187.3 771.4h0M197.3 779.5h0M166.6 764.4h0M176.4 770h0M137.7 762.7h0M190 765.2h0M196.2 764.5h0M173.4 764.1h0M162.7 779h0M194.6 772.1h0M155 787.4h0M175.7 769.4h0M181.6 762.4h0M164.9 781.3h0M194.7 762.8h0M173.9 772.7h0M138.9 781.2h0M184.8 781.9h0M140.5 778.6h0M204 766.5h0M173.9 761.6h0M165.7 768.1h0M187.7 766.1h0M150.1 774.6h0M193.7 785.9h0M177.3 772.2h0M170.4 767.5h0M142.6 772.6h0M184.7 772.8h0M199.1 766.1h0M182.2 774.8h0M201.5 773.2h0M183.9 777h0M170.9 775.6h0M196.5 774.7h0M147.7 775.5h0M193.6 785.8h0M144.1 780.9h0M157.5 773.7h0M136.7 770.6h0M156.2 776.1h0M174.6 766.2h0M169 773.9h0M193.7 775.3h0M137.2 764h0M159.6 773.7h0M195.2 781.4h0M197.1 777.2h0M191.3 763.4h0M151.4 781.4h0M179.2 762.1h0M142.7 783.5h0M207.1 764.3h0M157.3 782.5h0M155.3 782.9h0M136.1 768h0M158.1 787.9h0M137.9 763.5h0M147.5 767.7h0M132.4 771.9h0M128.6 762.8h0M180.1 782.7h0M135.9 774.4h0M149.9 767.5h0M169.8 771.1h0M183.2 771.9h0M128.7 764.5h0M168.8 783.9h0M151.9 781.1h0M179.3 762h0M171.8 774h0M140.9 783.1h0M168.2 787.6h0M170 786.5h0M165.1 771.1h0M154.9 761.7h0M142.4 772.3h0M192.4 783.6h0M190.1 775.5h0M182.8 762.7h0M137 774.1h0M178.5 765.2h0M143.7 780.4h0M145.3 771.3h0M167.5 762.8h0M129 766.1h0M149 766.5h0M190.5 785.6h0M159.2 784.7h0M157.1 784.4h0M138.7 773.7h0M181.7 768.6h0M190.6 776.1h0M185.4 778.9h0M177.8 777.8h0M147.8 784.3h0M135.1 763.3h0M162.2 778.3h0M151.1 786.2h0M198.3 777.9h0M179.1 764.2h0M186.8 782.6h0M157.3 781.8h0M184.2 776.4h0M157.1 781.6h0M149.4 767.6h0M142.3 764.3h0M194.2 764.7h0M182.1 776.5h0M182.8 776.1h0M177.7 763.5h0M151.7 771.9h0M200.3 765.4h0M162.6 778.6h0M147.7 763.1h0M176.5 781.7h0M189.1 773.6h0M168.2 770.7h0M146.1 785.8h0M178.4 765.8h0M142.7 761.8h0M194.4 785.7h0M138.5 778.7h0M145.4 778.3h0M151.2 767.8h0M180.1 776.3h0M181.7 768.8h0M170.6 772.6h0M186.9 776.3h0M167.3 785.8h0M141.2 762.1h0M196.5 764.7h0M142.7 768.7h0M169.3 784.4h0M148.7 771.2h0M185.2 778.9h0M143.1 777h0M174.6 764.4h0M154.6 768.4h0M150.1 764.3h0M175.9 774.9h0M193.5 769.1h0M193.7 762.5h0M190.5 771.1h0M177.6 780.7h0M138.3 762.4h0M170.1 782h0M145.2 769.8h0M196.4 779.7h0M186.6 787.1h0M182.5 772h0M205.8 764.5h0M134.7 764.7h0M139.5 767.6h0M205.2 766.9h0M177.4 781.8h0M145.1 781h0M187.6 785.9h0M183.1 779.8h0M142.7 779.2h0M173.8 782.7h0M171.6 786.4h0M194.9 776.1h0M199.8 772.2h0M136.6 777.8h0M158.1 776.6h0M177.5 785h0M140.9 761.6h0M172.6 764.1h0M153 773.9h0M167.4 783.9h0M180.3 785.5h0M190.3 773.1h0M196 764.5h0M166.2 769h0M177.2 764.5h0M186.8 785.8h0M139.7 768.6h0M191.4 770h0M176 768.3h0M166.2 785.2h0M143.3 779.2h0M132.7 762.5h0M192.5 766.1h0M196.5 773.6h0M138.6 776.3h0M186.2 786.8h0M186.4 780.7h0M167.8 766.7h0M132.3 767.2h0M200.7 769.1h0M150.7 775.1h0M174 772.8h0M174.7 765.1h0M158.4 764.8h0M146 770.5h0M169.3 782.2h0M144.4 771.2h0M147.7 787.8h0M159.7 771.8h0M193.3 778.8h0M181.3 778.8h0M178.5 787.7h0M135.7 776.1h0M157.1 780.5h0M129.7 766.8h0M135.7 776.2h0M168.1 783.8h0M158.5 785.7h0M179.1 788.1h0M203.7 763.2h0M160.6 773.1h0M134.6 764.9h0M197.7 771.1h0M167.8 767.9h0M167.2 764.8h0M187.5 782.3h0M153.5 767.6h0M154.9 786.3h0M159 780.9h0M193.2 764.2h0M156 784.2h0M143.6 774.3h0M188.6 765.9h0M182.2 767.4h0M154.7 771.8h0M195 773.8h0M160.2 786.7h0M156.8 773.1h0M204.6 761.5h0M170 785.2h0M167.1 779.4h0M187.7 784.4h0M168.4 762h0M155.1 778.4h0M139.4 780.8h0M177.7 779.6h0M162.8 774.7h0M139 782.2h0M177.4 769.1h0M190.5 763.1h0M173.9 782.1h0M142.4 778.1h0M195.3 769.7h0M178.5 779.6h0M194.6 787.1h0M184.9 786.6h0M182.2 787.7h0M128.8 765.2h0M201.8 763.9h0M134.7 773.4h0M169.9 769.3h0M139.7 773.2h0M178.4 766h0M186.1 784.7h0M194.9 765h0M152.2 775.3h0M160.7 778.4h0M179.7 768.3h0M136.5 768.6h0M166.5 777.2h0M171.4 778.8h0M164.8 776.4h0M153.6 762.2h0M181.8 781.9h0M177.5 775.3h0M172.5 765.7h0M143.1 768.4h0M140.1 777.9h0M136.4 766.4h0M181.1 770.6h0M200.2 770.7h0M136.7 774.2h0M144.7 775.1h0M159 784h0M140.4 777.6h0M155.3 772.1h0M152.1 785.4h0M183 785.4h0M188.5 764.4h0M186.3 766.3h0M157.6 766.4h0M173.8 766.4h0M148.8 787.4h0M167.4 775.6h0M201 771.3h0M166 785.9h0M189.4 784h0M169.8 764.8h0M150.8 772.8h0M129.9 766.3h0M173.6 783.9h0M161.1 776.6h0M180.8 778.6h0M190.8 763.1h0M193.7 775.2h0M165.6 783.7h0M150.8 775.3h0M168.5 766.6h0M165.5 777.6h0M175.8 762.4h0M143.8 774.9h0M175.5 770.5h0M161.1 784.8h0M141 766.4h0M178 779h0M192.8 770h0M141.7 775.2h0M199.8 778.8h0M201.4 769.5h0M197.3 772.7h0M130.7 765.2h0M188.7 773.6h0M162.6 779.9h0M159.5 783h0M184.7 773.6h0M164.2 776.1h0M170.7 772.7h0M176.3 767.4h0M143.1 779h0M165 787.2h0M194.5 776.3h0M141 777.3h0M198.1 764.3h0M173 764.9h0M168.5 761.9h0M169 766.8h0M179.6 784.5h0M202 766.8h0M143.8 774.1h0M174.9 763.5h0M162.8 783.5h0M142.2 768.8h0M114.3 768.2h0M219.6 766.4h0M228.8 761.6h0M122 762.5h0M211 763h0" stroke="#cbcbcb" stroke-width="2.6" stroke-linecap="round" fill="none"/>
<path d="M126.8 725.2h0M141.3 758.3h0M144.6 754.5h0M122 714.9h0M131.2 737.4h0M134.2 758.1h0M144.5 756h0M115.2 732.9h0M149.5 754.3h0M144.7 757.7h0M133.7 742.5h0M135.3 752.9h0M146 733.3h0M138.7 737.5h0M120.9 718.3h0M138.8 750.8h0M145.4 756.9h0M128.4 758h0M148 759.1h0M134.1 758.6h0M154.9 756.7h0M147.8 741.6h0M136.9 751.3h0M139.8 755.6h0M153.5 734.7h0M135 717.4h0M139.3 738.3h0M125 711.5h0M134.9 755.5h0M147.1 747.1h0M142.4 750.7h0M147.3 737.4h0M145 748.4h0M144.8 754.6h0M132.8 755.2h0M129.1 729.4h0M139.4 747.8h0M140.8 756.3h0M142.9 758.9h0M145.9 755.7h0M136.2 733.5h0M153.1 755h0M139.4 735h0M138.5 755.7h0M146.8 758.5h0M126.6 757h0M133.2 726.4h0M143.1 752.5h0M141.9 743.3h0M134.9 732.2h0M142.9 750.6h0M143 731.7h0M129.3 753h0M138.7 746.9h0M132.7 744.7h0M154.2 758.2h0M140.9 758.7h0M149.7 757.6h0M154.5 753.8h0M122.8 741.1h0M140.5 758.5h0M135.8 755.1h0M146.8 755.7h0M133.8 758h0M139.7 748.5h0M145.7 759.2h0M144 757.4h0M149.7 756.7h0M128.4 754.4h0M148.4 758.2h0M128.2 731.5h0M140.3 751.7h0M152.9 759.1h0M137.3 757.1h0M136 757.4h0M137.1 728.2h0M147 741.4h0M134.7 754.7h0M138.3 734.1h0M118.5 749.7h0M144.4 757.7h0M138.3 755.5h0M135.7 729.7h0M151 739h0M155.6 758.9h0M137.3 755.5h0M126.1 725.8h0M147.6 757.1h0M141.9 746.1h0M130.3 756.3h0M127.4 755.9h0M142.8 758.5h0M156.5 752.1h0M144.6 747.5h0M132.9 753.4h0M141.9 749.2h0M141.7 757.2h0M133 756.1h0M147.5 739.6h0M154.8 750h0M136.9 736.5h0M140.4 755.5h0M131.1 753.4h0M152.8 754.2h0M133.7 740.7h0M131.6 758.5h0M154 751.5h0M132.9 759.1h0M140.7 755.5h0M142 758.4h0M134.7 747.9h0M139.8 754.4h0M144.6 759.1h0M141.4 723.6h0M136.3 750.3h0M137.4 750h0M148.6 750.5h0M139.2 748.9h0M142.7 758.2h0M143.9 759.5h0M142 753.3h0M143.6 750.7h0M123.3 741.1h0M134 752.6h0M137.7 752.7h0M121.2 733.3h0M142.7 753h0M139.1 752.7h0M144.1 757.5h0M138 752.1h0M140.5 754.6h0M146.4 758.1h0M151.6 759.2h0M152.6 747.5h0M130 746.1h0M152.8 755.2h0M125 753.2h0M126.7 744.2h0M138.6 754.2h0M143.6 757.7h0M143.1 759.3h0M144 750.3h0M146.7 755.4h0M140.2 739.1h0M155.4 756.4h0M128.9 741.8h0M109.1 746.3h0M116.1 747.9h0M114.3 725.3h0M116 724h0M110.9 742.3h0M110.8 744.6h0M107.6 748.9h0M129.9 736.1h0M131.5 726.3h0M110.9 730h0M128.9 726.9h0M108.1 756.9h0M111.6 724.8h0M118.1 746.8h0M131 737.7h0M110.3 733.7h0M122.1 741.1h0M135.6 724.7h0M116.8 756.1h0M117.8 742.3h0M135.3 727.5h0M106.5 753.5h0M132 727.7h0M133.3 726.2h0M118.5 753.9h0M118.8 752h0M132.8 736.5h0M68.8 662h0M58.8 662.5h0M54.6 674.9h0M79.9 676.4h0M82.7 688h0M120.4 682.4h0M127 689.8h0M110 693.5h0M143.6 696.2h0M75.5 697.4h0M123.8 708.6h0M144.2 709.1h0M86.6 713.6h0M100.7 714.3h0M128.9 713.4h0M130 715h0M127.5 716.5h0M102 722.3h0M75.4 735.4h0M117 727h0M126.5 718h0M135 721h0M106.3 745.3h0M112 744h0M113.8 747.7h0M114 722h0M116.4 724h0M145.1 727.5h0M152.3 730.3h0M148.5 735.5h0M150 737.5h0M126.6 727.6h0M119.5 731.5h0" stroke="#e2363b" stroke-width="2.7" stroke-linecap="round" fill="none"/>
<path d="M194.9 727.6h0M194.5 755.4h0M200 746.2h0M171 753.8h0M185.8 724.1h0M170.1 748.8h0M208.3 699h0M185.5 747.8h0M180.3 754.3h0M211.7 751.6h0M210.9 739.8h0M198.3 743.7h0M205.2 739.1h0M192.6 740h0M180.5 755.5h0M183.2 751.6h0M198.1 736.8h0M199.8 732.9h0M199.7 743.5h0M192.2 744.2h0M190.7 748.4h0M168.2 757.2h0M180.5 758h0M199.2 738.1h0M171.1 758.8h0M182.1 756.3h0M191 748.6h0M199.5 753.2h0M175.9 754h0M194.8 753.5h0M182.1 744.9h0M202.4 741.1h0M169.6 745.7h0M172.7 756.2h0M186.2 755.1h0M230.8 744.5h0M172 748.6h0M185 718.7h0M169.3 731.6h0M180.9 752h0M175.5 744.5h0M190.5 739.5h0M187.2 738.1h0M192.4 750.9h0M196.3 748.1h0M190 756.7h0M184.4 758.9h0M186.8 756.9h0M191.9 737.9h0M194.4 755.2h0M180.9 756.7h0M165.7 749h0M177.6 758.6h0M201.1 753h0M167.2 758h0M178.1 755.1h0M196.6 739.1h0M172.5 754.4h0M184.7 753h0M169.8 756h0M180.9 728.2h0M194.3 739.6h0M204.4 743.6h0M228.6 746.5h0M176.5 739.1h0M195.7 754h0M183.8 753.7h0M206.1 742.7h0M180.1 751.8h0M220.7 746.8h0M173.6 734h0M175.5 756.1h0M209.5 738.7h0M181.7 757.5h0M201.3 736.3h0M170.8 742.7h0M175.3 758.5h0M190.8 743.6h0M166.2 758.6h0M200.5 727.7h0M186.7 731.9h0M194 755.9h0M226 744.6h0M191.2 746.8h0M194 739.3h0M213.7 745.7h0M173.1 749h0M184.7 735h0M189.4 758.2h0M177.7 749.2h0M198.2 719h0M193.1 741.1h0M203.2 740.8h0M194.5 757.1h0M184.7 749.5h0M200.5 739.1h0M190.2 752.3h0M207.7 730h0M210.1 721.6h0M172.1 723.5h0M194 738.7h0M196.6 741.6h0M169.2 744.6h0M211.2 701.4h0M192.3 744.9h0M202.3 720.9h0M170.1 746.8h0M177.1 759h0M174.6 757.7h0M192.1 744.5h0M175.5 759h0M184.5 691.8h0M190.1 756.1h0M178.5 754.6h0M170.8 749.1h0M232.6 729.8h0M180.6 745.6h0M171.4 758h0M179.1 757.1h0M179.7 732.6h0M213.3 720.2h0M176.6 736h0M189.3 752.8h0M177.6 720.5h0M177.6 756.7h0M169.3 756.3h0M178.9 750.9h0M226.2 743.9h0M169.9 754.6h0M173.2 759.5h0M188.5 753.9h0M197.6 744h0M183.2 748.9h0M169.7 757.4h0M175.8 752.8h0M193.2 750.1h0M192.3 741.9h0M199.7 738.6h0M214.3 754.5h0M216.3 752.9h0M206.8 716.6h0M187.1 758.1h0M184.8 735.7h0M171.7 752h0M186.5 746.6h0M182.6 745.4h0M177 759.1h0M175.8 745.9h0M170.8 728h0M169.4 738.3h0M182.1 755.8h0M181.5 757.7h0M171.7 750.1h0M172.1 756.9h0M169.7 750.8h0M200.6 750.6h0M189.7 746.8h0M205.9 754.9h0M168.4 749.5h0M177.1 751.4h0M169.8 748.1h0M179.4 754.8h0M169.6 740.9h0M190.6 733.3h0M170.5 725.2h0M187.3 732.6h0M231.2 726.1h0M189.2 752.7h0M228.4 719.5h0M196.8 754.8h0M199.2 755.9h0M173.4 756.1h0M197.2 749.6h0M220 730.2h0M203.1 756.9h0M174.5 756.9h0M204.3 706.3h0M181.1 753.7h0M180.1 740h0M167 751.6h0M212.5 748.2h0M171 759.4h0M226 722.3h0M184 747.8h0M166.4 748h0M188 753.6h0M168.9 754.9h0M216 741.3h0M178.3 751.6h0M185.7 742.6h0M183.4 752.5h0M216.3 725.1h0M169.7 736.3h0M180 724.9h0M188.4 742.1h0M195.1 753.2h0M184.1 746.5h0M170 753.1h0M186.5 722.3h0M191.9 748.3h0M193.6 746.3h0M177 722.9h0M190.8 737.6h0M174.5 742.2h0M180 754.6h0M186.9 745.8h0M173.7 740.2h0M170.8 730.3h0M221.6 740.4h0M204.3 758.7h0M183.5 726.8h0M188.8 713h0M205 742h0M185.4 716.6h0M179.3 750.8h0M171 759.5h0M209.6 715.2h0M186.5 722.8h0M223.7 747h0M185.8 750.9h0M208.1 751.2h0M194.8 707.8h0M191.1 755.9h0M186.3 685.1h0M224 740.5h0M195.8 745.3h0M221.7 742.1h0M172.7 729h0M189.7 752.7h0M172.1 755.4h0M174.6 758h0M182.4 738.3h0M176.2 743.8h0M184.7 752.3h0M174.7 759.1h0M194.6 701.7h0M182.9 743.1h0M168.6 753.2h0M166 741.8h0M196.7 732.5h0M179.6 744.1h0M184.7 744.3h0M182.5 728.8h0M182.1 753.4h0M205.1 749h0M214.2 734.6h0M181.1 754.7h0M173.5 753.7h0M172.3 742.3h0M194.7 752.8h0M176.8 751.4h0M198.8 749.1h0M192.7 754.4h0M210 757.3h0M183.1 747h0M186 751h0M207.7 755.8h0M210.5 746.2h0M192.7 751.4h0M216.6 694.6h0M187.2 746.8h0M167.4 758.9h0M224.8 748.3h0M189.1 749.7h0M174.1 757.2h0M179.7 740.9h0M194.1 740.3h0M174.8 756.9h0M177.2 756.3h0M208.1 758.6h0M216.4 737.3h0M180.4 758.5h0M183.8 755.9h0M174 752.3h0M170.5 741.5h0M170.5 749.5h0M174.6 752.3h0M233.3 738h0M167.1 758.2h0M202.5 747.3h0M177.1 750.7h0M186.6 744.4h0M206.6 706.7h0M176.5 750.2h0M171.8 735.6h0M212.5 746.7h0M182.7 740h0M195.5 754.9h0M196.9 758.3h0M189.1 748h0M180.8 744.8h0M170.2 739.4h0M184.9 734.1h0M183.4 744.2h0M186.1 752.7h0M208.7 750.5h0M188.9 745.3h0M182.3 732.9h0M168.3 732.5h0M192.8 756.3h0M224.3 745.8h0M198.3 748.5h0M206.5 755.7h0M208.9 735.7h0M197.4 729.5h0M228.7 702.5h0M190.9 753.4h0M191.5 718.2h0M177.9 750.1h0M207.5 713.7h0M184.1 741.9h0M178.8 757.3h0M187.2 757.9h0M177.8 710h0M214.6 707.5h0M175.4 746.2h0M172.8 735.2h0M171.7 758.2h0M167.8 759.2h0M166 757.2h0M201.7 756.1h0M174 748.6h0M178.7 744.9h0M178.1 757h0M225.5 732.9h0M189.7 705.7h0M169.7 758.7h0M197.6 754.1h0M169.4 753.1h0M199 729.2h0M172.6 747.1h0M170.8 755.1h0M183.1 745.3h0M174.9 753.5h0M169.3 758.7h0M183.1 731.9h0M196.3 750.8h0M222.4 746.4h0M174.8 751.9h0M185.7 715.8h0M171.9 725.3h0M201.4 739.2h0M169.5 735.2h0M181.8 750.3h0M194.1 708h0M180.4 752.4h0M210.3 719.3h0M181.2 714.8h0M182.3 726h0M193.6 748.1h0M191.4 734.7h0M198.1 736h0M175 751.5h0M202.8 725.9h0M194.8 740.2h0M185.1 757.1h0M194.7 751.3h0M201.6 713.2h0M174 739h0M184.2 756.1h0M169.6 737.8h0M195.5 739.7h0M188.6 757.7h0M177 730.4h0M178.1 744.1h0M180.4 746.6h0M173.2 759.1h0M171.7 758.1h0M167.4 730.8h0M168.2 752.8h0M176.4 754.6h0M188.9 737.9h0M182.5 726.3h0M219.2 758.7h0M191.8 749.4h0M214.2 741.3h0M173.7 731.7h0M174.5 753.4h0M185.3 750.1h0M193.5 741.4h0M173.2 758.3h0M176.6 737.9h0M204.2 749h0M182.7 756h0M180.1 750.4h0M180.6 758h0M184.1 722.1h0M168.7 756.6h0M197.2 752.1h0M166.3 749.2h0M171.6 754.7h0M173 749.6h0M188.5 750.5h0M207.8 724.7h0M193.6 757.9h0M192.8 727.4h0M176.6 723.4h0M187.3 752.1h0M172.7 734h0M176.1 755.2h0M203.4 722.1h0M216.8 708.2h0M205.2 758h0M186.9 754.1h0M175 732.2h0M173.3 740.5h0M208.5 729.3h0M178.1 758.1h0M199.8 755h0M167.7 756.2h0M188.1 747.4h0M178.3 749.4h0M183.5 759.5h0M185.3 757.5h0M167 748.6h0M194.5 709h0M185.1 746.1h0M204.8 736.4h0M195.8 747.6h0M188.8 755.9h0M182.5 753.3h0M194 748.1h0M180 725.9h0M177.2 750h0M182.5 754.5h0M174.5 724.2h0M193.6 757.9h0M203.6 753h0M236.5 751.6h0M181.1 758.9h0M183 749.9h0M181.8 750h0M190.8 752.3h0M185.6 754h0M172.4 755h0M187.7 746.8h0M184 749.5h0M181.6 751.1h0M208 756.3h0M224.5 754.1h0M174.2 753.3h0M192.1 743.2h0M199.2 746.4h0M199.3 708.3h0M180.2 757.7h0M189.8 751.4h0M181.2 751.9h0M176.9 751.8h0M191 752.6h0M185.8 741.6h0M178.2 748.2h0M172.5 745.4h0M174.4 759.1h0M219.7 749.6h0M191.7 705.3h0M199.2 712.2h0M179 751.5h0M199.5 758.4h0M221.5 757.6h0M180.7 753.2h0M195.3 739.6h0M216.7 738.9h0M189.1 754.7h0M218.8 733.8h0M174.9 740.3h0M171.1 754.7h0M183.6 747h0M218 690.9h0M193.5 747.6h0M185.2 753h0M170.3 754.1h0M194.1 723.2h0M197.3 718.1h0M176.5 746.2h0M195.5 756.7h0M182.6 743.1h0M201.3 749h0M171.5 747.4h0M195 716.1h0M199.2 740h0M199.2 759.1h0M185 732.6h0M203.9 715.8h0M188.9 738.4h0M233.8 759h0M178.8 737.5h0M193.1 754.6h0M227.2 739.3h0M180.7 734.5h0M173.6 741.2h0M169.9 742h0M167.6 756.3h0M167.2 752h0M173.5 752.6h0M178.3 727.2h0M225.7 748h0M180.8 756.9h0M207.9 746.2h0M208.1 747.8h0M174.5 721.8h0M168 742.9h0M219.3 742.3h0M170.9 756.6h0M174.7 751.9h0M178.7 743.4h0M181.9 732.8h0M173.2 759.1h0M169.6 757.6h0M215.4 758.6h0M196.1 724.1h0M183.9 738.4h0M190.5 757.8h0M181.7 754.4h0M166.6 753.5h0M175.4 757.4h0M181.7 737.6h0M179.3 757.2h0M184.1 754.4h0M206.4 748.2h0M168.3 717.2h0M204.3 721.1h0M182.1 759.3h0M169.2 755.2h0M186.8 758.7h0M216 712.5h0M172.9 749.1h0M201.4 751.2h0M188.3 756.3h0M184.2 753.4h0M213.5 723.3h0M185 757.1h0M180.9 757.7h0M170.4 752.5h0M187.3 745.2h0M173.8 747.1h0M170 757.3h0M183.2 755.1h0M185.7 752.8h0M174 750.6h0M172.7 753.6h0M168.3 756.4h0M186.4 719.3h0M194 727.5h0M219.7 730.6h0M194.1 703.2h0M226.7 735.4h0M169.3 718.3h0M201.6 749.8h0M186.2 732.4h0M171.9 756.6h0M182.1 755h0M183.4 753.2h0M198.3 751.4h0M194.9 755.1h0M210.7 746.3h0M167.7 744.1h0M180.4 745.1h0M174.6 753.8h0M192.3 737.1h0M177 750.7h0M177.9 730.8h0M170 745.7h0M181.4 722.8h0M182.7 747.6h0M196.2 749.6h0M179.1 742h0M209.8 746h0M211.2 731.8h0M217 734.7h0M173.3 736.4h0M175.7 750.5h0M188.9 755.6h0M203.4 749.7h0M197.2 758.3h0M190.4 754h0M173.7 744.7h0M185.2 757h0M178.8 750.3h0M223.8 693.6h0M207.2 722.9h0M187.8 722h0M196.7 733.1h0M205.9 724.6h0M195.3 750.4h0M184.8 754.3h0M172.7 755.8h0M190.2 754.6h0M182.6 750.6h0M187.6 754.5h0M219.9 738.6h0M229.5 723.7h0M169.1 734.9h0M205.5 752.2h0M167.1 748.4h0M188.4 748h0M186.2 726.3h0M209.2 743.7h0M184.8 745.4h0M184.9 723.5h0M168.5 753h0M195.6 726.4h0M197.8 758h0M188.2 746.1h0M177.2 704.1h0M173.4 737.3h0M185 751.1h0M179.5 754.8h0M199.8 748.2h0M171.2 752.5h0M183.7 751.7h0M177.4 757.7h0M172.8 759.3h0M179.9 748.1h0M183.7 757.9h0M177.2 750.5h0M172.7 752h0M170.1 751.5h0M232.8 698h0M185.4 756.3h0M180.6 750.6h0M217.3 752.7h0M213.6 752.3h0M182.7 748.6h0M219.9 745.6h0M222.4 758.1h0M167.2 749.4h0M170.6 759.2h0M197.3 756.4h0M207.7 739.3h0M206.4 723.8h0M168 744.1h0M205.9 749.4h0M170.6 746.2h0M179 753.1h0M228.2 731.3h0M168.2 746.7h0M182.5 717.4h0M170.8 754.3h0M202.8 755h0M169.8 755.4h0M172.7 716.2h0M181.7 758.1h0M207 758h0M191.4 757.9h0M182.5 736.2h0M182.2 751.5h0M218 691.4h0M191.9 752.5h0M188.4 751.9h0M178.3 758h0M183.8 758.5h0M179.4 752.7h0M202.1 741.4h0M195.6 752.7h0M201.2 731.6h0M171.1 747.2h0M172.2 748.2h0M196.4 735.4h0M202.8 752.5h0M214.5 755.2h0M179.6 751.7h0M202.9 740.8h0M209.3 753.7h0M195.1 736.4h0M178.8 740.2h0M192.5 755.2h0M179.4 744.3h0M196.7 753.3h0M189.2 742.1h0M208.5 734.8h0M193.6 745.2h0M189.8 754.1h0M195.9 756.6h0M189.9 759.4h0M171.3 758.7h0M207 757.4h0M234.7 759.5h0M167.9 755.9h0M171.2 750.8h0M221.4 744.1h0M184.4 714.8h0M206.1 757.1h0M190.5 754.2h0M195.6 700.9h0M177.5 690h0M174.3 742.8h0M177.6 713.4h0M180 742.3h0M171.2 752.9h0M214.3 747.5h0M229.3 752h0M180.8 758.3h0M168.9 745.9h0M176.8 751.9h0M176.7 731.9h0M199 693.3h0M191.1 751h0M188.8 752.3h0M230.4 731.5h0M211.7 722.4h0M170 758.1h0M188.7 758.6h0M182 744.3h0M176.1 733.6h0M187.7 758.9h0M185.5 757.4h0M169.7 752.2h0M176.1 750.6h0M180 739.8h0M172.7 753.1h0M194 722.8h0M199.3 743h0M182.9 743.3h0M174 743h0M205.4 739.5h0M192 748.2h0M218.5 758.9h0M168.8 712.8h0M174.2 752.2h0M172.4 750.8h0M169.9 755.9h0M178.5 743.3h0M184.1 758.1h0M176.1 755h0M171.5 721.6h0M186.7 744h0M182.7 736.5h0M190.9 738.9h0M169.3 748h0M177.5 759.1h0M205 693.3h0M213.3 739.6h0M168.8 745.1h0M198.8 757.9h0M238.9 711.7h0M174 755.8h0M167.9 731.4h0M186.4 756.8h0M188.2 756.6h0M185 757.6h0M237.3 723h0M202.4 751h0M211.5 746.7h0M178.4 724h0M169.3 744.6h0M182.5 758.6h0M192.2 734h0M181.9 742.5h0M190 753.6h0M183.9 750.9h0M193.9 751h0M178.3 755.6h0M205.7 748.8h0M177.6 754.1h0M177.9 751h0M176.3 729.9h0M183.7 746.9h0M179 747.7h0M191.6 749.8h0M224.4 750.1h0M182.3 721.5h0M210.7 759.4h0M182.9 753h0M180.8 754.8h0M192.7 755.9h0M190.8 747.1h0M189.3 740.2h0M195.7 744.8h0M173.6 755.5h0M189.6 749.8h0M188.6 710.7h0M192.4 755.9h0M179.1 757.4h0M178.8 754h0M170.6 757.2h0M185.4 758.9h0M168.9 745.6h0M183.4 757.2h0M204.5 743.2h0M206 753.9h0M185.5 750.2h0M183.4 750.5h0M189.2 749.9h0M173.3 751.9h0M200.6 757.6h0M178.7 758.5h0M219.7 696.1h0M206.3 723.5h0M178.3 746.7h0M186.6 725.9h0M205 758.9h0M182.2 752.3h0M180.7 752.5h0M183.8 696.1h0M189.9 725.9h0M197 734.6h0M183.2 755.7h0M187.2 758.5h0M177.4 759.4h0M210.7 735.4h0M220.9 735.1h0M187 753.3h0M187.2 756.3h0M183.5 757h0M175.9 755h0M175.8 754.2h0M175.8 755.7h0M182.2 719.5h0M179.7 717.7h0M194.4 738.1h0M190.2 757h0M196.5 747.2h0M185.2 746.1h0M167.3 750.3h0M202 747.8h0M181.4 758.8h0M174.9 733.3h0M212.1 759h0M197.5 755.8h0M167.5 721.1h0M175.2 750.4h0M196.4 744.2h0M181.9 751h0M174.6 755.9h0M185.6 743.6h0M183.8 746.3h0M224.5 752h0M178.3 717.7h0M174.8 744.8h0M174.8 754.9h0M174.9 738.5h0M202.3 740.6h0M180.5 751.9h0M213.6 751.7h0M168.8 757.8h0M168.2 744.4h0M192.8 753.1h0M196.3 748.2h0M169.2 724.2h0M168.3 746.2h0M223.6 709.7h0M165.9 752.3h0M188.3 744.4h0M189.5 729.8h0M181 755.8h0M171.6 757.5h0M189.2 751.6h0M208.7 759.1h0M209.9 753.1h0M171.1 756.2h0M172.4 723h0M198.3 735.1h0M180.2 744.8h0M174.6 756.4h0M213.8 734.3h0M211.6 726.2h0M221.5 729.6h0M176 754.6h0M177 753h0M207.3 737.3h0M192.9 756h0M169.4 716.7h0M207.5 755.9h0M190.6 751.6h0M176.7 734.7h0M176.8 755.2h0M172.8 720.7h0M180.1 753.3h0M200.1 742.8h0M180.9 749.4h0M198.4 733.7h0M181.9 748.7h0M189.7 755.3h0M195.9 715.7h0M195 747.5h0M181.9 743.3h0M184 738.8h0M173.6 750.1h0M172.6 746.1h0M189 742h0M204 729.5h0M211.8 759.1h0M220.8 725h0M178.7 749.6h0M206.3 730.2h0M200.8 704.7h0M206.1 755.3h0M186.8 732.4h0M183.7 757.5h0M189.8 732.1h0M203.6 721.3h0M181.4 735h0M175 747.3h0M175 746.8h0M171.7 759.3h0M204.8 743.4h0M199.1 739.5h0M190.3 743h0M169.8 748.2h0M181.9 747.7h0M179.2 729.1h0M169.8 757.7h0M197.4 750.4h0M182.8 758.7h0M185.8 734.5h0M201.5 703.3h0M192.6 744.4h0M205.7 744.2h0M187.9 727.5h0M183 733.7h0M198.7 735.5h0M213.1 715.8h0M183.4 755.2h0M212.7 754.8h0M181.9 736.7h0M212.6 719.2h0M169.4 758.5h0M177.5 759.2h0M167.7 747h0M179.2 730h0M233.8 713.2h0M179.9 756.8h0M172.6 754.2h0M203.9 732.9h0M176.4 757.9h0M227.5 716h0M175.7 742.1h0M177.2 742.5h0M181.7 749.2h0M175.6 735.1h0M202.4 751.5h0M193 752.1h0M168.2 740.5h0M206.4 749.9h0M198.2 748h0M208.6 741.9h0M185.1 751h0M179.4 752.2h0M203.1 753.5h0M188.2 757.5h0M180.2 755h0M212.7 748.8h0M181.6 747.8h0M195.2 755.4h0M188.6 753.3h0M204.6 692h0M191.6 758.2h0M216.9 716.7h0M183.5 736.5h0M185.5 754.2h0M236.8 711.2h0M180.1 747.4h0M221.2 751h0M191.7 749.9h0M197.1 758.5h0M170.1 755.7h0M201.2 740.2h0M190.6 748.9h0M188.6 749.1h0M197.6 756.2h0M217.1 704.7h0M172.5 758.5h0M184.4 747.7h0M188 727.9h0M204.7 751h0M184.8 742.1h0M172.3 752.7h0M200.9 742h0M169.2 753.9h0M185.5 742h0M194 757.8h0M167.7 743.5h0M216.8 718.4h0M199.9 748.1h0M167.7 755.8h0M168.2 755h0M200.4 730.8h0M167.5 752.7h0M213.9 692.7h0M211.1 739.7h0M201 739h0M172.8 751h0M169 755.2h0M177.4 757.3h0M211.6 720.5h0M180.2 756.7h0M210.5 751.3h0M195.9 714.3h0M197.9 753.3h0M176.8 729.1h0M194.8 700.7h0M209.7 744.9h0M232.2 728.2h0M183.8 745.4h0M196.7 707.3h0M191.1 737.1h0M166.8 742.7h0M222.1 759h0M203.7 719.6h0M237.8 717.5h0M197.4 749.1h0M212.1 730.5h0M168.3 756.9h0M222.9 741.6h0M180.6 757h0M193.7 751.5h0M186.9 746.4h0M177.2 726.1h0M221.8 745.9h0M238.8 730.4h0M183 751.3h0M171.8 759.3h0M182.9 747.8h0M180.1 734.6h0M195.5 741.4h0M169.6 759.4h0M195.2 751.8h0M173.5 738.4h0M206.3 753.6h0M184.9 749h0M167.5 751.3h0M177.5 757.1h0M172 751.9h0M213.2 750.4h0M190.2 758.2h0M173.9 720.2h0M193.6 742.2h0M237.4 706.7h0M169.6 743.8h0M174.1 742.3h0M178.6 757.3h0M192.7 744.6h0M188 745.4h0M188.2 746.8h0M181 723h0M182.6 747.2h0M182.8 756.3h0M187.5 757.4h0M173.5 743.2h0M175.9 734.2h0M188.2 753.5h0M202.4 719.2h0M173.7 745.9h0M195.9 746.4h0M170.1 739.7h0M175.6 753h0M179 749.1h0M212.2 703.2h0M173.6 741.2h0M176 738.6h0M168.9 736.3h0M170 743.8h0M176.8 717h0M216.7 759.1h0M191.7 734.8h0M182.6 751.1h0M180.2 755.1h0M166.5 755.1h0M179 743.8h0M192.9 720.9h0M181.6 733.9h0M196.6 743.8h0M222.1 757h0M175.3 748.4h0M168 754.5h0M172.1 757.5h0M181.9 756h0M180.7 741.6h0M166.5 755.9h0M201.2 749.7h0M177.6 738.7h0M188.5 748.6h0M185.3 756.9h0M205.4 756.9h0M187.3 748.9h0M185.9 755.3h0M175.2 737.5h0M184.3 729.1h0M180.5 750h0M180.3 740.6h0M194.5 737.8h0M187.9 745.9h0M231.6 721.1h0M168.8 754.5h0M175.7 758.9h0M211.3 717.3h0M207.4 751.7h0M168.8 759.4h0M183.2 750.5h0M186.4 758.3h0M169.5 738.9h0M177.6 703.9h0M205.9 755.6h0M186.9 757.2h0M208.1 690.6h0M169.2 720h0M200.9 754.8h0M207.7 718.5h0M190.1 759.3h0M206.3 740.6h0M181 754.5h0M182.7 756.2h0M198 725.6h0M168.8 757.6h0M171.9 737.2h0M183.1 757.6h0M182.7 717h0M168.2 756.6h0M186.1 755.6h0M170.5 741.7h0M171.8 759.1h0M186.7 716.8h0M197.9 757.2h0M184.8 741.2h0M220.3 750.8h0M181.6 751.1h0M174.9 757h0M177.7 755.4h0M187.2 758.5h0M196.7 738.6h0M184.8 757.6h0M200.2 755.5h0M205.9 719h0M170.2 736.7h0M184.4 744.8h0M226 726.6h0M214.7 731.5h0M174.6 741.6h0M184.7 746.1h0M185.3 742.4h0M181.8 756.5h0M200.8 757.2h0M181.3 757.6h0M193.1 727.5h0M188.6 739.9h0M188 747.8h0M215.7 711.3h0M192.5 744h0M192.4 756.7h0M179.6 753h0M202.9 753.6h0M167 754.3h0M191.2 754h0M177.4 758.5h0M176.9 751.5h0M184.5 752.7h0M171.8 736.8h0M195.9 738.6h0M222.1 756.2h0M170.1 750.9h0M182.8 744.3h0M183.5 749h0M195.6 701.7h0M207.4 751.5h0M183.9 758.7h0M208.5 759h0M229.6 745.7h0M169.4 753.9h0M182.3 745.8h0M197.9 736.4h0M193.4 747.7h0M186.2 752.2h0M169.6 737.9h0M196.5 730.4h0M206.2 755.9h0M166.7 756.3h0M189.3 742.2h0M189.6 706h0M193.1 758.7h0M174 720.8h0M184.3 735.3h0M181 746.8h0M190.5 728.2h0M176.2 730.4h0M181.1 753h0M169 747.7h0M173.8 747.4h0M219.4 716.3h0M188.4 757.9h0M217.8 732.7h0M186.2 743.2h0M194 751.5h0M176.3 748.1h0M193.4 706.9h0M186.8 740.3h0M173.2 752.1h0M190.9 756.3h0M220.6 736.9h0M191.9 748.1h0M179 740.3h0M174.4 722.9h0M196.1 753.9h0M175.3 745.6h0M169.9 752.9h0M227.7 732.9h0M194.5 752.9h0M173.5 726.8h0M173.1 700.9h0M203.6 728h0M184.9 746.4h0M176.7 753h0M176.6 741.5h0M174.8 756h0M185.7 747.5h0M188.8 755.7h0M177.1 759.4h0M180.1 756.1h0M229 750.9h0M196.5 745.7h0M168.3 737.6h0M175.3 758.4h0M184.6 746.8h0M188.9 755.4h0M167.8 759h0M210.4 757.9h0M183.6 712.1h0M180 745.4h0M171.6 759.1h0M190.8 754.3h0M166.7 737.4h0M233.5 750.1h0M204.4 740.2h0M180.6 758.6h0M179.1 757.8h0M199.2 758.9h0M218.6 719.9h0M182.9 743.3h0M180.4 736.5h0M182.9 748.1h0M179.6 758.8h0M172.6 751.1h0M204.9 718.4h0M171.7 735.7h0M199.6 756.4h0M171.5 750.4h0M194.1 736.8h0M194.9 756.3h0M193.8 756.8h0M187.6 745h0M178 754.8h0M188.4 741.3h0M192.9 754.5h0M200.3 729.3h0M194.1 716.7h0M228.1 698.8h0M191 743.1h0M186 751.3h0M199 727.1h0M184.8 726.9h0M187.2 702.4h0M174.3 755.9h0M218.9 738.8h0M177.8 750.2h0M200.9 745.3h0M178.6 733.4h0M176.6 751.7h0M178.1 754.2h0M184.1 756h0M205 758.1h0M174 755.6h0M201.5 757.7h0M196.7 753.9h0M173.6 752.2h0M178.8 727h0M175.1 717h0M218.8 754.6h0M180.4 755.8h0M195 732.1h0M174.9 757.5h0M180.4 751.3h0M189.3 745.3h0M198.5 750.5h0M191.2 749.5h0M176.5 758.2h0M170.1 749.9h0M195.5 752.5h0M176.8 758.5h0M201.8 749.4h0M211.1 720.8h0M180.4 752.8h0M177.7 752.3h0M197 759.3h0M190 730.3h0M172.3 758.3h0M183.6 747.5h0M181.4 746.1h0M206.5 692.6h0M183.1 741.9h0M209.2 702.2h0M175.4 753.5h0M210.8 743.5h0M166.9 754.3h0M190.7 732.8h0M177.6 751.2h0M171.8 758.2h0M236.6 749.6h0M169.5 726.5h0M179.8 720.8h0M175.1 754.4h0M190.2 758h0M182.6 757.2h0M233.2 746.5h0M193.6 749.5h0M175.7 709.8h0M184.9 729.7h0M182.5 756.8h0M208.7 720.1h0M230.4 734h0M187.8 754.7h0M188.9 743.4h0M212.6 733.1h0M208.7 740.6h0M220.9 742.3h0M171.4 756.8h0M188.5 745.6h0M173.4 747.3h0M190.1 754.2h0M200 749.3h0M171 728.8h0M235.7 707.3h0M183.9 756.8h0M214.1 737h0M172.4 745.1h0M177 744.8h0M173.3 714.5h0M180.4 752.4h0M167.8 744.9h0M207.6 750h0M212.9 746.2h0M172.4 755.9h0M180.7 755.6h0M171.6 755.1h0M210.9 746h0M181.4 727.6h0M208.7 745.9h0M202.1 758.4h0M216.6 742.9h0M207.8 738.2h0M182.8 752.1h0M199.1 756.7h0M176.5 757.8h0M199 751.2h0M205.3 728.8h0M179.2 745.3h0M174.7 752h0M176.6 727.3h0M183.5 754.5h0M183.7 752.9h0M168.4 753.8h0M205.8 758.9h0M168.4 742.7h0M204.4 755h0M165.6 745.9h0M210.5 755.5h0M173.4 732.4h0M170.3 705.9h0M195.2 757.7h0M193.5 706.3h0M212 736.1h0M212 720.1h0M188.8 726.7h0M173.3 729.5h0M197.9 750.2h0M170.6 756.5h0M183.1 757.3h0M177 741h0M181.9 749h0M205.7 747.8h0M196.2 745.1h0M171.9 758.6h0M180.6 737.3h0M197.2 738.2h0M188.2 742.1h0M194.3 754.9h0M171.5 756.6h0M169.4 746.3h0M199.7 721.1h0M190.8 753.3h0M204.6 755.4h0M168.6 755.4h0M180.8 744.6h0M169.4 756h0M166.5 733.5h0M186.1 743.6h0M211.2 711.4h0M195.2 738.8h0M186.4 757.5h0M180.9 754.3h0M193.4 758.7h0M223.4 733h0M182.6 758.5h0M237 707.9h0M213.9 754.2h0M182.5 750h0M169.5 758.7h0M184.3 754.5h0M210.8 757.1h0M171.3 750h0M169.9 748.2h0M175.3 738.2h0M172.5 753.1h0M180.4 685.5h0M179.9 759.2h0M184.4 751h0M208 754.8h0M177.4 746.3h0M182.3 747.5h0M172.5 751.4h0M189.1 751h0M174.8 755.9h0M173.7 727.7h0M184.5 753.4h0M177.1 759.3h0M184.2 757.9h0M183.5 757h0M175.4 741.4h0M183.7 704.6h0M174.5 738.1h0M209.1 724.8h0M181 720.4h0M180 735.7h0M187.9 720.6h0M181.8 754.6h0M228.6 710.9h0M180.7 745h0M179 753h0M170.8 758.1h0M195.8 741.1h0M192.9 746.1h0M170.9 759.4h0M176.9 750.5h0M173.8 759.5h0M168.6 745.6h0M181.4 750.6h0M201.1 759.4h0M174.9 743h0M194.7 750.1h0M167.4 755.5h0M199.9 705.8h0M175.8 742.4h0M169.8 757.1h0M188.7 754.2h0M185.8 759.2h0M190.7 757.3h0M186.8 757.1h0M210.3 710.1h0M172.7 745.3h0M174.4 742.8h0M204.6 755.3h0M170 755.6h0M186.3 740.3h0M195.3 757.2h0M169.2 750.8h0M183.4 721h0M171.6 746.7h0M182.6 752h0M182.7 758.2h0M184.2 741.7h0M181.2 758.5h0M186.5 740.8h0M201.7 748.2h0M186.2 751.2h0M184.3 744.2h0M192.2 742.4h0M175.6 747.7h0M183.6 751.8h0M173.9 757.3h0M178.4 720.7h0M187.4 751.5h0M168.2 747h0M185.1 719.3h0M186.4 742.1h0M181.1 737h0M182.1 756.7h0M198.1 752.2h0M168.7 758.9h0M230.8 702.7h0M171.4 741.9h0M208.9 747.6h0M185.9 732h0M178 759.4h0M195.4 722.9h0M206.1 737.9h0M185.1 725.3h0M224.1 741.2h0M177.6 746h0M188.3 756.7h0M205.4 743.7h0M207.2 734.8h0M170.3 758.3h0M177.4 740.5h0M191.6 748.3h0M210 735.1h0M170.2 753.1h0M186.6 747h0M176.8 740.1h0M183.7 752.1h0M172 755.5h0M192.4 755.9h0M203.9 706h0M191.9 756.3h0M203.1 739.8h0M191.7 730.6h0M173.3 743.4h0M185.2 728.7h0M211.6 709.7h0M169.6 746.8h0M180.8 751.8h0M218.1 722h0M171.2 735.5h0M201.4 753.8h0M174.3 735h0M184.5 737.9h0M235.5 737.9h0M184.5 744.4h0M169.4 755.3h0M182.8 753.5h0M213.3 720.3h0M183 745.6h0M217.9 756.8h0M182.6 751.5h0M180.8 740.5h0M171.2 731.4h0M190.7 737.8h0M230.3 735.1h0M210.1 747.7h0M208.3 758h0M221 720.1h0M176.7 723.9h0M193.1 759.1h0M231.7 757.7h0M173.1 755.1h0M199.5 737.6h0M172.6 757.7h0M216.5 755.7h0M210.1 688.5h0M169.2 737.6h0M189 751h0M180.2 732.5h0M175.4 751h0M171.9 756.5h0M225.4 751.5h0M176.5 757.8h0M180.4 758.9h0M191.3 750.2h0M166.2 747.1h0M190.6 717.9h0M211.3 743.8h0M194.6 756h0M182.3 748.2h0M224.9 757.1h0M182.8 756.3h0M197 759.5h0M168.4 755.3h0M184.7 748.5h0M183 707.4h0M181.7 735.1h0M209 700.7h0M170 726.7h0M171.4 746h0M195.3 747.5h0M233.2 724.7h0M169.2 758.2h0M180.5 710.6h0M181.4 720.2h0M189.8 748.8h0M165.7 753.6h0M169.4 757.3h0M188 755.9h0M189.3 742.5h0M207.7 735.7h0M180.8 748.1h0M170.3 750.1h0M170.2 746h0M215.2 751h0M188.5 707.9h0M168.1 759h0M223.7 746.8h0M187.9 743.6h0M225.3 693h0M232.1 718h0M187.2 753.7h0M195.1 759.1h0M182 755.3h0M205 756.9h0M202.7 746.7h0M202.6 755h0M183.4 733h0M177.4 736h0M175 752.3h0M171.3 756.3h0M175 757.8h0M193.1 756.5h0M193.6 751.6h0M192.7 744.5h0M219.1 750h0M168.6 751.1h0M173.1 733.5h0M210.3 745.2h0M174.4 743.6h0M182.5 758.2h0M184 752.5h0M197.7 749.1h0M237.4 708.2h0M186.9 746.6h0M172.4 751.8h0M191.9 735.8h0M171.9 756.4h0M190.1 758h0M176.7 754.9h0M217.5 758.2h0M185.2 753.2h0M203.8 745.3h0M201.2 755.5h0M204.9 732.4h0M174.9 738.8h0M195.6 757.8h0M199.3 754.2h0M173.3 741.3h0M199.3 744.2h0M225.6 741.1h0M169.5 758.8h0M187.1 756h0M176.4 745.4h0M194.6 753.1h0M192.2 730.6h0M204.3 736.8h0M174.9 739.5h0M188.4 753h0M224.4 739.2h0M187.4 743h0M169.5 752.7h0M192.3 757.6h0M208 737.6h0M173.9 725.7h0M173.8 743.9h0M171.1 746.6h0M205 750.6h0M214.3 724.2h0M177.4 737.4h0M178.8 735h0M180.4 723.2h0M184.7 742.6h0M171.6 754.3h0M181.6 714.1h0M169.3 741.3h0M178.6 759.1h0M182 723.3h0M203.3 753.4h0M191.3 756.8h0M173.3 735.1h0M195.1 755.3h0M174.6 723.8h0M207.8 740.8h0M180.1 757.8h0M183.6 746.2h0M197.4 757.3h0M188.4 751.8h0M187 749h0M177.2 757.7h0M195.2 738.3h0M178.5 748.9h0M184 741.1h0M188.2 744.6h0M193.8 747h0M204.9 745.4h0M187.5 740.1h0M181.6 750.3h0M187.6 740.3h0M207.2 756.2h0M199.6 751.3h0M182 752h0M228.7 748.8h0M190.1 728.1h0M190.6 758h0M166.7 755.9h0M177.6 753.1h0M175.8 751.2h0M206.3 751.2h0M193.6 731.9h0M169.4 717h0M202.4 750.3h0M170.7 757.5h0M174 747.3h0M175.2 740.7h0M220 755.8h0M184.7 757.7h0M194.1 743.4h0M175.2 752.5h0M177.4 743.7h0M186.5 758.2h0M174.2 754.3h0M198.7 726.7h0M177.4 756.2h0M174.8 742.3h0M189.3 757.3h0M189.9 757.4h0M196.1 740.4h0M173.5 749.2h0M195.4 749.3h0M190.4 757.7h0M181.8 747.8h0M215.2 754.5h0M165.7 755.5h0M186.4 724.2h0M190.8 746.9h0M190.9 758.1h0M168.7 745.8h0M180.7 756.3h0M210.4 757.4h0M188.7 714.3h0M180.6 743.6h0M178 759h0M204.3 751.1h0M176 754.7h0M203 730.6h0M212.2 712.5h0M191.5 712.1h0M196.8 729.6h0M186.9 749.6h0M188.8 757.4h0M171.9 748.8h0M179.8 717.6h0M176.7 746h0M191.9 745h0M172.6 755h0M219.5 746.6h0M182.1 738.1h0M206.8 710.6h0M180.9 728.9h0M175.3 755.6h0M183.6 730.6h0M189.3 755.6h0M189.8 754.8h0M200.1 739.9h0M166.4 750h0M188.4 752.6h0M190 758.9h0M207 748h0M188.4 750.7h0M194.6 744.6h0M178.1 755.1h0M202.8 753h0M167.2 756.1h0M223.4 750.8h0M199.5 759.1h0M181 758.2h0M186.7 757.8h0M203 752.6h0M207.1 746.1h0M173.2 758.8h0M178.7 734.1h0M178.9 754.3h0M173.8 756.8h0M201.9 713.6h0M185.8 759.2h0M191.6 739.3h0M189.9 739.8h0M203.2 753.8h0M175.6 756.2h0M177.7 749.5h0M197.9 740.4h0M168.1 756.5h0M182.9 744.4h0M231.9 734.5h0M191.1 757.6h0M193.5 747h0M190.4 732.2h0M206.3 722.3h0M193.7 749.8h0M197.3 759.1h0M171.2 741.2h0M195.3 727.9h0M187.4 753.3h0M176.5 712h0M177 731.9h0M185.7 753.1h0M217.7 739.1h0M207 755.2h0M231.6 718.9h0M192.9 752.7h0M170.5 754.8h0M198.8 724.9h0M200.1 732.8h0M214.6 724.1h0M206 713.2h0M174.9 754.5h0M174.6 741h0M171.7 758.8h0M194.1 728.3h0M181 729.5h0M170.4 742.5h0M189 756.5h0M174.4 714.8h0M196 744.1h0M221.3 751.5h0M189.6 743.6h0M172.7 758.3h0M209.3 757h0M219.4 698.7h0M168.2 752.5h0M195.9 753h0M170.9 755h0M181.1 752h0M185.3 759.4h0M195 739.7h0M181.8 753.3h0M167.2 754.3h0M233.9 726.6h0M171 757.7h0M205.4 725.8h0M166.8 751.9h0M231.9 726.6h0M225.2 753.6h0M184.4 750.5h0M194.8 754.8h0M169.5 756.5h0M200.6 717.7h0M183.2 743.7h0M193 722.2h0M179.2 739.9h0M166 745.2h0M171.7 747.6h0M208.3 738.9h0M169.1 738.7h0M190.6 738.7h0M203.8 748.4h0M196.7 735h0M195.9 695.4h0M185.2 746.6h0M209.1 748.2h0M183.7 759h0M178.6 750.7h0M166.9 734.9h0M172.4 746h0M188.2 751.3h0M193.4 727.8h0M174.9 737.5h0M201.7 716.2h0M219.3 737.6h0M219.5 728.1h0M202.7 740.1h0M170 752.6h0M176.3 735.1h0M188.4 756.9h0M195.9 756.8h0M197.2 759.1h0M183 753.8h0M187.4 750.2h0M180.8 750.7h0M183.7 741.3h0M172.7 759.4h0M173 740.7h0M195.9 743.7h0M208.1 733.7h0M185.9 731.3h0M219.6 726.2h0M186.4 757.1h0M177.4 749.3h0M234.6 688.1h0M193.4 734.5h0M165.8 753.3h0M177.2 757.6h0M171.6 751.5h0M175.3 755.6h0M200 743.6h0M173.8 739.5h0M188 725.4h0M193.3 713.4h0M196.2 738.6h0M191 747.5h0M175.5 750h0M178 749.6h0M170.3 758h0M176.3 722.5h0M193.3 746h0M181.7 736h0M202.4 746h0M181.9 751.2h0M172.1 755.7h0M176.6 727.9h0M169.7 759.1h0M208.5 745.5h0M194.4 751.7h0M203.5 756.7h0M208.3 703.1h0M194.7 732h0M175.6 748.2h0M190.8 726.1h0M215.7 706.1h0M188.2 728.3h0M215.8 742.9h0M177.8 726.3h0M183.6 738.9h0M204.3 755.3h0M177.9 742.6h0M208.8 744.8h0M170.7 727.9h0M197.1 738.6h0M205.2 752h0M170.2 754.2h0M199.7 756.3h0M194 729.4h0M176 755.1h0M169.9 750.2h0M177 757.8h0M209.2 751.7h0M191.1 756.1h0M208.3 758.4h0M180.6 751.1h0M170.2 745h0M217 718.8h0M191.4 756.3h0M197.5 730.1h0M194 751.9h0M172.1 759h0M214 728.8h0M177.6 732.1h0M185.4 725.1h0M180.6 747.3h0M194.5 758.9h0M174.6 749.8h0M184.9 759.2h0M176 753.9h0M167.7 751.5h0M184.5 736.1h0M197 693.2h0M198.5 734.3h0M221.8 743.8h0M181.4 730.9h0M173.2 758.7h0M186.7 739.3h0M199.8 730.6h0M176.4 752.4h0M187.2 754.2h0M181 733.9h0M187.2 717.6h0M198.4 739.8h0M201.4 758.6h0M199.9 735.8h0M177.4 740.6h0M170.1 740.6h0M183.3 752.7h0M174.7 759.4h0M176.8 752.6h0M200.9 752.5h0M169.4 749.2h0M177.9 740.1h0M177 759.4h0M223.7 699.6h0M202 685.5h0M213.4 730.9h0M173.7 723.5h0M196 731.7h0M185.7 753.3h0M194.2 731.8h0M201.5 745.4h0M182.3 758.1h0M168.1 735.9h0M174.8 756.5h0M186.1 753.4h0M201.4 717.2h0M168.7 759.2h0M177.5 736.3h0M175.3 752.7h0M187.4 754.8h0M220 754h0M201.2 725.1h0M196.8 741.4h0M188.1 759.1h0M187.3 751.1h0M168.9 752.9h0M185.9 698.6h0M182.6 741h0M175.4 757.3h0M181.7 731.8h0M171.5 747.4h0M169.1 755.7h0M190.4 738.6h0M177.3 756.1h0M218 715h0M179.6 726.8h0M212 757.2h0M227.4 751h0M209.8 755.7h0M167.8 750.5h0M209.8 749.7h0M208.3 743.5h0M168.2 759.1h0M169.8 757.5h0M239.8 721h0M178 739.6h0M181.1 759h0M195.4 749.5h0M167 752.9h0M202.5 748.4h0M192.3 742.9h0M175.7 716.9h0M166.2 751.6h0M179.5 758.6h0M188 733.7h0M201.8 735.5h0M181.7 755.2h0M182.4 720.7h0M198.9 749.1h0M188.5 711.9h0M238.4 749.7h0M209.2 738.1h0M175.4 741.7h0M221.8 741.5h0M169.4 755.4h0M172.2 756.9h0M211.8 733.5h0M178.1 755.9h0M193.1 741.3h0M170.6 749.7h0M213.6 753.5h0M171.4 755.8h0M228.5 735.5h0M188.5 758.6h0M205.5 750.3h0M193.4 755.1h0M169.6 755.5h0M183.3 739.6h0M178.6 756.9h0M183.2 732.5h0M181.7 747.4h0M206.7 717.9h0M176.7 758.5h0M185 742.7h0M180.8 749.2h0M171.4 740.4h0M174.4 748.7h0M202.4 753.6h0M178.5 724h0M185.1 759h0M186.9 744.2h0M230.7 738.4h0M197.3 741.6h0M203.6 757.1h0M176.4 705.5h0M197.8 746.5h0M185.4 752h0M191 699.9h0M190 690.7h0M204.8 749.9h0M174.4 751.7h0M171.4 746.6h0M174.2 757.2h0M171.8 745.9h0M203.9 749.1h0M188.8 748.7h0M170.4 715.9h0M204.3 738.2h0M177.8 738h0M169.3 752.2h0M221.9 752.5h0M165.8 749.2h0M182.2 759.2h0M177.6 716.7h0M179.7 754.3h0M203.8 712.8h0M219.2 717.5h0M195.1 716.9h0M172.9 744.8h0M183.1 738.3h0M202.9 746.2h0M173 739.7h0M172.8 721.7h0M199.4 747.9h0M172.2 749.9h0M217.9 703.1h0M173 752.4h0M194.2 728.9h0M168 758.9h0M202.5 723.2h0M203 744.4h0M197.9 737.7h0M202.1 749.5h0M177.1 759.3h0M201.9 742.2h0M181.2 740.1h0M190.6 734.8h0M181.6 758.1h0M218.6 706.8h0M196 729.8h0M178 747.6h0M195.3 736.3h0M176.9 759.1h0M190.8 752.9h0M197.1 755.2h0M172.7 758h0M224.5 714.4h0M187.8 736.8h0M197.2 712.1h0M170.4 741.9h0M173 748.8h0M193.7 756.1h0M199.9 751.7h0M193 758.3h0M186.8 750.6h0M191.3 734.9h0M179.9 758.9h0M182.6 755.4h0M173.8 747.9h0M184.7 748.9h0M181.1 708.7h0M202.8 738.9h0M188.5 733.4h0M191.7 758.5h0M185.5 732h0M182.1 755.1h0M232.7 721.9h0M181.6 752.8h0M168.6 757.4h0M197.3 746.4h0M181 746.4h0M189.7 753.1h0M176.3 735.9h0M174.5 754.1h0M223.7 712.6h0M171.5 754.9h0M192.2 750.9h0M168.4 757h0M184.5 751.7h0M192 758.3h0M181.2 725.1h0M192.2 747.9h0M173.2 755.2h0M172 724.1h0M191.5 742.3h0M190.1 747.8h0M179.2 751.2h0M173.2 756.3h0M205.4 751.5h0M212.9 702.2h0M194.5 737.4h0M179.8 702.5h0M183.4 755.8h0M184.6 733h0M197.1 689.4h0M186.5 725.4h0M209.8 719.4h0M172.6 754.5h0M184.3 744.7h0M183.8 712.5h0M214.2 721.6h0M188.8 749.8h0M220.7 731.9h0M196.6 739.6h0M175.1 746.9h0M203.3 755.6h0M196 749.9h0M202.1 696.1h0M209.1 743.7h0M191.8 725.4h0M178.6 738.1h0M176.3 732.7h0M183.4 750.6h0M174.2 699.4h0M184.1 743.2h0M181.3 756.1h0M238.1 745.4h0M183.6 738.5h0M195.6 732.8h0M182.5 758.2h0M170.1 751.1h0M180.3 741.5h0M170.8 752.6h0M193.7 750.8h0M183.4 702.7h0M200.4 731.6h0M186.6 758.9h0M233 720.5h0M185.1 753.3h0M191.5 754.6h0M205.4 711.5h0M171.2 753.5h0M200.6 748.9h0M226.3 743.8h0M204.8 740.3h0M173.5 753.5h0M177.2 750.4h0M183.2 758.6h0M209.6 750.5h0M175.7 755.6h0M189.9 758.8h0M175.9 757.8h0M188.6 721.8h0M196.4 743.8h0M169.2 753.5h0M168.8 749h0M168.1 757.5h0M221.2 748.2h0M170.2 734.1h0M214.9 737.8h0M180.4 743.8h0M179.4 737.6h0M212.2 696.9h0M180 758.4h0M195.7 758.4h0M198.9 735.8h0M184.6 755.4h0M187.5 730.2h0M177.3 720.3h0M203.3 751.3h0M168.7 749.5h0M168.4 750.7h0M174.6 743.6h0M202 747.4h0M182.1 747.2h0M193.6 753.1h0M194.6 745.9h0M190 755.2h0M216.4 741.4h0M180.6 759.2h0M186 718.1h0M185.5 734.9h0M181.6 757h0M183.3 759h0M222 741.7h0M170.6 746.6h0M168.7 742.6h0M194.7 733.1h0M181.4 753.2h0M211.3 712h0M192.1 741h0M170.2 757.4h0M195.7 758.1h0M225.5 750.6h0M168.5 757.5h0M206.1 741.6h0M175.8 742.1h0M189.3 752.2h0M184 719.8h0M180.8 737.9h0M170 756.1h0M202.5 726.3h0M166.4 743.5h0M197.6 752.9h0M184.3 749.6h0M178.4 757.2h0M172.3 749h0M201.1 739.2h0M186.1 757.2h0M179.6 751.2h0M220 739.9h0M180.4 753.5h0M189 755.4h0M183.6 727.5h0M171.3 751.4h0M191.2 712.4h0M231 756h0M169.6 714.7h0M192.7 733.9h0M186.7 754.7h0M216.7 739.5h0M179.5 758.8h0M196.6 730.5h0M180.5 724.5h0M177.7 749.9h0M180.9 752.9h0M172 756.3h0M170.9 739.1h0M183.4 750.2h0M205.6 711.9h0M189.7 744.6h0M190.4 755.9h0M197.4 752h0M208.8 711.3h0M196.9 754.2h0M232.6 743.7h0M200.6 748.4h0M177.9 759h0M174 755.9h0M168.8 746.9h0M178.2 756.9h0M178.5 740.6h0M203 755.1h0M173.4 740.5h0M193.7 734.6h0M187.5 757h0M181 734.3h0M187.5 755.2h0M179.9 758.5h0M215.4 749.8h0M176.5 759.5h0M197.3 756h0M175.7 740.4h0M189.6 753.1h0M185.1 754.6h0M184.2 740.7h0M170.6 758.9h0M171.2 758.2h0M165.8 751.7h0M180.4 722.1h0M180.1 748.6h0M183.4 744.8h0M170.6 752.5h0M194.4 731.1h0M168.2 755.2h0M189.4 750.3h0M171.9 755.9h0M178.9 755.4h0M180.2 734.4h0M184.3 716.6h0M179 757.5h0M184.2 724.4h0M195.2 750.4h0M175.7 749.1h0M196.5 736.9h0M194.9 751.6h0M187.9 707h0M168.2 746.7h0M210.9 741.1h0M176.7 723.9h0M177.4 750.4h0M186.1 751.6h0M216.8 696.4h0M169.2 744.7h0M172.5 733.1h0M195.5 738.8h0M174.3 743.8h0M178.8 756.4h0M217 742.4h0M173 704.5h0M167.6 759.2h0M187.6 755.2h0M175.8 744.2h0M195.6 752.5h0M169.3 749.1h0M201.8 758.9h0M176.3 758.4h0M187.5 732.5h0M201.7 741.3h0M177.4 753.3h0M185.9 739.3h0M212 712h0M181.5 740.6h0M187.9 741.2h0M213.9 752.3h0M194.2 733h0M207.7 719.5h0M220.5 709.5h0M181.2 755.9h0M179.4 745.8h0M199.9 756.2h0M199.5 736.6h0M200.8 737.1h0M189 755.5h0M202.5 758.4h0M172.6 752.2h0M180.6 749.8h0M178.4 756.2h0M177.4 749.9h0M174.7 748.3h0M190.3 739.5h0M199.3 735.4h0M203.2 755.9h0M192.8 732.3h0M202.5 705.5h0M169.1 743.7h0M203.3 685.2h0M193.5 737.1h0M201 706.3h0M201 734.8h0M192 740.8h0M202 753.5h0M189.5 743.6h0M182.4 741.5h0M194.7 749.5h0M201 742.6h0M199.3 736.6h0M180.9 756.9h0M187.5 753.6h0M179.4 738.4h0M184.1 753.1h0M192.2 755.8h0M167.9 754.5h0M185.5 748.9h0M204.1 697.2h0M169.9 723.8h0M184.5 758.4h0M172.9 753.9h0M183.2 758h0M195.4 744.1h0M180.7 748h0M187.6 747.8h0M214 727.8h0M215.7 727.2h0M233.5 742.4h0M195.5 759h0M181.8 736.4h0M170.7 752.7h0M204.9 755.4h0M218.6 720.9h0M169.7 741.6h0M183.2 755.9h0M193.6 735.3h0M232.8 745.9h0M181.5 745.5h0M193.3 754h0M216.1 730.2h0M176.8 753.4h0M172.9 742.7h0M180.8 751.1h0M181.4 721.5h0M196.4 715.9h0M235.1 709.6h0M183 752h0M185.8 716.2h0M203.2 718.2h0M175 749.3h0M183.2 757.5h0M194.5 731.8h0M190.1 718.4h0M189.9 745.6h0M170.6 755.5h0M176.5 742.9h0M187.1 758h0M191.3 746.5h0M191.2 734.3h0M193.5 718.2h0M179.2 751.9h0M174.7 755.9h0M183 758.9h0M235.4 748.9h0M237.1 719.8h0M206.8 718.2h0M210 735h0M209.2 723.2h0M187 732.2h0M228.3 747.2h0M210.6 714.8h0M181.6 758.8h0M214.6 699.7h0M176.4 750.4h0M166.7 754.7h0M204.2 721.4h0M201.3 738.2h0M182.7 753.6h0M172.6 747.2h0M195.6 759.5h0M186.6 758.7h0M179.5 758.1h0M196.7 757.1h0M167.6 757.8h0M192.7 726.2h0M176.3 742.3h0M179.7 758.3h0M182.2 748.3h0M225.8 758.1h0M196.3 702.2h0M171.6 753h0M238.5 742.1h0M173.4 758.4h0M184.5 759.1h0M207.5 725h0M166.8 757.5h0M168.5 757.5h0M205.8 724.2h0M176.6 752.9h0M191.4 707.9h0M213.4 759.2h0M189.3 756.2h0M184.7 745.9h0M195.9 759.2h0M173.6 757.3h0M194.5 750.6h0M192.2 752.4h0M189.3 731.9h0M195.7 738.9h0M196.5 708.4h0M173.7 749.2h0M183.8 746.8h0M176.5 727.6h0M214.4 757.6h0M179 757.5h0M179.6 758.7h0M176.1 725.7h0M233.9 699.1h0M184.8 736.7h0M221.9 722.3h0M211.8 723.7h0M197.8 741.2h0M193.2 753.5h0M176.8 754.4h0M230.6 735.3h0M187.6 734.2h0M210 715.1h0M185.7 742.5h0M209.2 751.5h0M185.7 727.5h0M197.9 740.6h0M174.3 754.7h0M175.8 756.8h0M204.4 730.4h0M206.5 742.3h0M207.4 723.5h0M167.1 759h0M186.5 757.6h0M218.1 739.2h0M167.6 755.5h0M179.2 754.1h0M218.5 733.3h0M213.9 751.5h0M168.4 751.3h0M208.9 739.4h0M168.1 720.1h0M170.2 754h0M218 747.5h0M174.7 737.6h0M215.7 732.5h0M187.8 757.7h0M222.1 707.4h0M175.2 755.3h0M188 752.1h0M176.8 756.9h0M178.2 753.1h0M171.1 742.3h0M172.3 759h0M177.3 735.5h0M181.4 751h0M219.2 741.6h0M199.1 755.6h0M177.2 726.4h0M168.8 740.1h0M180.1 759.4h0M196.3 758.6h0M203 759.1h0M174.1 758h0M189.4 712h0M177.4 738.3h0M187.4 756.9h0M170.5 752.7h0M201.7 747.9h0M178.5 753.5h0M174.2 750.1h0M174.2 711.5h0M199.9 751.7h0M174.8 759.2h0M212.4 757.8h0M171.4 751.8h0M187.2 752.4h0M202.8 757.7h0M198.8 747.3h0M219.8 733.3h0M177.2 758.2h0M209.5 745.9h0M188.8 738.4h0M181.1 753.7h0M169 741.6h0M180.4 755.8h0M179.6 749.8h0M185.4 756.7h0M206.4 733.9h0M235.7 739.9h0M177.8 752.1h0M209.4 719h0M174.7 757.2h0M183.6 728.7h0M168.5 754.1h0M180.7 742.1h0M181.8 745.5h0M192.9 724.9h0M183 739.6h0M168.2 743.2h0M171.9 758.4h0M218.8 753.3h0M233.5 745.4h0M182.2 748h0M202.8 746.7h0M170.5 757.8h0M203.7 754h0M178.4 740h0M202.8 750.5h0M201.6 754.4h0M183 713.2h0M210.7 740h0M184.5 755.8h0M178.4 735h0M183.6 758.4h0M188.8 748.7h0M224.8 750.7h0M168.4 754.5h0M208.2 729.5h0M188.1 742h0M168.5 727.1h0M182.5 755.6h0M181.2 736.6h0M217.7 740h0M196.3 724.3h0M191.3 738.3h0M176.4 745.4h0M171.2 747.8h0M166.7 734.1h0M170.8 758h0M180.6 747.9h0M180.1 730.8h0M187 703h0M215.1 639.8h0M244.4 639.3h0M231.5 641.3h0M223.3 652.2h0M269.2 646.7h0M260.5 651h0M211.6 660.9h0M208.4 662.9h0M232.5 667.6h0M253.8 667.1h0M197.2 669.6h0M199 669h0M243.1 674.5h0M207.2 677.5h0M212 667h0M205 672h0M225 675.5h0M240 676h0M243 681h0M248 682h0M175 682h0M183 684h0M176 688h0M295.3 703.8h0M278.7 712.3h0M273.5 710.5h0M266.9 708.9h0M266.9 721.5h0M255.1 729.4h0M255.1 730.7h0M244.6 730.2h0M244.6 741.2h0M242 744.4h0M236.7 743.1h0M238 755.7h0M235.4 753.6h0M250 742h0M258 705h0M262 700h0M240 697h0M228 692h0M218 688h0M200 690h0M190 695h0M180 697h0M170 692h0M241.9 689h0M254.3 694.4h0M235.7 701.8h0M245.6 705.6h0M248.1 709.3h0M255.6 714.2h0M265.5 708h0M273 710.5h0M279.1 711.8h0M266.7 721.7h0M238 716h0M242 722h0M236 730h0M247 719h0M251 736h0M239 738h0M231 695h0M226 688h0M232 684h0M238 693h0M221 683h0M214 685h0M203 686h0M196 689h0M188 690h0M182 693h0M177 696h0M172 700h0M168 704h0M186 700h0M193 703h0M210 697h0M220 699h0M229 705h0M224 712h0M233 721h0" stroke="#2d4fa1" stroke-width="2.7" stroke-linecap="round" fill="none"/>
<line x1="42.7" y1="760.6" x2="307.1" y2="760.6" stroke="#3a3a3a" stroke-width="0.8"/>
<text x="67" y="659" font-size="6.8" textLength="18.6" lengthAdjust="spacingAndGlyphs" style="fill:#e2363b">TXNIP</text>
<text x="45.4" y="670" font-size="6.8" textLength="18.6" lengthAdjust="spacingAndGlyphs" style="fill:#e2363b">YPEL3</text>
<text x="45.4" y="682.4" font-size="6.8" textLength="16.6" lengthAdjust="spacingAndGlyphs" style="fill:#e2363b">GPX3</text>
<text x="76.4" y="674" font-size="6.8" textLength="22.4" lengthAdjust="spacingAndGlyphs" style="fill:#e2363b">SNHG7</text>
<text x="67.5" y="685" font-size="6.8" textLength="29.3" lengthAdjust="spacingAndGlyphs" style="fill:#e2363b">SELENOP</text>
<text x="104.2" y="678.9" font-size="6.8" textLength="17.8" lengthAdjust="spacingAndGlyphs" style="fill:#e2363b">ZFAS1</text>
<text x="129" y="686.8" font-size="6.8" textLength="25.4" lengthAdjust="spacingAndGlyphs" style="fill:#e2363b">MT-CO1</text>
<text x="85.6" y="695.5" font-size="6.8" textLength="17.4" lengthAdjust="spacingAndGlyphs" style="fill:#e2363b">GAS5</text>
<text x="109.2" y="697.5" font-size="6.8" textLength="21.1" lengthAdjust="spacingAndGlyphs" style="fill:#e2363b">TSPAN1</text>
<text x="146.4" y="696.3" font-size="6.8" textLength="18.6" lengthAdjust="spacingAndGlyphs" style="fill:#e2363b">RPL37</text>
<text x="51.6" y="704.2" font-size="6.8" textLength="27.4" lengthAdjust="spacingAndGlyphs" style="fill:#e2363b">PDZK1IP1</text>
<text x="128.6" y="706" font-size="6.8" textLength="12.9" lengthAdjust="spacingAndGlyphs" style="fill:#e2363b">B2M</text>
<text x="146.4" y="705.4" font-size="6.8" textLength="19.4" lengthAdjust="spacingAndGlyphs" style="fill:#e2363b">RPS27</text>
<text x="60" y="714.1" font-size="6.8" textLength="20.7" lengthAdjust="spacingAndGlyphs" style="fill:#e2363b">GABRP</text>
<text x="89.4" y="711.2" font-size="6.8" textLength="18.6" lengthAdjust="spacingAndGlyphs" style="fill:#e2363b">NEAT1</text>
<text x="145.4" y="716.1" font-size="6.8" textLength="13.6" lengthAdjust="spacingAndGlyphs" style="fill:#e2363b">BRI3</text>
<text x="88.3" y="723" font-size="6.8" textLength="23.6" lengthAdjust="spacingAndGlyphs" style="fill:#e2363b">MALAT1</text>
<text x="118.1" y="725.5" font-size="6.8" textLength="21.1" lengthAdjust="spacingAndGlyphs" style="fill:#e2363b">SLC4A2</text>
<text x="145.4" y="725.5" font-size="6.8" textLength="19.9" lengthAdjust="spacingAndGlyphs" style="fill:#e2363b">HLA-A</text>
<text x="99" y="734.7" font-size="6.8" textLength="17.9" lengthAdjust="spacingAndGlyphs" style="fill:#e2363b">GCC2</text>
<line x1="121.6" y1="700.5" x2="123.6" y2="708.5" stroke="#e2363b" stroke-width="0.5"/>
<line x1="131" y1="714" x2="144.5" y2="714.5" stroke="#e2363b" stroke-width="0.5"/>
<line x1="130" y1="714.5" x2="145" y2="722" stroke="#e2363b" stroke-width="0.5"/>
<line x1="129" y1="714" x2="116" y2="730" stroke="#e2363b" stroke-width="0.5"/>
<line x1="102" y1="722.3" x2="104" y2="722" stroke="#e2363b" stroke-width="0.5"/>
<text x="187.8" y="638.5" font-size="6.8" textLength="23.1" lengthAdjust="spacingAndGlyphs" style="fill:#3a58ad">GAPDH</text>
<text x="248.1" y="637.8" font-size="6.8" textLength="13.2" lengthAdjust="spacingAndGlyphs" style="fill:#3a58ad">PKM</text>
<text x="217.1" y="649.2" font-size="6.8" textLength="10.4" lengthAdjust="spacingAndGlyphs" style="fill:#3a58ad">MIF</text>
<text x="233.2" y="648.5" font-size="6.8" textLength="11.7" lengthAdjust="spacingAndGlyphs" style="fill:#3a58ad">TPI1</text>
<text x="269.2" y="643.5" font-size="6.8" textLength="16.9" lengthAdjust="spacingAndGlyphs" style="fill:#3a58ad">LDHA</text>
<text x="247.4" y="657.7" font-size="6.8" textLength="14.9" lengthAdjust="spacingAndGlyphs" style="fill:#3a58ad">KLK8</text>
<text x="186.8" y="656.7" font-size="6.8" textLength="23.3" lengthAdjust="spacingAndGlyphs" style="fill:#3a58ad">POLR2L</text>
<text x="157.8" y="665.1" font-size="6.8" textLength="23.3" lengthAdjust="spacingAndGlyphs" style="fill:#3a58ad">ATP5MF</text>
<text x="187.8" y="665.8" font-size="6.8" textLength="14.4" lengthAdjust="spacingAndGlyphs" style="fill:#3a58ad">PPA1</text>
<text x="215.1" y="665.1" font-size="6.8" textLength="11.9" lengthAdjust="spacingAndGlyphs" style="fill:#3a58ad">TXN</text>
<text x="230.7" y="664.1" font-size="6.8" textLength="20.6" lengthAdjust="spacingAndGlyphs" style="fill:#3a58ad">CALB2</text>
<text x="268" y="664.1" font-size="6.8" textLength="27.3" lengthAdjust="spacingAndGlyphs" style="fill:#3a58ad">ATP5MC1</text>
<text x="154.8" y="675.8" font-size="6.8" textLength="25.3" lengthAdjust="spacingAndGlyphs" style="fill:#3a58ad">ATP5F1E</text>
<text x="189.3" y="676.5" font-size="6.8" textLength="12.9" lengthAdjust="spacingAndGlyphs" style="fill:#3a58ad">PPIA</text>
<text x="256.8" y="673.3" font-size="6.8" textLength="18.6" lengthAdjust="spacingAndGlyphs" style="fill:#3a58ad">HSPE1</text>
<text x="209.6" y="681.5" font-size="6.8" textLength="17.9" lengthAdjust="spacingAndGlyphs" style="fill:#3a58ad">NME2</text>
<text x="234" y="682.5" font-size="6.8" textLength="16.6" lengthAdjust="spacingAndGlyphs" style="fill:#3a58ad">EIF5A</text>
<text x="256.8" y="684" font-size="6.8" textLength="19.4" lengthAdjust="spacingAndGlyphs" style="fill:#3a58ad">COTL1</text>
<text x="167.4" y="685.7" font-size="6.8" textLength="26.9" lengthAdjust="spacingAndGlyphs" style="fill:#3a58ad">CHCHD2</text>
<text x="199.7" y="691.9" font-size="6.8" textLength="33.5" lengthAdjust="spacingAndGlyphs" style="fill:#3a58ad">SH3BGRL3</text>
<line x1="183.6" y1="663.4" x2="208.4" y2="662.9" stroke="#2d4fa1" stroke-width="0.5"/>
<line x1="253.8" y1="667.1" x2="267.2" y2="662.6" stroke="#2d4fa1" stroke-width="0.5"/>
<line x1="184.8" y1="673.3" x2="197.2" y2="669.6" stroke="#2d4fa1" stroke-width="0.5"/>
<line x1="245" y1="674.5" x2="256" y2="672" stroke="#2d4fa1" stroke-width="0.5"/>
<line x1="194.7" y1="684" x2="207.2" y2="677.5" stroke="#2d4fa1" stroke-width="0.5"/>
<line x1="207" y1="670" x2="214" y2="678" stroke="#2d4fa1" stroke-width="0.5"/>
<line x1="218" y1="682" x2="214" y2="692" stroke="#2d4fa1" stroke-width="0.5"/>
<text x="329.8" y="551" font-size="13" font-weight="bold" style="fill:#000">g</text>
<text x="451.2" y="551.2" font-size="9.3" textLength="118.2" lengthAdjust="spacingAndGlyphs">CRC BRAF-V600E patients</text>
<text x="404.8" y="563.1" font-size="9.3" textLength="212" lengthAdjust="spacingAndGlyphs">treated with BRAFi, MEKi and PD-1i combination</text>
<text x="435.1" y="583.4" font-size="8.8" textLength="17.7" lengthAdjust="spacingAndGlyphs">CBE</text>
<line x1="364.6" y1="587.4" x2="364.6" y2="767.3" stroke="#8c8c8c" stroke-width="0.8"/>
<line x1="364.6" y1="767.3" x2="511.7" y2="767.3" stroke="#8c8c8c" stroke-width="0.8"/>
<line x1="361.9" y1="614.1" x2="364.6" y2="614.1" stroke="#8c8c8c" stroke-width="0.7"/>
<text x="359.2" y="616.9" font-size="7.9" text-anchor="end">0.1</text>
<line x1="361.9" y1="647.2" x2="364.6" y2="647.2" stroke="#8c8c8c" stroke-width="0.7"/>
<text x="359.2" y="650" font-size="7.9" text-anchor="end">0</text>
<line x1="361.9" y1="680.3" x2="364.6" y2="680.3" stroke="#8c8c8c" stroke-width="0.7"/>
<text x="359.2" y="683.1" font-size="7.9" text-anchor="end">−0.1</text>
<line x1="361.9" y1="713.4" x2="364.6" y2="713.4" stroke="#8c8c8c" stroke-width="0.7"/>
<text x="359.2" y="716.2" font-size="7.9" text-anchor="end">−0.2</text>
<line x1="361.9" y1="746.5" x2="364.6" y2="746.5" stroke="#8c8c8c" stroke-width="0.7"/>
<text x="359.2" y="749.3" font-size="7.9" text-anchor="end">−0.3</text>
<line x1="385.5" y1="767.3" x2="385.5" y2="770" stroke="#8c8c8c" stroke-width="0.7"/>
<line x1="420.7" y1="767.3" x2="420.7" y2="770" stroke="#8c8c8c" stroke-width="0.7"/>
<line x1="456" y1="767.3" x2="456" y2="770" stroke="#8c8c8c" stroke-width="0.7"/>
<line x1="491.5" y1="767.3" x2="491.5" y2="770" stroke="#8c8c8c" stroke-width="0.7"/>
<text x="337" y="677.3" font-size="9.8" text-anchor="middle" textLength="87.5" lengthAdjust="spacingAndGlyphs" transform="rotate(-90 337 677.3)">PFS outcome score</text>
<text x="384.8" y="602.4" font-size="7.5" textLength="11.7" lengthAdjust="spacingAndGlyphs" style="fill:#e8343a">***</text>
<text x="414" y="602.4" font-size="7.5" textLength="11.1" lengthAdjust="spacingAndGlyphs" style="fill:#e8343a">***</text>
<path d="M450.6 667.7h0M458.6 621.3h0M451.4 642.7h0M441.5 648.2h0M460.8 651h0M471.1 650.1h0M448.6 654.4h0M453.5 647.4h0M454.1 657.5h0M456.4 644.4h0M455.4 681.1h0M467.5 672.8h0M457.3 648.2h0M444.2 666.6h0M442.1 622.1h0M441.2 657.7h0M460.3 628.1h0M469.9 647.4h0M468.5 670.3h0M456.9 621.4h0M462.9 698.8h0M468.8 670.1h0M465.4 645.2h0M469.8 642h0M442.6 668.3h0M465.8 681.9h0M466.9 640.5h0M453.1 642.6h0M457.5 640.2h0M469.5 643.4h0M454.9 633.7h0M444.1 666.3h0M457.1 675.1h0M469.4 664.7h0M453 659.7h0M442.6 639.3h0M446.5 638.4h0M449.3 642.2h0M462.1 663.8h0M468.7 657.4h0M460.1 661.9h0M465.8 652.5h0M451.2 666.9h0M467.8 633.3h0M457.9 633.1h0M463.3 662.9h0M446.8 664.4h0M464.5 666.3h0M465.8 637h0M452.7 672.2h0M459.7 676.8h0M448.6 646.6h0M462.2 658.8h0M458.4 642.7h0M462.3 654.8h0M471.2 658.8h0M469.8 645h0M455.3 652h0M462.8 652.5h0M451.5 658.7h0M467.1 664.4h0M446.7 653.9h0M466.2 643.8h0M460.8 663.3h0M467.9 656.1h0M442.2 659.9h0M442.3 678.8h0M456.5 664.4h0M464.5 632h0M447.2 661.1h0M442 645h0M469 638.8h0M445.2 637.9h0M458.7 641h0M456 660.7h0M444.2 679h0M460.8 654.9h0M463.3 642.6h0M441.5 635.9h0M446.7 648.3h0M462.2 688h0M447.5 653.4h0M448 662.5h0M467 636.6h0M446.9 625.4h0M449.9 663h0M455.5 651.8h0M464.4 620.2h0M458.3 662.1h0M451.3 672.6h0M457.5 667.9h0M460.4 649.9h0M470.5 640.9h0M451.9 682.6h0M459.6 654.1h0M462.4 669.3h0M448.2 656.3h0M469.3 667.4h0M455.3 664.4h0M455.5 628.5h0M443.6 658h0M470.1 634.6h0M455 647h0M465.3 644.7h0M463.8 667h0M441.8 664h0M459.8 652.9h0M462.6 636h0M447.1 644.9h0M449.2 654.9h0M459.3 676.1h0M457.2 637.4h0M446.8 667.7h0M460.9 672.2h0M452.6 664.9h0M466.5 662.2h0M451.1 657.5h0M450.9 626.6h0M443.5 669.5h0M447.2 693.4h0M449.4 643.1h0M451.6 689.3h0M449.9 678h0M459.5 640.1h0M469.3 655.6h0M471.3 637.1h0M465.3 657h0M460.6 617.9h0M453 657.7h0M459.8 642.3h0M462.4 642.6h0M471.7 638.1h0M470 640.2h0M468.6 641.1h0M470.7 647h0M444.3 658.6h0M441.7 667.1h0M460 684.6h0M467.3 661.7h0M465.5 644.4h0M457.6 634.8h0M462.9 662h0M451.2 667.8h0M463.6 678.2h0M466.5 641.4h0M469.3 663.2h0M446.9 643.6h0M464.6 686.8h0M454.8 646.7h0M470.8 682.6h0M465.2 631.7h0M441.7 666.8h0M454.7 662h0M468 636.7h0M458.7 678.9h0M455.5 648.7h0M468.2 659.6h0M449 655.9h0M447.2 642.9h0M471.7 652.2h0M450.7 689.6h0M464.2 673.4h0M454.8 647h0M469.6 658.2h0M469.1 648.2h0M465.6 722h0" stroke="#cfcfcf" stroke-width="2.6" stroke-linecap="round" fill="none"/>
<line x1="455.9" y1="603.2" x2="455.9" y2="640.9" stroke="#cfcfcf" stroke-width="0.9"/>
<line x1="455.9" y1="670.6" x2="455.9" y2="695.9" stroke="#cfcfcf" stroke-width="0.9"/>
<rect x="441.8" y="640.9" width="28.2" height="29.7" fill="none" stroke="#cfcfcf" stroke-width="0.9"/>
<line x1="441.8" y1="654.3" x2="470" y2="654.3" stroke="#cfcfcf" stroke-width="1.2"/>
<path d="M486.7 629.1h0M499.4 661.5h0M501 671.3h0M501.7 642.8h0M505.4 662.6h0M485.1 674.6h0M485.3 630.2h0M498.9 637.9h0M477.1 635.3h0M482.9 634.7h0M497.1 653.5h0M477.3 643.1h0M483.9 637.6h0M478.5 646.5h0M476.4 651.9h0M506.6 636.4h0M486.4 632.7h0M484.2 619.4h0M497.5 642.7h0M479.9 616h0M483.3 630.7h0M490.9 648.8h0M504.8 680.1h0M500 653.3h0M495.7 644.6h0M489 637h0M498.3 618.5h0M491.3 651h0M486.1 620.8h0M484.1 656.2h0M493.2 637.3h0M485.7 619.4h0M483 662.2h0M494.5 616h0M501.6 652.1h0M496.6 649.9h0M498.4 687.2h0M486.1 646.9h0M504.1 688.4h0M504.4 638.2h0M502 678.3h0M495.3 627.6h0M476.7 674.7h0M505.1 646.2h0M500 616h0M501 640.1h0" stroke="#111111" stroke-width="2.7" stroke-linecap="round" fill="none"/>
<line x1="491.2" y1="615.7" x2="491.2" y2="631.4" stroke="#111111" stroke-width="1.0"/>
<line x1="491.2" y1="659.3" x2="491.2" y2="694.4" stroke="#111111" stroke-width="1.0"/>
<rect x="477.5" y="631.4" width="27.4" height="27.9" fill="none" stroke="#111111" stroke-width="1.0"/>
<line x1="477.5" y1="649" x2="504.9" y2="649" stroke="#111111" stroke-width="1.6"/>
<line x1="385.4" y1="692.3" x2="385.4" y2="700.4" stroke="#2e3192" stroke-width="0.9"/>
<line x1="385.4" y1="722" x2="385.4" y2="728.6" stroke="#2e3192" stroke-width="0.9"/>
<rect x="372" y="700.4" width="26.8" height="21.6" fill="none" stroke="#2e3192" stroke-width="0.9"/>
<line x1="372" y1="711.4" x2="398.8" y2="711.4" stroke="#2e3192" stroke-width="1.6"/>
<path d="M379.4 654.3h0M386 692.3h0M386.9 707.8h0M380.9 711.6h0M376.5 714.6h0M372.6 729.2h0M375.9 760.1h0" stroke="#26307f" stroke-width="2.7" stroke-linecap="round" fill="none"/>
<line x1="420.8" y1="676.6" x2="420.8" y2="688.5" stroke="#f5a623" stroke-width="0.9"/>
<line x1="420.8" y1="699.5" x2="420.8" y2="699.5" stroke="#f5a623" stroke-width="0.9"/>
<rect x="407.1" y="688.5" width="27.3" height="11" fill="none" stroke="#f5a623" stroke-width="0.9"/>
<line x1="407.1" y1="698.3" x2="434.4" y2="698.3" stroke="#f5a623" stroke-width="1.4"/>
<path d="M421 659.3h0M430.5 676.6h0M424.6 692h0M430 696.5h0M414.5 699.8h0M409.7 730.1h0" stroke="#f5a623" stroke-width="2.7" stroke-linecap="round" fill="none"/>
<text x="389.9" y="778.5" font-size="9.6" text-anchor="end" textLength="45" lengthAdjust="spacingAndGlyphs" transform="rotate(-45 389.9 778.5)">Canonical</text>
<text x="425.1" y="778.5" font-size="9.6" text-anchor="end" textLength="26" lengthAdjust="spacingAndGlyphs" transform="rotate(-45 425.1 778.5)">Driver</text>
<text x="460.4" y="778.5" font-size="9.6" text-anchor="end" textLength="39" lengthAdjust="spacingAndGlyphs" transform="rotate(-45 460.4 778.5)">Controls</text>
<text x="495.9" y="778.5" font-size="9.6" text-anchor="end" textLength="11.5" lengthAdjust="spacingAndGlyphs" transform="rotate(-45 495.9 778.5)">NT</text>
<text x="594.1" y="583.4" font-size="8.8" textLength="16.8" lengthAdjust="spacingAndGlyphs">ABE</text>
<line x1="530.3" y1="588.5" x2="530.3" y2="767.1" stroke="#8c8c8c" stroke-width="0.8"/>
<line x1="530.3" y1="767.1" x2="678.5" y2="767.1" stroke="#8c8c8c" stroke-width="0.8"/>
<line x1="527.6" y1="638.9" x2="530.3" y2="638.9" stroke="#8c8c8c" stroke-width="0.7"/>
<text x="524.7" y="641.7" font-size="7.9" text-anchor="end">0</text>
<line x1="527.6" y1="693.5" x2="530.3" y2="693.5" stroke="#8c8c8c" stroke-width="0.7"/>
<text x="524.7" y="696.3" font-size="7.9" text-anchor="end">−0.2</text>
<line x1="527.6" y1="748.2" x2="530.3" y2="748.2" stroke="#8c8c8c" stroke-width="0.7"/>
<text x="524.7" y="751" font-size="7.9" text-anchor="end">−0.4</text>
<line x1="551" y1="767.1" x2="551" y2="769.8" stroke="#8c8c8c" stroke-width="0.7"/>
<line x1="586.5" y1="767.1" x2="586.5" y2="769.8" stroke="#8c8c8c" stroke-width="0.7"/>
<line x1="622" y1="767.1" x2="622" y2="769.8" stroke="#8c8c8c" stroke-width="0.7"/>
<line x1="657.5" y1="767.1" x2="657.5" y2="769.8" stroke="#8c8c8c" stroke-width="0.7"/>
<text x="549.4" y="602.5" font-size="7.5" textLength="11.4" lengthAdjust="spacingAndGlyphs" style="fill:#e8343a">***</text>
<text x="580.9" y="602.5" font-size="7.5" textLength="11.1" lengthAdjust="spacingAndGlyphs" style="fill:#e8343a">***</text>
<path d="M632.8 665h0M631.2 635.7h0M615.7 682.9h0M603.8 672.3h0M628.9 644h0M625.2 613.9h0M605.1 633.9h0M626.6 643.3h0M624.5 662.8h0M617.4 680.5h0M636.6 652.2h0M625.1 646h0M624.7 655.9h0M610.4 620.5h0M636.1 634.8h0M630.4 655.6h0M637.8 657h0M635.3 677.6h0M626.3 646.6h0M639.1 650.8h0M631.4 647.6h0M625 676.3h0M628.8 661.2h0M617.3 634.5h0M609 618.6h0M619.5 690.8h0M610 646.4h0M622.2 652h0M623.6 660.8h0M638.2 613.8h0M613.6 664.9h0M615.9 663.5h0M631.5 611.9h0M603.2 658.1h0M605.7 632.2h0M609.4 672h0M618.9 668h0M637.5 670.4h0M621.6 686.6h0M618.1 632.7h0M635.9 678.5h0M623 670.2h0M622.4 636h0M611.6 652.8h0M624.6 655.4h0M610.1 678.3h0M612.2 661.8h0M614.7 634.5h0M605.6 632.8h0M626.9 677.8h0M631.2 616.9h0M619.4 666.4h0M635.3 650.9h0M633.4 669.9h0M611 648.3h0M613 678.9h0M634.7 674.4h0M639.4 687.4h0M639.7 658.3h0M612.3 650.1h0M623.4 699.4h0M610.5 646.4h0M633.5 632.5h0M627.1 629.5h0M613.3 641.5h0M618.7 634.9h0M621.2 668.2h0M611.5 648.3h0M629.6 630h0M625.5 639.3h0M637.9 629.2h0M617.7 623.4h0M638.7 637h0M628 619.8h0M613.2 623.6h0M634.5 647.3h0M634.8 645.1h0M608.6 634.1h0M607.3 642h0M637.9 659.5h0M639.3 620.5h0M622 654.8h0M633.1 634.1h0M613.1 664.5h0M604.8 643.5h0M615 688.2h0M636.6 644.4h0M607 634h0M606.3 642.5h0M616.9 653.9h0M620.4 627.1h0M612.4 613.5h0M611.5 627.7h0M619.7 648.1h0M632 661.7h0M624.9 649.2h0M639.3 658.7h0M636.3 670.4h0M626.7 678.3h0M607.6 644.4h0M619 636.6h0M634.6 618.5h0M630.5 680.6h0M633.7 644.3h0M611.5 682.4h0M635.9 647.2h0M603.9 676.7h0M619 645.4h0M611.4 640.9h0M624.9 652.7h0M638.2 638.3h0M618.1 668h0M635.9 634.9h0M638.8 628.5h0M630 650.1h0M618 673.8h0M635.8 626.7h0M631.9 631.1h0M615.5 607.6h0M635.1 643.8h0M634.6 680.1h0M621.9 677.1h0M617.5 628.2h0M633.5 635.2h0M632.3 658.3h0M639.6 614.3h0M636.2 632h0M619.4 666.3h0M634.9 651.7h0M612.6 630.1h0M635.1 653.5h0M607.8 675.8h0M605.1 660.5h0M613.3 653.3h0M629.3 635h0M638.1 688.4h0M616.5 665.6h0M613.2 635h0M638.8 649h0M635.4 642.5h0M612.6 669.1h0M607.9 666.3h0M626.7 667.6h0M632.9 646.2h0M609 636.5h0M610.1 638.8h0M639.9 644.6h0M636.2 634.4h0M621.2 630.8h0M604.7 655h0M604.9 624.5h0M631 664.2h0M606.7 648h0M628.2 652.6h0M636.9 628.7h0M617.8 669.7h0M626 609.2h0M631.5 646.9h0M603.9 655.7h0M607.9 676.5h0M634.2 614.3h0M610.9 654.1h0M636.8 645.7h0M612 624.3h0M605.6 640.4h0M608 712h0M611 718h0M618 704h0M630 715h0M636 708h0M622 742.3h0M613 725h0" stroke="#cfcfcf" stroke-width="2.6" stroke-linecap="round" fill="none"/>
<line x1="622" y1="596.3" x2="622" y2="634.9" stroke="#cfcfcf" stroke-width="0.9"/>
<line x1="622" y1="661.7" x2="622" y2="700.3" stroke="#cfcfcf" stroke-width="0.9"/>
<rect x="608.1" y="634.9" width="27.8" height="26.8" fill="none" stroke="#cfcfcf" stroke-width="0.9"/>
<line x1="608.1" y1="647.2" x2="635.9" y2="647.2" stroke="#cfcfcf" stroke-width="1.2"/>
<path d="M648.9 665.2h0M658.5 617.6h0M646.2 650h0M667.1 654.9h0M658.1 642.5h0M673.9 621.5h0M659.2 605h0M643.1 652.6h0M662.3 656.8h0M650 644.2h0M662.2 641.3h0M666.1 638.3h0M663.4 629.8h0M645.1 643.1h0M649.8 661.4h0M674.3 668.4h0M661.7 628.9h0M643.8 628.3h0M656.9 625h0M647.3 634.8h0M674.2 641.5h0M674.4 636.1h0M643.6 646.9h0M665.2 609.9h0M661.1 632.6h0M663.3 633.6h0M671.5 637.6h0M669.4 637.9h0M646.3 644.7h0M672.7 639.8h0M656.1 658.2h0M644.7 648.5h0M642 636.5h0M668.5 631.9h0M658.9 625.5h0M670 629h0M662.3 649h0M649 650.2h0M668.7 629.7h0M665.7 650.2h0M650.6 640.2h0M657 618.1h0M647.8 619.1h0M659.1 658.6h0" stroke="#111111" stroke-width="2.7" stroke-linecap="round" fill="none"/>
<line x1="657.5" y1="602.4" x2="657.5" y2="629.3" stroke="#111111" stroke-width="1.0"/>
<line x1="657.5" y1="648.8" x2="657.5" y2="675.6" stroke="#111111" stroke-width="1.0"/>
<rect x="643.6" y="629.3" width="27.8" height="19.5" fill="none" stroke="#111111" stroke-width="1.0"/>
<line x1="643.6" y1="638.6" x2="671.4" y2="638.6" stroke="#111111" stroke-width="1.6"/>
<line x1="551" y1="709" x2="551" y2="722.3" stroke="#9b1c1f" stroke-width="0.9"/>
<line x1="551" y1="745.1" x2="551" y2="759" stroke="#9b1c1f" stroke-width="0.9"/>
<rect x="537.7" y="722.3" width="26.5" height="22.8" fill="none" stroke="#9b1c1f" stroke-width="0.9"/>
<line x1="537.7" y1="732.1" x2="564.2" y2="732.1" stroke="#9b1c1f" stroke-width="1.4"/>
<path d="M553.1 670.4h0M560.2 708.4h0M538 718.2h0M553.1 725.3h0M549.4 728.1h0M540.8 732.1h0M555 735.2h0M561.1 736.2h0M563.3 754.4h0M540.8 759.3h0M549.4 759.3h0" stroke="#9b1c1f" stroke-width="2.7" stroke-linecap="round" fill="none"/>
<line x1="586.8" y1="661.1" x2="586.8" y2="692.6" stroke="#2e3192" stroke-width="0.9"/>
<line x1="586.8" y1="713.6" x2="586.8" y2="722.9" stroke="#2e3192" stroke-width="0.9"/>
<rect x="573.2" y="692.6" width="27.2" height="21" fill="none" stroke="#2e3192" stroke-width="0.9"/>
<line x1="573.2" y1="701.9" x2="600.4" y2="701.9" stroke="#2e3192" stroke-width="1.5"/>
<path d="M588.6 661.7h0M589.6 683.3h0M582.5 696h0M589.6 696.6h0M598.8 705.9h0M598.8 712.1h0M589.6 718.2h0M579.7 723.5h0" stroke="#26307f" stroke-width="2.7" stroke-linecap="round" fill="none"/>
<text x="555.4" y="778.3" font-size="9.6" text-anchor="end" textLength="67" lengthAdjust="spacingAndGlyphs" transform="rotate(-45 555.4 778.3)">Drug addiction</text>
<text x="590.9" y="778.3" font-size="9.6" text-anchor="end" textLength="45" lengthAdjust="spacingAndGlyphs" transform="rotate(-45 590.9 778.3)">Canonical</text>
<text x="626.4" y="778.3" font-size="9.6" text-anchor="end" textLength="39" lengthAdjust="spacingAndGlyphs" transform="rotate(-45 626.4 778.3)">Controls</text>
<text x="661.9" y="778.3" font-size="9.6" text-anchor="end" textLength="11.5" lengthAdjust="spacingAndGlyphs" transform="rotate(-45 661.9 778.3)">NT</text>
</svg></body></html>
